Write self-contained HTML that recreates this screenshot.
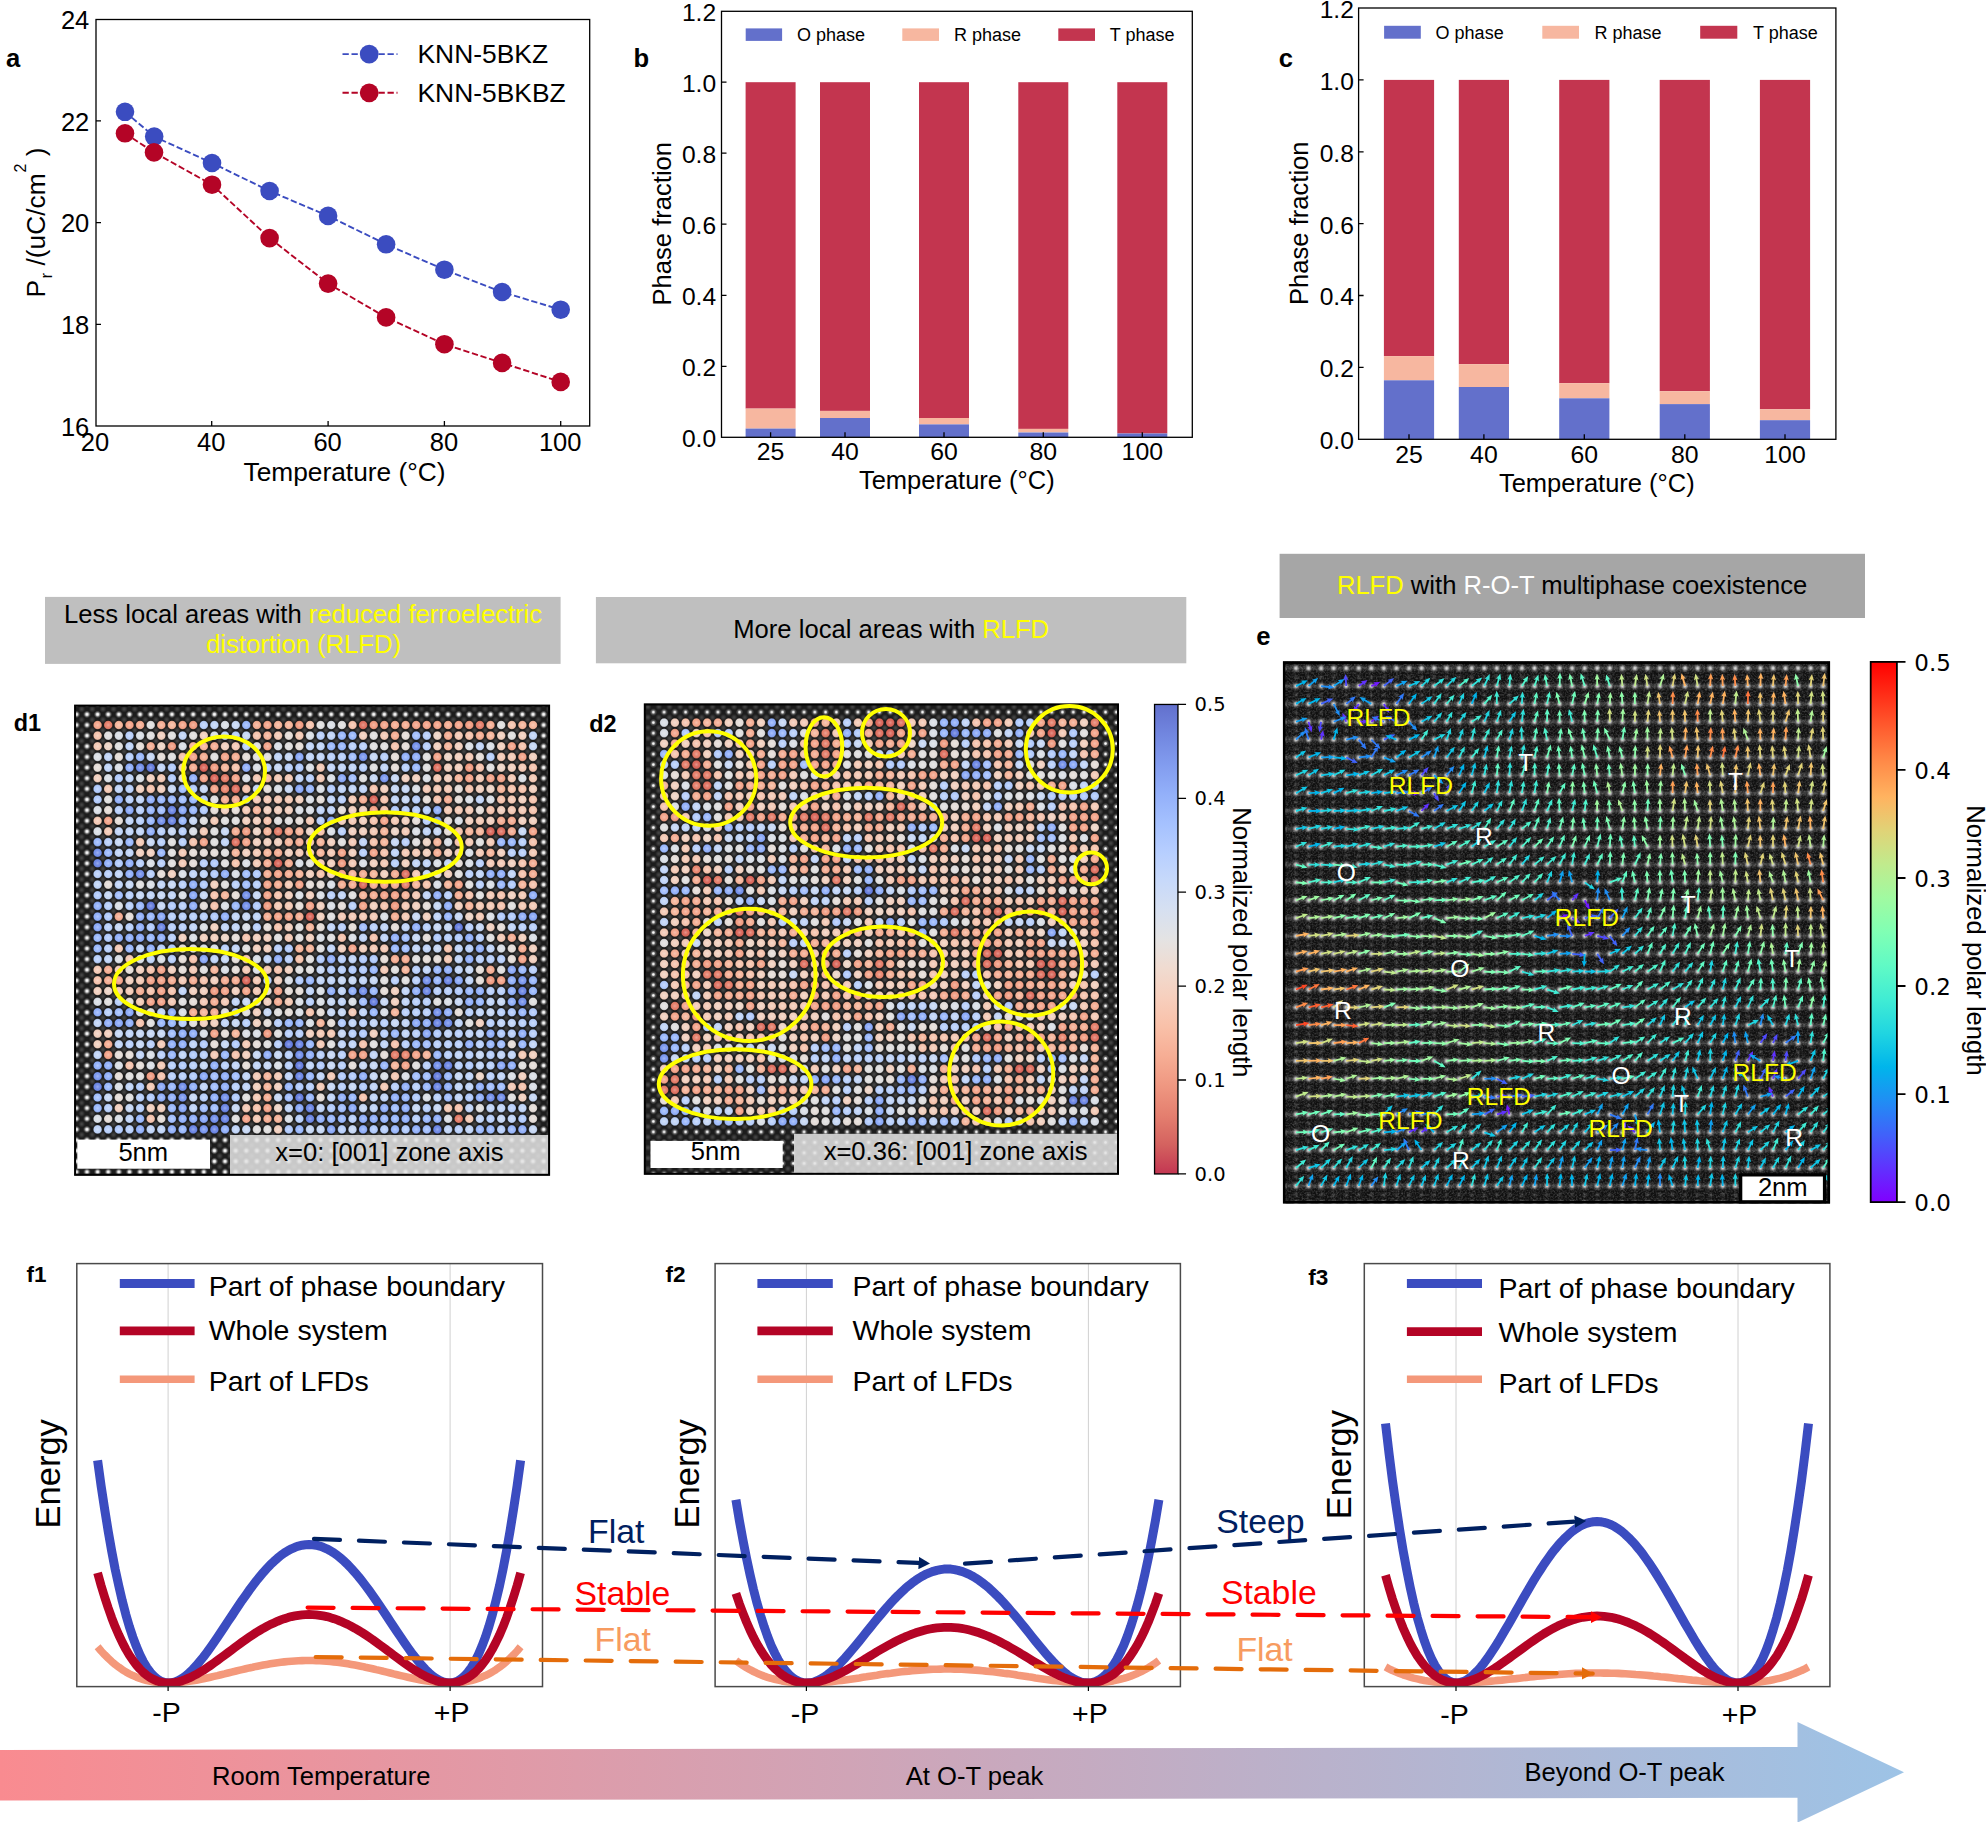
<!DOCTYPE html>
<html><head><meta charset="utf-8"><title>Figure</title>
<style>html,body{margin:0;padding:0;background:#fff}svg{display:block}text{font-family:"Liberation Sans", sans-serif;}</style></head>
<body><svg width="1986" height="1822" viewBox="0 0 1986 1822">
<rect width="1986" height="1822" fill="#fff"/>
<rect x="96.0" y="19.5" width="493.7" height="406.5" fill="none" stroke="#000" stroke-width="1.3"/>
<path d="M211.7 426.0v-5M328.1 426.0v-5M444.4 426.0v-5M560.7 426.0v-5M96.0 324.3h5M96.0 222.6h5M96.0 120.9h5" stroke="#000" stroke-width="1.3" fill="none"/>
<text x="94.9" y="450.5" font-size="25.5" text-anchor="middle">20</text>
<text x="211.2" y="450.5" font-size="25.5" text-anchor="middle">40</text>
<text x="327.6" y="450.5" font-size="25.5" text-anchor="middle">60</text>
<text x="443.9" y="450.5" font-size="25.5" text-anchor="middle">80</text>
<text x="560.2" y="450.5" font-size="25.5" text-anchor="middle">100</text>
<text x="89.3" y="435.7" font-size="25.5" text-anchor="end">16</text>
<text x="89.3" y="334.0" font-size="25.5" text-anchor="end">18</text>
<text x="89.3" y="232.3" font-size="25.5" text-anchor="end">20</text>
<text x="89.3" y="130.6" font-size="25.5" text-anchor="end">22</text>
<text x="89.3" y="28.9" font-size="25.5" text-anchor="end">24</text>
<path d="M125.0 111.8L154.2 136.6L212.0 163.0L269.6 191.0L328.1 215.9L386.1 244.3L444.4 269.7L502.1 292.0L560.7 309.7" stroke="#3b4cc0" stroke-width="1.9" stroke-dasharray="6.3 2.7" fill="none"/>
<circle cx="125.0" cy="111.8" r="9.3" fill="#3b4cc0"/>
<circle cx="154.2" cy="136.6" r="9.3" fill="#3b4cc0"/>
<circle cx="212.0" cy="163.0" r="9.3" fill="#3b4cc0"/>
<circle cx="269.6" cy="191.0" r="9.3" fill="#3b4cc0"/>
<circle cx="328.1" cy="215.9" r="9.3" fill="#3b4cc0"/>
<circle cx="386.1" cy="244.3" r="9.3" fill="#3b4cc0"/>
<circle cx="444.4" cy="269.7" r="9.3" fill="#3b4cc0"/>
<circle cx="502.1" cy="292.0" r="9.3" fill="#3b4cc0"/>
<circle cx="560.7" cy="309.7" r="9.3" fill="#3b4cc0"/>
<path d="M125.0 133.3L154.0 152.4L212.0 184.7L269.6 238.1L328.1 283.6L386.1 317.4L444.4 344.2L502.1 362.9L560.7 381.9" stroke="#b40426" stroke-width="1.9" stroke-dasharray="6.3 2.7" fill="none"/>
<circle cx="125.0" cy="133.3" r="9.3" fill="#b40426"/>
<circle cx="154.0" cy="152.4" r="9.3" fill="#b40426"/>
<circle cx="212.0" cy="184.7" r="9.3" fill="#b40426"/>
<circle cx="269.6" cy="238.1" r="9.3" fill="#b40426"/>
<circle cx="328.1" cy="283.6" r="9.3" fill="#b40426"/>
<circle cx="386.1" cy="317.4" r="9.3" fill="#b40426"/>
<circle cx="444.4" cy="344.2" r="9.3" fill="#b40426"/>
<circle cx="502.1" cy="362.9" r="9.3" fill="#b40426"/>
<circle cx="560.7" cy="381.9" r="9.3" fill="#b40426"/>
<path d="M342.5 54.1H397.5" stroke="#3b4cc0" stroke-width="1.9" stroke-dasharray="6.3 2.7"/>
<circle cx="369.2" cy="54.1" r="9.4" fill="#3b4cc0"/>
<text x="417.5" y="63.2" font-size="26.4">KNN-5BKZ</text>
<path d="M342.5 92.8H397.5" stroke="#b40426" stroke-width="1.9" stroke-dasharray="6.3 2.7"/>
<circle cx="369.2" cy="92.8" r="9.4" fill="#b40426"/>
<text x="417.5" y="101.9" font-size="26.4">KNN-5BKBZ</text>
<text x="344.5" y="480.8" font-size="26.3" text-anchor="middle">Temperature (°C)</text>
<text transform="translate(45.3 222.5) rotate(-90)" text-anchor="middle" font-size="26.3">P<tspan font-size="17" dy="7" dx="1.5">r</tspan><tspan dy="-7"> /(uC/cm</tspan><tspan font-size="16" dy="-19" dx="1">2</tspan><tspan dy="19"> )</tspan></text>
<text x="6.0" y="66.7" font-size="25.6" font-weight="bold">a</text>
<rect x="745.6" y="82.2" width="50" height="326.4" fill="#c3354f"/>
<rect x="745.6" y="408.6" width="50" height="20.0" fill="#f7b7a0"/>
<rect x="745.6" y="428.6" width="50" height="8.7" fill="#6370cb"/>
<rect x="820.0" y="82.2" width="50" height="328.7" fill="#c3354f"/>
<rect x="820.0" y="410.9" width="50" height="7.1" fill="#f7b7a0"/>
<rect x="820.0" y="418.0" width="50" height="19.3" fill="#6370cb"/>
<rect x="919.0" y="82.2" width="50" height="335.8" fill="#c3354f"/>
<rect x="919.0" y="418.0" width="50" height="6.4" fill="#f7b7a0"/>
<rect x="919.0" y="424.4" width="50" height="12.9" fill="#6370cb"/>
<rect x="1018.3" y="82.2" width="50" height="346.7" fill="#c3354f"/>
<rect x="1018.3" y="428.9" width="50" height="3.5" fill="#f7b7a0"/>
<rect x="1018.3" y="432.5" width="50" height="4.8" fill="#6370cb"/>
<rect x="1117.3" y="82.2" width="50" height="351.3" fill="#c3354f"/>
<rect x="1117.3" y="433.5" width="50" height="3.8" fill="#6370cb"/>
<rect x="721.5" y="11.3" width="470.8" height="426.0" fill="none" stroke="#000" stroke-width="1.3"/>
<path d="M770.6 437.3v-5M845.0 437.3v-5M944.0 437.3v-5M1043.3 437.3v-5M1142.3 437.3v-5M721.5 366.3h5M721.5 295.3h5M721.5 224.2h5M721.5 153.2h5M721.5 82.2h5" stroke="#000" stroke-width="1.3" fill="none"/>
<text x="770.6" y="460.2" font-size="24.8" text-anchor="middle">25</text>
<text x="845.0" y="460.2" font-size="24.8" text-anchor="middle">40</text>
<text x="944.0" y="460.2" font-size="24.8" text-anchor="middle">60</text>
<text x="1043.3" y="460.2" font-size="24.8" text-anchor="middle">80</text>
<text x="1142.3" y="460.2" font-size="24.8" text-anchor="middle">100</text>
<text x="716.1" y="447.1" font-size="24.6" text-anchor="end">0.0</text>
<text x="716.1" y="376.1" font-size="24.6" text-anchor="end">0.2</text>
<text x="716.1" y="305.1" font-size="24.6" text-anchor="end">0.4</text>
<text x="716.1" y="234.0" font-size="24.6" text-anchor="end">0.6</text>
<text x="716.1" y="163.0" font-size="24.6" text-anchor="end">0.8</text>
<text x="716.1" y="92.0" font-size="24.6" text-anchor="end">1.0</text>
<text x="716.1" y="21.0" font-size="24.6" text-anchor="end">1.2</text>
<rect x="745.7" y="28.4" width="36.4" height="12.5" fill="#6370cb"/>
<text x="796.9" y="41.2" font-size="18">O phase</text>
<rect x="902.3" y="28.4" width="36.7" height="12.5" fill="#f7b7a0"/>
<text x="953.9" y="41.2" font-size="18">R phase</text>
<rect x="1058.3" y="28.4" width="36.7" height="12.5" fill="#c3354f"/>
<text x="1109.8" y="41.2" font-size="18">T phase</text>
<text x="956.8" y="489.2" font-size="25.5" text-anchor="middle">Temperature (°C)</text>
<text x="671.2" y="223.7" font-size="25.6" text-anchor="middle" transform="rotate(-90 671.2 223.7)">Phase fraction</text>
<text x="633.5" y="66.7" font-size="25.6" font-weight="bold">b</text>
<rect x="1383.9" y="79.9" width="50.2" height="276.2" fill="#c3354f"/>
<rect x="1383.9" y="356.1" width="50.2" height="24.2" fill="#f7b7a0"/>
<rect x="1383.9" y="380.3" width="50.2" height="59.0" fill="#6370cb"/>
<rect x="1458.8" y="79.9" width="50.2" height="284.3" fill="#c3354f"/>
<rect x="1458.8" y="364.2" width="50.2" height="22.9" fill="#f7b7a0"/>
<rect x="1458.8" y="387.0" width="50.2" height="52.3" fill="#6370cb"/>
<rect x="1559.2" y="79.9" width="50.2" height="303.3" fill="#c3354f"/>
<rect x="1559.2" y="383.2" width="50.2" height="15.1" fill="#f7b7a0"/>
<rect x="1559.2" y="398.3" width="50.2" height="41.0" fill="#6370cb"/>
<rect x="1659.7" y="79.9" width="50.2" height="311.3" fill="#c3354f"/>
<rect x="1659.7" y="391.2" width="50.2" height="12.9" fill="#f7b7a0"/>
<rect x="1659.7" y="404.1" width="50.2" height="35.2" fill="#6370cb"/>
<rect x="1759.9" y="79.9" width="50.2" height="329.4" fill="#c3354f"/>
<rect x="1759.9" y="409.3" width="50.2" height="11.0" fill="#f7b7a0"/>
<rect x="1759.9" y="420.2" width="50.2" height="19.1" fill="#6370cb"/>
<rect x="1358.6" y="8.0" width="477.3" height="431.3" fill="none" stroke="#000" stroke-width="1.3"/>
<path d="M1409.0 439.3v-5M1483.9 439.3v-5M1584.3 439.3v-5M1684.8 439.3v-5M1785.0 439.3v-5M1358.6 367.4h5M1358.6 295.5h5M1358.6 223.7h5M1358.6 151.8h5M1358.6 79.9h5" stroke="#000" stroke-width="1.3" fill="none"/>
<text x="1409.0" y="462.5" font-size="24.8" text-anchor="middle">25</text>
<text x="1483.9" y="462.5" font-size="24.8" text-anchor="middle">40</text>
<text x="1584.3" y="462.5" font-size="24.8" text-anchor="middle">60</text>
<text x="1684.8" y="462.5" font-size="24.8" text-anchor="middle">80</text>
<text x="1785.0" y="462.5" font-size="24.8" text-anchor="middle">100</text>
<text x="1353.9" y="449.1" font-size="24.6" text-anchor="end">0.0</text>
<text x="1353.9" y="377.2" font-size="24.6" text-anchor="end">0.2</text>
<text x="1353.9" y="305.3" font-size="24.6" text-anchor="end">0.4</text>
<text x="1353.9" y="233.5" font-size="24.6" text-anchor="end">0.6</text>
<text x="1353.9" y="161.6" font-size="24.6" text-anchor="end">0.8</text>
<text x="1353.9" y="89.7" font-size="24.6" text-anchor="end">1.0</text>
<text x="1353.9" y="17.8" font-size="24.6" text-anchor="end">1.2</text>
<rect x="1384.1" y="25.8" width="36.7" height="12.9" fill="#6370cb"/>
<text x="1435.6" y="38.9" font-size="18">O phase</text>
<rect x="1542.3" y="25.8" width="36.7" height="12.9" fill="#f7b7a0"/>
<text x="1594.5" y="38.9" font-size="18">R phase</text>
<rect x="1700.2" y="25.8" width="37.1" height="12.9" fill="#c3354f"/>
<text x="1753.0" y="38.9" font-size="18">T phase</text>
<text x="1596.8" y="492.1" font-size="25.5" text-anchor="middle">Temperature (°C)</text>
<text x="1308.2" y="223.2" font-size="25.6" text-anchor="middle" transform="rotate(-90 1308.2 223.2)">Phase fraction</text>
<text x="1278.7" y="66.7" font-size="25.6" font-weight="bold">c</text>
<rect x="45" y="596.9" width="515.6" height="67" fill="#bfbfbf"/>
<text x="303.1" y="623.2" font-size="25.6" text-anchor="middle">Less local areas with <tspan fill="#ffff00">reduced ferroelectric</tspan></text>
<text x="303.5" y="652.6" font-size="25.6" text-anchor="middle" fill="#ffff00">distortion (RLFD)</text>
<rect x="595.9" y="597" width="590.4" height="66.3" fill="#bfbfbf"/>
<text x="891.2" y="638.3" font-size="25.6" text-anchor="middle">More local areas with <tspan fill="#ffff00">RLFD</tspan></text>
<rect x="1279.6" y="553.8" width="585.4" height="64.2" fill="#a6a6a6"/>
<text x="1572.1" y="593.8" font-size="25.6" text-anchor="middle"><tspan fill="#ffff00">RLFD</tspan> with <tspan fill="#fff">R-O-T</tspan> multiphase coexistence</text>
<text x="13.8" y="731.4" font-size="23.4" font-weight="bold">d1</text>
<text x="589.3" y="732.0" font-size="23.4" font-weight="bold">d2</text>
<text x="1256.2" y="645.0" font-size="25.6" font-weight="bold">e</text>
<path d="M168.1 1263.6V1686.6M450.1 1263.6V1686.6" stroke="#d0d0d0" stroke-width="1"/>
<clipPath id="clf1"><rect x="76.8" y="1263.6" width="465.7" height="423.0"/></clipPath>
<path d="M119.8 1283.4H194.6" stroke="#3b4cc0" stroke-width="9.0"/>
<text x="208.7" y="1295.7" font-size="28.5">Part of phase boundary</text>
<path d="M119.8 1330.9H194.6" stroke="#b40426" stroke-width="8.8"/>
<text x="208.7" y="1339.8" font-size="28.5">Whole system</text>
<path d="M119.8 1379.2H194.6" stroke="#f4987a" stroke-width="7.6"/>
<text x="208.7" y="1390.9" font-size="28.5">Part of LFDs</text>
<path d="M97.6 1646.8L101.1 1651.0L104.7 1654.8L108.2 1658.3L111.7 1661.6L115.2 1664.5L118.8 1667.2L122.3 1669.7L125.8 1671.9L129.3 1673.8L132.9 1675.6L136.4 1677.1L139.9 1678.4L143.4 1679.5L146.9 1680.5L150.5 1681.3L154.0 1681.9L157.5 1682.4L161.1 1682.7L164.6 1682.9L168.1 1683.0L171.6 1683.0L175.2 1682.8L178.7 1682.6L182.2 1682.2L185.7 1681.8L189.2 1681.3L192.8 1680.8L196.3 1680.2L199.8 1679.5L203.4 1678.8L206.9 1678.0L210.4 1677.2L213.9 1676.4L217.5 1675.6L221.0 1674.7L224.5 1673.9L228.0 1673.0L231.6 1672.1L235.1 1671.3L238.6 1670.4L242.1 1669.6L245.7 1668.7L249.2 1667.9L252.7 1667.2L256.2 1666.4L259.8 1665.7L263.3 1665.0L266.8 1664.4L270.3 1663.8L273.9 1663.2L277.4 1662.7L280.9 1662.3L284.4 1661.9L287.9 1661.5L291.5 1661.2L295.0 1661.0L298.5 1660.8L302.1 1660.6L305.6 1660.5L309.1 1660.5L312.6 1660.5L316.2 1660.6L319.7 1660.8L323.2 1661.0L326.7 1661.2L330.3 1661.5L333.8 1661.9L337.3 1662.3L340.8 1662.7L344.4 1663.2L347.9 1663.8L351.4 1664.4L354.9 1665.0L358.5 1665.7L362.0 1666.4L365.5 1667.2L369.0 1667.9L372.6 1668.7L376.1 1669.6L379.6 1670.4L383.1 1671.3L386.7 1672.1L390.2 1673.0L393.7 1673.9L397.2 1674.7L400.8 1675.6L404.3 1676.4L407.8 1677.2L411.3 1678.0L414.9 1678.8L418.4 1679.5L421.9 1680.2L425.4 1680.8L429.0 1681.3L432.5 1681.8L436.0 1682.2L439.5 1682.6L443.1 1682.8L446.6 1683.0L450.1 1683.0L453.6 1682.9L457.2 1682.7L460.7 1682.4L464.2 1681.9L467.7 1681.3L471.3 1680.5L474.8 1679.5L478.3 1678.4L481.8 1677.1L485.4 1675.6L488.9 1673.8L492.4 1671.9L495.9 1669.7L499.5 1667.2L503.0 1664.5L506.5 1661.6L510.0 1658.3L513.5 1654.8L517.1 1651.0L520.6 1646.8" stroke="#f4987a" stroke-width="7.6" fill="none" stroke-linejoin="round" clip-path="url(#clf1)"/>
<path d="M97.6 1460.3L101.1 1485.9L104.7 1509.5L108.2 1531.2L111.7 1551.1L115.2 1569.4L118.8 1585.9L122.3 1600.9L125.8 1614.4L129.3 1626.5L132.9 1637.2L136.4 1646.6L139.9 1654.8L143.4 1661.8L146.9 1667.6L150.5 1672.5L154.0 1676.3L157.5 1679.2L161.1 1681.3L164.6 1682.5L168.1 1683.0L171.6 1682.8L175.2 1681.9L178.7 1680.4L182.2 1678.3L185.7 1675.8L189.2 1672.8L192.8 1669.4L196.3 1665.6L199.8 1661.4L203.4 1657.0L206.9 1652.4L210.4 1647.5L213.9 1642.5L217.5 1637.3L221.0 1632.1L224.5 1626.8L228.0 1621.4L231.6 1616.1L235.1 1610.8L238.6 1605.5L242.1 1600.3L245.7 1595.3L249.2 1590.3L252.7 1585.6L256.2 1581.0L259.8 1576.6L263.3 1572.4L266.8 1568.5L270.3 1564.8L273.9 1561.4L277.4 1558.3L280.9 1555.4L284.4 1552.9L287.9 1550.7L291.5 1548.8L295.0 1547.3L298.5 1546.1L302.1 1545.2L305.6 1544.7L309.1 1544.5L312.6 1544.7L316.2 1545.2L319.7 1546.1L323.2 1547.3L326.7 1548.8L330.3 1550.7L333.8 1552.9L337.3 1555.4L340.8 1558.3L344.4 1561.4L347.9 1564.8L351.4 1568.5L354.9 1572.4L358.5 1576.6L362.0 1581.0L365.5 1585.6L369.0 1590.3L372.6 1595.3L376.1 1600.3L379.6 1605.5L383.1 1610.8L386.7 1616.1L390.2 1621.4L393.7 1626.8L397.2 1632.1L400.8 1637.3L404.3 1642.5L407.8 1647.5L411.3 1652.4L414.9 1657.0L418.4 1661.4L421.9 1665.6L425.4 1669.4L429.0 1672.8L432.5 1675.8L436.0 1678.3L439.5 1680.4L443.1 1681.9L446.6 1682.8L450.1 1683.0L453.6 1682.5L457.2 1681.3L460.7 1679.2L464.2 1676.3L467.7 1672.5L471.3 1667.6L474.8 1661.8L478.3 1654.8L481.8 1646.6L485.4 1637.2L488.9 1626.5L492.4 1614.4L495.9 1600.9L499.5 1585.9L503.0 1569.4L506.5 1551.1L510.0 1531.2L513.5 1509.5L517.1 1485.9L520.6 1460.3" stroke="#3b4cc0" stroke-width="9.0" fill="none" stroke-linejoin="round" clip-path="url(#clf1)"/>
<path d="M97.6 1572.9L101.1 1585.5L104.7 1597.2L108.2 1607.9L111.7 1617.8L115.2 1626.8L118.8 1635.0L122.3 1642.4L125.8 1649.1L129.3 1655.1L132.9 1660.4L136.4 1665.0L139.9 1669.0L143.4 1672.5L146.9 1675.4L150.5 1677.8L154.0 1679.7L157.5 1681.1L161.1 1682.2L164.6 1682.8L168.1 1683.0L171.6 1682.9L175.2 1682.4L178.7 1681.7L182.2 1680.7L185.7 1679.4L189.2 1677.9L192.8 1676.2L196.3 1674.4L199.8 1672.3L203.4 1670.2L206.9 1667.9L210.4 1665.5L213.9 1663.0L217.5 1660.4L221.0 1657.8L224.5 1655.2L228.0 1652.6L231.6 1649.9L235.1 1647.3L238.6 1644.7L242.1 1642.1L245.7 1639.6L249.2 1637.2L252.7 1634.8L256.2 1632.5L259.8 1630.4L263.3 1628.3L266.8 1626.4L270.3 1624.5L273.9 1622.9L277.4 1621.3L280.9 1619.9L284.4 1618.7L287.9 1617.6L291.5 1616.6L295.0 1615.9L298.5 1615.3L302.1 1614.8L305.6 1614.6L309.1 1614.5L312.6 1614.6L316.2 1614.8L319.7 1615.3L323.2 1615.9L326.7 1616.6L330.3 1617.6L333.8 1618.7L337.3 1619.9L340.8 1621.3L344.4 1622.9L347.9 1624.5L351.4 1626.4L354.9 1628.3L358.5 1630.4L362.0 1632.5L365.5 1634.8L369.0 1637.2L372.6 1639.6L376.1 1642.1L379.6 1644.7L383.1 1647.3L386.7 1649.9L390.2 1652.6L393.7 1655.2L397.2 1657.8L400.8 1660.4L404.3 1663.0L407.8 1665.5L411.3 1667.9L414.9 1670.2L418.4 1672.3L421.9 1674.4L425.4 1676.2L429.0 1677.9L432.5 1679.4L436.0 1680.7L439.5 1681.7L443.1 1682.4L446.6 1682.9L450.1 1683.0L453.6 1682.8L457.2 1682.2L460.7 1681.1L464.2 1679.7L467.7 1677.8L471.3 1675.4L474.8 1672.5L478.3 1669.0L481.8 1665.0L485.4 1660.4L488.9 1655.1L492.4 1649.1L495.9 1642.4L499.5 1635.0L503.0 1626.8L506.5 1617.8L510.0 1607.9L513.5 1597.2L517.1 1585.5L520.6 1572.9" stroke="#b40426" stroke-width="8.8" fill="none" stroke-linejoin="round" clip-path="url(#clf1)"/>
<rect x="76.8" y="1263.6" width="465.7" height="423.0" fill="none" stroke="#4a4a4a" stroke-width="1.5"/>
<path d="M168.1 1686.6v4.5M450.1 1686.6v4.5" stroke="#000" stroke-width="1.2"/>
<text x="166.6" y="1721.8" font-size="28.5" text-anchor="middle">-P</text>
<text x="451.6" y="1721.8" font-size="28.5" text-anchor="middle">+P</text>
<text x="59.9" y="1473.8" font-size="34.5" text-anchor="middle" transform="rotate(-90 59.9 1473.8)">Energy</text>
<text x="26.4" y="1282.3" font-size="22.5" font-weight="bold">f1</text>
<path d="M806.4 1263.6V1686.6M1088.4 1263.6V1686.6" stroke="#d0d0d0" stroke-width="1"/>
<clipPath id="clf2"><rect x="715.1" y="1263.6" width="465.3" height="423.0"/></clipPath>
<path d="M757.4 1283.4H832.8" stroke="#3b4cc0" stroke-width="9.0"/>
<text x="852.5" y="1295.7" font-size="28.5">Part of phase boundary</text>
<path d="M757.4 1330.9H832.8" stroke="#b40426" stroke-width="8.8"/>
<text x="852.5" y="1340.0" font-size="28.5">Whole system</text>
<path d="M757.4 1379.2H832.8" stroke="#f4987a" stroke-width="7.6"/>
<text x="852.5" y="1391.0" font-size="28.5">Part of LFDs</text>
<path d="M735.9 1660.5L739.4 1663.1L743.0 1665.5L746.5 1667.7L750.0 1669.7L753.5 1671.5L757.0 1673.2L760.6 1674.7L764.1 1676.1L767.6 1677.3L771.1 1678.4L774.7 1679.3L778.2 1680.1L781.7 1680.9L785.2 1681.4L788.8 1681.9L792.3 1682.3L795.8 1682.6L799.3 1682.8L802.9 1683.0L806.4 1683.0L809.9 1683.0L813.5 1682.9L817.0 1682.7L820.5 1682.5L824.0 1682.3L827.5 1682.0L831.1 1681.6L834.6 1681.2L838.1 1680.8L841.6 1680.4L845.2 1679.9L848.7 1679.4L852.2 1678.9L855.8 1678.4L859.3 1677.9L862.8 1677.3L866.3 1676.8L869.9 1676.2L873.4 1675.7L876.9 1675.2L880.4 1674.6L884.0 1674.1L887.5 1673.6L891.0 1673.2L894.5 1672.7L898.0 1672.2L901.6 1671.8L905.1 1671.4L908.6 1671.1L912.1 1670.7L915.7 1670.4L919.2 1670.1L922.7 1669.9L926.2 1669.6L929.8 1669.4L933.3 1669.3L936.8 1669.2L940.4 1669.1L943.9 1669.0L947.4 1669.0L950.9 1669.0L954.4 1669.1L958.0 1669.2L961.5 1669.3L965.0 1669.4L968.5 1669.6L972.1 1669.9L975.6 1670.1L979.1 1670.4L982.6 1670.7L986.2 1671.1L989.7 1671.4L993.2 1671.8L996.8 1672.2L1000.3 1672.7L1003.8 1673.2L1007.3 1673.6L1010.8 1674.1L1014.4 1674.6L1017.9 1675.2L1021.4 1675.7L1025.0 1676.2L1028.5 1676.8L1032.0 1677.3L1035.5 1677.9L1039.0 1678.4L1042.6 1678.9L1046.1 1679.4L1049.6 1679.9L1053.1 1680.4L1056.7 1680.8L1060.2 1681.2L1063.7 1681.6L1067.2 1682.0L1070.8 1682.3L1074.3 1682.5L1077.8 1682.7L1081.3 1682.9L1084.9 1683.0L1088.4 1683.0L1091.9 1683.0L1095.5 1682.8L1099.0 1682.6L1102.5 1682.3L1106.0 1681.9L1109.5 1681.4L1113.1 1680.9L1116.6 1680.1L1120.1 1679.3L1123.7 1678.4L1127.2 1677.3L1130.7 1676.1L1134.2 1674.7L1137.8 1673.2L1141.3 1671.5L1144.8 1669.7L1148.3 1667.7L1151.8 1665.5L1155.4 1663.1L1158.9 1660.5" stroke="#f4987a" stroke-width="7.6" fill="none" stroke-linejoin="round" clip-path="url(#clf2)"/>
<path d="M735.9 1499.7L739.4 1520.7L743.0 1540.2L746.5 1558.1L750.0 1574.5L753.5 1589.5L757.0 1603.1L760.6 1615.5L764.1 1626.6L767.6 1636.5L771.1 1645.3L774.7 1653.0L778.2 1659.8L781.7 1665.5L785.2 1670.4L788.8 1674.3L792.3 1677.5L795.8 1679.9L799.3 1681.6L802.9 1682.6L806.4 1683.0L809.9 1682.8L813.5 1682.1L817.0 1680.8L820.5 1679.2L824.0 1677.1L827.5 1674.6L831.1 1671.8L834.6 1668.6L838.1 1665.3L841.6 1661.6L845.2 1657.8L848.7 1653.8L852.2 1649.7L855.8 1645.4L859.3 1641.1L862.8 1636.7L866.3 1632.3L869.9 1627.9L873.4 1623.5L876.9 1619.2L880.4 1615.0L884.0 1610.8L887.5 1606.7L891.0 1602.8L894.5 1599.0L898.0 1595.4L901.6 1592.0L905.1 1588.7L908.6 1585.7L912.1 1582.9L915.7 1580.3L919.2 1578.0L922.7 1575.9L926.2 1574.1L929.8 1572.6L933.3 1571.3L936.8 1570.3L940.4 1569.6L943.9 1569.1L947.4 1569.0L950.9 1569.1L954.4 1569.6L958.0 1570.3L961.5 1571.3L965.0 1572.6L968.5 1574.1L972.1 1575.9L975.6 1578.0L979.1 1580.3L982.6 1582.9L986.2 1585.7L989.7 1588.7L993.2 1592.0L996.8 1595.4L1000.3 1599.0L1003.8 1602.8L1007.3 1606.7L1010.8 1610.8L1014.4 1615.0L1017.9 1619.2L1021.4 1623.5L1025.0 1627.9L1028.5 1632.3L1032.0 1636.7L1035.5 1641.1L1039.0 1645.4L1042.6 1649.7L1046.1 1653.8L1049.6 1657.8L1053.1 1661.6L1056.7 1665.3L1060.2 1668.6L1063.7 1671.8L1067.2 1674.6L1070.8 1677.1L1074.3 1679.2L1077.8 1680.8L1081.3 1682.1L1084.9 1682.8L1088.4 1683.0L1091.9 1682.6L1095.5 1681.6L1099.0 1679.9L1102.5 1677.5L1106.0 1674.3L1109.5 1670.4L1113.1 1665.5L1116.6 1659.8L1120.1 1653.0L1123.7 1645.3L1127.2 1636.5L1130.7 1626.6L1134.2 1615.5L1137.8 1603.1L1141.3 1589.5L1144.8 1574.5L1148.3 1558.1L1151.8 1540.2L1155.4 1520.7L1158.9 1499.7" stroke="#3b4cc0" stroke-width="9.0" fill="none" stroke-linejoin="round" clip-path="url(#clf2)"/>
<path d="M735.9 1593.4L739.4 1603.7L743.0 1613.2L746.5 1622.0L750.0 1630.0L753.5 1637.3L757.0 1644.0L760.6 1650.0L764.1 1655.4L767.6 1660.3L771.1 1664.6L774.7 1668.4L778.2 1671.6L781.7 1674.5L785.2 1676.8L788.8 1678.8L792.3 1680.3L795.8 1681.5L799.3 1682.3L802.9 1682.8L806.4 1683.0L809.9 1682.9L813.5 1682.5L817.0 1681.9L820.5 1681.1L824.0 1680.1L827.5 1678.9L831.1 1677.5L834.6 1676.0L838.1 1674.3L841.6 1672.6L845.2 1670.7L848.7 1668.7L852.2 1666.7L855.8 1664.6L859.3 1662.5L862.8 1660.4L866.3 1658.2L869.9 1656.1L873.4 1654.0L876.9 1651.8L880.4 1649.8L884.0 1647.7L887.5 1645.7L891.0 1643.8L894.5 1642.0L898.0 1640.2L901.6 1638.5L905.1 1636.9L908.6 1635.5L912.1 1634.1L915.7 1632.8L919.2 1631.7L922.7 1630.7L926.2 1629.8L929.8 1629.0L933.3 1628.4L936.8 1627.9L940.4 1627.6L943.9 1627.4L947.4 1627.3L950.9 1627.4L954.4 1627.6L958.0 1627.9L961.5 1628.4L965.0 1629.0L968.5 1629.8L972.1 1630.7L975.6 1631.7L979.1 1632.8L982.6 1634.1L986.2 1635.5L989.7 1636.9L993.2 1638.5L996.8 1640.2L1000.3 1642.0L1003.8 1643.8L1007.3 1645.7L1010.8 1647.7L1014.4 1649.8L1017.9 1651.8L1021.4 1654.0L1025.0 1656.1L1028.5 1658.2L1032.0 1660.4L1035.5 1662.5L1039.0 1664.6L1042.6 1666.7L1046.1 1668.7L1049.6 1670.7L1053.1 1672.6L1056.7 1674.3L1060.2 1676.0L1063.7 1677.5L1067.2 1678.9L1070.8 1680.1L1074.3 1681.1L1077.8 1681.9L1081.3 1682.5L1084.9 1682.9L1088.4 1683.0L1091.9 1682.8L1095.5 1682.3L1099.0 1681.5L1102.5 1680.3L1106.0 1678.8L1109.5 1676.8L1113.1 1674.5L1116.6 1671.6L1120.1 1668.4L1123.7 1664.6L1127.2 1660.3L1130.7 1655.4L1134.2 1650.0L1137.8 1644.0L1141.3 1637.3L1144.8 1630.0L1148.3 1622.0L1151.8 1613.2L1155.4 1603.7L1158.9 1593.4" stroke="#b40426" stroke-width="8.8" fill="none" stroke-linejoin="round" clip-path="url(#clf2)"/>
<rect x="715.1" y="1263.6" width="465.3" height="423.0" fill="none" stroke="#4a4a4a" stroke-width="1.5"/>
<path d="M806.4 1686.6v4.5M1088.4 1686.6v4.5" stroke="#000" stroke-width="1.2"/>
<text x="804.9" y="1722.5" font-size="28.5" text-anchor="middle">-P</text>
<text x="1089.9" y="1722.5" font-size="28.5" text-anchor="middle">+P</text>
<text x="698.9" y="1473.8" font-size="34.5" text-anchor="middle" transform="rotate(-90 698.9 1473.8)">Energy</text>
<text x="665.4" y="1282.3" font-size="22.5" font-weight="bold">f2</text>
<path d="M1456.0 1263.6V1686.6M1738.0 1263.6V1686.6" stroke="#d0d0d0" stroke-width="1"/>
<clipPath id="clf3"><rect x="1364.3" y="1263.6" width="465.6" height="423.0"/></clipPath>
<path d="M1406.9 1283.4H1482" stroke="#3b4cc0" stroke-width="9.0"/>
<text x="1498.5" y="1298.2" font-size="28.5">Part of phase boundary</text>
<path d="M1406.9 1331.6H1482" stroke="#b40426" stroke-width="8.8"/>
<text x="1498.5" y="1342.2" font-size="28.5">Whole system</text>
<path d="M1406.9 1379.2H1482" stroke="#f4987a" stroke-width="7.6"/>
<text x="1498.5" y="1393.3" font-size="28.5">Part of LFDs</text>
<path d="M1385.5 1666.9L1389.0 1668.8L1392.5 1670.5L1396.1 1672.0L1399.6 1673.5L1403.1 1674.8L1406.7 1676.0L1410.2 1677.1L1413.7 1678.1L1417.2 1678.9L1420.8 1679.7L1424.3 1680.4L1427.8 1681.0L1431.3 1681.5L1434.8 1681.9L1438.4 1682.2L1441.9 1682.5L1445.4 1682.7L1449.0 1682.9L1452.5 1683.0L1456.0 1683.0L1459.5 1683.0L1463.0 1682.9L1466.6 1682.8L1470.1 1682.7L1473.6 1682.5L1477.2 1682.3L1480.7 1682.0L1484.2 1681.7L1487.7 1681.4L1491.2 1681.1L1494.8 1680.8L1498.3 1680.4L1501.8 1680.1L1505.3 1679.7L1508.9 1679.3L1512.4 1678.9L1515.9 1678.6L1519.5 1678.2L1523.0 1677.8L1526.5 1677.4L1530.0 1677.0L1533.5 1676.7L1537.1 1676.3L1540.6 1676.0L1544.1 1675.6L1547.7 1675.3L1551.2 1675.0L1554.7 1674.7L1558.2 1674.5L1561.8 1674.2L1565.3 1674.0L1568.8 1673.8L1572.3 1673.6L1575.8 1673.4L1579.4 1673.3L1582.9 1673.2L1586.4 1673.1L1590.0 1673.1L1593.5 1673.0L1597.0 1673.0L1600.5 1673.0L1604.0 1673.1L1607.6 1673.1L1611.1 1673.2L1614.6 1673.3L1618.2 1673.4L1621.7 1673.6L1625.2 1673.8L1628.7 1674.0L1632.2 1674.2L1635.8 1674.5L1639.3 1674.7L1642.8 1675.0L1646.3 1675.3L1649.9 1675.6L1653.4 1676.0L1656.9 1676.3L1660.5 1676.7L1664.0 1677.0L1667.5 1677.4L1671.0 1677.8L1674.5 1678.2L1678.1 1678.6L1681.6 1678.9L1685.1 1679.3L1688.7 1679.7L1692.2 1680.1L1695.7 1680.4L1699.2 1680.8L1702.8 1681.1L1706.3 1681.4L1709.8 1681.7L1713.3 1682.0L1716.8 1682.3L1720.4 1682.5L1723.9 1682.7L1727.4 1682.8L1731.0 1682.9L1734.5 1683.0L1738.0 1683.0L1741.5 1683.0L1745.0 1682.9L1748.6 1682.7L1752.1 1682.5L1755.6 1682.2L1759.2 1681.9L1762.7 1681.5L1766.2 1681.0L1769.7 1680.4L1773.2 1679.7L1776.8 1678.9L1780.3 1678.1L1783.8 1677.1L1787.4 1676.0L1790.9 1674.8L1794.4 1673.5L1797.9 1672.0L1801.5 1670.5L1805.0 1668.8L1808.5 1666.9" stroke="#f4987a" stroke-width="7.6" fill="none" stroke-linejoin="round" clip-path="url(#clf3)"/>
<path d="M1385.5 1423.5L1389.0 1453.3L1392.5 1480.8L1396.1 1506.1L1399.6 1529.3L1403.1 1550.6L1406.7 1569.9L1410.2 1587.4L1413.7 1603.1L1417.2 1617.2L1420.8 1629.6L1424.3 1640.6L1427.8 1650.1L1431.3 1658.2L1434.8 1665.1L1438.4 1670.7L1441.9 1675.2L1445.4 1678.6L1449.0 1681.0L1452.5 1682.4L1456.0 1683.0L1459.5 1682.7L1463.0 1681.7L1466.6 1679.9L1470.1 1677.6L1473.6 1674.6L1477.2 1671.1L1480.7 1667.1L1484.2 1662.7L1487.7 1657.9L1491.2 1652.7L1494.8 1647.3L1498.3 1641.7L1501.8 1635.8L1505.3 1629.8L1508.9 1623.7L1512.4 1617.5L1515.9 1611.3L1519.5 1605.0L1523.0 1598.8L1526.5 1592.7L1530.0 1586.7L1533.5 1580.8L1537.1 1575.0L1540.6 1569.5L1544.1 1564.1L1547.7 1559.0L1551.2 1554.1L1554.7 1549.6L1558.2 1545.3L1561.8 1541.3L1565.3 1537.7L1568.8 1534.4L1572.3 1531.4L1575.8 1528.8L1579.4 1526.6L1582.9 1524.8L1586.4 1523.4L1590.0 1522.4L1593.5 1521.8L1597.0 1521.6L1600.5 1521.8L1604.0 1522.4L1607.6 1523.4L1611.1 1524.8L1614.6 1526.6L1618.2 1528.8L1621.7 1531.4L1625.2 1534.4L1628.7 1537.7L1632.2 1541.3L1635.8 1545.3L1639.3 1549.6L1642.8 1554.1L1646.3 1559.0L1649.9 1564.1L1653.4 1569.5L1656.9 1575.0L1660.5 1580.8L1664.0 1586.7L1667.5 1592.7L1671.0 1598.8L1674.5 1605.0L1678.1 1611.3L1681.6 1617.5L1685.1 1623.7L1688.7 1629.8L1692.2 1635.8L1695.7 1641.7L1699.2 1647.3L1702.8 1652.7L1706.3 1657.9L1709.8 1662.7L1713.3 1667.1L1716.8 1671.1L1720.4 1674.6L1723.9 1677.6L1727.4 1679.9L1731.0 1681.7L1734.5 1682.7L1738.0 1683.0L1741.5 1682.4L1745.0 1681.0L1748.6 1678.6L1752.1 1675.2L1755.6 1670.7L1759.2 1665.1L1762.7 1658.2L1766.2 1650.1L1769.7 1640.6L1773.2 1629.6L1776.8 1617.2L1780.3 1603.1L1783.8 1587.4L1787.4 1569.9L1790.9 1550.6L1794.4 1529.3L1797.9 1506.1L1801.5 1480.8L1805.0 1453.3L1808.5 1423.5" stroke="#3b4cc0" stroke-width="9.0" fill="none" stroke-linejoin="round" clip-path="url(#clf3)"/>
<path d="M1385.5 1575.3L1389.0 1587.6L1392.5 1599.1L1396.1 1609.6L1399.6 1619.2L1403.1 1628.0L1406.7 1636.0L1410.2 1643.3L1413.7 1649.8L1417.2 1655.7L1420.8 1660.8L1424.3 1665.4L1427.8 1669.3L1431.3 1672.7L1434.8 1675.6L1438.4 1677.9L1441.9 1679.8L1445.4 1681.2L1449.0 1682.2L1452.5 1682.8L1456.0 1683.0L1459.5 1682.9L1463.0 1682.5L1466.6 1681.7L1470.1 1680.7L1473.6 1679.5L1477.2 1678.1L1480.7 1676.4L1484.2 1674.6L1487.7 1672.6L1491.2 1670.4L1494.8 1668.2L1498.3 1665.8L1501.8 1663.4L1505.3 1660.9L1508.9 1658.4L1512.4 1655.8L1515.9 1653.2L1519.5 1650.6L1523.0 1648.1L1526.5 1645.5L1530.0 1643.0L1533.5 1640.6L1537.1 1638.2L1540.6 1635.9L1544.1 1633.6L1547.7 1631.5L1551.2 1629.5L1554.7 1627.6L1558.2 1625.8L1561.8 1624.2L1565.3 1622.7L1568.8 1621.3L1572.3 1620.1L1575.8 1619.0L1579.4 1618.1L1582.9 1617.3L1586.4 1616.8L1590.0 1616.3L1593.5 1616.1L1597.0 1616.0L1600.5 1616.1L1604.0 1616.3L1607.6 1616.8L1611.1 1617.3L1614.6 1618.1L1618.2 1619.0L1621.7 1620.1L1625.2 1621.3L1628.7 1622.7L1632.2 1624.2L1635.8 1625.8L1639.3 1627.6L1642.8 1629.5L1646.3 1631.5L1649.9 1633.6L1653.4 1635.9L1656.9 1638.2L1660.5 1640.6L1664.0 1643.0L1667.5 1645.5L1671.0 1648.1L1674.5 1650.6L1678.1 1653.2L1681.6 1655.8L1685.1 1658.4L1688.7 1660.9L1692.2 1663.4L1695.7 1665.8L1699.2 1668.2L1702.8 1670.4L1706.3 1672.6L1709.8 1674.6L1713.3 1676.4L1716.8 1678.1L1720.4 1679.5L1723.9 1680.7L1727.4 1681.7L1731.0 1682.5L1734.5 1682.9L1738.0 1683.0L1741.5 1682.8L1745.0 1682.2L1748.6 1681.2L1752.1 1679.8L1755.6 1677.9L1759.2 1675.6L1762.7 1672.7L1766.2 1669.3L1769.7 1665.4L1773.2 1660.8L1776.8 1655.7L1780.3 1649.8L1783.8 1643.3L1787.4 1636.0L1790.9 1628.0L1794.4 1619.2L1797.9 1609.6L1801.5 1599.1L1805.0 1587.6L1808.5 1575.3" stroke="#b40426" stroke-width="8.8" fill="none" stroke-linejoin="round" clip-path="url(#clf3)"/>
<rect x="1364.3" y="1263.6" width="465.6" height="423.0" fill="none" stroke="#4a4a4a" stroke-width="1.5"/>
<path d="M1456.0 1686.6v4.5M1738.0 1686.6v4.5" stroke="#000" stroke-width="1.2"/>
<text x="1454.5" y="1723.8" font-size="28.5" text-anchor="middle">-P</text>
<text x="1739.5" y="1723.8" font-size="28.5" text-anchor="middle">+P</text>
<text x="1350.9" y="1464.7" font-size="34.5" text-anchor="middle" transform="rotate(-90 1350.9 1464.7)">Energy</text>
<text x="1308.2" y="1285.0" font-size="22.5" font-weight="bold">f3</text>
<defs><marker id="mn" viewBox="0 0 10 10" refX="9.5" refY="5" markerWidth="11.5" markerHeight="12.4" markerUnits="userSpaceOnUse" preserveAspectRatio="none" orient="auto"><path d="M0 0L10 5L0 10z" fill="#002060"/></marker><marker id="mr" viewBox="0 0 10 10" refX="9.5" refY="5" markerWidth="11.5" markerHeight="12.4" markerUnits="userSpaceOnUse" preserveAspectRatio="none" orient="auto"><path d="M0 0L10 5L0 10z" fill="#ff0000"/></marker><marker id="mo" viewBox="0 0 10 10" refX="9.5" refY="5" markerWidth="11.5" markerHeight="12.4" markerUnits="userSpaceOnUse" preserveAspectRatio="none" orient="auto"><path d="M0 0L10 5L0 10z" fill="#e46c0a"/></marker></defs>
<path d="M314 1538.9L929.5 1563.4" stroke="#002060" stroke-dasharray="26 19" stroke-linecap="round" stroke-width="4.2" fill="none" marker-end="url(#mn)"/>
<path d="M965 1563.6L1585.6 1520.9" stroke="#002060" stroke-dasharray="26 19" stroke-linecap="round" stroke-width="4.2" fill="none" marker-end="url(#mn)"/>
<path d="M307.6 1607.6L1601.5 1617.2" stroke="#ff0000" stroke-dasharray="26 19" stroke-linecap="round" stroke-width="4.2" fill="none" marker-end="url(#mr)"/>
<path d="M315.7 1657L1592.7 1673.6" stroke="#e46c0a" stroke-dasharray="26 19" stroke-linecap="round" stroke-width="4.2" fill="none" marker-end="url(#mo)"/>
<text x="588.0" y="1543.0" font-size="33.8" fill="#002060">Flat</text>
<text x="574.5" y="1604.8" font-size="33.8" fill="#ff0000">Stable</text>
<text x="594.6" y="1650.6" font-size="33.8" fill="#f79b60">Flat</text>
<text x="1216.3" y="1533.3" font-size="33.8" fill="#002060">Steep</text>
<text x="1220.9" y="1603.8" font-size="33.8" fill="#ff0000">Stable</text>
<text x="1236.4" y="1661.2" font-size="33.8" fill="#f79b60">Flat</text>
<defs><linearGradient id="ga" x1="0" x2="1904" y1="0" y2="0" gradientUnits="userSpaceOnUse"><stop offset="0" stop-color="#f98b90"/><stop offset="1" stop-color="#9dc3e6"/></linearGradient></defs>
<path d="M0 1750L1797.5 1747V1722L1904 1772.3L1797.5 1822.6V1797.8L0 1800.6z" fill="url(#ga)"/>
<text x="321.3" y="1784.6" font-size="25.6" text-anchor="middle">Room Temperature</text>
<text x="974.5" y="1784.6" font-size="25.6" text-anchor="middle">At O-T peak</text>
<text x="1624.6" y="1781.0" font-size="25.6" text-anchor="middle">Beyond O-T peak</text>
<defs><radialGradient id="gad1"><stop offset="0" stop-color="#fff"/><stop offset="0.34" stop-color="#f4f4f4" stop-opacity="0.95"/><stop offset="0.7" stop-color="#ccc" stop-opacity="0.35"/><stop offset="1" stop-color="#fff" stop-opacity="0"/></radialGradient><radialGradient id="gbd1"><stop offset="0" stop-color="#fff" stop-opacity="0.22"/><stop offset="1" stop-color="#fff" stop-opacity="0"/></radialGradient><pattern id="ptd1" x="92.29" y="719.68" width="10.62" height="10.642" patternUnits="userSpaceOnUse"><circle cx="5.31" cy="5.32" r="3.6" fill="url(#gad1)"/><circle cx="0" cy="0" r="3.4" fill="url(#gbd1)"/><circle cx="10.62" cy="0" r="3.4" fill="url(#gbd1)"/><circle cx="0" cy="10.642" r="3.4" fill="url(#gbd1)"/><circle cx="10.62" cy="10.642" r="3.4" fill="url(#gbd1)"/></pattern></defs>
<rect x="74.5" y="705" width="475.2" height="470.4" fill="#1c1c1c"/>
<rect x="74.5" y="705" width="475.2" height="470.4" fill="url(#ptd1)"/>
<g stroke="#000" stroke-opacity="0.35" stroke-width="0.6">
<path d="M146.4 767.6a4.3 4.3 0 1 0 8.6 0a4.3 4.3 0 1 0-8.6 0M146.4 905.9a4.3 4.3 0 1 0 8.6 0a4.3 4.3 0 1 0-8.6 0M454.4 927.2a4.3 4.3 0 1 0 8.6 0a4.3 4.3 0 1 0-8.6 0M369.4 1001.7a4.3 4.3 0 1 0 8.6 0a4.3 4.3 0 1 0-8.6 0M284.5 1044.3a4.3 4.3 0 1 0 8.6 0a4.3 4.3 0 1 0-8.6 0M295.1 1065.5a4.3 4.3 0 1 0 8.6 0a4.3 4.3 0 1 0-8.6 0M433.1 1076.2a4.3 4.3 0 1 0 8.6 0a4.3 4.3 0 1 0-8.6 0M295.1 1097.5a4.3 4.3 0 1 0 8.6 0a4.3 4.3 0 1 0-8.6 0" fill="#677edd"/>
<path d="M167.6 810.1a4.3 4.3 0 1 0 8.6 0a4.3 4.3 0 1 0-8.6 0M167.6 820.8a4.3 4.3 0 1 0 8.6 0a4.3 4.3 0 1 0-8.6 0M93.3 863.3a4.3 4.3 0 1 0 8.6 0a4.3 4.3 0 1 0-8.6 0M157.0 927.2a4.3 4.3 0 1 0 8.6 0a4.3 4.3 0 1 0-8.6 0M443.8 980.4a4.3 4.3 0 1 0 8.6 0a4.3 4.3 0 1 0-8.6 0M422.5 991.0a4.3 4.3 0 1 0 8.6 0a4.3 4.3 0 1 0-8.6 0M518.1 991.0a4.3 4.3 0 1 0 8.6 0a4.3 4.3 0 1 0-8.6 0M433.1 1023.0a4.3 4.3 0 1 0 8.6 0a4.3 4.3 0 1 0-8.6 0M295.1 1044.3a4.3 4.3 0 1 0 8.6 0a4.3 4.3 0 1 0-8.6 0M443.8 1065.5a4.3 4.3 0 1 0 8.6 0a4.3 4.3 0 1 0-8.6 0M295.1 1076.2a4.3 4.3 0 1 0 8.6 0a4.3 4.3 0 1 0-8.6 0M93.3 1086.8a4.3 4.3 0 1 0 8.6 0a4.3 4.3 0 1 0-8.6 0M433.1 1086.8a4.3 4.3 0 1 0 8.6 0a4.3 4.3 0 1 0-8.6 0M220.7 1108.1a4.3 4.3 0 1 0 8.6 0a4.3 4.3 0 1 0-8.6 0M305.7 1108.1a4.3 4.3 0 1 0 8.6 0a4.3 4.3 0 1 0-8.6 0M220.7 1118.8a4.3 4.3 0 1 0 8.6 0a4.3 4.3 0 1 0-8.6 0M305.7 1118.8a4.3 4.3 0 1 0 8.6 0a4.3 4.3 0 1 0-8.6 0M188.9 1129.4a4.3 4.3 0 1 0 8.6 0a4.3 4.3 0 1 0-8.6 0M210.1 1129.4a4.3 4.3 0 1 0 8.6 0a4.3 4.3 0 1 0-8.6 0M433.1 1129.4a4.3 4.3 0 1 0 8.6 0a4.3 4.3 0 1 0-8.6 0" fill="#6d87e4"/>
<path d="M411.9 746.3a4.3 4.3 0 1 0 8.6 0a4.3 4.3 0 1 0-8.6 0M135.8 767.6a4.3 4.3 0 1 0 8.6 0a4.3 4.3 0 1 0-8.6 0M157.0 820.8a4.3 4.3 0 1 0 8.6 0a4.3 4.3 0 1 0-8.6 0M93.3 852.7a4.3 4.3 0 1 0 8.6 0a4.3 4.3 0 1 0-8.6 0M135.8 874.0a4.3 4.3 0 1 0 8.6 0a4.3 4.3 0 1 0-8.6 0M242.0 895.3a4.3 4.3 0 1 0 8.6 0a4.3 4.3 0 1 0-8.6 0M242.0 905.9a4.3 4.3 0 1 0 8.6 0a4.3 4.3 0 1 0-8.6 0M422.5 980.4a4.3 4.3 0 1 0 8.6 0a4.3 4.3 0 1 0-8.6 0M358.8 991.0a4.3 4.3 0 1 0 8.6 0a4.3 4.3 0 1 0-8.6 0M518.1 1001.7a4.3 4.3 0 1 0 8.6 0a4.3 4.3 0 1 0-8.6 0M433.1 1012.3a4.3 4.3 0 1 0 8.6 0a4.3 4.3 0 1 0-8.6 0M443.8 1023.0a4.3 4.3 0 1 0 8.6 0a4.3 4.3 0 1 0-8.6 0M295.1 1054.9a4.3 4.3 0 1 0 8.6 0a4.3 4.3 0 1 0-8.6 0M433.1 1065.5a4.3 4.3 0 1 0 8.6 0a4.3 4.3 0 1 0-8.6 0M178.3 1086.8a4.3 4.3 0 1 0 8.6 0a4.3 4.3 0 1 0-8.6 0M220.7 1097.5a4.3 4.3 0 1 0 8.6 0a4.3 4.3 0 1 0-8.6 0M486.2 1097.5a4.3 4.3 0 1 0 8.6 0a4.3 4.3 0 1 0-8.6 0M496.9 1097.5a4.3 4.3 0 1 0 8.6 0a4.3 4.3 0 1 0-8.6 0M210.1 1118.8a4.3 4.3 0 1 0 8.6 0a4.3 4.3 0 1 0-8.6 0" fill="#7591ea"/>
<path d="M358.8 756.9a4.3 4.3 0 1 0 8.6 0a4.3 4.3 0 1 0-8.6 0M380.0 778.2a4.3 4.3 0 1 0 8.6 0a4.3 4.3 0 1 0-8.6 0M518.1 980.4a4.3 4.3 0 1 0 8.6 0a4.3 4.3 0 1 0-8.6 0M93.3 1076.2a4.3 4.3 0 1 0 8.6 0a4.3 4.3 0 1 0-8.6 0M178.3 1097.5a4.3 4.3 0 1 0 8.6 0a4.3 4.3 0 1 0-8.6 0M199.5 1129.4a4.3 4.3 0 1 0 8.6 0a4.3 4.3 0 1 0-8.6 0" fill="#7c99ef"/>
<path d="M295.1 756.9a4.3 4.3 0 1 0 8.6 0a4.3 4.3 0 1 0-8.6 0M337.6 778.2a4.3 4.3 0 1 0 8.6 0a4.3 4.3 0 1 0-8.6 0M295.1 788.9a4.3 4.3 0 1 0 8.6 0a4.3 4.3 0 1 0-8.6 0M125.2 810.1a4.3 4.3 0 1 0 8.6 0a4.3 4.3 0 1 0-8.6 0M178.3 810.1a4.3 4.3 0 1 0 8.6 0a4.3 4.3 0 1 0-8.6 0M326.9 820.8a4.3 4.3 0 1 0 8.6 0a4.3 4.3 0 1 0-8.6 0M433.1 820.8a4.3 4.3 0 1 0 8.6 0a4.3 4.3 0 1 0-8.6 0M188.9 895.3a4.3 4.3 0 1 0 8.6 0a4.3 4.3 0 1 0-8.6 0M157.0 916.6a4.3 4.3 0 1 0 8.6 0a4.3 4.3 0 1 0-8.6 0M528.7 916.6a4.3 4.3 0 1 0 8.6 0a4.3 4.3 0 1 0-8.6 0M93.3 927.2a4.3 4.3 0 1 0 8.6 0a4.3 4.3 0 1 0-8.6 0M135.8 937.8a4.3 4.3 0 1 0 8.6 0a4.3 4.3 0 1 0-8.6 0M199.5 959.1a4.3 4.3 0 1 0 8.6 0a4.3 4.3 0 1 0-8.6 0M507.5 969.8a4.3 4.3 0 1 0 8.6 0a4.3 4.3 0 1 0-8.6 0M454.4 980.4a4.3 4.3 0 1 0 8.6 0a4.3 4.3 0 1 0-8.6 0M125.2 1012.3a4.3 4.3 0 1 0 8.6 0a4.3 4.3 0 1 0-8.6 0M114.5 1023.0a4.3 4.3 0 1 0 8.6 0a4.3 4.3 0 1 0-8.6 0M411.9 1023.0a4.3 4.3 0 1 0 8.6 0a4.3 4.3 0 1 0-8.6 0M422.5 1033.6a4.3 4.3 0 1 0 8.6 0a4.3 4.3 0 1 0-8.6 0M496.9 1065.5a4.3 4.3 0 1 0 8.6 0a4.3 4.3 0 1 0-8.6 0M199.5 1076.2a4.3 4.3 0 1 0 8.6 0a4.3 4.3 0 1 0-8.6 0M157.0 1086.8a4.3 4.3 0 1 0 8.6 0a4.3 4.3 0 1 0-8.6 0M178.3 1108.1a4.3 4.3 0 1 0 8.6 0a4.3 4.3 0 1 0-8.6 0M295.1 1108.1a4.3 4.3 0 1 0 8.6 0a4.3 4.3 0 1 0-8.6 0M348.2 1108.1a4.3 4.3 0 1 0 8.6 0a4.3 4.3 0 1 0-8.6 0M199.5 1118.8a4.3 4.3 0 1 0 8.6 0a4.3 4.3 0 1 0-8.6 0M326.9 1129.4a4.3 4.3 0 1 0 8.6 0a4.3 4.3 0 1 0-8.6 0" fill="#8ba9f7"/>
<path d="M401.3 756.9a4.3 4.3 0 1 0 8.6 0a4.3 4.3 0 1 0-8.6 0M411.9 756.9a4.3 4.3 0 1 0 8.6 0a4.3 4.3 0 1 0-8.6 0M125.2 767.6a4.3 4.3 0 1 0 8.6 0a4.3 4.3 0 1 0-8.6 0M242.0 767.6a4.3 4.3 0 1 0 8.6 0a4.3 4.3 0 1 0-8.6 0M188.9 778.2a4.3 4.3 0 1 0 8.6 0a4.3 4.3 0 1 0-8.6 0M114.5 799.5a4.3 4.3 0 1 0 8.6 0a4.3 4.3 0 1 0-8.6 0M146.4 799.5a4.3 4.3 0 1 0 8.6 0a4.3 4.3 0 1 0-8.6 0M433.1 810.1a4.3 4.3 0 1 0 8.6 0a4.3 4.3 0 1 0-8.6 0M146.4 831.4a4.3 4.3 0 1 0 8.6 0a4.3 4.3 0 1 0-8.6 0M103.9 863.3a4.3 4.3 0 1 0 8.6 0a4.3 4.3 0 1 0-8.6 0M125.2 863.3a4.3 4.3 0 1 0 8.6 0a4.3 4.3 0 1 0-8.6 0M125.2 874.0a4.3 4.3 0 1 0 8.6 0a4.3 4.3 0 1 0-8.6 0M220.7 874.0a4.3 4.3 0 1 0 8.6 0a4.3 4.3 0 1 0-8.6 0M486.2 874.0a4.3 4.3 0 1 0 8.6 0a4.3 4.3 0 1 0-8.6 0M496.9 874.0a4.3 4.3 0 1 0 8.6 0a4.3 4.3 0 1 0-8.6 0M188.9 884.6a4.3 4.3 0 1 0 8.6 0a4.3 4.3 0 1 0-8.6 0M433.1 895.3a4.3 4.3 0 1 0 8.6 0a4.3 4.3 0 1 0-8.6 0M528.7 895.3a4.3 4.3 0 1 0 8.6 0a4.3 4.3 0 1 0-8.6 0M93.3 905.9a4.3 4.3 0 1 0 8.6 0a4.3 4.3 0 1 0-8.6 0M188.9 905.9a4.3 4.3 0 1 0 8.6 0a4.3 4.3 0 1 0-8.6 0M443.8 905.9a4.3 4.3 0 1 0 8.6 0a4.3 4.3 0 1 0-8.6 0M93.3 916.6a4.3 4.3 0 1 0 8.6 0a4.3 4.3 0 1 0-8.6 0M135.8 916.6a4.3 4.3 0 1 0 8.6 0a4.3 4.3 0 1 0-8.6 0M220.7 916.6a4.3 4.3 0 1 0 8.6 0a4.3 4.3 0 1 0-8.6 0M518.1 916.6a4.3 4.3 0 1 0 8.6 0a4.3 4.3 0 1 0-8.6 0M135.8 927.2a4.3 4.3 0 1 0 8.6 0a4.3 4.3 0 1 0-8.6 0M411.9 927.2a4.3 4.3 0 1 0 8.6 0a4.3 4.3 0 1 0-8.6 0M114.5 937.8a4.3 4.3 0 1 0 8.6 0a4.3 4.3 0 1 0-8.6 0M125.2 937.8a4.3 4.3 0 1 0 8.6 0a4.3 4.3 0 1 0-8.6 0M157.0 937.8a4.3 4.3 0 1 0 8.6 0a4.3 4.3 0 1 0-8.6 0M390.7 937.8a4.3 4.3 0 1 0 8.6 0a4.3 4.3 0 1 0-8.6 0M465.0 937.8a4.3 4.3 0 1 0 8.6 0a4.3 4.3 0 1 0-8.6 0M146.4 948.5a4.3 4.3 0 1 0 8.6 0a4.3 4.3 0 1 0-8.6 0M475.6 948.5a4.3 4.3 0 1 0 8.6 0a4.3 4.3 0 1 0-8.6 0M273.8 959.1a4.3 4.3 0 1 0 8.6 0a4.3 4.3 0 1 0-8.6 0M326.9 959.1a4.3 4.3 0 1 0 8.6 0a4.3 4.3 0 1 0-8.6 0M465.0 959.1a4.3 4.3 0 1 0 8.6 0a4.3 4.3 0 1 0-8.6 0M443.8 969.8a4.3 4.3 0 1 0 8.6 0a4.3 4.3 0 1 0-8.6 0M507.5 980.4a4.3 4.3 0 1 0 8.6 0a4.3 4.3 0 1 0-8.6 0M326.9 991.0a4.3 4.3 0 1 0 8.6 0a4.3 4.3 0 1 0-8.6 0M348.2 991.0a4.3 4.3 0 1 0 8.6 0a4.3 4.3 0 1 0-8.6 0M411.9 991.0a4.3 4.3 0 1 0 8.6 0a4.3 4.3 0 1 0-8.6 0M475.6 991.0a4.3 4.3 0 1 0 8.6 0a4.3 4.3 0 1 0-8.6 0M507.5 991.0a4.3 4.3 0 1 0 8.6 0a4.3 4.3 0 1 0-8.6 0M465.0 1001.7a4.3 4.3 0 1 0 8.6 0a4.3 4.3 0 1 0-8.6 0M507.5 1001.7a4.3 4.3 0 1 0 8.6 0a4.3 4.3 0 1 0-8.6 0M93.3 1012.3a4.3 4.3 0 1 0 8.6 0a4.3 4.3 0 1 0-8.6 0M167.6 1012.3a4.3 4.3 0 1 0 8.6 0a4.3 4.3 0 1 0-8.6 0M443.8 1012.3a4.3 4.3 0 1 0 8.6 0a4.3 4.3 0 1 0-8.6 0M103.9 1023.0a4.3 4.3 0 1 0 8.6 0a4.3 4.3 0 1 0-8.6 0M125.2 1023.0a4.3 4.3 0 1 0 8.6 0a4.3 4.3 0 1 0-8.6 0M422.5 1023.0a4.3 4.3 0 1 0 8.6 0a4.3 4.3 0 1 0-8.6 0M178.3 1033.6a4.3 4.3 0 1 0 8.6 0a4.3 4.3 0 1 0-8.6 0M188.9 1033.6a4.3 4.3 0 1 0 8.6 0a4.3 4.3 0 1 0-8.6 0M486.2 1033.6a4.3 4.3 0 1 0 8.6 0a4.3 4.3 0 1 0-8.6 0M518.1 1033.6a4.3 4.3 0 1 0 8.6 0a4.3 4.3 0 1 0-8.6 0M167.6 1044.3a4.3 4.3 0 1 0 8.6 0a4.3 4.3 0 1 0-8.6 0M178.3 1044.3a4.3 4.3 0 1 0 8.6 0a4.3 4.3 0 1 0-8.6 0M465.0 1044.3a4.3 4.3 0 1 0 8.6 0a4.3 4.3 0 1 0-8.6 0M263.2 1054.9a4.3 4.3 0 1 0 8.6 0a4.3 4.3 0 1 0-8.6 0M305.7 1054.9a4.3 4.3 0 1 0 8.6 0a4.3 4.3 0 1 0-8.6 0M93.3 1065.5a4.3 4.3 0 1 0 8.6 0a4.3 4.3 0 1 0-8.6 0M103.9 1065.5a4.3 4.3 0 1 0 8.6 0a4.3 4.3 0 1 0-8.6 0M210.1 1065.5a4.3 4.3 0 1 0 8.6 0a4.3 4.3 0 1 0-8.6 0M507.5 1065.5a4.3 4.3 0 1 0 8.6 0a4.3 4.3 0 1 0-8.6 0M103.9 1076.2a4.3 4.3 0 1 0 8.6 0a4.3 4.3 0 1 0-8.6 0M220.7 1076.2a4.3 4.3 0 1 0 8.6 0a4.3 4.3 0 1 0-8.6 0M358.8 1076.2a4.3 4.3 0 1 0 8.6 0a4.3 4.3 0 1 0-8.6 0M188.9 1086.8a4.3 4.3 0 1 0 8.6 0a4.3 4.3 0 1 0-8.6 0M220.7 1086.8a4.3 4.3 0 1 0 8.6 0a4.3 4.3 0 1 0-8.6 0M401.3 1086.8a4.3 4.3 0 1 0 8.6 0a4.3 4.3 0 1 0-8.6 0M443.8 1086.8a4.3 4.3 0 1 0 8.6 0a4.3 4.3 0 1 0-8.6 0M475.6 1086.8a4.3 4.3 0 1 0 8.6 0a4.3 4.3 0 1 0-8.6 0M157.0 1097.5a4.3 4.3 0 1 0 8.6 0a4.3 4.3 0 1 0-8.6 0M167.6 1097.5a4.3 4.3 0 1 0 8.6 0a4.3 4.3 0 1 0-8.6 0M210.1 1097.5a4.3 4.3 0 1 0 8.6 0a4.3 4.3 0 1 0-8.6 0M337.6 1097.5a4.3 4.3 0 1 0 8.6 0a4.3 4.3 0 1 0-8.6 0M390.7 1097.5a4.3 4.3 0 1 0 8.6 0a4.3 4.3 0 1 0-8.6 0M475.6 1097.5a4.3 4.3 0 1 0 8.6 0a4.3 4.3 0 1 0-8.6 0M380.0 1108.1a4.3 4.3 0 1 0 8.6 0a4.3 4.3 0 1 0-8.6 0M401.3 1108.1a4.3 4.3 0 1 0 8.6 0a4.3 4.3 0 1 0-8.6 0M178.3 1118.8a4.3 4.3 0 1 0 8.6 0a4.3 4.3 0 1 0-8.6 0M188.9 1118.8a4.3 4.3 0 1 0 8.6 0a4.3 4.3 0 1 0-8.6 0M316.3 1118.8a4.3 4.3 0 1 0 8.6 0a4.3 4.3 0 1 0-8.6 0M358.8 1118.8a4.3 4.3 0 1 0 8.6 0a4.3 4.3 0 1 0-8.6 0M369.4 1118.8a4.3 4.3 0 1 0 8.6 0a4.3 4.3 0 1 0-8.6 0M401.3 1118.8a4.3 4.3 0 1 0 8.6 0a4.3 4.3 0 1 0-8.6 0M433.1 1118.8a4.3 4.3 0 1 0 8.6 0a4.3 4.3 0 1 0-8.6 0M135.8 1129.4a4.3 4.3 0 1 0 8.6 0a4.3 4.3 0 1 0-8.6 0M167.6 1129.4a4.3 4.3 0 1 0 8.6 0a4.3 4.3 0 1 0-8.6 0M220.7 1129.4a4.3 4.3 0 1 0 8.6 0a4.3 4.3 0 1 0-8.6 0M358.8 1129.4a4.3 4.3 0 1 0 8.6 0a4.3 4.3 0 1 0-8.6 0M411.9 1129.4a4.3 4.3 0 1 0 8.6 0a4.3 4.3 0 1 0-8.6 0M518.1 1129.4a4.3 4.3 0 1 0 8.6 0a4.3 4.3 0 1 0-8.6 0" fill="#92b0f9"/>
<path d="M242.0 725.0a4.3 4.3 0 1 0 8.6 0a4.3 4.3 0 1 0-8.6 0M337.6 735.6a4.3 4.3 0 1 0 8.6 0a4.3 4.3 0 1 0-8.6 0M348.2 735.6a4.3 4.3 0 1 0 8.6 0a4.3 4.3 0 1 0-8.6 0M326.9 746.3a4.3 4.3 0 1 0 8.6 0a4.3 4.3 0 1 0-8.6 0M337.6 746.3a4.3 4.3 0 1 0 8.6 0a4.3 4.3 0 1 0-8.6 0M135.8 756.9a4.3 4.3 0 1 0 8.6 0a4.3 4.3 0 1 0-8.6 0M411.9 767.6a4.3 4.3 0 1 0 8.6 0a4.3 4.3 0 1 0-8.6 0M305.7 788.9a4.3 4.3 0 1 0 8.6 0a4.3 4.3 0 1 0-8.6 0M157.0 799.5a4.3 4.3 0 1 0 8.6 0a4.3 4.3 0 1 0-8.6 0M167.6 799.5a4.3 4.3 0 1 0 8.6 0a4.3 4.3 0 1 0-8.6 0M188.9 799.5a4.3 4.3 0 1 0 8.6 0a4.3 4.3 0 1 0-8.6 0M146.4 810.1a4.3 4.3 0 1 0 8.6 0a4.3 4.3 0 1 0-8.6 0M188.9 810.1a4.3 4.3 0 1 0 8.6 0a4.3 4.3 0 1 0-8.6 0M146.4 820.8a4.3 4.3 0 1 0 8.6 0a4.3 4.3 0 1 0-8.6 0M178.3 820.8a4.3 4.3 0 1 0 8.6 0a4.3 4.3 0 1 0-8.6 0M93.3 842.1a4.3 4.3 0 1 0 8.6 0a4.3 4.3 0 1 0-8.6 0M125.2 842.1a4.3 4.3 0 1 0 8.6 0a4.3 4.3 0 1 0-8.6 0M496.9 842.1a4.3 4.3 0 1 0 8.6 0a4.3 4.3 0 1 0-8.6 0M507.5 842.1a4.3 4.3 0 1 0 8.6 0a4.3 4.3 0 1 0-8.6 0M103.9 852.7a4.3 4.3 0 1 0 8.6 0a4.3 4.3 0 1 0-8.6 0M157.0 852.7a4.3 4.3 0 1 0 8.6 0a4.3 4.3 0 1 0-8.6 0M496.9 884.6a4.3 4.3 0 1 0 8.6 0a4.3 4.3 0 1 0-8.6 0M135.8 905.9a4.3 4.3 0 1 0 8.6 0a4.3 4.3 0 1 0-8.6 0M231.4 905.9a4.3 4.3 0 1 0 8.6 0a4.3 4.3 0 1 0-8.6 0M146.4 916.6a4.3 4.3 0 1 0 8.6 0a4.3 4.3 0 1 0-8.6 0M443.8 916.6a4.3 4.3 0 1 0 8.6 0a4.3 4.3 0 1 0-8.6 0M93.3 937.8a4.3 4.3 0 1 0 8.6 0a4.3 4.3 0 1 0-8.6 0M146.4 937.8a4.3 4.3 0 1 0 8.6 0a4.3 4.3 0 1 0-8.6 0M93.3 948.5a4.3 4.3 0 1 0 8.6 0a4.3 4.3 0 1 0-8.6 0M125.2 948.5a4.3 4.3 0 1 0 8.6 0a4.3 4.3 0 1 0-8.6 0M390.7 948.5a4.3 4.3 0 1 0 8.6 0a4.3 4.3 0 1 0-8.6 0M369.4 969.8a4.3 4.3 0 1 0 8.6 0a4.3 4.3 0 1 0-8.6 0M433.1 969.8a4.3 4.3 0 1 0 8.6 0a4.3 4.3 0 1 0-8.6 0M518.1 969.8a4.3 4.3 0 1 0 8.6 0a4.3 4.3 0 1 0-8.6 0M305.7 980.4a4.3 4.3 0 1 0 8.6 0a4.3 4.3 0 1 0-8.6 0M433.1 980.4a4.3 4.3 0 1 0 8.6 0a4.3 4.3 0 1 0-8.6 0M528.7 980.4a4.3 4.3 0 1 0 8.6 0a4.3 4.3 0 1 0-8.6 0M369.4 991.0a4.3 4.3 0 1 0 8.6 0a4.3 4.3 0 1 0-8.6 0M465.0 991.0a4.3 4.3 0 1 0 8.6 0a4.3 4.3 0 1 0-8.6 0M528.7 991.0a4.3 4.3 0 1 0 8.6 0a4.3 4.3 0 1 0-8.6 0M475.6 1001.7a4.3 4.3 0 1 0 8.6 0a4.3 4.3 0 1 0-8.6 0M369.4 1012.3a4.3 4.3 0 1 0 8.6 0a4.3 4.3 0 1 0-8.6 0M518.1 1012.3a4.3 4.3 0 1 0 8.6 0a4.3 4.3 0 1 0-8.6 0M157.0 1023.0a4.3 4.3 0 1 0 8.6 0a4.3 4.3 0 1 0-8.6 0M167.6 1023.0a4.3 4.3 0 1 0 8.6 0a4.3 4.3 0 1 0-8.6 0M284.5 1023.0a4.3 4.3 0 1 0 8.6 0a4.3 4.3 0 1 0-8.6 0M295.1 1023.0a4.3 4.3 0 1 0 8.6 0a4.3 4.3 0 1 0-8.6 0M390.7 1033.6a4.3 4.3 0 1 0 8.6 0a4.3 4.3 0 1 0-8.6 0M305.7 1044.3a4.3 4.3 0 1 0 8.6 0a4.3 4.3 0 1 0-8.6 0M411.9 1044.3a4.3 4.3 0 1 0 8.6 0a4.3 4.3 0 1 0-8.6 0M486.2 1044.3a4.3 4.3 0 1 0 8.6 0a4.3 4.3 0 1 0-8.6 0M518.1 1044.3a4.3 4.3 0 1 0 8.6 0a4.3 4.3 0 1 0-8.6 0M167.6 1054.9a4.3 4.3 0 1 0 8.6 0a4.3 4.3 0 1 0-8.6 0M220.7 1054.9a4.3 4.3 0 1 0 8.6 0a4.3 4.3 0 1 0-8.6 0M433.1 1054.9a4.3 4.3 0 1 0 8.6 0a4.3 4.3 0 1 0-8.6 0M380.0 1065.5a4.3 4.3 0 1 0 8.6 0a4.3 4.3 0 1 0-8.6 0M305.7 1076.2a4.3 4.3 0 1 0 8.6 0a4.3 4.3 0 1 0-8.6 0M443.8 1076.2a4.3 4.3 0 1 0 8.6 0a4.3 4.3 0 1 0-8.6 0M103.9 1086.8a4.3 4.3 0 1 0 8.6 0a4.3 4.3 0 1 0-8.6 0M167.6 1086.8a4.3 4.3 0 1 0 8.6 0a4.3 4.3 0 1 0-8.6 0M284.5 1086.8a4.3 4.3 0 1 0 8.6 0a4.3 4.3 0 1 0-8.6 0M422.5 1086.8a4.3 4.3 0 1 0 8.6 0a4.3 4.3 0 1 0-8.6 0M305.7 1097.5a4.3 4.3 0 1 0 8.6 0a4.3 4.3 0 1 0-8.6 0M348.2 1097.5a4.3 4.3 0 1 0 8.6 0a4.3 4.3 0 1 0-8.6 0M401.3 1097.5a4.3 4.3 0 1 0 8.6 0a4.3 4.3 0 1 0-8.6 0M93.3 1108.1a4.3 4.3 0 1 0 8.6 0a4.3 4.3 0 1 0-8.6 0M167.6 1108.1a4.3 4.3 0 1 0 8.6 0a4.3 4.3 0 1 0-8.6 0M135.8 1118.8a4.3 4.3 0 1 0 8.6 0a4.3 4.3 0 1 0-8.6 0M326.9 1118.8a4.3 4.3 0 1 0 8.6 0a4.3 4.3 0 1 0-8.6 0M337.6 1118.8a4.3 4.3 0 1 0 8.6 0a4.3 4.3 0 1 0-8.6 0M380.0 1118.8a4.3 4.3 0 1 0 8.6 0a4.3 4.3 0 1 0-8.6 0M390.7 1118.8a4.3 4.3 0 1 0 8.6 0a4.3 4.3 0 1 0-8.6 0M422.5 1118.8a4.3 4.3 0 1 0 8.6 0a4.3 4.3 0 1 0-8.6 0M178.3 1129.4a4.3 4.3 0 1 0 8.6 0a4.3 4.3 0 1 0-8.6 0M295.1 1129.4a4.3 4.3 0 1 0 8.6 0a4.3 4.3 0 1 0-8.6 0M390.7 1129.4a4.3 4.3 0 1 0 8.6 0a4.3 4.3 0 1 0-8.6 0M475.6 1129.4a4.3 4.3 0 1 0 8.6 0a4.3 4.3 0 1 0-8.6 0M486.2 1129.4a4.3 4.3 0 1 0 8.6 0a4.3 4.3 0 1 0-8.6 0M507.5 1129.4a4.3 4.3 0 1 0 8.6 0a4.3 4.3 0 1 0-8.6 0" fill="#9ab8fb"/>
<path d="M411.9 735.6a4.3 4.3 0 1 0 8.6 0a4.3 4.3 0 1 0-8.6 0M348.2 756.9a4.3 4.3 0 1 0 8.6 0a4.3 4.3 0 1 0-8.6 0M348.2 778.2a4.3 4.3 0 1 0 8.6 0a4.3 4.3 0 1 0-8.6 0M178.3 788.9a4.3 4.3 0 1 0 8.6 0a4.3 4.3 0 1 0-8.6 0M178.3 799.5a4.3 4.3 0 1 0 8.6 0a4.3 4.3 0 1 0-8.6 0M157.0 810.1a4.3 4.3 0 1 0 8.6 0a4.3 4.3 0 1 0-8.6 0M242.0 874.0a4.3 4.3 0 1 0 8.6 0a4.3 4.3 0 1 0-8.6 0M242.0 884.6a4.3 4.3 0 1 0 8.6 0a4.3 4.3 0 1 0-8.6 0M114.5 895.3a4.3 4.3 0 1 0 8.6 0a4.3 4.3 0 1 0-8.6 0M358.8 927.2a4.3 4.3 0 1 0 8.6 0a4.3 4.3 0 1 0-8.6 0M401.3 937.8a4.3 4.3 0 1 0 8.6 0a4.3 4.3 0 1 0-8.6 0M401.3 948.5a4.3 4.3 0 1 0 8.6 0a4.3 4.3 0 1 0-8.6 0M358.8 1001.7a4.3 4.3 0 1 0 8.6 0a4.3 4.3 0 1 0-8.6 0M114.5 1012.3a4.3 4.3 0 1 0 8.6 0a4.3 4.3 0 1 0-8.6 0M167.6 1033.6a4.3 4.3 0 1 0 8.6 0a4.3 4.3 0 1 0-8.6 0M422.5 1044.3a4.3 4.3 0 1 0 8.6 0a4.3 4.3 0 1 0-8.6 0M496.9 1044.3a4.3 4.3 0 1 0 8.6 0a4.3 4.3 0 1 0-8.6 0M210.1 1076.2a4.3 4.3 0 1 0 8.6 0a4.3 4.3 0 1 0-8.6 0M231.4 1076.2a4.3 4.3 0 1 0 8.6 0a4.3 4.3 0 1 0-8.6 0M411.9 1076.2a4.3 4.3 0 1 0 8.6 0a4.3 4.3 0 1 0-8.6 0M422.5 1076.2a4.3 4.3 0 1 0 8.6 0a4.3 4.3 0 1 0-8.6 0M210.1 1086.8a4.3 4.3 0 1 0 8.6 0a4.3 4.3 0 1 0-8.6 0M486.2 1086.8a4.3 4.3 0 1 0 8.6 0a4.3 4.3 0 1 0-8.6 0M496.9 1086.8a4.3 4.3 0 1 0 8.6 0a4.3 4.3 0 1 0-8.6 0M93.3 1097.5a4.3 4.3 0 1 0 8.6 0a4.3 4.3 0 1 0-8.6 0M284.5 1097.5a4.3 4.3 0 1 0 8.6 0a4.3 4.3 0 1 0-8.6 0M443.8 1097.5a4.3 4.3 0 1 0 8.6 0a4.3 4.3 0 1 0-8.6 0M199.5 1108.1a4.3 4.3 0 1 0 8.6 0a4.3 4.3 0 1 0-8.6 0M210.1 1108.1a4.3 4.3 0 1 0 8.6 0a4.3 4.3 0 1 0-8.6 0M337.6 1108.1a4.3 4.3 0 1 0 8.6 0a4.3 4.3 0 1 0-8.6 0M390.7 1108.1a4.3 4.3 0 1 0 8.6 0a4.3 4.3 0 1 0-8.6 0M167.6 1118.8a4.3 4.3 0 1 0 8.6 0a4.3 4.3 0 1 0-8.6 0M422.5 1129.4a4.3 4.3 0 1 0 8.6 0a4.3 4.3 0 1 0-8.6 0" fill="#a2befc"/>
<path d="M167.6 767.6a4.3 4.3 0 1 0 8.6 0a4.3 4.3 0 1 0-8.6 0M295.1 767.6a4.3 4.3 0 1 0 8.6 0a4.3 4.3 0 1 0-8.6 0M114.5 778.2a4.3 4.3 0 1 0 8.6 0a4.3 4.3 0 1 0-8.6 0M167.6 778.2a4.3 4.3 0 1 0 8.6 0a4.3 4.3 0 1 0-8.6 0M93.3 788.9a4.3 4.3 0 1 0 8.6 0a4.3 4.3 0 1 0-8.6 0M188.9 788.9a4.3 4.3 0 1 0 8.6 0a4.3 4.3 0 1 0-8.6 0M326.9 788.9a4.3 4.3 0 1 0 8.6 0a4.3 4.3 0 1 0-8.6 0M93.3 799.5a4.3 4.3 0 1 0 8.6 0a4.3 4.3 0 1 0-8.6 0M199.5 799.5a4.3 4.3 0 1 0 8.6 0a4.3 4.3 0 1 0-8.6 0M242.0 799.5a4.3 4.3 0 1 0 8.6 0a4.3 4.3 0 1 0-8.6 0M199.5 810.1a4.3 4.3 0 1 0 8.6 0a4.3 4.3 0 1 0-8.6 0M390.7 810.1a4.3 4.3 0 1 0 8.6 0a4.3 4.3 0 1 0-8.6 0M114.5 863.3a4.3 4.3 0 1 0 8.6 0a4.3 4.3 0 1 0-8.6 0M210.1 863.3a4.3 4.3 0 1 0 8.6 0a4.3 4.3 0 1 0-8.6 0M210.1 874.0a4.3 4.3 0 1 0 8.6 0a4.3 4.3 0 1 0-8.6 0M252.6 874.0a4.3 4.3 0 1 0 8.6 0a4.3 4.3 0 1 0-8.6 0M199.5 884.6a4.3 4.3 0 1 0 8.6 0a4.3 4.3 0 1 0-8.6 0M507.5 884.6a4.3 4.3 0 1 0 8.6 0a4.3 4.3 0 1 0-8.6 0M93.3 895.3a4.3 4.3 0 1 0 8.6 0a4.3 4.3 0 1 0-8.6 0M167.6 905.9a4.3 4.3 0 1 0 8.6 0a4.3 4.3 0 1 0-8.6 0M252.6 905.9a4.3 4.3 0 1 0 8.6 0a4.3 4.3 0 1 0-8.6 0M103.9 916.6a4.3 4.3 0 1 0 8.6 0a4.3 4.3 0 1 0-8.6 0M210.1 916.6a4.3 4.3 0 1 0 8.6 0a4.3 4.3 0 1 0-8.6 0M496.9 916.6a4.3 4.3 0 1 0 8.6 0a4.3 4.3 0 1 0-8.6 0M507.5 916.6a4.3 4.3 0 1 0 8.6 0a4.3 4.3 0 1 0-8.6 0M146.4 927.2a4.3 4.3 0 1 0 8.6 0a4.3 4.3 0 1 0-8.6 0M103.9 937.8a4.3 4.3 0 1 0 8.6 0a4.3 4.3 0 1 0-8.6 0M433.1 937.8a4.3 4.3 0 1 0 8.6 0a4.3 4.3 0 1 0-8.6 0M454.4 937.8a4.3 4.3 0 1 0 8.6 0a4.3 4.3 0 1 0-8.6 0M167.6 948.5a4.3 4.3 0 1 0 8.6 0a4.3 4.3 0 1 0-8.6 0M284.5 948.5a4.3 4.3 0 1 0 8.6 0a4.3 4.3 0 1 0-8.6 0M316.3 959.1a4.3 4.3 0 1 0 8.6 0a4.3 4.3 0 1 0-8.6 0M358.8 959.1a4.3 4.3 0 1 0 8.6 0a4.3 4.3 0 1 0-8.6 0M369.4 959.1a4.3 4.3 0 1 0 8.6 0a4.3 4.3 0 1 0-8.6 0M326.9 969.8a4.3 4.3 0 1 0 8.6 0a4.3 4.3 0 1 0-8.6 0M348.2 969.8a4.3 4.3 0 1 0 8.6 0a4.3 4.3 0 1 0-8.6 0M358.8 969.8a4.3 4.3 0 1 0 8.6 0a4.3 4.3 0 1 0-8.6 0M295.1 980.4a4.3 4.3 0 1 0 8.6 0a4.3 4.3 0 1 0-8.6 0M454.4 991.0a4.3 4.3 0 1 0 8.6 0a4.3 4.3 0 1 0-8.6 0M231.4 1012.3a4.3 4.3 0 1 0 8.6 0a4.3 4.3 0 1 0-8.6 0M507.5 1012.3a4.3 4.3 0 1 0 8.6 0a4.3 4.3 0 1 0-8.6 0M528.7 1012.3a4.3 4.3 0 1 0 8.6 0a4.3 4.3 0 1 0-8.6 0M337.6 1023.0a4.3 4.3 0 1 0 8.6 0a4.3 4.3 0 1 0-8.6 0M358.8 1033.6a4.3 4.3 0 1 0 8.6 0a4.3 4.3 0 1 0-8.6 0M433.1 1033.6a4.3 4.3 0 1 0 8.6 0a4.3 4.3 0 1 0-8.6 0M496.9 1033.6a4.3 4.3 0 1 0 8.6 0a4.3 4.3 0 1 0-8.6 0M199.5 1044.3a4.3 4.3 0 1 0 8.6 0a4.3 4.3 0 1 0-8.6 0M231.4 1044.3a4.3 4.3 0 1 0 8.6 0a4.3 4.3 0 1 0-8.6 0M188.9 1054.9a4.3 4.3 0 1 0 8.6 0a4.3 4.3 0 1 0-8.6 0M178.3 1065.5a4.3 4.3 0 1 0 8.6 0a4.3 4.3 0 1 0-8.6 0M316.3 1065.5a4.3 4.3 0 1 0 8.6 0a4.3 4.3 0 1 0-8.6 0M465.0 1065.5a4.3 4.3 0 1 0 8.6 0a4.3 4.3 0 1 0-8.6 0M188.9 1076.2a4.3 4.3 0 1 0 8.6 0a4.3 4.3 0 1 0-8.6 0M337.6 1076.2a4.3 4.3 0 1 0 8.6 0a4.3 4.3 0 1 0-8.6 0M348.2 1076.2a4.3 4.3 0 1 0 8.6 0a4.3 4.3 0 1 0-8.6 0M135.8 1086.8a4.3 4.3 0 1 0 8.6 0a4.3 4.3 0 1 0-8.6 0M295.1 1086.8a4.3 4.3 0 1 0 8.6 0a4.3 4.3 0 1 0-8.6 0M358.8 1086.8a4.3 4.3 0 1 0 8.6 0a4.3 4.3 0 1 0-8.6 0M146.4 1097.5a4.3 4.3 0 1 0 8.6 0a4.3 4.3 0 1 0-8.6 0M231.4 1097.5a4.3 4.3 0 1 0 8.6 0a4.3 4.3 0 1 0-8.6 0M411.9 1097.5a4.3 4.3 0 1 0 8.6 0a4.3 4.3 0 1 0-8.6 0M465.0 1097.5a4.3 4.3 0 1 0 8.6 0a4.3 4.3 0 1 0-8.6 0M326.9 1108.1a4.3 4.3 0 1 0 8.6 0a4.3 4.3 0 1 0-8.6 0M518.1 1118.8a4.3 4.3 0 1 0 8.6 0a4.3 4.3 0 1 0-8.6 0M114.5 1129.4a4.3 4.3 0 1 0 8.6 0a4.3 4.3 0 1 0-8.6 0M284.5 1129.4a4.3 4.3 0 1 0 8.6 0a4.3 4.3 0 1 0-8.6 0M369.4 1129.4a4.3 4.3 0 1 0 8.6 0a4.3 4.3 0 1 0-8.6 0M401.3 1129.4a4.3 4.3 0 1 0 8.6 0a4.3 4.3 0 1 0-8.6 0" fill="#b1cafb"/>
<path d="M199.5 725.0a4.3 4.3 0 1 0 8.6 0a4.3 4.3 0 1 0-8.6 0M125.2 735.6a4.3 4.3 0 1 0 8.6 0a4.3 4.3 0 1 0-8.6 0M231.4 735.6a4.3 4.3 0 1 0 8.6 0a4.3 4.3 0 1 0-8.6 0M316.3 735.6a4.3 4.3 0 1 0 8.6 0a4.3 4.3 0 1 0-8.6 0M422.5 735.6a4.3 4.3 0 1 0 8.6 0a4.3 4.3 0 1 0-8.6 0M242.0 746.3a4.3 4.3 0 1 0 8.6 0a4.3 4.3 0 1 0-8.6 0M348.2 746.3a4.3 4.3 0 1 0 8.6 0a4.3 4.3 0 1 0-8.6 0M358.8 746.3a4.3 4.3 0 1 0 8.6 0a4.3 4.3 0 1 0-8.6 0M422.5 746.3a4.3 4.3 0 1 0 8.6 0a4.3 4.3 0 1 0-8.6 0M125.2 756.9a4.3 4.3 0 1 0 8.6 0a4.3 4.3 0 1 0-8.6 0M326.9 756.9a4.3 4.3 0 1 0 8.6 0a4.3 4.3 0 1 0-8.6 0M337.6 756.9a4.3 4.3 0 1 0 8.6 0a4.3 4.3 0 1 0-8.6 0M380.0 756.9a4.3 4.3 0 1 0 8.6 0a4.3 4.3 0 1 0-8.6 0M486.2 756.9a4.3 4.3 0 1 0 8.6 0a4.3 4.3 0 1 0-8.6 0M263.2 767.6a4.3 4.3 0 1 0 8.6 0a4.3 4.3 0 1 0-8.6 0M284.5 767.6a4.3 4.3 0 1 0 8.6 0a4.3 4.3 0 1 0-8.6 0M358.8 767.6a4.3 4.3 0 1 0 8.6 0a4.3 4.3 0 1 0-8.6 0M401.3 767.6a4.3 4.3 0 1 0 8.6 0a4.3 4.3 0 1 0-8.6 0M305.7 778.2a4.3 4.3 0 1 0 8.6 0a4.3 4.3 0 1 0-8.6 0M125.2 788.9a4.3 4.3 0 1 0 8.6 0a4.3 4.3 0 1 0-8.6 0M125.2 799.5a4.3 4.3 0 1 0 8.6 0a4.3 4.3 0 1 0-8.6 0M337.6 799.5a4.3 4.3 0 1 0 8.6 0a4.3 4.3 0 1 0-8.6 0M411.9 799.5a4.3 4.3 0 1 0 8.6 0a4.3 4.3 0 1 0-8.6 0M114.5 810.1a4.3 4.3 0 1 0 8.6 0a4.3 4.3 0 1 0-8.6 0M135.8 810.1a4.3 4.3 0 1 0 8.6 0a4.3 4.3 0 1 0-8.6 0M401.3 810.1a4.3 4.3 0 1 0 8.6 0a4.3 4.3 0 1 0-8.6 0M411.9 810.1a4.3 4.3 0 1 0 8.6 0a4.3 4.3 0 1 0-8.6 0M422.5 810.1a4.3 4.3 0 1 0 8.6 0a4.3 4.3 0 1 0-8.6 0M135.8 820.8a4.3 4.3 0 1 0 8.6 0a4.3 4.3 0 1 0-8.6 0M316.3 820.8a4.3 4.3 0 1 0 8.6 0a4.3 4.3 0 1 0-8.6 0M422.5 820.8a4.3 4.3 0 1 0 8.6 0a4.3 4.3 0 1 0-8.6 0M157.0 831.4a4.3 4.3 0 1 0 8.6 0a4.3 4.3 0 1 0-8.6 0M178.3 831.4a4.3 4.3 0 1 0 8.6 0a4.3 4.3 0 1 0-8.6 0M337.6 831.4a4.3 4.3 0 1 0 8.6 0a4.3 4.3 0 1 0-8.6 0M103.9 842.1a4.3 4.3 0 1 0 8.6 0a4.3 4.3 0 1 0-8.6 0M157.0 842.1a4.3 4.3 0 1 0 8.6 0a4.3 4.3 0 1 0-8.6 0M178.3 842.1a4.3 4.3 0 1 0 8.6 0a4.3 4.3 0 1 0-8.6 0M401.3 842.1a4.3 4.3 0 1 0 8.6 0a4.3 4.3 0 1 0-8.6 0M518.1 842.1a4.3 4.3 0 1 0 8.6 0a4.3 4.3 0 1 0-8.6 0M358.8 852.7a4.3 4.3 0 1 0 8.6 0a4.3 4.3 0 1 0-8.6 0M507.5 852.7a4.3 4.3 0 1 0 8.6 0a4.3 4.3 0 1 0-8.6 0M518.1 852.7a4.3 4.3 0 1 0 8.6 0a4.3 4.3 0 1 0-8.6 0M135.8 863.3a4.3 4.3 0 1 0 8.6 0a4.3 4.3 0 1 0-8.6 0M157.0 863.3a4.3 4.3 0 1 0 8.6 0a4.3 4.3 0 1 0-8.6 0M199.5 863.3a4.3 4.3 0 1 0 8.6 0a4.3 4.3 0 1 0-8.6 0M390.7 863.3a4.3 4.3 0 1 0 8.6 0a4.3 4.3 0 1 0-8.6 0M475.6 863.3a4.3 4.3 0 1 0 8.6 0a4.3 4.3 0 1 0-8.6 0M93.3 874.0a4.3 4.3 0 1 0 8.6 0a4.3 4.3 0 1 0-8.6 0M103.9 874.0a4.3 4.3 0 1 0 8.6 0a4.3 4.3 0 1 0-8.6 0M146.4 874.0a4.3 4.3 0 1 0 8.6 0a4.3 4.3 0 1 0-8.6 0M465.0 874.0a4.3 4.3 0 1 0 8.6 0a4.3 4.3 0 1 0-8.6 0M178.3 884.6a4.3 4.3 0 1 0 8.6 0a4.3 4.3 0 1 0-8.6 0M231.4 884.6a4.3 4.3 0 1 0 8.6 0a4.3 4.3 0 1 0-8.6 0M252.6 884.6a4.3 4.3 0 1 0 8.6 0a4.3 4.3 0 1 0-8.6 0M475.6 884.6a4.3 4.3 0 1 0 8.6 0a4.3 4.3 0 1 0-8.6 0M125.2 895.3a4.3 4.3 0 1 0 8.6 0a4.3 4.3 0 1 0-8.6 0M326.9 895.3a4.3 4.3 0 1 0 8.6 0a4.3 4.3 0 1 0-8.6 0M443.8 895.3a4.3 4.3 0 1 0 8.6 0a4.3 4.3 0 1 0-8.6 0M103.9 905.9a4.3 4.3 0 1 0 8.6 0a4.3 4.3 0 1 0-8.6 0M125.2 905.9a4.3 4.3 0 1 0 8.6 0a4.3 4.3 0 1 0-8.6 0M178.3 905.9a4.3 4.3 0 1 0 8.6 0a4.3 4.3 0 1 0-8.6 0M348.2 905.9a4.3 4.3 0 1 0 8.6 0a4.3 4.3 0 1 0-8.6 0M167.6 916.6a4.3 4.3 0 1 0 8.6 0a4.3 4.3 0 1 0-8.6 0M178.3 916.6a4.3 4.3 0 1 0 8.6 0a4.3 4.3 0 1 0-8.6 0M188.9 916.6a4.3 4.3 0 1 0 8.6 0a4.3 4.3 0 1 0-8.6 0M199.5 916.6a4.3 4.3 0 1 0 8.6 0a4.3 4.3 0 1 0-8.6 0M103.9 927.2a4.3 4.3 0 1 0 8.6 0a4.3 4.3 0 1 0-8.6 0M125.2 927.2a4.3 4.3 0 1 0 8.6 0a4.3 4.3 0 1 0-8.6 0M167.6 927.2a4.3 4.3 0 1 0 8.6 0a4.3 4.3 0 1 0-8.6 0M178.3 927.2a4.3 4.3 0 1 0 8.6 0a4.3 4.3 0 1 0-8.6 0M252.6 927.2a4.3 4.3 0 1 0 8.6 0a4.3 4.3 0 1 0-8.6 0M337.6 927.2a4.3 4.3 0 1 0 8.6 0a4.3 4.3 0 1 0-8.6 0M369.4 927.2a4.3 4.3 0 1 0 8.6 0a4.3 4.3 0 1 0-8.6 0M422.5 927.2a4.3 4.3 0 1 0 8.6 0a4.3 4.3 0 1 0-8.6 0M465.0 927.2a4.3 4.3 0 1 0 8.6 0a4.3 4.3 0 1 0-8.6 0M518.1 927.2a4.3 4.3 0 1 0 8.6 0a4.3 4.3 0 1 0-8.6 0M528.7 927.2a4.3 4.3 0 1 0 8.6 0a4.3 4.3 0 1 0-8.6 0M167.6 937.8a4.3 4.3 0 1 0 8.6 0a4.3 4.3 0 1 0-8.6 0M443.8 937.8a4.3 4.3 0 1 0 8.6 0a4.3 4.3 0 1 0-8.6 0M475.6 937.8a4.3 4.3 0 1 0 8.6 0a4.3 4.3 0 1 0-8.6 0M103.9 948.5a4.3 4.3 0 1 0 8.6 0a4.3 4.3 0 1 0-8.6 0M157.0 948.5a4.3 4.3 0 1 0 8.6 0a4.3 4.3 0 1 0-8.6 0M220.7 948.5a4.3 4.3 0 1 0 8.6 0a4.3 4.3 0 1 0-8.6 0M273.8 948.5a4.3 4.3 0 1 0 8.6 0a4.3 4.3 0 1 0-8.6 0M465.0 948.5a4.3 4.3 0 1 0 8.6 0a4.3 4.3 0 1 0-8.6 0M93.3 959.1a4.3 4.3 0 1 0 8.6 0a4.3 4.3 0 1 0-8.6 0M167.6 959.1a4.3 4.3 0 1 0 8.6 0a4.3 4.3 0 1 0-8.6 0M284.5 959.1a4.3 4.3 0 1 0 8.6 0a4.3 4.3 0 1 0-8.6 0M337.6 959.1a4.3 4.3 0 1 0 8.6 0a4.3 4.3 0 1 0-8.6 0M475.6 959.1a4.3 4.3 0 1 0 8.6 0a4.3 4.3 0 1 0-8.6 0M486.2 959.1a4.3 4.3 0 1 0 8.6 0a4.3 4.3 0 1 0-8.6 0M496.9 959.1a4.3 4.3 0 1 0 8.6 0a4.3 4.3 0 1 0-8.6 0M337.6 969.8a4.3 4.3 0 1 0 8.6 0a4.3 4.3 0 1 0-8.6 0M411.9 969.8a4.3 4.3 0 1 0 8.6 0a4.3 4.3 0 1 0-8.6 0M528.7 969.8a4.3 4.3 0 1 0 8.6 0a4.3 4.3 0 1 0-8.6 0M263.2 980.4a4.3 4.3 0 1 0 8.6 0a4.3 4.3 0 1 0-8.6 0M390.7 980.4a4.3 4.3 0 1 0 8.6 0a4.3 4.3 0 1 0-8.6 0M411.9 980.4a4.3 4.3 0 1 0 8.6 0a4.3 4.3 0 1 0-8.6 0M433.1 991.0a4.3 4.3 0 1 0 8.6 0a4.3 4.3 0 1 0-8.6 0M443.8 991.0a4.3 4.3 0 1 0 8.6 0a4.3 4.3 0 1 0-8.6 0M486.2 991.0a4.3 4.3 0 1 0 8.6 0a4.3 4.3 0 1 0-8.6 0M496.9 991.0a4.3 4.3 0 1 0 8.6 0a4.3 4.3 0 1 0-8.6 0M114.5 1001.7a4.3 4.3 0 1 0 8.6 0a4.3 4.3 0 1 0-8.6 0M305.7 1001.7a4.3 4.3 0 1 0 8.6 0a4.3 4.3 0 1 0-8.6 0M411.9 1001.7a4.3 4.3 0 1 0 8.6 0a4.3 4.3 0 1 0-8.6 0M422.5 1001.7a4.3 4.3 0 1 0 8.6 0a4.3 4.3 0 1 0-8.6 0M103.9 1012.3a4.3 4.3 0 1 0 8.6 0a4.3 4.3 0 1 0-8.6 0M401.3 1012.3a4.3 4.3 0 1 0 8.6 0a4.3 4.3 0 1 0-8.6 0M411.9 1012.3a4.3 4.3 0 1 0 8.6 0a4.3 4.3 0 1 0-8.6 0M422.5 1012.3a4.3 4.3 0 1 0 8.6 0a4.3 4.3 0 1 0-8.6 0M465.0 1012.3a4.3 4.3 0 1 0 8.6 0a4.3 4.3 0 1 0-8.6 0M496.9 1012.3a4.3 4.3 0 1 0 8.6 0a4.3 4.3 0 1 0-8.6 0M178.3 1023.0a4.3 4.3 0 1 0 8.6 0a4.3 4.3 0 1 0-8.6 0M242.0 1023.0a4.3 4.3 0 1 0 8.6 0a4.3 4.3 0 1 0-8.6 0M273.8 1023.0a4.3 4.3 0 1 0 8.6 0a4.3 4.3 0 1 0-8.6 0M358.8 1023.0a4.3 4.3 0 1 0 8.6 0a4.3 4.3 0 1 0-8.6 0M380.0 1023.0a4.3 4.3 0 1 0 8.6 0a4.3 4.3 0 1 0-8.6 0M486.2 1023.0a4.3 4.3 0 1 0 8.6 0a4.3 4.3 0 1 0-8.6 0M518.1 1023.0a4.3 4.3 0 1 0 8.6 0a4.3 4.3 0 1 0-8.6 0M528.7 1023.0a4.3 4.3 0 1 0 8.6 0a4.3 4.3 0 1 0-8.6 0M284.5 1033.6a4.3 4.3 0 1 0 8.6 0a4.3 4.3 0 1 0-8.6 0M295.1 1033.6a4.3 4.3 0 1 0 8.6 0a4.3 4.3 0 1 0-8.6 0M348.2 1033.6a4.3 4.3 0 1 0 8.6 0a4.3 4.3 0 1 0-8.6 0M380.0 1033.6a4.3 4.3 0 1 0 8.6 0a4.3 4.3 0 1 0-8.6 0M411.9 1033.6a4.3 4.3 0 1 0 8.6 0a4.3 4.3 0 1 0-8.6 0M454.4 1033.6a4.3 4.3 0 1 0 8.6 0a4.3 4.3 0 1 0-8.6 0M507.5 1033.6a4.3 4.3 0 1 0 8.6 0a4.3 4.3 0 1 0-8.6 0M528.7 1033.6a4.3 4.3 0 1 0 8.6 0a4.3 4.3 0 1 0-8.6 0M125.2 1044.3a4.3 4.3 0 1 0 8.6 0a4.3 4.3 0 1 0-8.6 0M146.4 1044.3a4.3 4.3 0 1 0 8.6 0a4.3 4.3 0 1 0-8.6 0M273.8 1044.3a4.3 4.3 0 1 0 8.6 0a4.3 4.3 0 1 0-8.6 0M401.3 1044.3a4.3 4.3 0 1 0 8.6 0a4.3 4.3 0 1 0-8.6 0M433.1 1044.3a4.3 4.3 0 1 0 8.6 0a4.3 4.3 0 1 0-8.6 0M443.8 1044.3a4.3 4.3 0 1 0 8.6 0a4.3 4.3 0 1 0-8.6 0M454.4 1044.3a4.3 4.3 0 1 0 8.6 0a4.3 4.3 0 1 0-8.6 0M475.6 1044.3a4.3 4.3 0 1 0 8.6 0a4.3 4.3 0 1 0-8.6 0M157.0 1054.9a4.3 4.3 0 1 0 8.6 0a4.3 4.3 0 1 0-8.6 0M199.5 1054.9a4.3 4.3 0 1 0 8.6 0a4.3 4.3 0 1 0-8.6 0M284.5 1054.9a4.3 4.3 0 1 0 8.6 0a4.3 4.3 0 1 0-8.6 0M316.3 1054.9a4.3 4.3 0 1 0 8.6 0a4.3 4.3 0 1 0-8.6 0M337.6 1054.9a4.3 4.3 0 1 0 8.6 0a4.3 4.3 0 1 0-8.6 0M443.8 1054.9a4.3 4.3 0 1 0 8.6 0a4.3 4.3 0 1 0-8.6 0M465.0 1054.9a4.3 4.3 0 1 0 8.6 0a4.3 4.3 0 1 0-8.6 0M486.2 1054.9a4.3 4.3 0 1 0 8.6 0a4.3 4.3 0 1 0-8.6 0M167.6 1065.5a4.3 4.3 0 1 0 8.6 0a4.3 4.3 0 1 0-8.6 0M188.9 1065.5a4.3 4.3 0 1 0 8.6 0a4.3 4.3 0 1 0-8.6 0M220.7 1065.5a4.3 4.3 0 1 0 8.6 0a4.3 4.3 0 1 0-8.6 0M284.5 1065.5a4.3 4.3 0 1 0 8.6 0a4.3 4.3 0 1 0-8.6 0M337.6 1065.5a4.3 4.3 0 1 0 8.6 0a4.3 4.3 0 1 0-8.6 0M422.5 1065.5a4.3 4.3 0 1 0 8.6 0a4.3 4.3 0 1 0-8.6 0M454.4 1065.5a4.3 4.3 0 1 0 8.6 0a4.3 4.3 0 1 0-8.6 0M486.2 1065.5a4.3 4.3 0 1 0 8.6 0a4.3 4.3 0 1 0-8.6 0M167.6 1076.2a4.3 4.3 0 1 0 8.6 0a4.3 4.3 0 1 0-8.6 0M178.3 1076.2a4.3 4.3 0 1 0 8.6 0a4.3 4.3 0 1 0-8.6 0M486.2 1076.2a4.3 4.3 0 1 0 8.6 0a4.3 4.3 0 1 0-8.6 0M231.4 1086.8a4.3 4.3 0 1 0 8.6 0a4.3 4.3 0 1 0-8.6 0M305.7 1086.8a4.3 4.3 0 1 0 8.6 0a4.3 4.3 0 1 0-8.6 0M337.6 1086.8a4.3 4.3 0 1 0 8.6 0a4.3 4.3 0 1 0-8.6 0M390.7 1086.8a4.3 4.3 0 1 0 8.6 0a4.3 4.3 0 1 0-8.6 0M411.9 1086.8a4.3 4.3 0 1 0 8.6 0a4.3 4.3 0 1 0-8.6 0M135.8 1097.5a4.3 4.3 0 1 0 8.6 0a4.3 4.3 0 1 0-8.6 0M199.5 1097.5a4.3 4.3 0 1 0 8.6 0a4.3 4.3 0 1 0-8.6 0M433.1 1097.5a4.3 4.3 0 1 0 8.6 0a4.3 4.3 0 1 0-8.6 0M103.9 1108.1a4.3 4.3 0 1 0 8.6 0a4.3 4.3 0 1 0-8.6 0M135.8 1108.1a4.3 4.3 0 1 0 8.6 0a4.3 4.3 0 1 0-8.6 0M422.5 1108.1a4.3 4.3 0 1 0 8.6 0a4.3 4.3 0 1 0-8.6 0M507.5 1108.1a4.3 4.3 0 1 0 8.6 0a4.3 4.3 0 1 0-8.6 0M295.1 1118.8a4.3 4.3 0 1 0 8.6 0a4.3 4.3 0 1 0-8.6 0M348.2 1118.8a4.3 4.3 0 1 0 8.6 0a4.3 4.3 0 1 0-8.6 0M411.9 1118.8a4.3 4.3 0 1 0 8.6 0a4.3 4.3 0 1 0-8.6 0M486.2 1118.8a4.3 4.3 0 1 0 8.6 0a4.3 4.3 0 1 0-8.6 0M103.9 1129.4a4.3 4.3 0 1 0 8.6 0a4.3 4.3 0 1 0-8.6 0M125.2 1129.4a4.3 4.3 0 1 0 8.6 0a4.3 4.3 0 1 0-8.6 0M337.6 1129.4a4.3 4.3 0 1 0 8.6 0a4.3 4.3 0 1 0-8.6 0M380.0 1129.4a4.3 4.3 0 1 0 8.6 0a4.3 4.3 0 1 0-8.6 0M454.4 1129.4a4.3 4.3 0 1 0 8.6 0a4.3 4.3 0 1 0-8.6 0M496.9 1129.4a4.3 4.3 0 1 0 8.6 0a4.3 4.3 0 1 0-8.6 0" fill="#b8cffa"/>
<path d="M210.1 725.0a4.3 4.3 0 1 0 8.6 0a4.3 4.3 0 1 0-8.6 0M178.3 735.6a4.3 4.3 0 1 0 8.6 0a4.3 4.3 0 1 0-8.6 0M220.7 735.6a4.3 4.3 0 1 0 8.6 0a4.3 4.3 0 1 0-8.6 0M326.9 735.6a4.3 4.3 0 1 0 8.6 0a4.3 4.3 0 1 0-8.6 0M528.7 735.6a4.3 4.3 0 1 0 8.6 0a4.3 4.3 0 1 0-8.6 0M125.2 746.3a4.3 4.3 0 1 0 8.6 0a4.3 4.3 0 1 0-8.6 0M305.7 746.3a4.3 4.3 0 1 0 8.6 0a4.3 4.3 0 1 0-8.6 0M316.3 746.3a4.3 4.3 0 1 0 8.6 0a4.3 4.3 0 1 0-8.6 0M475.6 746.3a4.3 4.3 0 1 0 8.6 0a4.3 4.3 0 1 0-8.6 0M103.9 756.9a4.3 4.3 0 1 0 8.6 0a4.3 4.3 0 1 0-8.6 0M273.8 756.9a4.3 4.3 0 1 0 8.6 0a4.3 4.3 0 1 0-8.6 0M305.7 756.9a4.3 4.3 0 1 0 8.6 0a4.3 4.3 0 1 0-8.6 0M316.3 756.9a4.3 4.3 0 1 0 8.6 0a4.3 4.3 0 1 0-8.6 0M103.9 767.6a4.3 4.3 0 1 0 8.6 0a4.3 4.3 0 1 0-8.6 0M157.0 767.6a4.3 4.3 0 1 0 8.6 0a4.3 4.3 0 1 0-8.6 0M326.9 767.6a4.3 4.3 0 1 0 8.6 0a4.3 4.3 0 1 0-8.6 0M337.6 767.6a4.3 4.3 0 1 0 8.6 0a4.3 4.3 0 1 0-8.6 0M348.2 767.6a4.3 4.3 0 1 0 8.6 0a4.3 4.3 0 1 0-8.6 0M380.0 767.6a4.3 4.3 0 1 0 8.6 0a4.3 4.3 0 1 0-8.6 0M125.2 778.2a4.3 4.3 0 1 0 8.6 0a4.3 4.3 0 1 0-8.6 0M295.1 778.2a4.3 4.3 0 1 0 8.6 0a4.3 4.3 0 1 0-8.6 0M114.5 788.9a4.3 4.3 0 1 0 8.6 0a4.3 4.3 0 1 0-8.6 0M337.6 788.9a4.3 4.3 0 1 0 8.6 0a4.3 4.3 0 1 0-8.6 0M348.2 788.9a4.3 4.3 0 1 0 8.6 0a4.3 4.3 0 1 0-8.6 0M358.8 788.9a4.3 4.3 0 1 0 8.6 0a4.3 4.3 0 1 0-8.6 0M135.8 799.5a4.3 4.3 0 1 0 8.6 0a4.3 4.3 0 1 0-8.6 0M326.9 799.5a4.3 4.3 0 1 0 8.6 0a4.3 4.3 0 1 0-8.6 0M390.7 799.5a4.3 4.3 0 1 0 8.6 0a4.3 4.3 0 1 0-8.6 0M475.6 799.5a4.3 4.3 0 1 0 8.6 0a4.3 4.3 0 1 0-8.6 0M316.3 810.1a4.3 4.3 0 1 0 8.6 0a4.3 4.3 0 1 0-8.6 0M326.9 810.1a4.3 4.3 0 1 0 8.6 0a4.3 4.3 0 1 0-8.6 0M125.2 820.8a4.3 4.3 0 1 0 8.6 0a4.3 4.3 0 1 0-8.6 0M114.5 831.4a4.3 4.3 0 1 0 8.6 0a4.3 4.3 0 1 0-8.6 0M125.2 831.4a4.3 4.3 0 1 0 8.6 0a4.3 4.3 0 1 0-8.6 0M135.8 831.4a4.3 4.3 0 1 0 8.6 0a4.3 4.3 0 1 0-8.6 0M422.5 831.4a4.3 4.3 0 1 0 8.6 0a4.3 4.3 0 1 0-8.6 0M220.7 842.1a4.3 4.3 0 1 0 8.6 0a4.3 4.3 0 1 0-8.6 0M358.8 842.1a4.3 4.3 0 1 0 8.6 0a4.3 4.3 0 1 0-8.6 0M114.5 852.7a4.3 4.3 0 1 0 8.6 0a4.3 4.3 0 1 0-8.6 0M125.2 852.7a4.3 4.3 0 1 0 8.6 0a4.3 4.3 0 1 0-8.6 0M390.7 852.7a4.3 4.3 0 1 0 8.6 0a4.3 4.3 0 1 0-8.6 0M411.9 863.3a4.3 4.3 0 1 0 8.6 0a4.3 4.3 0 1 0-8.6 0M422.5 863.3a4.3 4.3 0 1 0 8.6 0a4.3 4.3 0 1 0-8.6 0M443.8 863.3a4.3 4.3 0 1 0 8.6 0a4.3 4.3 0 1 0-8.6 0M114.5 874.0a4.3 4.3 0 1 0 8.6 0a4.3 4.3 0 1 0-8.6 0M188.9 874.0a4.3 4.3 0 1 0 8.6 0a4.3 4.3 0 1 0-8.6 0M199.5 874.0a4.3 4.3 0 1 0 8.6 0a4.3 4.3 0 1 0-8.6 0M475.6 874.0a4.3 4.3 0 1 0 8.6 0a4.3 4.3 0 1 0-8.6 0M507.5 874.0a4.3 4.3 0 1 0 8.6 0a4.3 4.3 0 1 0-8.6 0M93.3 884.6a4.3 4.3 0 1 0 8.6 0a4.3 4.3 0 1 0-8.6 0M114.5 884.6a4.3 4.3 0 1 0 8.6 0a4.3 4.3 0 1 0-8.6 0M157.0 884.6a4.3 4.3 0 1 0 8.6 0a4.3 4.3 0 1 0-8.6 0M146.4 895.3a4.3 4.3 0 1 0 8.6 0a4.3 4.3 0 1 0-8.6 0M167.6 895.3a4.3 4.3 0 1 0 8.6 0a4.3 4.3 0 1 0-8.6 0M337.6 895.3a4.3 4.3 0 1 0 8.6 0a4.3 4.3 0 1 0-8.6 0M422.5 895.3a4.3 4.3 0 1 0 8.6 0a4.3 4.3 0 1 0-8.6 0M231.4 916.6a4.3 4.3 0 1 0 8.6 0a4.3 4.3 0 1 0-8.6 0M252.6 916.6a4.3 4.3 0 1 0 8.6 0a4.3 4.3 0 1 0-8.6 0M433.1 916.6a4.3 4.3 0 1 0 8.6 0a4.3 4.3 0 1 0-8.6 0M188.9 927.2a4.3 4.3 0 1 0 8.6 0a4.3 4.3 0 1 0-8.6 0M220.7 927.2a4.3 4.3 0 1 0 8.6 0a4.3 4.3 0 1 0-8.6 0M231.4 927.2a4.3 4.3 0 1 0 8.6 0a4.3 4.3 0 1 0-8.6 0M326.9 927.2a4.3 4.3 0 1 0 8.6 0a4.3 4.3 0 1 0-8.6 0M380.0 927.2a4.3 4.3 0 1 0 8.6 0a4.3 4.3 0 1 0-8.6 0M401.3 927.2a4.3 4.3 0 1 0 8.6 0a4.3 4.3 0 1 0-8.6 0M507.5 927.2a4.3 4.3 0 1 0 8.6 0a4.3 4.3 0 1 0-8.6 0M358.8 937.8a4.3 4.3 0 1 0 8.6 0a4.3 4.3 0 1 0-8.6 0M380.0 937.8a4.3 4.3 0 1 0 8.6 0a4.3 4.3 0 1 0-8.6 0M135.8 948.5a4.3 4.3 0 1 0 8.6 0a4.3 4.3 0 1 0-8.6 0M231.4 948.5a4.3 4.3 0 1 0 8.6 0a4.3 4.3 0 1 0-8.6 0M326.9 948.5a4.3 4.3 0 1 0 8.6 0a4.3 4.3 0 1 0-8.6 0M411.9 948.5a4.3 4.3 0 1 0 8.6 0a4.3 4.3 0 1 0-8.6 0M422.5 948.5a4.3 4.3 0 1 0 8.6 0a4.3 4.3 0 1 0-8.6 0M454.4 948.5a4.3 4.3 0 1 0 8.6 0a4.3 4.3 0 1 0-8.6 0M486.2 948.5a4.3 4.3 0 1 0 8.6 0a4.3 4.3 0 1 0-8.6 0M103.9 959.1a4.3 4.3 0 1 0 8.6 0a4.3 4.3 0 1 0-8.6 0M146.4 959.1a4.3 4.3 0 1 0 8.6 0a4.3 4.3 0 1 0-8.6 0M210.1 959.1a4.3 4.3 0 1 0 8.6 0a4.3 4.3 0 1 0-8.6 0M263.2 959.1a4.3 4.3 0 1 0 8.6 0a4.3 4.3 0 1 0-8.6 0M348.2 959.1a4.3 4.3 0 1 0 8.6 0a4.3 4.3 0 1 0-8.6 0M454.4 959.1a4.3 4.3 0 1 0 8.6 0a4.3 4.3 0 1 0-8.6 0M422.5 969.8a4.3 4.3 0 1 0 8.6 0a4.3 4.3 0 1 0-8.6 0M454.4 969.8a4.3 4.3 0 1 0 8.6 0a4.3 4.3 0 1 0-8.6 0M316.3 980.4a4.3 4.3 0 1 0 8.6 0a4.3 4.3 0 1 0-8.6 0M326.9 980.4a4.3 4.3 0 1 0 8.6 0a4.3 4.3 0 1 0-8.6 0M358.8 980.4a4.3 4.3 0 1 0 8.6 0a4.3 4.3 0 1 0-8.6 0M465.0 980.4a4.3 4.3 0 1 0 8.6 0a4.3 4.3 0 1 0-8.6 0M178.3 991.0a4.3 4.3 0 1 0 8.6 0a4.3 4.3 0 1 0-8.6 0M305.7 991.0a4.3 4.3 0 1 0 8.6 0a4.3 4.3 0 1 0-8.6 0M337.6 991.0a4.3 4.3 0 1 0 8.6 0a4.3 4.3 0 1 0-8.6 0M401.3 991.0a4.3 4.3 0 1 0 8.6 0a4.3 4.3 0 1 0-8.6 0M231.4 1001.7a4.3 4.3 0 1 0 8.6 0a4.3 4.3 0 1 0-8.6 0M337.6 1001.7a4.3 4.3 0 1 0 8.6 0a4.3 4.3 0 1 0-8.6 0M401.3 1001.7a4.3 4.3 0 1 0 8.6 0a4.3 4.3 0 1 0-8.6 0M486.2 1001.7a4.3 4.3 0 1 0 8.6 0a4.3 4.3 0 1 0-8.6 0M157.0 1012.3a4.3 4.3 0 1 0 8.6 0a4.3 4.3 0 1 0-8.6 0M358.8 1012.3a4.3 4.3 0 1 0 8.6 0a4.3 4.3 0 1 0-8.6 0M475.6 1012.3a4.3 4.3 0 1 0 8.6 0a4.3 4.3 0 1 0-8.6 0M93.3 1023.0a4.3 4.3 0 1 0 8.6 0a4.3 4.3 0 1 0-8.6 0M220.7 1023.0a4.3 4.3 0 1 0 8.6 0a4.3 4.3 0 1 0-8.6 0M348.2 1023.0a4.3 4.3 0 1 0 8.6 0a4.3 4.3 0 1 0-8.6 0M369.4 1023.0a4.3 4.3 0 1 0 8.6 0a4.3 4.3 0 1 0-8.6 0M401.3 1023.0a4.3 4.3 0 1 0 8.6 0a4.3 4.3 0 1 0-8.6 0M454.4 1023.0a4.3 4.3 0 1 0 8.6 0a4.3 4.3 0 1 0-8.6 0M496.9 1023.0a4.3 4.3 0 1 0 8.6 0a4.3 4.3 0 1 0-8.6 0M507.5 1023.0a4.3 4.3 0 1 0 8.6 0a4.3 4.3 0 1 0-8.6 0M125.2 1033.6a4.3 4.3 0 1 0 8.6 0a4.3 4.3 0 1 0-8.6 0M401.3 1033.6a4.3 4.3 0 1 0 8.6 0a4.3 4.3 0 1 0-8.6 0M443.8 1033.6a4.3 4.3 0 1 0 8.6 0a4.3 4.3 0 1 0-8.6 0M465.0 1033.6a4.3 4.3 0 1 0 8.6 0a4.3 4.3 0 1 0-8.6 0M475.6 1033.6a4.3 4.3 0 1 0 8.6 0a4.3 4.3 0 1 0-8.6 0M114.5 1044.3a4.3 4.3 0 1 0 8.6 0a4.3 4.3 0 1 0-8.6 0M188.9 1044.3a4.3 4.3 0 1 0 8.6 0a4.3 4.3 0 1 0-8.6 0M337.6 1044.3a4.3 4.3 0 1 0 8.6 0a4.3 4.3 0 1 0-8.6 0M348.2 1044.3a4.3 4.3 0 1 0 8.6 0a4.3 4.3 0 1 0-8.6 0M380.0 1044.3a4.3 4.3 0 1 0 8.6 0a4.3 4.3 0 1 0-8.6 0M528.7 1044.3a4.3 4.3 0 1 0 8.6 0a4.3 4.3 0 1 0-8.6 0M93.3 1054.9a4.3 4.3 0 1 0 8.6 0a4.3 4.3 0 1 0-8.6 0M135.8 1054.9a4.3 4.3 0 1 0 8.6 0a4.3 4.3 0 1 0-8.6 0M178.3 1054.9a4.3 4.3 0 1 0 8.6 0a4.3 4.3 0 1 0-8.6 0M369.4 1054.9a4.3 4.3 0 1 0 8.6 0a4.3 4.3 0 1 0-8.6 0M454.4 1054.9a4.3 4.3 0 1 0 8.6 0a4.3 4.3 0 1 0-8.6 0M496.9 1054.9a4.3 4.3 0 1 0 8.6 0a4.3 4.3 0 1 0-8.6 0M507.5 1054.9a4.3 4.3 0 1 0 8.6 0a4.3 4.3 0 1 0-8.6 0M231.4 1065.5a4.3 4.3 0 1 0 8.6 0a4.3 4.3 0 1 0-8.6 0M252.6 1065.5a4.3 4.3 0 1 0 8.6 0a4.3 4.3 0 1 0-8.6 0M305.7 1065.5a4.3 4.3 0 1 0 8.6 0a4.3 4.3 0 1 0-8.6 0M475.6 1065.5a4.3 4.3 0 1 0 8.6 0a4.3 4.3 0 1 0-8.6 0M242.0 1076.2a4.3 4.3 0 1 0 8.6 0a4.3 4.3 0 1 0-8.6 0M284.5 1076.2a4.3 4.3 0 1 0 8.6 0a4.3 4.3 0 1 0-8.6 0M316.3 1076.2a4.3 4.3 0 1 0 8.6 0a4.3 4.3 0 1 0-8.6 0M465.0 1076.2a4.3 4.3 0 1 0 8.6 0a4.3 4.3 0 1 0-8.6 0M496.9 1076.2a4.3 4.3 0 1 0 8.6 0a4.3 4.3 0 1 0-8.6 0M125.2 1086.8a4.3 4.3 0 1 0 8.6 0a4.3 4.3 0 1 0-8.6 0M199.5 1086.8a4.3 4.3 0 1 0 8.6 0a4.3 4.3 0 1 0-8.6 0M242.0 1086.8a4.3 4.3 0 1 0 8.6 0a4.3 4.3 0 1 0-8.6 0M369.4 1086.8a4.3 4.3 0 1 0 8.6 0a4.3 4.3 0 1 0-8.6 0M454.4 1086.8a4.3 4.3 0 1 0 8.6 0a4.3 4.3 0 1 0-8.6 0M465.0 1086.8a4.3 4.3 0 1 0 8.6 0a4.3 4.3 0 1 0-8.6 0M326.9 1097.5a4.3 4.3 0 1 0 8.6 0a4.3 4.3 0 1 0-8.6 0M369.4 1097.5a4.3 4.3 0 1 0 8.6 0a4.3 4.3 0 1 0-8.6 0M380.0 1097.5a4.3 4.3 0 1 0 8.6 0a4.3 4.3 0 1 0-8.6 0M454.4 1097.5a4.3 4.3 0 1 0 8.6 0a4.3 4.3 0 1 0-8.6 0M188.9 1108.1a4.3 4.3 0 1 0 8.6 0a4.3 4.3 0 1 0-8.6 0M284.5 1108.1a4.3 4.3 0 1 0 8.6 0a4.3 4.3 0 1 0-8.6 0M316.3 1108.1a4.3 4.3 0 1 0 8.6 0a4.3 4.3 0 1 0-8.6 0M369.4 1108.1a4.3 4.3 0 1 0 8.6 0a4.3 4.3 0 1 0-8.6 0M465.0 1108.1a4.3 4.3 0 1 0 8.6 0a4.3 4.3 0 1 0-8.6 0M486.2 1108.1a4.3 4.3 0 1 0 8.6 0a4.3 4.3 0 1 0-8.6 0M496.9 1108.1a4.3 4.3 0 1 0 8.6 0a4.3 4.3 0 1 0-8.6 0M518.1 1108.1a4.3 4.3 0 1 0 8.6 0a4.3 4.3 0 1 0-8.6 0M125.2 1118.8a4.3 4.3 0 1 0 8.6 0a4.3 4.3 0 1 0-8.6 0M475.6 1118.8a4.3 4.3 0 1 0 8.6 0a4.3 4.3 0 1 0-8.6 0M507.5 1118.8a4.3 4.3 0 1 0 8.6 0a4.3 4.3 0 1 0-8.6 0M93.3 1129.4a4.3 4.3 0 1 0 8.6 0a4.3 4.3 0 1 0-8.6 0M146.4 1129.4a4.3 4.3 0 1 0 8.6 0a4.3 4.3 0 1 0-8.6 0M157.0 1129.4a4.3 4.3 0 1 0 8.6 0a4.3 4.3 0 1 0-8.6 0M231.4 1129.4a4.3 4.3 0 1 0 8.6 0a4.3 4.3 0 1 0-8.6 0M443.8 1129.4a4.3 4.3 0 1 0 8.6 0a4.3 4.3 0 1 0-8.6 0M465.0 1129.4a4.3 4.3 0 1 0 8.6 0a4.3 4.3 0 1 0-8.6 0" fill="#c0d4f7"/>
<path d="M231.4 725.0a4.3 4.3 0 1 0 8.6 0a4.3 4.3 0 1 0-8.6 0M242.0 735.6a4.3 4.3 0 1 0 8.6 0a4.3 4.3 0 1 0-8.6 0M528.7 746.3a4.3 4.3 0 1 0 8.6 0a4.3 4.3 0 1 0-8.6 0M146.4 756.9a4.3 4.3 0 1 0 8.6 0a4.3 4.3 0 1 0-8.6 0M284.5 756.9a4.3 4.3 0 1 0 8.6 0a4.3 4.3 0 1 0-8.6 0M369.4 756.9a4.3 4.3 0 1 0 8.6 0a4.3 4.3 0 1 0-8.6 0M273.8 767.6a4.3 4.3 0 1 0 8.6 0a4.3 4.3 0 1 0-8.6 0M369.4 778.2a4.3 4.3 0 1 0 8.6 0a4.3 4.3 0 1 0-8.6 0M390.7 778.2a4.3 4.3 0 1 0 8.6 0a4.3 4.3 0 1 0-8.6 0M167.6 788.9a4.3 4.3 0 1 0 8.6 0a4.3 4.3 0 1 0-8.6 0M199.5 788.9a4.3 4.3 0 1 0 8.6 0a4.3 4.3 0 1 0-8.6 0M252.6 788.9a4.3 4.3 0 1 0 8.6 0a4.3 4.3 0 1 0-8.6 0M284.5 788.9a4.3 4.3 0 1 0 8.6 0a4.3 4.3 0 1 0-8.6 0M390.7 788.9a4.3 4.3 0 1 0 8.6 0a4.3 4.3 0 1 0-8.6 0M401.3 788.9a4.3 4.3 0 1 0 8.6 0a4.3 4.3 0 1 0-8.6 0M401.3 799.5a4.3 4.3 0 1 0 8.6 0a4.3 4.3 0 1 0-8.6 0M188.9 820.8a4.3 4.3 0 1 0 8.6 0a4.3 4.3 0 1 0-8.6 0M167.6 831.4a4.3 4.3 0 1 0 8.6 0a4.3 4.3 0 1 0-8.6 0M220.7 831.4a4.3 4.3 0 1 0 8.6 0a4.3 4.3 0 1 0-8.6 0M433.1 831.4a4.3 4.3 0 1 0 8.6 0a4.3 4.3 0 1 0-8.6 0M518.1 831.4a4.3 4.3 0 1 0 8.6 0a4.3 4.3 0 1 0-8.6 0M114.5 842.1a4.3 4.3 0 1 0 8.6 0a4.3 4.3 0 1 0-8.6 0M146.4 842.1a4.3 4.3 0 1 0 8.6 0a4.3 4.3 0 1 0-8.6 0M390.7 842.1a4.3 4.3 0 1 0 8.6 0a4.3 4.3 0 1 0-8.6 0M422.5 874.0a4.3 4.3 0 1 0 8.6 0a4.3 4.3 0 1 0-8.6 0M125.2 884.6a4.3 4.3 0 1 0 8.6 0a4.3 4.3 0 1 0-8.6 0M167.6 884.6a4.3 4.3 0 1 0 8.6 0a4.3 4.3 0 1 0-8.6 0M103.9 895.3a4.3 4.3 0 1 0 8.6 0a4.3 4.3 0 1 0-8.6 0M135.8 895.3a4.3 4.3 0 1 0 8.6 0a4.3 4.3 0 1 0-8.6 0M157.0 895.3a4.3 4.3 0 1 0 8.6 0a4.3 4.3 0 1 0-8.6 0M199.5 895.3a4.3 4.3 0 1 0 8.6 0a4.3 4.3 0 1 0-8.6 0M252.6 895.3a4.3 4.3 0 1 0 8.6 0a4.3 4.3 0 1 0-8.6 0M157.0 905.9a4.3 4.3 0 1 0 8.6 0a4.3 4.3 0 1 0-8.6 0M433.1 905.9a4.3 4.3 0 1 0 8.6 0a4.3 4.3 0 1 0-8.6 0M242.0 916.6a4.3 4.3 0 1 0 8.6 0a4.3 4.3 0 1 0-8.6 0M411.9 916.6a4.3 4.3 0 1 0 8.6 0a4.3 4.3 0 1 0-8.6 0M454.4 916.6a4.3 4.3 0 1 0 8.6 0a4.3 4.3 0 1 0-8.6 0M114.5 927.2a4.3 4.3 0 1 0 8.6 0a4.3 4.3 0 1 0-8.6 0M433.1 927.2a4.3 4.3 0 1 0 8.6 0a4.3 4.3 0 1 0-8.6 0M443.8 927.2a4.3 4.3 0 1 0 8.6 0a4.3 4.3 0 1 0-8.6 0M475.6 927.2a4.3 4.3 0 1 0 8.6 0a4.3 4.3 0 1 0-8.6 0M411.9 937.8a4.3 4.3 0 1 0 8.6 0a4.3 4.3 0 1 0-8.6 0M433.1 948.5a4.3 4.3 0 1 0 8.6 0a4.3 4.3 0 1 0-8.6 0M220.7 959.1a4.3 4.3 0 1 0 8.6 0a4.3 4.3 0 1 0-8.6 0M316.3 969.8a4.3 4.3 0 1 0 8.6 0a4.3 4.3 0 1 0-8.6 0M465.0 969.8a4.3 4.3 0 1 0 8.6 0a4.3 4.3 0 1 0-8.6 0M337.6 980.4a4.3 4.3 0 1 0 8.6 0a4.3 4.3 0 1 0-8.6 0M348.2 980.4a4.3 4.3 0 1 0 8.6 0a4.3 4.3 0 1 0-8.6 0M369.4 980.4a4.3 4.3 0 1 0 8.6 0a4.3 4.3 0 1 0-8.6 0M242.0 1001.7a4.3 4.3 0 1 0 8.6 0a4.3 4.3 0 1 0-8.6 0M326.9 1001.7a4.3 4.3 0 1 0 8.6 0a4.3 4.3 0 1 0-8.6 0M380.0 1001.7a4.3 4.3 0 1 0 8.6 0a4.3 4.3 0 1 0-8.6 0M454.4 1001.7a4.3 4.3 0 1 0 8.6 0a4.3 4.3 0 1 0-8.6 0M496.9 1001.7a4.3 4.3 0 1 0 8.6 0a4.3 4.3 0 1 0-8.6 0M263.2 1012.3a4.3 4.3 0 1 0 8.6 0a4.3 4.3 0 1 0-8.6 0M326.9 1012.3a4.3 4.3 0 1 0 8.6 0a4.3 4.3 0 1 0-8.6 0M337.6 1012.3a4.3 4.3 0 1 0 8.6 0a4.3 4.3 0 1 0-8.6 0M486.2 1012.3a4.3 4.3 0 1 0 8.6 0a4.3 4.3 0 1 0-8.6 0M231.4 1023.0a4.3 4.3 0 1 0 8.6 0a4.3 4.3 0 1 0-8.6 0M390.7 1023.0a4.3 4.3 0 1 0 8.6 0a4.3 4.3 0 1 0-8.6 0M114.5 1033.6a4.3 4.3 0 1 0 8.6 0a4.3 4.3 0 1 0-8.6 0M135.8 1033.6a4.3 4.3 0 1 0 8.6 0a4.3 4.3 0 1 0-8.6 0M146.4 1033.6a4.3 4.3 0 1 0 8.6 0a4.3 4.3 0 1 0-8.6 0M157.0 1033.6a4.3 4.3 0 1 0 8.6 0a4.3 4.3 0 1 0-8.6 0M337.6 1033.6a4.3 4.3 0 1 0 8.6 0a4.3 4.3 0 1 0-8.6 0M135.8 1044.3a4.3 4.3 0 1 0 8.6 0a4.3 4.3 0 1 0-8.6 0M220.7 1044.3a4.3 4.3 0 1 0 8.6 0a4.3 4.3 0 1 0-8.6 0M252.6 1054.9a4.3 4.3 0 1 0 8.6 0a4.3 4.3 0 1 0-8.6 0M273.8 1054.9a4.3 4.3 0 1 0 8.6 0a4.3 4.3 0 1 0-8.6 0M326.9 1054.9a4.3 4.3 0 1 0 8.6 0a4.3 4.3 0 1 0-8.6 0M475.6 1054.9a4.3 4.3 0 1 0 8.6 0a4.3 4.3 0 1 0-8.6 0M199.5 1065.5a4.3 4.3 0 1 0 8.6 0a4.3 4.3 0 1 0-8.6 0M263.2 1065.5a4.3 4.3 0 1 0 8.6 0a4.3 4.3 0 1 0-8.6 0M326.9 1065.5a4.3 4.3 0 1 0 8.6 0a4.3 4.3 0 1 0-8.6 0M358.8 1065.5a4.3 4.3 0 1 0 8.6 0a4.3 4.3 0 1 0-8.6 0M369.4 1065.5a4.3 4.3 0 1 0 8.6 0a4.3 4.3 0 1 0-8.6 0M369.4 1076.2a4.3 4.3 0 1 0 8.6 0a4.3 4.3 0 1 0-8.6 0M454.4 1076.2a4.3 4.3 0 1 0 8.6 0a4.3 4.3 0 1 0-8.6 0M326.9 1086.8a4.3 4.3 0 1 0 8.6 0a4.3 4.3 0 1 0-8.6 0M348.2 1086.8a4.3 4.3 0 1 0 8.6 0a4.3 4.3 0 1 0-8.6 0M103.9 1097.5a4.3 4.3 0 1 0 8.6 0a4.3 4.3 0 1 0-8.6 0M188.9 1097.5a4.3 4.3 0 1 0 8.6 0a4.3 4.3 0 1 0-8.6 0M273.8 1097.5a4.3 4.3 0 1 0 8.6 0a4.3 4.3 0 1 0-8.6 0M528.7 1097.5a4.3 4.3 0 1 0 8.6 0a4.3 4.3 0 1 0-8.6 0M125.2 1108.1a4.3 4.3 0 1 0 8.6 0a4.3 4.3 0 1 0-8.6 0M231.4 1108.1a4.3 4.3 0 1 0 8.6 0a4.3 4.3 0 1 0-8.6 0M358.8 1108.1a4.3 4.3 0 1 0 8.6 0a4.3 4.3 0 1 0-8.6 0M411.9 1108.1a4.3 4.3 0 1 0 8.6 0a4.3 4.3 0 1 0-8.6 0M433.1 1108.1a4.3 4.3 0 1 0 8.6 0a4.3 4.3 0 1 0-8.6 0M496.9 1118.8a4.3 4.3 0 1 0 8.6 0a4.3 4.3 0 1 0-8.6 0M242.0 1129.4a4.3 4.3 0 1 0 8.6 0a4.3 4.3 0 1 0-8.6 0M305.7 1129.4a4.3 4.3 0 1 0 8.6 0a4.3 4.3 0 1 0-8.6 0M316.3 1129.4a4.3 4.3 0 1 0 8.6 0a4.3 4.3 0 1 0-8.6 0M348.2 1129.4a4.3 4.3 0 1 0 8.6 0a4.3 4.3 0 1 0-8.6 0M528.7 1129.4a4.3 4.3 0 1 0 8.6 0a4.3 4.3 0 1 0-8.6 0" fill="#c6d7f4"/>
<path d="M220.7 725.0a4.3 4.3 0 1 0 8.6 0a4.3 4.3 0 1 0-8.6 0M326.9 725.0a4.3 4.3 0 1 0 8.6 0a4.3 4.3 0 1 0-8.6 0M114.5 735.6a4.3 4.3 0 1 0 8.6 0a4.3 4.3 0 1 0-8.6 0M135.8 735.6a4.3 4.3 0 1 0 8.6 0a4.3 4.3 0 1 0-8.6 0M210.1 735.6a4.3 4.3 0 1 0 8.6 0a4.3 4.3 0 1 0-8.6 0M305.7 735.6a4.3 4.3 0 1 0 8.6 0a4.3 4.3 0 1 0-8.6 0M178.3 746.3a4.3 4.3 0 1 0 8.6 0a4.3 4.3 0 1 0-8.6 0M273.8 746.3a4.3 4.3 0 1 0 8.6 0a4.3 4.3 0 1 0-8.6 0M465.0 746.3a4.3 4.3 0 1 0 8.6 0a4.3 4.3 0 1 0-8.6 0M486.2 746.3a4.3 4.3 0 1 0 8.6 0a4.3 4.3 0 1 0-8.6 0M93.3 756.9a4.3 4.3 0 1 0 8.6 0a4.3 4.3 0 1 0-8.6 0M114.5 767.6a4.3 4.3 0 1 0 8.6 0a4.3 4.3 0 1 0-8.6 0M252.6 767.6a4.3 4.3 0 1 0 8.6 0a4.3 4.3 0 1 0-8.6 0M305.7 767.6a4.3 4.3 0 1 0 8.6 0a4.3 4.3 0 1 0-8.6 0M103.9 778.2a4.3 4.3 0 1 0 8.6 0a4.3 4.3 0 1 0-8.6 0M135.8 778.2a4.3 4.3 0 1 0 8.6 0a4.3 4.3 0 1 0-8.6 0M242.0 778.2a4.3 4.3 0 1 0 8.6 0a4.3 4.3 0 1 0-8.6 0M326.9 778.2a4.3 4.3 0 1 0 8.6 0a4.3 4.3 0 1 0-8.6 0M422.5 778.2a4.3 4.3 0 1 0 8.6 0a4.3 4.3 0 1 0-8.6 0M518.1 778.2a4.3 4.3 0 1 0 8.6 0a4.3 4.3 0 1 0-8.6 0M273.8 788.9a4.3 4.3 0 1 0 8.6 0a4.3 4.3 0 1 0-8.6 0M316.3 788.9a4.3 4.3 0 1 0 8.6 0a4.3 4.3 0 1 0-8.6 0M411.9 788.9a4.3 4.3 0 1 0 8.6 0a4.3 4.3 0 1 0-8.6 0M305.7 799.5a4.3 4.3 0 1 0 8.6 0a4.3 4.3 0 1 0-8.6 0M465.0 799.5a4.3 4.3 0 1 0 8.6 0a4.3 4.3 0 1 0-8.6 0M486.2 799.5a4.3 4.3 0 1 0 8.6 0a4.3 4.3 0 1 0-8.6 0M93.3 810.1a4.3 4.3 0 1 0 8.6 0a4.3 4.3 0 1 0-8.6 0M295.1 810.1a4.3 4.3 0 1 0 8.6 0a4.3 4.3 0 1 0-8.6 0M305.7 810.1a4.3 4.3 0 1 0 8.6 0a4.3 4.3 0 1 0-8.6 0M454.4 820.8a4.3 4.3 0 1 0 8.6 0a4.3 4.3 0 1 0-8.6 0M93.3 831.4a4.3 4.3 0 1 0 8.6 0a4.3 4.3 0 1 0-8.6 0M188.9 831.4a4.3 4.3 0 1 0 8.6 0a4.3 4.3 0 1 0-8.6 0M326.9 831.4a4.3 4.3 0 1 0 8.6 0a4.3 4.3 0 1 0-8.6 0M411.9 831.4a4.3 4.3 0 1 0 8.6 0a4.3 4.3 0 1 0-8.6 0M443.8 842.1a4.3 4.3 0 1 0 8.6 0a4.3 4.3 0 1 0-8.6 0M465.0 852.7a4.3 4.3 0 1 0 8.6 0a4.3 4.3 0 1 0-8.6 0M146.4 863.3a4.3 4.3 0 1 0 8.6 0a4.3 4.3 0 1 0-8.6 0M242.0 863.3a4.3 4.3 0 1 0 8.6 0a4.3 4.3 0 1 0-8.6 0M295.1 863.3a4.3 4.3 0 1 0 8.6 0a4.3 4.3 0 1 0-8.6 0M358.8 863.3a4.3 4.3 0 1 0 8.6 0a4.3 4.3 0 1 0-8.6 0M433.1 863.3a4.3 4.3 0 1 0 8.6 0a4.3 4.3 0 1 0-8.6 0M465.0 863.3a4.3 4.3 0 1 0 8.6 0a4.3 4.3 0 1 0-8.6 0M178.3 874.0a4.3 4.3 0 1 0 8.6 0a4.3 4.3 0 1 0-8.6 0M231.4 874.0a4.3 4.3 0 1 0 8.6 0a4.3 4.3 0 1 0-8.6 0M146.4 884.6a4.3 4.3 0 1 0 8.6 0a4.3 4.3 0 1 0-8.6 0M326.9 884.6a4.3 4.3 0 1 0 8.6 0a4.3 4.3 0 1 0-8.6 0M433.1 884.6a4.3 4.3 0 1 0 8.6 0a4.3 4.3 0 1 0-8.6 0M486.2 884.6a4.3 4.3 0 1 0 8.6 0a4.3 4.3 0 1 0-8.6 0M178.3 895.3a4.3 4.3 0 1 0 8.6 0a4.3 4.3 0 1 0-8.6 0M295.1 895.3a4.3 4.3 0 1 0 8.6 0a4.3 4.3 0 1 0-8.6 0M316.3 895.3a4.3 4.3 0 1 0 8.6 0a4.3 4.3 0 1 0-8.6 0M114.5 905.9a4.3 4.3 0 1 0 8.6 0a4.3 4.3 0 1 0-8.6 0M220.7 905.9a4.3 4.3 0 1 0 8.6 0a4.3 4.3 0 1 0-8.6 0M326.9 905.9a4.3 4.3 0 1 0 8.6 0a4.3 4.3 0 1 0-8.6 0M380.0 916.6a4.3 4.3 0 1 0 8.6 0a4.3 4.3 0 1 0-8.6 0M486.2 916.6a4.3 4.3 0 1 0 8.6 0a4.3 4.3 0 1 0-8.6 0M199.5 927.2a4.3 4.3 0 1 0 8.6 0a4.3 4.3 0 1 0-8.6 0M242.0 927.2a4.3 4.3 0 1 0 8.6 0a4.3 4.3 0 1 0-8.6 0M188.9 937.8a4.3 4.3 0 1 0 8.6 0a4.3 4.3 0 1 0-8.6 0M316.3 937.8a4.3 4.3 0 1 0 8.6 0a4.3 4.3 0 1 0-8.6 0M348.2 937.8a4.3 4.3 0 1 0 8.6 0a4.3 4.3 0 1 0-8.6 0M528.7 937.8a4.3 4.3 0 1 0 8.6 0a4.3 4.3 0 1 0-8.6 0M199.5 948.5a4.3 4.3 0 1 0 8.6 0a4.3 4.3 0 1 0-8.6 0M210.1 948.5a4.3 4.3 0 1 0 8.6 0a4.3 4.3 0 1 0-8.6 0M496.9 948.5a4.3 4.3 0 1 0 8.6 0a4.3 4.3 0 1 0-8.6 0M114.5 959.1a4.3 4.3 0 1 0 8.6 0a4.3 4.3 0 1 0-8.6 0M135.8 959.1a4.3 4.3 0 1 0 8.6 0a4.3 4.3 0 1 0-8.6 0M157.0 959.1a4.3 4.3 0 1 0 8.6 0a4.3 4.3 0 1 0-8.6 0M252.6 959.1a4.3 4.3 0 1 0 8.6 0a4.3 4.3 0 1 0-8.6 0M220.7 969.8a4.3 4.3 0 1 0 8.6 0a4.3 4.3 0 1 0-8.6 0M252.6 969.8a4.3 4.3 0 1 0 8.6 0a4.3 4.3 0 1 0-8.6 0M284.5 980.4a4.3 4.3 0 1 0 8.6 0a4.3 4.3 0 1 0-8.6 0M316.3 991.0a4.3 4.3 0 1 0 8.6 0a4.3 4.3 0 1 0-8.6 0M93.3 1001.7a4.3 4.3 0 1 0 8.6 0a4.3 4.3 0 1 0-8.6 0M295.1 1001.7a4.3 4.3 0 1 0 8.6 0a4.3 4.3 0 1 0-8.6 0M316.3 1001.7a4.3 4.3 0 1 0 8.6 0a4.3 4.3 0 1 0-8.6 0M348.2 1001.7a4.3 4.3 0 1 0 8.6 0a4.3 4.3 0 1 0-8.6 0M443.8 1001.7a4.3 4.3 0 1 0 8.6 0a4.3 4.3 0 1 0-8.6 0M135.8 1012.3a4.3 4.3 0 1 0 8.6 0a4.3 4.3 0 1 0-8.6 0M178.3 1012.3a4.3 4.3 0 1 0 8.6 0a4.3 4.3 0 1 0-8.6 0M295.1 1012.3a4.3 4.3 0 1 0 8.6 0a4.3 4.3 0 1 0-8.6 0M380.0 1012.3a4.3 4.3 0 1 0 8.6 0a4.3 4.3 0 1 0-8.6 0M305.7 1023.0a4.3 4.3 0 1 0 8.6 0a4.3 4.3 0 1 0-8.6 0M199.5 1033.6a4.3 4.3 0 1 0 8.6 0a4.3 4.3 0 1 0-8.6 0M242.0 1033.6a4.3 4.3 0 1 0 8.6 0a4.3 4.3 0 1 0-8.6 0M252.6 1033.6a4.3 4.3 0 1 0 8.6 0a4.3 4.3 0 1 0-8.6 0M146.4 1054.9a4.3 4.3 0 1 0 8.6 0a4.3 4.3 0 1 0-8.6 0M114.5 1065.5a4.3 4.3 0 1 0 8.6 0a4.3 4.3 0 1 0-8.6 0M146.4 1065.5a4.3 4.3 0 1 0 8.6 0a4.3 4.3 0 1 0-8.6 0M273.8 1065.5a4.3 4.3 0 1 0 8.6 0a4.3 4.3 0 1 0-8.6 0M380.0 1076.2a4.3 4.3 0 1 0 8.6 0a4.3 4.3 0 1 0-8.6 0M401.3 1076.2a4.3 4.3 0 1 0 8.6 0a4.3 4.3 0 1 0-8.6 0M507.5 1076.2a4.3 4.3 0 1 0 8.6 0a4.3 4.3 0 1 0-8.6 0M528.7 1076.2a4.3 4.3 0 1 0 8.6 0a4.3 4.3 0 1 0-8.6 0M114.5 1086.8a4.3 4.3 0 1 0 8.6 0a4.3 4.3 0 1 0-8.6 0M528.7 1086.8a4.3 4.3 0 1 0 8.6 0a4.3 4.3 0 1 0-8.6 0M422.5 1097.5a4.3 4.3 0 1 0 8.6 0a4.3 4.3 0 1 0-8.6 0M93.3 1118.8a4.3 4.3 0 1 0 8.6 0a4.3 4.3 0 1 0-8.6 0M114.5 1118.8a4.3 4.3 0 1 0 8.6 0a4.3 4.3 0 1 0-8.6 0M284.5 1118.8a4.3 4.3 0 1 0 8.6 0a4.3 4.3 0 1 0-8.6 0M443.8 1118.8a4.3 4.3 0 1 0 8.6 0a4.3 4.3 0 1 0-8.6 0" fill="#d9dee5"/>
<path d="M146.4 725.0a4.3 4.3 0 1 0 8.6 0a4.3 4.3 0 1 0-8.6 0M316.3 725.0a4.3 4.3 0 1 0 8.6 0a4.3 4.3 0 1 0-8.6 0M337.6 725.0a4.3 4.3 0 1 0 8.6 0a4.3 4.3 0 1 0-8.6 0M496.9 725.0a4.3 4.3 0 1 0 8.6 0a4.3 4.3 0 1 0-8.6 0M103.9 735.6a4.3 4.3 0 1 0 8.6 0a4.3 4.3 0 1 0-8.6 0M146.4 735.6a4.3 4.3 0 1 0 8.6 0a4.3 4.3 0 1 0-8.6 0M167.6 735.6a4.3 4.3 0 1 0 8.6 0a4.3 4.3 0 1 0-8.6 0M188.9 735.6a4.3 4.3 0 1 0 8.6 0a4.3 4.3 0 1 0-8.6 0M369.4 735.6a4.3 4.3 0 1 0 8.6 0a4.3 4.3 0 1 0-8.6 0M507.5 735.6a4.3 4.3 0 1 0 8.6 0a4.3 4.3 0 1 0-8.6 0M114.5 746.3a4.3 4.3 0 1 0 8.6 0a4.3 4.3 0 1 0-8.6 0M252.6 746.3a4.3 4.3 0 1 0 8.6 0a4.3 4.3 0 1 0-8.6 0M284.5 746.3a4.3 4.3 0 1 0 8.6 0a4.3 4.3 0 1 0-8.6 0M369.4 746.3a4.3 4.3 0 1 0 8.6 0a4.3 4.3 0 1 0-8.6 0M380.0 746.3a4.3 4.3 0 1 0 8.6 0a4.3 4.3 0 1 0-8.6 0M167.6 756.9a4.3 4.3 0 1 0 8.6 0a4.3 4.3 0 1 0-8.6 0M210.1 756.9a4.3 4.3 0 1 0 8.6 0a4.3 4.3 0 1 0-8.6 0M252.6 756.9a4.3 4.3 0 1 0 8.6 0a4.3 4.3 0 1 0-8.6 0M263.2 756.9a4.3 4.3 0 1 0 8.6 0a4.3 4.3 0 1 0-8.6 0M422.5 756.9a4.3 4.3 0 1 0 8.6 0a4.3 4.3 0 1 0-8.6 0M369.4 767.6a4.3 4.3 0 1 0 8.6 0a4.3 4.3 0 1 0-8.6 0M422.5 767.6a4.3 4.3 0 1 0 8.6 0a4.3 4.3 0 1 0-8.6 0M486.2 767.6a4.3 4.3 0 1 0 8.6 0a4.3 4.3 0 1 0-8.6 0M358.8 778.2a4.3 4.3 0 1 0 8.6 0a4.3 4.3 0 1 0-8.6 0M103.9 799.5a4.3 4.3 0 1 0 8.6 0a4.3 4.3 0 1 0-8.6 0M210.1 799.5a4.3 4.3 0 1 0 8.6 0a4.3 4.3 0 1 0-8.6 0M199.5 820.8a4.3 4.3 0 1 0 8.6 0a4.3 4.3 0 1 0-8.6 0M220.7 820.8a4.3 4.3 0 1 0 8.6 0a4.3 4.3 0 1 0-8.6 0M231.4 820.8a4.3 4.3 0 1 0 8.6 0a4.3 4.3 0 1 0-8.6 0M273.8 820.8a4.3 4.3 0 1 0 8.6 0a4.3 4.3 0 1 0-8.6 0M284.5 820.8a4.3 4.3 0 1 0 8.6 0a4.3 4.3 0 1 0-8.6 0M210.1 831.4a4.3 4.3 0 1 0 8.6 0a4.3 4.3 0 1 0-8.6 0M167.6 842.1a4.3 4.3 0 1 0 8.6 0a4.3 4.3 0 1 0-8.6 0M210.1 842.1a4.3 4.3 0 1 0 8.6 0a4.3 4.3 0 1 0-8.6 0M337.6 842.1a4.3 4.3 0 1 0 8.6 0a4.3 4.3 0 1 0-8.6 0M411.9 842.1a4.3 4.3 0 1 0 8.6 0a4.3 4.3 0 1 0-8.6 0M475.6 842.1a4.3 4.3 0 1 0 8.6 0a4.3 4.3 0 1 0-8.6 0M167.6 852.7a4.3 4.3 0 1 0 8.6 0a4.3 4.3 0 1 0-8.6 0M220.7 852.7a4.3 4.3 0 1 0 8.6 0a4.3 4.3 0 1 0-8.6 0M167.6 863.3a4.3 4.3 0 1 0 8.6 0a4.3 4.3 0 1 0-8.6 0M220.7 863.3a4.3 4.3 0 1 0 8.6 0a4.3 4.3 0 1 0-8.6 0M305.7 863.3a4.3 4.3 0 1 0 8.6 0a4.3 4.3 0 1 0-8.6 0M454.4 874.0a4.3 4.3 0 1 0 8.6 0a4.3 4.3 0 1 0-8.6 0M135.8 884.6a4.3 4.3 0 1 0 8.6 0a4.3 4.3 0 1 0-8.6 0M220.7 884.6a4.3 4.3 0 1 0 8.6 0a4.3 4.3 0 1 0-8.6 0M465.0 884.6a4.3 4.3 0 1 0 8.6 0a4.3 4.3 0 1 0-8.6 0M348.2 895.3a4.3 4.3 0 1 0 8.6 0a4.3 4.3 0 1 0-8.6 0M475.6 895.3a4.3 4.3 0 1 0 8.6 0a4.3 4.3 0 1 0-8.6 0M507.5 905.9a4.3 4.3 0 1 0 8.6 0a4.3 4.3 0 1 0-8.6 0M326.9 916.6a4.3 4.3 0 1 0 8.6 0a4.3 4.3 0 1 0-8.6 0M295.1 927.2a4.3 4.3 0 1 0 8.6 0a4.3 4.3 0 1 0-8.6 0M273.8 937.8a4.3 4.3 0 1 0 8.6 0a4.3 4.3 0 1 0-8.6 0M295.1 937.8a4.3 4.3 0 1 0 8.6 0a4.3 4.3 0 1 0-8.6 0M326.9 937.8a4.3 4.3 0 1 0 8.6 0a4.3 4.3 0 1 0-8.6 0M486.2 937.8a4.3 4.3 0 1 0 8.6 0a4.3 4.3 0 1 0-8.6 0M188.9 948.5a4.3 4.3 0 1 0 8.6 0a4.3 4.3 0 1 0-8.6 0M242.0 948.5a4.3 4.3 0 1 0 8.6 0a4.3 4.3 0 1 0-8.6 0M316.3 948.5a4.3 4.3 0 1 0 8.6 0a4.3 4.3 0 1 0-8.6 0M305.7 959.1a4.3 4.3 0 1 0 8.6 0a4.3 4.3 0 1 0-8.6 0M411.9 959.1a4.3 4.3 0 1 0 8.6 0a4.3 4.3 0 1 0-8.6 0M199.5 969.8a4.3 4.3 0 1 0 8.6 0a4.3 4.3 0 1 0-8.6 0M295.1 969.8a4.3 4.3 0 1 0 8.6 0a4.3 4.3 0 1 0-8.6 0M305.7 969.8a4.3 4.3 0 1 0 8.6 0a4.3 4.3 0 1 0-8.6 0M390.7 969.8a4.3 4.3 0 1 0 8.6 0a4.3 4.3 0 1 0-8.6 0M496.9 969.8a4.3 4.3 0 1 0 8.6 0a4.3 4.3 0 1 0-8.6 0M380.0 980.4a4.3 4.3 0 1 0 8.6 0a4.3 4.3 0 1 0-8.6 0M401.3 980.4a4.3 4.3 0 1 0 8.6 0a4.3 4.3 0 1 0-8.6 0M103.9 1001.7a4.3 4.3 0 1 0 8.6 0a4.3 4.3 0 1 0-8.6 0M178.3 1001.7a4.3 4.3 0 1 0 8.6 0a4.3 4.3 0 1 0-8.6 0M252.6 1001.7a4.3 4.3 0 1 0 8.6 0a4.3 4.3 0 1 0-8.6 0M433.1 1001.7a4.3 4.3 0 1 0 8.6 0a4.3 4.3 0 1 0-8.6 0M528.7 1001.7a4.3 4.3 0 1 0 8.6 0a4.3 4.3 0 1 0-8.6 0M146.4 1012.3a4.3 4.3 0 1 0 8.6 0a4.3 4.3 0 1 0-8.6 0M220.7 1012.3a4.3 4.3 0 1 0 8.6 0a4.3 4.3 0 1 0-8.6 0M242.0 1012.3a4.3 4.3 0 1 0 8.6 0a4.3 4.3 0 1 0-8.6 0M273.8 1012.3a4.3 4.3 0 1 0 8.6 0a4.3 4.3 0 1 0-8.6 0M146.4 1023.0a4.3 4.3 0 1 0 8.6 0a4.3 4.3 0 1 0-8.6 0M188.9 1023.0a4.3 4.3 0 1 0 8.6 0a4.3 4.3 0 1 0-8.6 0M465.0 1023.0a4.3 4.3 0 1 0 8.6 0a4.3 4.3 0 1 0-8.6 0M273.8 1033.6a4.3 4.3 0 1 0 8.6 0a4.3 4.3 0 1 0-8.6 0M263.2 1044.3a4.3 4.3 0 1 0 8.6 0a4.3 4.3 0 1 0-8.6 0M326.9 1044.3a4.3 4.3 0 1 0 8.6 0a4.3 4.3 0 1 0-8.6 0M369.4 1044.3a4.3 4.3 0 1 0 8.6 0a4.3 4.3 0 1 0-8.6 0M411.9 1065.5a4.3 4.3 0 1 0 8.6 0a4.3 4.3 0 1 0-8.6 0M518.1 1065.5a4.3 4.3 0 1 0 8.6 0a4.3 4.3 0 1 0-8.6 0M125.2 1076.2a4.3 4.3 0 1 0 8.6 0a4.3 4.3 0 1 0-8.6 0M135.8 1076.2a4.3 4.3 0 1 0 8.6 0a4.3 4.3 0 1 0-8.6 0M125.2 1097.5a4.3 4.3 0 1 0 8.6 0a4.3 4.3 0 1 0-8.6 0M242.0 1097.5a4.3 4.3 0 1 0 8.6 0a4.3 4.3 0 1 0-8.6 0M507.5 1097.5a4.3 4.3 0 1 0 8.6 0a4.3 4.3 0 1 0-8.6 0M475.6 1108.1a4.3 4.3 0 1 0 8.6 0a4.3 4.3 0 1 0-8.6 0M231.4 1118.8a4.3 4.3 0 1 0 8.6 0a4.3 4.3 0 1 0-8.6 0M252.6 1129.4a4.3 4.3 0 1 0 8.6 0a4.3 4.3 0 1 0-8.6 0M263.2 1129.4a4.3 4.3 0 1 0 8.6 0a4.3 4.3 0 1 0-8.6 0" fill="#dfdede"/>
<path d="M284.5 735.6a4.3 4.3 0 1 0 8.6 0a4.3 4.3 0 1 0-8.6 0M401.3 735.6a4.3 4.3 0 1 0 8.6 0a4.3 4.3 0 1 0-8.6 0M135.8 746.3a4.3 4.3 0 1 0 8.6 0a4.3 4.3 0 1 0-8.6 0M295.1 746.3a4.3 4.3 0 1 0 8.6 0a4.3 4.3 0 1 0-8.6 0M401.3 746.3a4.3 4.3 0 1 0 8.6 0a4.3 4.3 0 1 0-8.6 0M114.5 756.9a4.3 4.3 0 1 0 8.6 0a4.3 4.3 0 1 0-8.6 0M157.0 756.9a4.3 4.3 0 1 0 8.6 0a4.3 4.3 0 1 0-8.6 0M242.0 756.9a4.3 4.3 0 1 0 8.6 0a4.3 4.3 0 1 0-8.6 0M390.7 756.9a4.3 4.3 0 1 0 8.6 0a4.3 4.3 0 1 0-8.6 0M475.6 756.9a4.3 4.3 0 1 0 8.6 0a4.3 4.3 0 1 0-8.6 0M93.3 767.6a4.3 4.3 0 1 0 8.6 0a4.3 4.3 0 1 0-8.6 0M390.7 767.6a4.3 4.3 0 1 0 8.6 0a4.3 4.3 0 1 0-8.6 0M178.3 778.2a4.3 4.3 0 1 0 8.6 0a4.3 4.3 0 1 0-8.6 0M263.2 788.9a4.3 4.3 0 1 0 8.6 0a4.3 4.3 0 1 0-8.6 0M454.4 788.9a4.3 4.3 0 1 0 8.6 0a4.3 4.3 0 1 0-8.6 0M316.3 799.5a4.3 4.3 0 1 0 8.6 0a4.3 4.3 0 1 0-8.6 0M422.5 799.5a4.3 4.3 0 1 0 8.6 0a4.3 4.3 0 1 0-8.6 0M454.4 799.5a4.3 4.3 0 1 0 8.6 0a4.3 4.3 0 1 0-8.6 0M103.9 810.1a4.3 4.3 0 1 0 8.6 0a4.3 4.3 0 1 0-8.6 0M210.1 810.1a4.3 4.3 0 1 0 8.6 0a4.3 4.3 0 1 0-8.6 0M231.4 810.1a4.3 4.3 0 1 0 8.6 0a4.3 4.3 0 1 0-8.6 0M337.6 810.1a4.3 4.3 0 1 0 8.6 0a4.3 4.3 0 1 0-8.6 0M475.6 810.1a4.3 4.3 0 1 0 8.6 0a4.3 4.3 0 1 0-8.6 0M114.5 820.8a4.3 4.3 0 1 0 8.6 0a4.3 4.3 0 1 0-8.6 0M295.1 820.8a4.3 4.3 0 1 0 8.6 0a4.3 4.3 0 1 0-8.6 0M411.9 820.8a4.3 4.3 0 1 0 8.6 0a4.3 4.3 0 1 0-8.6 0M443.8 820.8a4.3 4.3 0 1 0 8.6 0a4.3 4.3 0 1 0-8.6 0M443.8 831.4a4.3 4.3 0 1 0 8.6 0a4.3 4.3 0 1 0-8.6 0M188.9 852.7a4.3 4.3 0 1 0 8.6 0a4.3 4.3 0 1 0-8.6 0M199.5 852.7a4.3 4.3 0 1 0 8.6 0a4.3 4.3 0 1 0-8.6 0M210.1 852.7a4.3 4.3 0 1 0 8.6 0a4.3 4.3 0 1 0-8.6 0M188.9 863.3a4.3 4.3 0 1 0 8.6 0a4.3 4.3 0 1 0-8.6 0M454.4 863.3a4.3 4.3 0 1 0 8.6 0a4.3 4.3 0 1 0-8.6 0M157.0 874.0a4.3 4.3 0 1 0 8.6 0a4.3 4.3 0 1 0-8.6 0M433.1 874.0a4.3 4.3 0 1 0 8.6 0a4.3 4.3 0 1 0-8.6 0M103.9 884.6a4.3 4.3 0 1 0 8.6 0a4.3 4.3 0 1 0-8.6 0M305.7 884.6a4.3 4.3 0 1 0 8.6 0a4.3 4.3 0 1 0-8.6 0M316.3 884.6a4.3 4.3 0 1 0 8.6 0a4.3 4.3 0 1 0-8.6 0M231.4 895.3a4.3 4.3 0 1 0 8.6 0a4.3 4.3 0 1 0-8.6 0M199.5 905.9a4.3 4.3 0 1 0 8.6 0a4.3 4.3 0 1 0-8.6 0M295.1 905.9a4.3 4.3 0 1 0 8.6 0a4.3 4.3 0 1 0-8.6 0M337.6 905.9a4.3 4.3 0 1 0 8.6 0a4.3 4.3 0 1 0-8.6 0M422.5 905.9a4.3 4.3 0 1 0 8.6 0a4.3 4.3 0 1 0-8.6 0M125.2 916.6a4.3 4.3 0 1 0 8.6 0a4.3 4.3 0 1 0-8.6 0M263.2 927.2a4.3 4.3 0 1 0 8.6 0a4.3 4.3 0 1 0-8.6 0M316.3 927.2a4.3 4.3 0 1 0 8.6 0a4.3 4.3 0 1 0-8.6 0M348.2 927.2a4.3 4.3 0 1 0 8.6 0a4.3 4.3 0 1 0-8.6 0M390.7 927.2a4.3 4.3 0 1 0 8.6 0a4.3 4.3 0 1 0-8.6 0M496.9 927.2a4.3 4.3 0 1 0 8.6 0a4.3 4.3 0 1 0-8.6 0M231.4 937.8a4.3 4.3 0 1 0 8.6 0a4.3 4.3 0 1 0-8.6 0M422.5 937.8a4.3 4.3 0 1 0 8.6 0a4.3 4.3 0 1 0-8.6 0M178.3 948.5a4.3 4.3 0 1 0 8.6 0a4.3 4.3 0 1 0-8.6 0M507.5 948.5a4.3 4.3 0 1 0 8.6 0a4.3 4.3 0 1 0-8.6 0M178.3 959.1a4.3 4.3 0 1 0 8.6 0a4.3 4.3 0 1 0-8.6 0M231.4 959.1a4.3 4.3 0 1 0 8.6 0a4.3 4.3 0 1 0-8.6 0M380.0 959.1a4.3 4.3 0 1 0 8.6 0a4.3 4.3 0 1 0-8.6 0M422.5 959.1a4.3 4.3 0 1 0 8.6 0a4.3 4.3 0 1 0-8.6 0M433.1 959.1a4.3 4.3 0 1 0 8.6 0a4.3 4.3 0 1 0-8.6 0M507.5 959.1a4.3 4.3 0 1 0 8.6 0a4.3 4.3 0 1 0-8.6 0M125.2 969.8a4.3 4.3 0 1 0 8.6 0a4.3 4.3 0 1 0-8.6 0M178.3 969.8a4.3 4.3 0 1 0 8.6 0a4.3 4.3 0 1 0-8.6 0M231.4 969.8a4.3 4.3 0 1 0 8.6 0a4.3 4.3 0 1 0-8.6 0M475.6 969.8a4.3 4.3 0 1 0 8.6 0a4.3 4.3 0 1 0-8.6 0M475.6 980.4a4.3 4.3 0 1 0 8.6 0a4.3 4.3 0 1 0-8.6 0M263.2 991.0a4.3 4.3 0 1 0 8.6 0a4.3 4.3 0 1 0-8.6 0M284.5 991.0a4.3 4.3 0 1 0 8.6 0a4.3 4.3 0 1 0-8.6 0M295.1 991.0a4.3 4.3 0 1 0 8.6 0a4.3 4.3 0 1 0-8.6 0M380.0 991.0a4.3 4.3 0 1 0 8.6 0a4.3 4.3 0 1 0-8.6 0M125.2 1001.7a4.3 4.3 0 1 0 8.6 0a4.3 4.3 0 1 0-8.6 0M188.9 1001.7a4.3 4.3 0 1 0 8.6 0a4.3 4.3 0 1 0-8.6 0M284.5 1012.3a4.3 4.3 0 1 0 8.6 0a4.3 4.3 0 1 0-8.6 0M316.3 1012.3a4.3 4.3 0 1 0 8.6 0a4.3 4.3 0 1 0-8.6 0M454.4 1012.3a4.3 4.3 0 1 0 8.6 0a4.3 4.3 0 1 0-8.6 0M263.2 1023.0a4.3 4.3 0 1 0 8.6 0a4.3 4.3 0 1 0-8.6 0M326.9 1023.0a4.3 4.3 0 1 0 8.6 0a4.3 4.3 0 1 0-8.6 0M220.7 1033.6a4.3 4.3 0 1 0 8.6 0a4.3 4.3 0 1 0-8.6 0M210.1 1044.3a4.3 4.3 0 1 0 8.6 0a4.3 4.3 0 1 0-8.6 0M252.6 1044.3a4.3 4.3 0 1 0 8.6 0a4.3 4.3 0 1 0-8.6 0M507.5 1044.3a4.3 4.3 0 1 0 8.6 0a4.3 4.3 0 1 0-8.6 0M114.5 1054.9a4.3 4.3 0 1 0 8.6 0a4.3 4.3 0 1 0-8.6 0M125.2 1054.9a4.3 4.3 0 1 0 8.6 0a4.3 4.3 0 1 0-8.6 0M380.0 1054.9a4.3 4.3 0 1 0 8.6 0a4.3 4.3 0 1 0-8.6 0M135.8 1065.5a4.3 4.3 0 1 0 8.6 0a4.3 4.3 0 1 0-8.6 0M242.0 1065.5a4.3 4.3 0 1 0 8.6 0a4.3 4.3 0 1 0-8.6 0M348.2 1065.5a4.3 4.3 0 1 0 8.6 0a4.3 4.3 0 1 0-8.6 0M528.7 1065.5a4.3 4.3 0 1 0 8.6 0a4.3 4.3 0 1 0-8.6 0M114.5 1076.2a4.3 4.3 0 1 0 8.6 0a4.3 4.3 0 1 0-8.6 0M114.5 1097.5a4.3 4.3 0 1 0 8.6 0a4.3 4.3 0 1 0-8.6 0M316.3 1097.5a4.3 4.3 0 1 0 8.6 0a4.3 4.3 0 1 0-8.6 0M528.7 1108.1a4.3 4.3 0 1 0 8.6 0a4.3 4.3 0 1 0-8.6 0M103.9 1118.8a4.3 4.3 0 1 0 8.6 0a4.3 4.3 0 1 0-8.6 0M157.0 1118.8a4.3 4.3 0 1 0 8.6 0a4.3 4.3 0 1 0-8.6 0M528.7 1118.8a4.3 4.3 0 1 0 8.6 0a4.3 4.3 0 1 0-8.6 0" fill="#e4dcd7"/>
<path d="M433.1 735.6a4.3 4.3 0 1 0 8.6 0a4.3 4.3 0 1 0-8.6 0M103.9 746.3a4.3 4.3 0 1 0 8.6 0a4.3 4.3 0 1 0-8.6 0M157.0 746.3a4.3 4.3 0 1 0 8.6 0a4.3 4.3 0 1 0-8.6 0M443.8 756.9a4.3 4.3 0 1 0 8.6 0a4.3 4.3 0 1 0-8.6 0M496.9 767.6a4.3 4.3 0 1 0 8.6 0a4.3 4.3 0 1 0-8.6 0M486.2 788.9a4.3 4.3 0 1 0 8.6 0a4.3 4.3 0 1 0-8.6 0M252.6 831.4a4.3 4.3 0 1 0 8.6 0a4.3 4.3 0 1 0-8.6 0M305.7 831.4a4.3 4.3 0 1 0 8.6 0a4.3 4.3 0 1 0-8.6 0M390.7 831.4a4.3 4.3 0 1 0 8.6 0a4.3 4.3 0 1 0-8.6 0M422.5 842.1a4.3 4.3 0 1 0 8.6 0a4.3 4.3 0 1 0-8.6 0M465.0 916.6a4.3 4.3 0 1 0 8.6 0a4.3 4.3 0 1 0-8.6 0M220.7 937.8a4.3 4.3 0 1 0 8.6 0a4.3 4.3 0 1 0-8.6 0M103.9 991.0a4.3 4.3 0 1 0 8.6 0a4.3 4.3 0 1 0-8.6 0M475.6 1076.2a4.3 4.3 0 1 0 8.6 0a4.3 4.3 0 1 0-8.6 0M273.8 1108.1a4.3 4.3 0 1 0 8.6 0a4.3 4.3 0 1 0-8.6 0" fill="#edd4c6"/>
<path d="M157.0 735.6a4.3 4.3 0 1 0 8.6 0a4.3 4.3 0 1 0-8.6 0M199.5 735.6a4.3 4.3 0 1 0 8.6 0a4.3 4.3 0 1 0-8.6 0M358.8 735.6a4.3 4.3 0 1 0 8.6 0a4.3 4.3 0 1 0-8.6 0M496.9 735.6a4.3 4.3 0 1 0 8.6 0a4.3 4.3 0 1 0-8.6 0M518.1 735.6a4.3 4.3 0 1 0 8.6 0a4.3 4.3 0 1 0-8.6 0M220.7 746.3a4.3 4.3 0 1 0 8.6 0a4.3 4.3 0 1 0-8.6 0M433.1 746.3a4.3 4.3 0 1 0 8.6 0a4.3 4.3 0 1 0-8.6 0M454.4 746.3a4.3 4.3 0 1 0 8.6 0a4.3 4.3 0 1 0-8.6 0M496.9 746.3a4.3 4.3 0 1 0 8.6 0a4.3 4.3 0 1 0-8.6 0M454.4 756.9a4.3 4.3 0 1 0 8.6 0a4.3 4.3 0 1 0-8.6 0M528.7 756.9a4.3 4.3 0 1 0 8.6 0a4.3 4.3 0 1 0-8.6 0M178.3 767.6a4.3 4.3 0 1 0 8.6 0a4.3 4.3 0 1 0-8.6 0M443.8 767.6a4.3 4.3 0 1 0 8.6 0a4.3 4.3 0 1 0-8.6 0M454.4 767.6a4.3 4.3 0 1 0 8.6 0a4.3 4.3 0 1 0-8.6 0M507.5 767.6a4.3 4.3 0 1 0 8.6 0a4.3 4.3 0 1 0-8.6 0M93.3 778.2a4.3 4.3 0 1 0 8.6 0a4.3 4.3 0 1 0-8.6 0M146.4 778.2a4.3 4.3 0 1 0 8.6 0a4.3 4.3 0 1 0-8.6 0M401.3 778.2a4.3 4.3 0 1 0 8.6 0a4.3 4.3 0 1 0-8.6 0M411.9 778.2a4.3 4.3 0 1 0 8.6 0a4.3 4.3 0 1 0-8.6 0M443.8 778.2a4.3 4.3 0 1 0 8.6 0a4.3 4.3 0 1 0-8.6 0M135.8 788.9a4.3 4.3 0 1 0 8.6 0a4.3 4.3 0 1 0-8.6 0M157.0 788.9a4.3 4.3 0 1 0 8.6 0a4.3 4.3 0 1 0-8.6 0M380.0 788.9a4.3 4.3 0 1 0 8.6 0a4.3 4.3 0 1 0-8.6 0M475.6 788.9a4.3 4.3 0 1 0 8.6 0a4.3 4.3 0 1 0-8.6 0M528.7 788.9a4.3 4.3 0 1 0 8.6 0a4.3 4.3 0 1 0-8.6 0M295.1 799.5a4.3 4.3 0 1 0 8.6 0a4.3 4.3 0 1 0-8.6 0M518.1 799.5a4.3 4.3 0 1 0 8.6 0a4.3 4.3 0 1 0-8.6 0M220.7 810.1a4.3 4.3 0 1 0 8.6 0a4.3 4.3 0 1 0-8.6 0M263.2 810.1a4.3 4.3 0 1 0 8.6 0a4.3 4.3 0 1 0-8.6 0M273.8 810.1a4.3 4.3 0 1 0 8.6 0a4.3 4.3 0 1 0-8.6 0M284.5 810.1a4.3 4.3 0 1 0 8.6 0a4.3 4.3 0 1 0-8.6 0M348.2 810.1a4.3 4.3 0 1 0 8.6 0a4.3 4.3 0 1 0-8.6 0M358.8 810.1a4.3 4.3 0 1 0 8.6 0a4.3 4.3 0 1 0-8.6 0M496.9 810.1a4.3 4.3 0 1 0 8.6 0a4.3 4.3 0 1 0-8.6 0M242.0 820.8a4.3 4.3 0 1 0 8.6 0a4.3 4.3 0 1 0-8.6 0M252.6 820.8a4.3 4.3 0 1 0 8.6 0a4.3 4.3 0 1 0-8.6 0M337.6 820.8a4.3 4.3 0 1 0 8.6 0a4.3 4.3 0 1 0-8.6 0M358.8 820.8a4.3 4.3 0 1 0 8.6 0a4.3 4.3 0 1 0-8.6 0M401.3 820.8a4.3 4.3 0 1 0 8.6 0a4.3 4.3 0 1 0-8.6 0M465.0 820.8a4.3 4.3 0 1 0 8.6 0a4.3 4.3 0 1 0-8.6 0M486.2 820.8a4.3 4.3 0 1 0 8.6 0a4.3 4.3 0 1 0-8.6 0M518.1 820.8a4.3 4.3 0 1 0 8.6 0a4.3 4.3 0 1 0-8.6 0M528.7 820.8a4.3 4.3 0 1 0 8.6 0a4.3 4.3 0 1 0-8.6 0M348.2 831.4a4.3 4.3 0 1 0 8.6 0a4.3 4.3 0 1 0-8.6 0M358.8 831.4a4.3 4.3 0 1 0 8.6 0a4.3 4.3 0 1 0-8.6 0M252.6 842.1a4.3 4.3 0 1 0 8.6 0a4.3 4.3 0 1 0-8.6 0M263.2 842.1a4.3 4.3 0 1 0 8.6 0a4.3 4.3 0 1 0-8.6 0M273.8 842.1a4.3 4.3 0 1 0 8.6 0a4.3 4.3 0 1 0-8.6 0M326.9 842.1a4.3 4.3 0 1 0 8.6 0a4.3 4.3 0 1 0-8.6 0M135.8 852.7a4.3 4.3 0 1 0 8.6 0a4.3 4.3 0 1 0-8.6 0M146.4 852.7a4.3 4.3 0 1 0 8.6 0a4.3 4.3 0 1 0-8.6 0M242.0 852.7a4.3 4.3 0 1 0 8.6 0a4.3 4.3 0 1 0-8.6 0M284.5 852.7a4.3 4.3 0 1 0 8.6 0a4.3 4.3 0 1 0-8.6 0M305.7 852.7a4.3 4.3 0 1 0 8.6 0a4.3 4.3 0 1 0-8.6 0M348.2 852.7a4.3 4.3 0 1 0 8.6 0a4.3 4.3 0 1 0-8.6 0M422.5 852.7a4.3 4.3 0 1 0 8.6 0a4.3 4.3 0 1 0-8.6 0M443.8 852.7a4.3 4.3 0 1 0 8.6 0a4.3 4.3 0 1 0-8.6 0M454.4 852.7a4.3 4.3 0 1 0 8.6 0a4.3 4.3 0 1 0-8.6 0M496.9 852.7a4.3 4.3 0 1 0 8.6 0a4.3 4.3 0 1 0-8.6 0M326.9 863.3a4.3 4.3 0 1 0 8.6 0a4.3 4.3 0 1 0-8.6 0M369.4 863.3a4.3 4.3 0 1 0 8.6 0a4.3 4.3 0 1 0-8.6 0M401.3 863.3a4.3 4.3 0 1 0 8.6 0a4.3 4.3 0 1 0-8.6 0M507.5 863.3a4.3 4.3 0 1 0 8.6 0a4.3 4.3 0 1 0-8.6 0M167.6 874.0a4.3 4.3 0 1 0 8.6 0a4.3 4.3 0 1 0-8.6 0M305.7 874.0a4.3 4.3 0 1 0 8.6 0a4.3 4.3 0 1 0-8.6 0M326.9 874.0a4.3 4.3 0 1 0 8.6 0a4.3 4.3 0 1 0-8.6 0M380.0 874.0a4.3 4.3 0 1 0 8.6 0a4.3 4.3 0 1 0-8.6 0M443.8 874.0a4.3 4.3 0 1 0 8.6 0a4.3 4.3 0 1 0-8.6 0M210.1 884.6a4.3 4.3 0 1 0 8.6 0a4.3 4.3 0 1 0-8.6 0M284.5 895.3a4.3 4.3 0 1 0 8.6 0a4.3 4.3 0 1 0-8.6 0M305.7 895.3a4.3 4.3 0 1 0 8.6 0a4.3 4.3 0 1 0-8.6 0M507.5 895.3a4.3 4.3 0 1 0 8.6 0a4.3 4.3 0 1 0-8.6 0M316.3 905.9a4.3 4.3 0 1 0 8.6 0a4.3 4.3 0 1 0-8.6 0M369.4 905.9a4.3 4.3 0 1 0 8.6 0a4.3 4.3 0 1 0-8.6 0M411.9 905.9a4.3 4.3 0 1 0 8.6 0a4.3 4.3 0 1 0-8.6 0M454.4 905.9a4.3 4.3 0 1 0 8.6 0a4.3 4.3 0 1 0-8.6 0M316.3 916.6a4.3 4.3 0 1 0 8.6 0a4.3 4.3 0 1 0-8.6 0M422.5 916.6a4.3 4.3 0 1 0 8.6 0a4.3 4.3 0 1 0-8.6 0M210.1 927.2a4.3 4.3 0 1 0 8.6 0a4.3 4.3 0 1 0-8.6 0M284.5 927.2a4.3 4.3 0 1 0 8.6 0a4.3 4.3 0 1 0-8.6 0M486.2 927.2a4.3 4.3 0 1 0 8.6 0a4.3 4.3 0 1 0-8.6 0M178.3 937.8a4.3 4.3 0 1 0 8.6 0a4.3 4.3 0 1 0-8.6 0M199.5 937.8a4.3 4.3 0 1 0 8.6 0a4.3 4.3 0 1 0-8.6 0M210.1 937.8a4.3 4.3 0 1 0 8.6 0a4.3 4.3 0 1 0-8.6 0M252.6 937.8a4.3 4.3 0 1 0 8.6 0a4.3 4.3 0 1 0-8.6 0M263.2 937.8a4.3 4.3 0 1 0 8.6 0a4.3 4.3 0 1 0-8.6 0M305.7 937.8a4.3 4.3 0 1 0 8.6 0a4.3 4.3 0 1 0-8.6 0M518.1 937.8a4.3 4.3 0 1 0 8.6 0a4.3 4.3 0 1 0-8.6 0M252.6 948.5a4.3 4.3 0 1 0 8.6 0a4.3 4.3 0 1 0-8.6 0M263.2 948.5a4.3 4.3 0 1 0 8.6 0a4.3 4.3 0 1 0-8.6 0M337.6 948.5a4.3 4.3 0 1 0 8.6 0a4.3 4.3 0 1 0-8.6 0M358.8 948.5a4.3 4.3 0 1 0 8.6 0a4.3 4.3 0 1 0-8.6 0M528.7 948.5a4.3 4.3 0 1 0 8.6 0a4.3 4.3 0 1 0-8.6 0M528.7 959.1a4.3 4.3 0 1 0 8.6 0a4.3 4.3 0 1 0-8.6 0M114.5 969.8a4.3 4.3 0 1 0 8.6 0a4.3 4.3 0 1 0-8.6 0M135.8 969.8a4.3 4.3 0 1 0 8.6 0a4.3 4.3 0 1 0-8.6 0M167.6 969.8a4.3 4.3 0 1 0 8.6 0a4.3 4.3 0 1 0-8.6 0M284.5 969.8a4.3 4.3 0 1 0 8.6 0a4.3 4.3 0 1 0-8.6 0M125.2 980.4a4.3 4.3 0 1 0 8.6 0a4.3 4.3 0 1 0-8.6 0M210.1 980.4a4.3 4.3 0 1 0 8.6 0a4.3 4.3 0 1 0-8.6 0M273.8 980.4a4.3 4.3 0 1 0 8.6 0a4.3 4.3 0 1 0-8.6 0M93.3 991.0a4.3 4.3 0 1 0 8.6 0a4.3 4.3 0 1 0-8.6 0M188.9 991.0a4.3 4.3 0 1 0 8.6 0a4.3 4.3 0 1 0-8.6 0M199.5 991.0a4.3 4.3 0 1 0 8.6 0a4.3 4.3 0 1 0-8.6 0M231.4 991.0a4.3 4.3 0 1 0 8.6 0a4.3 4.3 0 1 0-8.6 0M390.7 991.0a4.3 4.3 0 1 0 8.6 0a4.3 4.3 0 1 0-8.6 0M263.2 1001.7a4.3 4.3 0 1 0 8.6 0a4.3 4.3 0 1 0-8.6 0M390.7 1001.7a4.3 4.3 0 1 0 8.6 0a4.3 4.3 0 1 0-8.6 0M252.6 1012.3a4.3 4.3 0 1 0 8.6 0a4.3 4.3 0 1 0-8.6 0M199.5 1023.0a4.3 4.3 0 1 0 8.6 0a4.3 4.3 0 1 0-8.6 0M210.1 1023.0a4.3 4.3 0 1 0 8.6 0a4.3 4.3 0 1 0-8.6 0M252.6 1023.0a4.3 4.3 0 1 0 8.6 0a4.3 4.3 0 1 0-8.6 0M475.6 1023.0a4.3 4.3 0 1 0 8.6 0a4.3 4.3 0 1 0-8.6 0M93.3 1033.6a4.3 4.3 0 1 0 8.6 0a4.3 4.3 0 1 0-8.6 0M103.9 1033.6a4.3 4.3 0 1 0 8.6 0a4.3 4.3 0 1 0-8.6 0M305.7 1033.6a4.3 4.3 0 1 0 8.6 0a4.3 4.3 0 1 0-8.6 0M369.4 1033.6a4.3 4.3 0 1 0 8.6 0a4.3 4.3 0 1 0-8.6 0M93.3 1044.3a4.3 4.3 0 1 0 8.6 0a4.3 4.3 0 1 0-8.6 0M242.0 1054.9a4.3 4.3 0 1 0 8.6 0a4.3 4.3 0 1 0-8.6 0M528.7 1054.9a4.3 4.3 0 1 0 8.6 0a4.3 4.3 0 1 0-8.6 0M518.1 1076.2a4.3 4.3 0 1 0 8.6 0a4.3 4.3 0 1 0-8.6 0M252.6 1086.8a4.3 4.3 0 1 0 8.6 0a4.3 4.3 0 1 0-8.6 0M273.8 1086.8a4.3 4.3 0 1 0 8.6 0a4.3 4.3 0 1 0-8.6 0M518.1 1097.5a4.3 4.3 0 1 0 8.6 0a4.3 4.3 0 1 0-8.6 0M114.5 1108.1a4.3 4.3 0 1 0 8.6 0a4.3 4.3 0 1 0-8.6 0M146.4 1108.1a4.3 4.3 0 1 0 8.6 0a4.3 4.3 0 1 0-8.6 0M157.0 1108.1a4.3 4.3 0 1 0 8.6 0a4.3 4.3 0 1 0-8.6 0M273.8 1129.4a4.3 4.3 0 1 0 8.6 0a4.3 4.3 0 1 0-8.6 0" fill="#f1cfbe"/>
<path d="M273.8 735.6a4.3 4.3 0 1 0 8.6 0a4.3 4.3 0 1 0-8.6 0M295.1 735.6a4.3 4.3 0 1 0 8.6 0a4.3 4.3 0 1 0-8.6 0M380.0 735.6a4.3 4.3 0 1 0 8.6 0a4.3 4.3 0 1 0-8.6 0M454.4 735.6a4.3 4.3 0 1 0 8.6 0a4.3 4.3 0 1 0-8.6 0M93.3 746.3a4.3 4.3 0 1 0 8.6 0a4.3 4.3 0 1 0-8.6 0M231.4 746.3a4.3 4.3 0 1 0 8.6 0a4.3 4.3 0 1 0-8.6 0M465.0 756.9a4.3 4.3 0 1 0 8.6 0a4.3 4.3 0 1 0-8.6 0M496.9 756.9a4.3 4.3 0 1 0 8.6 0a4.3 4.3 0 1 0-8.6 0M507.5 756.9a4.3 4.3 0 1 0 8.6 0a4.3 4.3 0 1 0-8.6 0M316.3 767.6a4.3 4.3 0 1 0 8.6 0a4.3 4.3 0 1 0-8.6 0M518.1 767.6a4.3 4.3 0 1 0 8.6 0a4.3 4.3 0 1 0-8.6 0M157.0 778.2a4.3 4.3 0 1 0 8.6 0a4.3 4.3 0 1 0-8.6 0M252.6 778.2a4.3 4.3 0 1 0 8.6 0a4.3 4.3 0 1 0-8.6 0M273.8 778.2a4.3 4.3 0 1 0 8.6 0a4.3 4.3 0 1 0-8.6 0M284.5 778.2a4.3 4.3 0 1 0 8.6 0a4.3 4.3 0 1 0-8.6 0M316.3 778.2a4.3 4.3 0 1 0 8.6 0a4.3 4.3 0 1 0-8.6 0M433.1 778.2a4.3 4.3 0 1 0 8.6 0a4.3 4.3 0 1 0-8.6 0M475.6 778.2a4.3 4.3 0 1 0 8.6 0a4.3 4.3 0 1 0-8.6 0M507.5 778.2a4.3 4.3 0 1 0 8.6 0a4.3 4.3 0 1 0-8.6 0M528.7 778.2a4.3 4.3 0 1 0 8.6 0a4.3 4.3 0 1 0-8.6 0M103.9 788.9a4.3 4.3 0 1 0 8.6 0a4.3 4.3 0 1 0-8.6 0M422.5 788.9a4.3 4.3 0 1 0 8.6 0a4.3 4.3 0 1 0-8.6 0M433.1 788.9a4.3 4.3 0 1 0 8.6 0a4.3 4.3 0 1 0-8.6 0M443.8 788.9a4.3 4.3 0 1 0 8.6 0a4.3 4.3 0 1 0-8.6 0M252.6 799.5a4.3 4.3 0 1 0 8.6 0a4.3 4.3 0 1 0-8.6 0M263.2 799.5a4.3 4.3 0 1 0 8.6 0a4.3 4.3 0 1 0-8.6 0M273.8 799.5a4.3 4.3 0 1 0 8.6 0a4.3 4.3 0 1 0-8.6 0M284.5 799.5a4.3 4.3 0 1 0 8.6 0a4.3 4.3 0 1 0-8.6 0M348.2 799.5a4.3 4.3 0 1 0 8.6 0a4.3 4.3 0 1 0-8.6 0M507.5 799.5a4.3 4.3 0 1 0 8.6 0a4.3 4.3 0 1 0-8.6 0M242.0 810.1a4.3 4.3 0 1 0 8.6 0a4.3 4.3 0 1 0-8.6 0M443.8 810.1a4.3 4.3 0 1 0 8.6 0a4.3 4.3 0 1 0-8.6 0M454.4 810.1a4.3 4.3 0 1 0 8.6 0a4.3 4.3 0 1 0-8.6 0M465.0 810.1a4.3 4.3 0 1 0 8.6 0a4.3 4.3 0 1 0-8.6 0M507.5 810.1a4.3 4.3 0 1 0 8.6 0a4.3 4.3 0 1 0-8.6 0M518.1 810.1a4.3 4.3 0 1 0 8.6 0a4.3 4.3 0 1 0-8.6 0M93.3 820.8a4.3 4.3 0 1 0 8.6 0a4.3 4.3 0 1 0-8.6 0M210.1 820.8a4.3 4.3 0 1 0 8.6 0a4.3 4.3 0 1 0-8.6 0M305.7 820.8a4.3 4.3 0 1 0 8.6 0a4.3 4.3 0 1 0-8.6 0M348.2 820.8a4.3 4.3 0 1 0 8.6 0a4.3 4.3 0 1 0-8.6 0M390.7 820.8a4.3 4.3 0 1 0 8.6 0a4.3 4.3 0 1 0-8.6 0M475.6 820.8a4.3 4.3 0 1 0 8.6 0a4.3 4.3 0 1 0-8.6 0M103.9 831.4a4.3 4.3 0 1 0 8.6 0a4.3 4.3 0 1 0-8.6 0M199.5 831.4a4.3 4.3 0 1 0 8.6 0a4.3 4.3 0 1 0-8.6 0M369.4 831.4a4.3 4.3 0 1 0 8.6 0a4.3 4.3 0 1 0-8.6 0M401.3 831.4a4.3 4.3 0 1 0 8.6 0a4.3 4.3 0 1 0-8.6 0M135.8 842.1a4.3 4.3 0 1 0 8.6 0a4.3 4.3 0 1 0-8.6 0M305.7 842.1a4.3 4.3 0 1 0 8.6 0a4.3 4.3 0 1 0-8.6 0M348.2 842.1a4.3 4.3 0 1 0 8.6 0a4.3 4.3 0 1 0-8.6 0M465.0 842.1a4.3 4.3 0 1 0 8.6 0a4.3 4.3 0 1 0-8.6 0M486.2 842.1a4.3 4.3 0 1 0 8.6 0a4.3 4.3 0 1 0-8.6 0M178.3 852.7a4.3 4.3 0 1 0 8.6 0a4.3 4.3 0 1 0-8.6 0M252.6 852.7a4.3 4.3 0 1 0 8.6 0a4.3 4.3 0 1 0-8.6 0M295.1 852.7a4.3 4.3 0 1 0 8.6 0a4.3 4.3 0 1 0-8.6 0M326.9 852.7a4.3 4.3 0 1 0 8.6 0a4.3 4.3 0 1 0-8.6 0M401.3 852.7a4.3 4.3 0 1 0 8.6 0a4.3 4.3 0 1 0-8.6 0M411.9 852.7a4.3 4.3 0 1 0 8.6 0a4.3 4.3 0 1 0-8.6 0M475.6 852.7a4.3 4.3 0 1 0 8.6 0a4.3 4.3 0 1 0-8.6 0M528.7 852.7a4.3 4.3 0 1 0 8.6 0a4.3 4.3 0 1 0-8.6 0M178.3 863.3a4.3 4.3 0 1 0 8.6 0a4.3 4.3 0 1 0-8.6 0M252.6 863.3a4.3 4.3 0 1 0 8.6 0a4.3 4.3 0 1 0-8.6 0M316.3 863.3a4.3 4.3 0 1 0 8.6 0a4.3 4.3 0 1 0-8.6 0M348.2 863.3a4.3 4.3 0 1 0 8.6 0a4.3 4.3 0 1 0-8.6 0M380.0 863.3a4.3 4.3 0 1 0 8.6 0a4.3 4.3 0 1 0-8.6 0M486.2 863.3a4.3 4.3 0 1 0 8.6 0a4.3 4.3 0 1 0-8.6 0M496.9 863.3a4.3 4.3 0 1 0 8.6 0a4.3 4.3 0 1 0-8.6 0M411.9 874.0a4.3 4.3 0 1 0 8.6 0a4.3 4.3 0 1 0-8.6 0M284.5 884.6a4.3 4.3 0 1 0 8.6 0a4.3 4.3 0 1 0-8.6 0M411.9 895.3a4.3 4.3 0 1 0 8.6 0a4.3 4.3 0 1 0-8.6 0M486.2 895.3a4.3 4.3 0 1 0 8.6 0a4.3 4.3 0 1 0-8.6 0M518.1 895.3a4.3 4.3 0 1 0 8.6 0a4.3 4.3 0 1 0-8.6 0M273.8 905.9a4.3 4.3 0 1 0 8.6 0a4.3 4.3 0 1 0-8.6 0M284.5 905.9a4.3 4.3 0 1 0 8.6 0a4.3 4.3 0 1 0-8.6 0M401.3 905.9a4.3 4.3 0 1 0 8.6 0a4.3 4.3 0 1 0-8.6 0M475.6 905.9a4.3 4.3 0 1 0 8.6 0a4.3 4.3 0 1 0-8.6 0M486.2 905.9a4.3 4.3 0 1 0 8.6 0a4.3 4.3 0 1 0-8.6 0M518.1 905.9a4.3 4.3 0 1 0 8.6 0a4.3 4.3 0 1 0-8.6 0M528.7 905.9a4.3 4.3 0 1 0 8.6 0a4.3 4.3 0 1 0-8.6 0M337.6 916.6a4.3 4.3 0 1 0 8.6 0a4.3 4.3 0 1 0-8.6 0M348.2 916.6a4.3 4.3 0 1 0 8.6 0a4.3 4.3 0 1 0-8.6 0M358.8 916.6a4.3 4.3 0 1 0 8.6 0a4.3 4.3 0 1 0-8.6 0M369.4 916.6a4.3 4.3 0 1 0 8.6 0a4.3 4.3 0 1 0-8.6 0M401.3 916.6a4.3 4.3 0 1 0 8.6 0a4.3 4.3 0 1 0-8.6 0M475.6 916.6a4.3 4.3 0 1 0 8.6 0a4.3 4.3 0 1 0-8.6 0M284.5 937.8a4.3 4.3 0 1 0 8.6 0a4.3 4.3 0 1 0-8.6 0M496.9 937.8a4.3 4.3 0 1 0 8.6 0a4.3 4.3 0 1 0-8.6 0M114.5 948.5a4.3 4.3 0 1 0 8.6 0a4.3 4.3 0 1 0-8.6 0M369.4 948.5a4.3 4.3 0 1 0 8.6 0a4.3 4.3 0 1 0-8.6 0M380.0 948.5a4.3 4.3 0 1 0 8.6 0a4.3 4.3 0 1 0-8.6 0M125.2 959.1a4.3 4.3 0 1 0 8.6 0a4.3 4.3 0 1 0-8.6 0M242.0 959.1a4.3 4.3 0 1 0 8.6 0a4.3 4.3 0 1 0-8.6 0M443.8 959.1a4.3 4.3 0 1 0 8.6 0a4.3 4.3 0 1 0-8.6 0M93.3 969.8a4.3 4.3 0 1 0 8.6 0a4.3 4.3 0 1 0-8.6 0M188.9 969.8a4.3 4.3 0 1 0 8.6 0a4.3 4.3 0 1 0-8.6 0M242.0 969.8a4.3 4.3 0 1 0 8.6 0a4.3 4.3 0 1 0-8.6 0M263.2 969.8a4.3 4.3 0 1 0 8.6 0a4.3 4.3 0 1 0-8.6 0M380.0 969.8a4.3 4.3 0 1 0 8.6 0a4.3 4.3 0 1 0-8.6 0M135.8 980.4a4.3 4.3 0 1 0 8.6 0a4.3 4.3 0 1 0-8.6 0M178.3 980.4a4.3 4.3 0 1 0 8.6 0a4.3 4.3 0 1 0-8.6 0M252.6 980.4a4.3 4.3 0 1 0 8.6 0a4.3 4.3 0 1 0-8.6 0M114.5 991.0a4.3 4.3 0 1 0 8.6 0a4.3 4.3 0 1 0-8.6 0M125.2 991.0a4.3 4.3 0 1 0 8.6 0a4.3 4.3 0 1 0-8.6 0M252.6 991.0a4.3 4.3 0 1 0 8.6 0a4.3 4.3 0 1 0-8.6 0M135.8 1001.7a4.3 4.3 0 1 0 8.6 0a4.3 4.3 0 1 0-8.6 0M167.6 1001.7a4.3 4.3 0 1 0 8.6 0a4.3 4.3 0 1 0-8.6 0M199.5 1001.7a4.3 4.3 0 1 0 8.6 0a4.3 4.3 0 1 0-8.6 0M220.7 1001.7a4.3 4.3 0 1 0 8.6 0a4.3 4.3 0 1 0-8.6 0M284.5 1001.7a4.3 4.3 0 1 0 8.6 0a4.3 4.3 0 1 0-8.6 0M348.2 1012.3a4.3 4.3 0 1 0 8.6 0a4.3 4.3 0 1 0-8.6 0M316.3 1033.6a4.3 4.3 0 1 0 8.6 0a4.3 4.3 0 1 0-8.6 0M326.9 1033.6a4.3 4.3 0 1 0 8.6 0a4.3 4.3 0 1 0-8.6 0M157.0 1044.3a4.3 4.3 0 1 0 8.6 0a4.3 4.3 0 1 0-8.6 0M242.0 1044.3a4.3 4.3 0 1 0 8.6 0a4.3 4.3 0 1 0-8.6 0M316.3 1044.3a4.3 4.3 0 1 0 8.6 0a4.3 4.3 0 1 0-8.6 0M210.1 1054.9a4.3 4.3 0 1 0 8.6 0a4.3 4.3 0 1 0-8.6 0M518.1 1054.9a4.3 4.3 0 1 0 8.6 0a4.3 4.3 0 1 0-8.6 0M157.0 1065.5a4.3 4.3 0 1 0 8.6 0a4.3 4.3 0 1 0-8.6 0M252.6 1076.2a4.3 4.3 0 1 0 8.6 0a4.3 4.3 0 1 0-8.6 0M273.8 1076.2a4.3 4.3 0 1 0 8.6 0a4.3 4.3 0 1 0-8.6 0M326.9 1076.2a4.3 4.3 0 1 0 8.6 0a4.3 4.3 0 1 0-8.6 0M390.7 1076.2a4.3 4.3 0 1 0 8.6 0a4.3 4.3 0 1 0-8.6 0M146.4 1086.8a4.3 4.3 0 1 0 8.6 0a4.3 4.3 0 1 0-8.6 0M316.3 1086.8a4.3 4.3 0 1 0 8.6 0a4.3 4.3 0 1 0-8.6 0M380.0 1086.8a4.3 4.3 0 1 0 8.6 0a4.3 4.3 0 1 0-8.6 0M507.5 1086.8a4.3 4.3 0 1 0 8.6 0a4.3 4.3 0 1 0-8.6 0M252.6 1097.5a4.3 4.3 0 1 0 8.6 0a4.3 4.3 0 1 0-8.6 0M242.0 1108.1a4.3 4.3 0 1 0 8.6 0a4.3 4.3 0 1 0-8.6 0M443.8 1108.1a4.3 4.3 0 1 0 8.6 0a4.3 4.3 0 1 0-8.6 0M252.6 1118.8a4.3 4.3 0 1 0 8.6 0a4.3 4.3 0 1 0-8.6 0M465.0 1118.8a4.3 4.3 0 1 0 8.6 0a4.3 4.3 0 1 0-8.6 0" fill="#f3c9b5"/>
<path d="M305.7 725.0a4.3 4.3 0 1 0 8.6 0a4.3 4.3 0 1 0-8.6 0M348.2 725.0a4.3 4.3 0 1 0 8.6 0a4.3 4.3 0 1 0-8.6 0M507.5 725.0a4.3 4.3 0 1 0 8.6 0a4.3 4.3 0 1 0-8.6 0M93.3 735.6a4.3 4.3 0 1 0 8.6 0a4.3 4.3 0 1 0-8.6 0M252.6 735.6a4.3 4.3 0 1 0 8.6 0a4.3 4.3 0 1 0-8.6 0M465.0 735.6a4.3 4.3 0 1 0 8.6 0a4.3 4.3 0 1 0-8.6 0M390.7 746.3a4.3 4.3 0 1 0 8.6 0a4.3 4.3 0 1 0-8.6 0M518.1 746.3a4.3 4.3 0 1 0 8.6 0a4.3 4.3 0 1 0-8.6 0M178.3 756.9a4.3 4.3 0 1 0 8.6 0a4.3 4.3 0 1 0-8.6 0M231.4 767.6a4.3 4.3 0 1 0 8.6 0a4.3 4.3 0 1 0-8.6 0M475.6 767.6a4.3 4.3 0 1 0 8.6 0a4.3 4.3 0 1 0-8.6 0M528.7 767.6a4.3 4.3 0 1 0 8.6 0a4.3 4.3 0 1 0-8.6 0M146.4 788.9a4.3 4.3 0 1 0 8.6 0a4.3 4.3 0 1 0-8.6 0M242.0 788.9a4.3 4.3 0 1 0 8.6 0a4.3 4.3 0 1 0-8.6 0M369.4 788.9a4.3 4.3 0 1 0 8.6 0a4.3 4.3 0 1 0-8.6 0M465.0 788.9a4.3 4.3 0 1 0 8.6 0a4.3 4.3 0 1 0-8.6 0M507.5 788.9a4.3 4.3 0 1 0 8.6 0a4.3 4.3 0 1 0-8.6 0M518.1 788.9a4.3 4.3 0 1 0 8.6 0a4.3 4.3 0 1 0-8.6 0M380.0 799.5a4.3 4.3 0 1 0 8.6 0a4.3 4.3 0 1 0-8.6 0M433.1 799.5a4.3 4.3 0 1 0 8.6 0a4.3 4.3 0 1 0-8.6 0M496.9 799.5a4.3 4.3 0 1 0 8.6 0a4.3 4.3 0 1 0-8.6 0M528.7 799.5a4.3 4.3 0 1 0 8.6 0a4.3 4.3 0 1 0-8.6 0M380.0 810.1a4.3 4.3 0 1 0 8.6 0a4.3 4.3 0 1 0-8.6 0M486.2 810.1a4.3 4.3 0 1 0 8.6 0a4.3 4.3 0 1 0-8.6 0M528.7 810.1a4.3 4.3 0 1 0 8.6 0a4.3 4.3 0 1 0-8.6 0M263.2 820.8a4.3 4.3 0 1 0 8.6 0a4.3 4.3 0 1 0-8.6 0M369.4 820.8a4.3 4.3 0 1 0 8.6 0a4.3 4.3 0 1 0-8.6 0M316.3 831.4a4.3 4.3 0 1 0 8.6 0a4.3 4.3 0 1 0-8.6 0M454.4 831.4a4.3 4.3 0 1 0 8.6 0a4.3 4.3 0 1 0-8.6 0M188.9 842.1a4.3 4.3 0 1 0 8.6 0a4.3 4.3 0 1 0-8.6 0M369.4 842.1a4.3 4.3 0 1 0 8.6 0a4.3 4.3 0 1 0-8.6 0M454.4 842.1a4.3 4.3 0 1 0 8.6 0a4.3 4.3 0 1 0-8.6 0M528.7 842.1a4.3 4.3 0 1 0 8.6 0a4.3 4.3 0 1 0-8.6 0M380.0 852.7a4.3 4.3 0 1 0 8.6 0a4.3 4.3 0 1 0-8.6 0M231.4 863.3a4.3 4.3 0 1 0 8.6 0a4.3 4.3 0 1 0-8.6 0M518.1 863.3a4.3 4.3 0 1 0 8.6 0a4.3 4.3 0 1 0-8.6 0M316.3 874.0a4.3 4.3 0 1 0 8.6 0a4.3 4.3 0 1 0-8.6 0M518.1 874.0a4.3 4.3 0 1 0 8.6 0a4.3 4.3 0 1 0-8.6 0M422.5 884.6a4.3 4.3 0 1 0 8.6 0a4.3 4.3 0 1 0-8.6 0M528.7 884.6a4.3 4.3 0 1 0 8.6 0a4.3 4.3 0 1 0-8.6 0M210.1 895.3a4.3 4.3 0 1 0 8.6 0a4.3 4.3 0 1 0-8.6 0M273.8 895.3a4.3 4.3 0 1 0 8.6 0a4.3 4.3 0 1 0-8.6 0M465.0 895.3a4.3 4.3 0 1 0 8.6 0a4.3 4.3 0 1 0-8.6 0M496.9 895.3a4.3 4.3 0 1 0 8.6 0a4.3 4.3 0 1 0-8.6 0M210.1 905.9a4.3 4.3 0 1 0 8.6 0a4.3 4.3 0 1 0-8.6 0M380.0 905.9a4.3 4.3 0 1 0 8.6 0a4.3 4.3 0 1 0-8.6 0M496.9 905.9a4.3 4.3 0 1 0 8.6 0a4.3 4.3 0 1 0-8.6 0M273.8 927.2a4.3 4.3 0 1 0 8.6 0a4.3 4.3 0 1 0-8.6 0M242.0 937.8a4.3 4.3 0 1 0 8.6 0a4.3 4.3 0 1 0-8.6 0M337.6 937.8a4.3 4.3 0 1 0 8.6 0a4.3 4.3 0 1 0-8.6 0M369.4 937.8a4.3 4.3 0 1 0 8.6 0a4.3 4.3 0 1 0-8.6 0M443.8 948.5a4.3 4.3 0 1 0 8.6 0a4.3 4.3 0 1 0-8.6 0M188.9 959.1a4.3 4.3 0 1 0 8.6 0a4.3 4.3 0 1 0-8.6 0M295.1 959.1a4.3 4.3 0 1 0 8.6 0a4.3 4.3 0 1 0-8.6 0M146.4 969.8a4.3 4.3 0 1 0 8.6 0a4.3 4.3 0 1 0-8.6 0M273.8 969.8a4.3 4.3 0 1 0 8.6 0a4.3 4.3 0 1 0-8.6 0M93.3 980.4a4.3 4.3 0 1 0 8.6 0a4.3 4.3 0 1 0-8.6 0M199.5 980.4a4.3 4.3 0 1 0 8.6 0a4.3 4.3 0 1 0-8.6 0M146.4 991.0a4.3 4.3 0 1 0 8.6 0a4.3 4.3 0 1 0-8.6 0M167.6 991.0a4.3 4.3 0 1 0 8.6 0a4.3 4.3 0 1 0-8.6 0M305.7 1012.3a4.3 4.3 0 1 0 8.6 0a4.3 4.3 0 1 0-8.6 0M135.8 1023.0a4.3 4.3 0 1 0 8.6 0a4.3 4.3 0 1 0-8.6 0M358.8 1044.3a4.3 4.3 0 1 0 8.6 0a4.3 4.3 0 1 0-8.6 0M390.7 1044.3a4.3 4.3 0 1 0 8.6 0a4.3 4.3 0 1 0-8.6 0M231.4 1054.9a4.3 4.3 0 1 0 8.6 0a4.3 4.3 0 1 0-8.6 0M125.2 1065.5a4.3 4.3 0 1 0 8.6 0a4.3 4.3 0 1 0-8.6 0M157.0 1076.2a4.3 4.3 0 1 0 8.6 0a4.3 4.3 0 1 0-8.6 0M518.1 1086.8a4.3 4.3 0 1 0 8.6 0a4.3 4.3 0 1 0-8.6 0M358.8 1097.5a4.3 4.3 0 1 0 8.6 0a4.3 4.3 0 1 0-8.6 0M252.6 1108.1a4.3 4.3 0 1 0 8.6 0a4.3 4.3 0 1 0-8.6 0M454.4 1108.1a4.3 4.3 0 1 0 8.6 0a4.3 4.3 0 1 0-8.6 0M146.4 1118.8a4.3 4.3 0 1 0 8.6 0a4.3 4.3 0 1 0-8.6 0" fill="#f5c3ad"/>
<path d="M114.5 725.0a4.3 4.3 0 1 0 8.6 0a4.3 4.3 0 1 0-8.6 0M167.6 725.0a4.3 4.3 0 1 0 8.6 0a4.3 4.3 0 1 0-8.6 0M273.8 725.0a4.3 4.3 0 1 0 8.6 0a4.3 4.3 0 1 0-8.6 0M284.5 725.0a4.3 4.3 0 1 0 8.6 0a4.3 4.3 0 1 0-8.6 0M518.1 725.0a4.3 4.3 0 1 0 8.6 0a4.3 4.3 0 1 0-8.6 0M528.7 725.0a4.3 4.3 0 1 0 8.6 0a4.3 4.3 0 1 0-8.6 0M263.2 735.6a4.3 4.3 0 1 0 8.6 0a4.3 4.3 0 1 0-8.6 0M486.2 735.6a4.3 4.3 0 1 0 8.6 0a4.3 4.3 0 1 0-8.6 0M188.9 746.3a4.3 4.3 0 1 0 8.6 0a4.3 4.3 0 1 0-8.6 0M199.5 746.3a4.3 4.3 0 1 0 8.6 0a4.3 4.3 0 1 0-8.6 0M443.8 746.3a4.3 4.3 0 1 0 8.6 0a4.3 4.3 0 1 0-8.6 0M220.7 767.6a4.3 4.3 0 1 0 8.6 0a4.3 4.3 0 1 0-8.6 0M263.2 778.2a4.3 4.3 0 1 0 8.6 0a4.3 4.3 0 1 0-8.6 0M454.4 778.2a4.3 4.3 0 1 0 8.6 0a4.3 4.3 0 1 0-8.6 0M496.9 788.9a4.3 4.3 0 1 0 8.6 0a4.3 4.3 0 1 0-8.6 0M252.6 810.1a4.3 4.3 0 1 0 8.6 0a4.3 4.3 0 1 0-8.6 0M263.2 831.4a4.3 4.3 0 1 0 8.6 0a4.3 4.3 0 1 0-8.6 0M295.1 831.4a4.3 4.3 0 1 0 8.6 0a4.3 4.3 0 1 0-8.6 0M380.0 831.4a4.3 4.3 0 1 0 8.6 0a4.3 4.3 0 1 0-8.6 0M465.0 831.4a4.3 4.3 0 1 0 8.6 0a4.3 4.3 0 1 0-8.6 0M475.6 831.4a4.3 4.3 0 1 0 8.6 0a4.3 4.3 0 1 0-8.6 0M284.5 842.1a4.3 4.3 0 1 0 8.6 0a4.3 4.3 0 1 0-8.6 0M316.3 842.1a4.3 4.3 0 1 0 8.6 0a4.3 4.3 0 1 0-8.6 0M380.0 842.1a4.3 4.3 0 1 0 8.6 0a4.3 4.3 0 1 0-8.6 0M433.1 842.1a4.3 4.3 0 1 0 8.6 0a4.3 4.3 0 1 0-8.6 0M231.4 852.7a4.3 4.3 0 1 0 8.6 0a4.3 4.3 0 1 0-8.6 0M263.2 852.7a4.3 4.3 0 1 0 8.6 0a4.3 4.3 0 1 0-8.6 0M316.3 852.7a4.3 4.3 0 1 0 8.6 0a4.3 4.3 0 1 0-8.6 0M486.2 852.7a4.3 4.3 0 1 0 8.6 0a4.3 4.3 0 1 0-8.6 0M295.1 874.0a4.3 4.3 0 1 0 8.6 0a4.3 4.3 0 1 0-8.6 0M348.2 874.0a4.3 4.3 0 1 0 8.6 0a4.3 4.3 0 1 0-8.6 0M369.4 874.0a4.3 4.3 0 1 0 8.6 0a4.3 4.3 0 1 0-8.6 0M411.9 884.6a4.3 4.3 0 1 0 8.6 0a4.3 4.3 0 1 0-8.6 0M443.8 884.6a4.3 4.3 0 1 0 8.6 0a4.3 4.3 0 1 0-8.6 0M518.1 884.6a4.3 4.3 0 1 0 8.6 0a4.3 4.3 0 1 0-8.6 0M220.7 895.3a4.3 4.3 0 1 0 8.6 0a4.3 4.3 0 1 0-8.6 0M358.8 895.3a4.3 4.3 0 1 0 8.6 0a4.3 4.3 0 1 0-8.6 0M401.3 895.3a4.3 4.3 0 1 0 8.6 0a4.3 4.3 0 1 0-8.6 0M465.0 905.9a4.3 4.3 0 1 0 8.6 0a4.3 4.3 0 1 0-8.6 0M305.7 927.2a4.3 4.3 0 1 0 8.6 0a4.3 4.3 0 1 0-8.6 0M295.1 948.5a4.3 4.3 0 1 0 8.6 0a4.3 4.3 0 1 0-8.6 0M305.7 948.5a4.3 4.3 0 1 0 8.6 0a4.3 4.3 0 1 0-8.6 0M210.1 969.8a4.3 4.3 0 1 0 8.6 0a4.3 4.3 0 1 0-8.6 0M401.3 969.8a4.3 4.3 0 1 0 8.6 0a4.3 4.3 0 1 0-8.6 0M199.5 1012.3a4.3 4.3 0 1 0 8.6 0a4.3 4.3 0 1 0-8.6 0M390.7 1012.3a4.3 4.3 0 1 0 8.6 0a4.3 4.3 0 1 0-8.6 0M316.3 1023.0a4.3 4.3 0 1 0 8.6 0a4.3 4.3 0 1 0-8.6 0M231.4 1033.6a4.3 4.3 0 1 0 8.6 0a4.3 4.3 0 1 0-8.6 0M422.5 1054.9a4.3 4.3 0 1 0 8.6 0a4.3 4.3 0 1 0-8.6 0M390.7 1065.5a4.3 4.3 0 1 0 8.6 0a4.3 4.3 0 1 0-8.6 0M263.2 1076.2a4.3 4.3 0 1 0 8.6 0a4.3 4.3 0 1 0-8.6 0M263.2 1086.8a4.3 4.3 0 1 0 8.6 0a4.3 4.3 0 1 0-8.6 0M273.8 1118.8a4.3 4.3 0 1 0 8.6 0a4.3 4.3 0 1 0-8.6 0" fill="#f5b59b"/>
<path d="M135.8 725.0a4.3 4.3 0 1 0 8.6 0a4.3 4.3 0 1 0-8.6 0M157.0 725.0a4.3 4.3 0 1 0 8.6 0a4.3 4.3 0 1 0-8.6 0M252.6 725.0a4.3 4.3 0 1 0 8.6 0a4.3 4.3 0 1 0-8.6 0M390.7 725.0a4.3 4.3 0 1 0 8.6 0a4.3 4.3 0 1 0-8.6 0M401.3 725.0a4.3 4.3 0 1 0 8.6 0a4.3 4.3 0 1 0-8.6 0M443.8 725.0a4.3 4.3 0 1 0 8.6 0a4.3 4.3 0 1 0-8.6 0M486.2 725.0a4.3 4.3 0 1 0 8.6 0a4.3 4.3 0 1 0-8.6 0M390.7 735.6a4.3 4.3 0 1 0 8.6 0a4.3 4.3 0 1 0-8.6 0M443.8 735.6a4.3 4.3 0 1 0 8.6 0a4.3 4.3 0 1 0-8.6 0M475.6 735.6a4.3 4.3 0 1 0 8.6 0a4.3 4.3 0 1 0-8.6 0M146.4 746.3a4.3 4.3 0 1 0 8.6 0a4.3 4.3 0 1 0-8.6 0M210.1 746.3a4.3 4.3 0 1 0 8.6 0a4.3 4.3 0 1 0-8.6 0M199.5 756.9a4.3 4.3 0 1 0 8.6 0a4.3 4.3 0 1 0-8.6 0M231.4 756.9a4.3 4.3 0 1 0 8.6 0a4.3 4.3 0 1 0-8.6 0M188.9 767.6a4.3 4.3 0 1 0 8.6 0a4.3 4.3 0 1 0-8.6 0M220.7 799.5a4.3 4.3 0 1 0 8.6 0a4.3 4.3 0 1 0-8.6 0M231.4 799.5a4.3 4.3 0 1 0 8.6 0a4.3 4.3 0 1 0-8.6 0M358.8 799.5a4.3 4.3 0 1 0 8.6 0a4.3 4.3 0 1 0-8.6 0M443.8 799.5a4.3 4.3 0 1 0 8.6 0a4.3 4.3 0 1 0-8.6 0M496.9 820.8a4.3 4.3 0 1 0 8.6 0a4.3 4.3 0 1 0-8.6 0M507.5 820.8a4.3 4.3 0 1 0 8.6 0a4.3 4.3 0 1 0-8.6 0M231.4 831.4a4.3 4.3 0 1 0 8.6 0a4.3 4.3 0 1 0-8.6 0M507.5 831.4a4.3 4.3 0 1 0 8.6 0a4.3 4.3 0 1 0-8.6 0M295.1 842.1a4.3 4.3 0 1 0 8.6 0a4.3 4.3 0 1 0-8.6 0M273.8 852.7a4.3 4.3 0 1 0 8.6 0a4.3 4.3 0 1 0-8.6 0M433.1 852.7a4.3 4.3 0 1 0 8.6 0a4.3 4.3 0 1 0-8.6 0M263.2 863.3a4.3 4.3 0 1 0 8.6 0a4.3 4.3 0 1 0-8.6 0M284.5 863.3a4.3 4.3 0 1 0 8.6 0a4.3 4.3 0 1 0-8.6 0M528.7 863.3a4.3 4.3 0 1 0 8.6 0a4.3 4.3 0 1 0-8.6 0M263.2 874.0a4.3 4.3 0 1 0 8.6 0a4.3 4.3 0 1 0-8.6 0M284.5 874.0a4.3 4.3 0 1 0 8.6 0a4.3 4.3 0 1 0-8.6 0M358.8 874.0a4.3 4.3 0 1 0 8.6 0a4.3 4.3 0 1 0-8.6 0M390.7 874.0a4.3 4.3 0 1 0 8.6 0a4.3 4.3 0 1 0-8.6 0M528.7 874.0a4.3 4.3 0 1 0 8.6 0a4.3 4.3 0 1 0-8.6 0M273.8 884.6a4.3 4.3 0 1 0 8.6 0a4.3 4.3 0 1 0-8.6 0M337.6 884.6a4.3 4.3 0 1 0 8.6 0a4.3 4.3 0 1 0-8.6 0M348.2 884.6a4.3 4.3 0 1 0 8.6 0a4.3 4.3 0 1 0-8.6 0M369.4 884.6a4.3 4.3 0 1 0 8.6 0a4.3 4.3 0 1 0-8.6 0M390.7 884.6a4.3 4.3 0 1 0 8.6 0a4.3 4.3 0 1 0-8.6 0M369.4 895.3a4.3 4.3 0 1 0 8.6 0a4.3 4.3 0 1 0-8.6 0M454.4 895.3a4.3 4.3 0 1 0 8.6 0a4.3 4.3 0 1 0-8.6 0M114.5 916.6a4.3 4.3 0 1 0 8.6 0a4.3 4.3 0 1 0-8.6 0M263.2 916.6a4.3 4.3 0 1 0 8.6 0a4.3 4.3 0 1 0-8.6 0M295.1 916.6a4.3 4.3 0 1 0 8.6 0a4.3 4.3 0 1 0-8.6 0M390.7 916.6a4.3 4.3 0 1 0 8.6 0a4.3 4.3 0 1 0-8.6 0M507.5 937.8a4.3 4.3 0 1 0 8.6 0a4.3 4.3 0 1 0-8.6 0M518.1 948.5a4.3 4.3 0 1 0 8.6 0a4.3 4.3 0 1 0-8.6 0M390.7 959.1a4.3 4.3 0 1 0 8.6 0a4.3 4.3 0 1 0-8.6 0M401.3 959.1a4.3 4.3 0 1 0 8.6 0a4.3 4.3 0 1 0-8.6 0M103.9 969.8a4.3 4.3 0 1 0 8.6 0a4.3 4.3 0 1 0-8.6 0M486.2 969.8a4.3 4.3 0 1 0 8.6 0a4.3 4.3 0 1 0-8.6 0M103.9 980.4a4.3 4.3 0 1 0 8.6 0a4.3 4.3 0 1 0-8.6 0M167.6 980.4a4.3 4.3 0 1 0 8.6 0a4.3 4.3 0 1 0-8.6 0M188.9 980.4a4.3 4.3 0 1 0 8.6 0a4.3 4.3 0 1 0-8.6 0M220.7 980.4a4.3 4.3 0 1 0 8.6 0a4.3 4.3 0 1 0-8.6 0M231.4 980.4a4.3 4.3 0 1 0 8.6 0a4.3 4.3 0 1 0-8.6 0M135.8 991.0a4.3 4.3 0 1 0 8.6 0a4.3 4.3 0 1 0-8.6 0M210.1 1001.7a4.3 4.3 0 1 0 8.6 0a4.3 4.3 0 1 0-8.6 0M273.8 1001.7a4.3 4.3 0 1 0 8.6 0a4.3 4.3 0 1 0-8.6 0M188.9 1012.3a4.3 4.3 0 1 0 8.6 0a4.3 4.3 0 1 0-8.6 0M210.1 1012.3a4.3 4.3 0 1 0 8.6 0a4.3 4.3 0 1 0-8.6 0M103.9 1044.3a4.3 4.3 0 1 0 8.6 0a4.3 4.3 0 1 0-8.6 0M263.2 1097.5a4.3 4.3 0 1 0 8.6 0a4.3 4.3 0 1 0-8.6 0M263.2 1118.8a4.3 4.3 0 1 0 8.6 0a4.3 4.3 0 1 0-8.6 0" fill="#f4ad93"/>
<path d="M93.3 725.0a4.3 4.3 0 1 0 8.6 0a4.3 4.3 0 1 0-8.6 0M125.2 725.0a4.3 4.3 0 1 0 8.6 0a4.3 4.3 0 1 0-8.6 0M178.3 725.0a4.3 4.3 0 1 0 8.6 0a4.3 4.3 0 1 0-8.6 0M263.2 725.0a4.3 4.3 0 1 0 8.6 0a4.3 4.3 0 1 0-8.6 0M380.0 725.0a4.3 4.3 0 1 0 8.6 0a4.3 4.3 0 1 0-8.6 0M411.9 725.0a4.3 4.3 0 1 0 8.6 0a4.3 4.3 0 1 0-8.6 0M422.5 725.0a4.3 4.3 0 1 0 8.6 0a4.3 4.3 0 1 0-8.6 0M433.1 725.0a4.3 4.3 0 1 0 8.6 0a4.3 4.3 0 1 0-8.6 0M454.4 725.0a4.3 4.3 0 1 0 8.6 0a4.3 4.3 0 1 0-8.6 0M263.2 746.3a4.3 4.3 0 1 0 8.6 0a4.3 4.3 0 1 0-8.6 0M507.5 746.3a4.3 4.3 0 1 0 8.6 0a4.3 4.3 0 1 0-8.6 0M188.9 756.9a4.3 4.3 0 1 0 8.6 0a4.3 4.3 0 1 0-8.6 0M220.7 756.9a4.3 4.3 0 1 0 8.6 0a4.3 4.3 0 1 0-8.6 0M433.1 756.9a4.3 4.3 0 1 0 8.6 0a4.3 4.3 0 1 0-8.6 0M518.1 756.9a4.3 4.3 0 1 0 8.6 0a4.3 4.3 0 1 0-8.6 0M199.5 778.2a4.3 4.3 0 1 0 8.6 0a4.3 4.3 0 1 0-8.6 0M231.4 778.2a4.3 4.3 0 1 0 8.6 0a4.3 4.3 0 1 0-8.6 0M465.0 778.2a4.3 4.3 0 1 0 8.6 0a4.3 4.3 0 1 0-8.6 0M486.2 778.2a4.3 4.3 0 1 0 8.6 0a4.3 4.3 0 1 0-8.6 0M496.9 778.2a4.3 4.3 0 1 0 8.6 0a4.3 4.3 0 1 0-8.6 0M210.1 788.9a4.3 4.3 0 1 0 8.6 0a4.3 4.3 0 1 0-8.6 0M369.4 810.1a4.3 4.3 0 1 0 8.6 0a4.3 4.3 0 1 0-8.6 0M103.9 820.8a4.3 4.3 0 1 0 8.6 0a4.3 4.3 0 1 0-8.6 0M380.0 820.8a4.3 4.3 0 1 0 8.6 0a4.3 4.3 0 1 0-8.6 0M284.5 831.4a4.3 4.3 0 1 0 8.6 0a4.3 4.3 0 1 0-8.6 0M528.7 831.4a4.3 4.3 0 1 0 8.6 0a4.3 4.3 0 1 0-8.6 0M199.5 842.1a4.3 4.3 0 1 0 8.6 0a4.3 4.3 0 1 0-8.6 0M242.0 842.1a4.3 4.3 0 1 0 8.6 0a4.3 4.3 0 1 0-8.6 0M337.6 852.7a4.3 4.3 0 1 0 8.6 0a4.3 4.3 0 1 0-8.6 0M369.4 852.7a4.3 4.3 0 1 0 8.6 0a4.3 4.3 0 1 0-8.6 0M273.8 874.0a4.3 4.3 0 1 0 8.6 0a4.3 4.3 0 1 0-8.6 0M337.6 874.0a4.3 4.3 0 1 0 8.6 0a4.3 4.3 0 1 0-8.6 0M263.2 884.6a4.3 4.3 0 1 0 8.6 0a4.3 4.3 0 1 0-8.6 0M295.1 884.6a4.3 4.3 0 1 0 8.6 0a4.3 4.3 0 1 0-8.6 0M380.0 884.6a4.3 4.3 0 1 0 8.6 0a4.3 4.3 0 1 0-8.6 0M454.4 884.6a4.3 4.3 0 1 0 8.6 0a4.3 4.3 0 1 0-8.6 0M263.2 895.3a4.3 4.3 0 1 0 8.6 0a4.3 4.3 0 1 0-8.6 0M380.0 895.3a4.3 4.3 0 1 0 8.6 0a4.3 4.3 0 1 0-8.6 0M390.7 895.3a4.3 4.3 0 1 0 8.6 0a4.3 4.3 0 1 0-8.6 0M305.7 905.9a4.3 4.3 0 1 0 8.6 0a4.3 4.3 0 1 0-8.6 0M358.8 905.9a4.3 4.3 0 1 0 8.6 0a4.3 4.3 0 1 0-8.6 0M273.8 916.6a4.3 4.3 0 1 0 8.6 0a4.3 4.3 0 1 0-8.6 0M284.5 916.6a4.3 4.3 0 1 0 8.6 0a4.3 4.3 0 1 0-8.6 0M348.2 948.5a4.3 4.3 0 1 0 8.6 0a4.3 4.3 0 1 0-8.6 0M518.1 959.1a4.3 4.3 0 1 0 8.6 0a4.3 4.3 0 1 0-8.6 0M157.0 969.8a4.3 4.3 0 1 0 8.6 0a4.3 4.3 0 1 0-8.6 0M114.5 980.4a4.3 4.3 0 1 0 8.6 0a4.3 4.3 0 1 0-8.6 0M146.4 980.4a4.3 4.3 0 1 0 8.6 0a4.3 4.3 0 1 0-8.6 0M157.0 980.4a4.3 4.3 0 1 0 8.6 0a4.3 4.3 0 1 0-8.6 0M496.9 980.4a4.3 4.3 0 1 0 8.6 0a4.3 4.3 0 1 0-8.6 0M157.0 991.0a4.3 4.3 0 1 0 8.6 0a4.3 4.3 0 1 0-8.6 0M220.7 991.0a4.3 4.3 0 1 0 8.6 0a4.3 4.3 0 1 0-8.6 0M242.0 991.0a4.3 4.3 0 1 0 8.6 0a4.3 4.3 0 1 0-8.6 0M273.8 991.0a4.3 4.3 0 1 0 8.6 0a4.3 4.3 0 1 0-8.6 0M146.4 1001.7a4.3 4.3 0 1 0 8.6 0a4.3 4.3 0 1 0-8.6 0M157.0 1001.7a4.3 4.3 0 1 0 8.6 0a4.3 4.3 0 1 0-8.6 0M210.1 1033.6a4.3 4.3 0 1 0 8.6 0a4.3 4.3 0 1 0-8.6 0M103.9 1054.9a4.3 4.3 0 1 0 8.6 0a4.3 4.3 0 1 0-8.6 0M348.2 1054.9a4.3 4.3 0 1 0 8.6 0a4.3 4.3 0 1 0-8.6 0M358.8 1054.9a4.3 4.3 0 1 0 8.6 0a4.3 4.3 0 1 0-8.6 0M411.9 1054.9a4.3 4.3 0 1 0 8.6 0a4.3 4.3 0 1 0-8.6 0M401.3 1065.5a4.3 4.3 0 1 0 8.6 0a4.3 4.3 0 1 0-8.6 0M263.2 1108.1a4.3 4.3 0 1 0 8.6 0a4.3 4.3 0 1 0-8.6 0M242.0 1118.8a4.3 4.3 0 1 0 8.6 0a4.3 4.3 0 1 0-8.6 0" fill="#f3a48a"/>
<path d="M188.9 725.0a4.3 4.3 0 1 0 8.6 0a4.3 4.3 0 1 0-8.6 0M295.1 725.0a4.3 4.3 0 1 0 8.6 0a4.3 4.3 0 1 0-8.6 0M369.4 725.0a4.3 4.3 0 1 0 8.6 0a4.3 4.3 0 1 0-8.6 0M465.0 725.0a4.3 4.3 0 1 0 8.6 0a4.3 4.3 0 1 0-8.6 0M167.6 746.3a4.3 4.3 0 1 0 8.6 0a4.3 4.3 0 1 0-8.6 0M210.1 767.6a4.3 4.3 0 1 0 8.6 0a4.3 4.3 0 1 0-8.6 0M465.0 767.6a4.3 4.3 0 1 0 8.6 0a4.3 4.3 0 1 0-8.6 0M242.0 831.4a4.3 4.3 0 1 0 8.6 0a4.3 4.3 0 1 0-8.6 0M337.6 863.3a4.3 4.3 0 1 0 8.6 0a4.3 4.3 0 1 0-8.6 0M263.2 905.9a4.3 4.3 0 1 0 8.6 0a4.3 4.3 0 1 0-8.6 0M390.7 905.9a4.3 4.3 0 1 0 8.6 0a4.3 4.3 0 1 0-8.6 0M486.2 980.4a4.3 4.3 0 1 0 8.6 0a4.3 4.3 0 1 0-8.6 0M210.1 991.0a4.3 4.3 0 1 0 8.6 0a4.3 4.3 0 1 0-8.6 0M263.2 1033.6a4.3 4.3 0 1 0 8.6 0a4.3 4.3 0 1 0-8.6 0M146.4 1076.2a4.3 4.3 0 1 0 8.6 0a4.3 4.3 0 1 0-8.6 0" fill="#f09c82"/>
<path d="M220.7 788.9a4.3 4.3 0 1 0 8.6 0a4.3 4.3 0 1 0-8.6 0M401.3 1054.9a4.3 4.3 0 1 0 8.6 0a4.3 4.3 0 1 0-8.6 0" fill="#e98871"/>
<path d="M103.9 725.0a4.3 4.3 0 1 0 8.6 0a4.3 4.3 0 1 0-8.6 0M475.6 725.0a4.3 4.3 0 1 0 8.6 0a4.3 4.3 0 1 0-8.6 0M220.7 778.2a4.3 4.3 0 1 0 8.6 0a4.3 4.3 0 1 0-8.6 0M273.8 831.4a4.3 4.3 0 1 0 8.6 0a4.3 4.3 0 1 0-8.6 0M401.3 884.6a4.3 4.3 0 1 0 8.6 0a4.3 4.3 0 1 0-8.6 0M390.7 1054.9a4.3 4.3 0 1 0 8.6 0a4.3 4.3 0 1 0-8.6 0M454.4 1118.8a4.3 4.3 0 1 0 8.6 0a4.3 4.3 0 1 0-8.6 0" fill="#e47e6a"/>
<path d="M358.8 725.0a4.3 4.3 0 1 0 8.6 0a4.3 4.3 0 1 0-8.6 0M433.1 767.6a4.3 4.3 0 1 0 8.6 0a4.3 4.3 0 1 0-8.6 0M231.4 788.9a4.3 4.3 0 1 0 8.6 0a4.3 4.3 0 1 0-8.6 0M496.9 831.4a4.3 4.3 0 1 0 8.6 0a4.3 4.3 0 1 0-8.6 0M231.4 842.1a4.3 4.3 0 1 0 8.6 0a4.3 4.3 0 1 0-8.6 0M401.3 874.0a4.3 4.3 0 1 0 8.6 0a4.3 4.3 0 1 0-8.6 0" fill="#df7262"/>
<path d="M199.5 767.6a4.3 4.3 0 1 0 8.6 0a4.3 4.3 0 1 0-8.6 0M210.1 778.2a4.3 4.3 0 1 0 8.6 0a4.3 4.3 0 1 0-8.6 0M369.4 799.5a4.3 4.3 0 1 0 8.6 0a4.3 4.3 0 1 0-8.6 0M486.2 831.4a4.3 4.3 0 1 0 8.6 0a4.3 4.3 0 1 0-8.6 0M273.8 863.3a4.3 4.3 0 1 0 8.6 0a4.3 4.3 0 1 0-8.6 0M358.8 884.6a4.3 4.3 0 1 0 8.6 0a4.3 4.3 0 1 0-8.6 0M305.7 916.6a4.3 4.3 0 1 0 8.6 0a4.3 4.3 0 1 0-8.6 0M242.0 980.4a4.3 4.3 0 1 0 8.6 0a4.3 4.3 0 1 0-8.6 0" fill="#d9675b"/>
</g>
<defs><radialGradient id="ghd1"><stop offset="0" stop-color="#fff" stop-opacity="0.3"/><stop offset="1" stop-color="#fff" stop-opacity="0"/></radialGradient><pattern id="phd1" x="92.29" y="719.68" width="10.62" height="10.642" patternUnits="userSpaceOnUse"><circle cx="5.31" cy="5.32" r="2.6" fill="url(#ghd1)"/></pattern></defs>
<rect x="92.3" y="719.7" width="446.0" height="415.0" fill="url(#phd1)"/>
<rect x="230" y="1135" width="318.6" height="39.4" fill="#e2e2e2" fill-opacity="0.87"/>
<rect x="77.3" y="1139.6" width="132.7" height="29.1" fill="#fff"/>
<text x="143.3" y="1161.3" font-size="25.6" text-anchor="middle">5nm</text>
<text x="389.4" y="1161.3" font-size="25.6" text-anchor="middle">x=0: [001] zone axis</text>
<rect x="75.1" y="705.6" width="474.0" height="469.2" fill="none" stroke="#000" stroke-width="2"/>
<ellipse cx="224.1" cy="771.4" rx="40.9" ry="35" fill="none" stroke="#ffff00" stroke-width="4"/>
<ellipse cx="385.3" cy="847" rx="76.4" ry="34.8" fill="none" stroke="#ffff00" stroke-width="4"/>
<ellipse cx="190.7" cy="984" rx="76.7" ry="35" fill="none" stroke="#ffff00" stroke-width="4"/>
<defs><radialGradient id="gad2"><stop offset="0" stop-color="#fff"/><stop offset="0.26" stop-color="#f4f4f4" stop-opacity="0.95"/><stop offset="0.55" stop-color="#ccc" stop-opacity="0.35"/><stop offset="1" stop-color="#fff" stop-opacity="0"/></radialGradient><radialGradient id="gbd2"><stop offset="0" stop-color="#fff" stop-opacity="0.22"/><stop offset="1" stop-color="#fff" stop-opacity="0"/></radialGradient><pattern id="ptd2" x="658.72" y="717.35" width="10.767" height="10.495" patternUnits="userSpaceOnUse"><circle cx="5.38" cy="5.25" r="3.6" fill="url(#gad2)"/><circle cx="0" cy="0" r="3.4" fill="url(#gbd2)"/><circle cx="10.767" cy="0" r="3.4" fill="url(#gbd2)"/><circle cx="0" cy="10.495" r="3.4" fill="url(#gbd2)"/><circle cx="10.767" cy="10.495" r="3.4" fill="url(#gbd2)"/></pattern></defs>
<rect x="644.2" y="703.8" width="474.4" height="470.6" fill="#1c1c1c"/>
<rect x="644.2" y="703.8" width="474.4" height="470.6" fill="url(#ptd2)"/>
<g stroke="#000" stroke-opacity="0.35" stroke-width="0.6">
<path d="M950.5 733.1a4.3 4.3 0 1 0 8.6 0a4.3 4.3 0 1 0-8.6 0M864.4 890.5a4.3 4.3 0 1 0 8.6 0a4.3 4.3 0 1 0-8.6 0" fill="#677edd"/>
<path d="M972.0 764.6a4.3 4.3 0 1 0 8.6 0a4.3 4.3 0 1 0-8.6 0M907.4 1079.4a4.3 4.3 0 1 0 8.6 0a4.3 4.3 0 1 0-8.6 0M1068.9 1100.4a4.3 4.3 0 1 0 8.6 0a4.3 4.3 0 1 0-8.6 0M1079.7 1100.4a4.3 4.3 0 1 0 8.6 0a4.3 4.3 0 1 0-8.6 0" fill="#6d87e4"/>
<path d="M1058.2 764.6a4.3 4.3 0 1 0 8.6 0a4.3 4.3 0 1 0-8.6 0M735.2 890.5a4.3 4.3 0 1 0 8.6 0a4.3 4.3 0 1 0-8.6 0" fill="#7591ea"/>
<path d="M659.8 1047.9a4.3 4.3 0 1 0 8.6 0a4.3 4.3 0 1 0-8.6 0M659.8 1058.4a4.3 4.3 0 1 0 8.6 0a4.3 4.3 0 1 0-8.6 0" fill="#7c99ef"/>
<path d="M767.5 733.1a4.3 4.3 0 1 0 8.6 0a4.3 4.3 0 1 0-8.6 0M972.0 733.1a4.3 4.3 0 1 0 8.6 0a4.3 4.3 0 1 0-8.6 0M1068.9 764.6a4.3 4.3 0 1 0 8.6 0a4.3 4.3 0 1 0-8.6 0M961.3 775.1a4.3 4.3 0 1 0 8.6 0a4.3 4.3 0 1 0-8.6 0M756.7 838.0a4.3 4.3 0 1 0 8.6 0a4.3 4.3 0 1 0-8.6 0M885.9 922.0a4.3 4.3 0 1 0 8.6 0a4.3 4.3 0 1 0-8.6 0M1047.4 932.5a4.3 4.3 0 1 0 8.6 0a4.3 4.3 0 1 0-8.6 0M896.7 1016.5a4.3 4.3 0 1 0 8.6 0a4.3 4.3 0 1 0-8.6 0M961.3 1016.5a4.3 4.3 0 1 0 8.6 0a4.3 4.3 0 1 0-8.6 0M864.4 1027.0a4.3 4.3 0 1 0 8.6 0a4.3 4.3 0 1 0-8.6 0M821.3 1079.4a4.3 4.3 0 1 0 8.6 0a4.3 4.3 0 1 0-8.6 0M875.1 1100.4a4.3 4.3 0 1 0 8.6 0a4.3 4.3 0 1 0-8.6 0M778.2 1121.4a4.3 4.3 0 1 0 8.6 0a4.3 4.3 0 1 0-8.6 0M875.1 1121.4a4.3 4.3 0 1 0 8.6 0a4.3 4.3 0 1 0-8.6 0" fill="#8ba9f7"/>
<path d="M767.5 722.6a4.3 4.3 0 1 0 8.6 0a4.3 4.3 0 1 0-8.6 0M950.5 722.6a4.3 4.3 0 1 0 8.6 0a4.3 4.3 0 1 0-8.6 0M842.8 733.1a4.3 4.3 0 1 0 8.6 0a4.3 4.3 0 1 0-8.6 0M982.8 733.1a4.3 4.3 0 1 0 8.6 0a4.3 4.3 0 1 0-8.6 0M1015.1 733.1a4.3 4.3 0 1 0 8.6 0a4.3 4.3 0 1 0-8.6 0M724.4 754.1a4.3 4.3 0 1 0 8.6 0a4.3 4.3 0 1 0-8.6 0M972.0 775.1a4.3 4.3 0 1 0 8.6 0a4.3 4.3 0 1 0-8.6 0M875.1 796.1a4.3 4.3 0 1 0 8.6 0a4.3 4.3 0 1 0-8.6 0M681.3 806.6a4.3 4.3 0 1 0 8.6 0a4.3 4.3 0 1 0-8.6 0M993.6 806.6a4.3 4.3 0 1 0 8.6 0a4.3 4.3 0 1 0-8.6 0M907.4 827.5a4.3 4.3 0 1 0 8.6 0a4.3 4.3 0 1 0-8.6 0M1047.4 827.5a4.3 4.3 0 1 0 8.6 0a4.3 4.3 0 1 0-8.6 0M702.9 848.5a4.3 4.3 0 1 0 8.6 0a4.3 4.3 0 1 0-8.6 0M756.7 848.5a4.3 4.3 0 1 0 8.6 0a4.3 4.3 0 1 0-8.6 0M842.8 848.5a4.3 4.3 0 1 0 8.6 0a4.3 4.3 0 1 0-8.6 0M864.4 869.5a4.3 4.3 0 1 0 8.6 0a4.3 4.3 0 1 0-8.6 0M670.6 890.5a4.3 4.3 0 1 0 8.6 0a4.3 4.3 0 1 0-8.6 0M724.4 890.5a4.3 4.3 0 1 0 8.6 0a4.3 4.3 0 1 0-8.6 0M821.3 890.5a4.3 4.3 0 1 0 8.6 0a4.3 4.3 0 1 0-8.6 0M875.1 890.5a4.3 4.3 0 1 0 8.6 0a4.3 4.3 0 1 0-8.6 0M745.9 901.0a4.3 4.3 0 1 0 8.6 0a4.3 4.3 0 1 0-8.6 0M918.2 932.5a4.3 4.3 0 1 0 8.6 0a4.3 4.3 0 1 0-8.6 0M918.2 1016.5a4.3 4.3 0 1 0 8.6 0a4.3 4.3 0 1 0-8.6 0M832.1 1058.4a4.3 4.3 0 1 0 8.6 0a4.3 4.3 0 1 0-8.6 0M993.6 1058.4a4.3 4.3 0 1 0 8.6 0a4.3 4.3 0 1 0-8.6 0M810.5 1079.4a4.3 4.3 0 1 0 8.6 0a4.3 4.3 0 1 0-8.6 0M918.2 1079.4a4.3 4.3 0 1 0 8.6 0a4.3 4.3 0 1 0-8.6 0M982.8 1079.4a4.3 4.3 0 1 0 8.6 0a4.3 4.3 0 1 0-8.6 0M670.6 1110.9a4.3 4.3 0 1 0 8.6 0a4.3 4.3 0 1 0-8.6 0M875.1 1110.9a4.3 4.3 0 1 0 8.6 0a4.3 4.3 0 1 0-8.6 0M789.0 1121.4a4.3 4.3 0 1 0 8.6 0a4.3 4.3 0 1 0-8.6 0M1068.9 1121.4a4.3 4.3 0 1 0 8.6 0a4.3 4.3 0 1 0-8.6 0" fill="#92b0f9"/>
<path d="M939.7 722.6a4.3 4.3 0 1 0 8.6 0a4.3 4.3 0 1 0-8.6 0M778.2 733.1a4.3 4.3 0 1 0 8.6 0a4.3 4.3 0 1 0-8.6 0M939.7 733.1a4.3 4.3 0 1 0 8.6 0a4.3 4.3 0 1 0-8.6 0M961.3 733.1a4.3 4.3 0 1 0 8.6 0a4.3 4.3 0 1 0-8.6 0M659.8 754.1a4.3 4.3 0 1 0 8.6 0a4.3 4.3 0 1 0-8.6 0M1015.1 754.1a4.3 4.3 0 1 0 8.6 0a4.3 4.3 0 1 0-8.6 0M1058.2 754.1a4.3 4.3 0 1 0 8.6 0a4.3 4.3 0 1 0-8.6 0M702.9 817.1a4.3 4.3 0 1 0 8.6 0a4.3 4.3 0 1 0-8.6 0M724.4 827.5a4.3 4.3 0 1 0 8.6 0a4.3 4.3 0 1 0-8.6 0M929.0 827.5a4.3 4.3 0 1 0 8.6 0a4.3 4.3 0 1 0-8.6 0M659.8 848.5a4.3 4.3 0 1 0 8.6 0a4.3 4.3 0 1 0-8.6 0M745.9 848.5a4.3 4.3 0 1 0 8.6 0a4.3 4.3 0 1 0-8.6 0M853.6 848.5a4.3 4.3 0 1 0 8.6 0a4.3 4.3 0 1 0-8.6 0M1025.9 859.0a4.3 4.3 0 1 0 8.6 0a4.3 4.3 0 1 0-8.6 0M767.5 869.5a4.3 4.3 0 1 0 8.6 0a4.3 4.3 0 1 0-8.6 0M778.2 869.5a4.3 4.3 0 1 0 8.6 0a4.3 4.3 0 1 0-8.6 0M1025.9 869.5a4.3 4.3 0 1 0 8.6 0a4.3 4.3 0 1 0-8.6 0M864.4 880.0a4.3 4.3 0 1 0 8.6 0a4.3 4.3 0 1 0-8.6 0M681.3 890.5a4.3 4.3 0 1 0 8.6 0a4.3 4.3 0 1 0-8.6 0M713.6 890.5a4.3 4.3 0 1 0 8.6 0a4.3 4.3 0 1 0-8.6 0M929.0 890.5a4.3 4.3 0 1 0 8.6 0a4.3 4.3 0 1 0-8.6 0M907.4 901.0a4.3 4.3 0 1 0 8.6 0a4.3 4.3 0 1 0-8.6 0M918.2 922.0a4.3 4.3 0 1 0 8.6 0a4.3 4.3 0 1 0-8.6 0M929.0 922.0a4.3 4.3 0 1 0 8.6 0a4.3 4.3 0 1 0-8.6 0M939.7 1016.5a4.3 4.3 0 1 0 8.6 0a4.3 4.3 0 1 0-8.6 0M659.8 1037.5a4.3 4.3 0 1 0 8.6 0a4.3 4.3 0 1 0-8.6 0M670.6 1037.5a4.3 4.3 0 1 0 8.6 0a4.3 4.3 0 1 0-8.6 0M864.4 1037.5a4.3 4.3 0 1 0 8.6 0a4.3 4.3 0 1 0-8.6 0M670.6 1047.9a4.3 4.3 0 1 0 8.6 0a4.3 4.3 0 1 0-8.6 0M832.1 1047.9a4.3 4.3 0 1 0 8.6 0a4.3 4.3 0 1 0-8.6 0M982.8 1058.4a4.3 4.3 0 1 0 8.6 0a4.3 4.3 0 1 0-8.6 0M1047.4 1058.4a4.3 4.3 0 1 0 8.6 0a4.3 4.3 0 1 0-8.6 0M735.2 1068.9a4.3 4.3 0 1 0 8.6 0a4.3 4.3 0 1 0-8.6 0M832.1 1079.4a4.3 4.3 0 1 0 8.6 0a4.3 4.3 0 1 0-8.6 0M896.7 1079.4a4.3 4.3 0 1 0 8.6 0a4.3 4.3 0 1 0-8.6 0M972.0 1079.4a4.3 4.3 0 1 0 8.6 0a4.3 4.3 0 1 0-8.6 0M907.4 1089.9a4.3 4.3 0 1 0 8.6 0a4.3 4.3 0 1 0-8.6 0M659.8 1110.9a4.3 4.3 0 1 0 8.6 0a4.3 4.3 0 1 0-8.6 0M681.3 1110.9a4.3 4.3 0 1 0 8.6 0a4.3 4.3 0 1 0-8.6 0M832.1 1110.9a4.3 4.3 0 1 0 8.6 0a4.3 4.3 0 1 0-8.6 0M681.3 1121.4a4.3 4.3 0 1 0 8.6 0a4.3 4.3 0 1 0-8.6 0M907.4 1121.4a4.3 4.3 0 1 0 8.6 0a4.3 4.3 0 1 0-8.6 0" fill="#9ab8fb"/>
<path d="M799.8 764.6a4.3 4.3 0 1 0 8.6 0a4.3 4.3 0 1 0-8.6 0M982.8 764.6a4.3 4.3 0 1 0 8.6 0a4.3 4.3 0 1 0-8.6 0M982.8 775.1a4.3 4.3 0 1 0 8.6 0a4.3 4.3 0 1 0-8.6 0M1036.6 838.0a4.3 4.3 0 1 0 8.6 0a4.3 4.3 0 1 0-8.6 0M1047.4 838.0a4.3 4.3 0 1 0 8.6 0a4.3 4.3 0 1 0-8.6 0M853.6 869.5a4.3 4.3 0 1 0 8.6 0a4.3 4.3 0 1 0-8.6 0M659.8 890.5a4.3 4.3 0 1 0 8.6 0a4.3 4.3 0 1 0-8.6 0M799.8 890.5a4.3 4.3 0 1 0 8.6 0a4.3 4.3 0 1 0-8.6 0M918.2 890.5a4.3 4.3 0 1 0 8.6 0a4.3 4.3 0 1 0-8.6 0M918.2 901.0a4.3 4.3 0 1 0 8.6 0a4.3 4.3 0 1 0-8.6 0M907.4 1016.5a4.3 4.3 0 1 0 8.6 0a4.3 4.3 0 1 0-8.6 0M821.3 1047.9a4.3 4.3 0 1 0 8.6 0a4.3 4.3 0 1 0-8.6 0M864.4 1047.9a4.3 4.3 0 1 0 8.6 0a4.3 4.3 0 1 0-8.6 0M939.7 1058.4a4.3 4.3 0 1 0 8.6 0a4.3 4.3 0 1 0-8.6 0M1058.2 1058.4a4.3 4.3 0 1 0 8.6 0a4.3 4.3 0 1 0-8.6 0M756.7 1089.9a4.3 4.3 0 1 0 8.6 0a4.3 4.3 0 1 0-8.6 0M896.7 1089.9a4.3 4.3 0 1 0 8.6 0a4.3 4.3 0 1 0-8.6 0M713.6 1121.4a4.3 4.3 0 1 0 8.6 0a4.3 4.3 0 1 0-8.6 0M724.4 1121.4a4.3 4.3 0 1 0 8.6 0a4.3 4.3 0 1 0-8.6 0M918.2 1121.4a4.3 4.3 0 1 0 8.6 0a4.3 4.3 0 1 0-8.6 0M939.7 1121.4a4.3 4.3 0 1 0 8.6 0a4.3 4.3 0 1 0-8.6 0" fill="#a2befc"/>
<path d="M1015.1 722.6a4.3 4.3 0 1 0 8.6 0a4.3 4.3 0 1 0-8.6 0M681.3 733.1a4.3 4.3 0 1 0 8.6 0a4.3 4.3 0 1 0-8.6 0M853.6 733.1a4.3 4.3 0 1 0 8.6 0a4.3 4.3 0 1 0-8.6 0M1068.9 733.1a4.3 4.3 0 1 0 8.6 0a4.3 4.3 0 1 0-8.6 0M1025.9 743.6a4.3 4.3 0 1 0 8.6 0a4.3 4.3 0 1 0-8.6 0M713.6 754.1a4.3 4.3 0 1 0 8.6 0a4.3 4.3 0 1 0-8.6 0M885.9 754.1a4.3 4.3 0 1 0 8.6 0a4.3 4.3 0 1 0-8.6 0M1025.9 754.1a4.3 4.3 0 1 0 8.6 0a4.3 4.3 0 1 0-8.6 0M1047.4 754.1a4.3 4.3 0 1 0 8.6 0a4.3 4.3 0 1 0-8.6 0M885.9 764.6a4.3 4.3 0 1 0 8.6 0a4.3 4.3 0 1 0-8.6 0M896.7 764.6a4.3 4.3 0 1 0 8.6 0a4.3 4.3 0 1 0-8.6 0M1004.3 785.6a4.3 4.3 0 1 0 8.6 0a4.3 4.3 0 1 0-8.6 0M950.5 796.1a4.3 4.3 0 1 0 8.6 0a4.3 4.3 0 1 0-8.6 0M1047.4 796.1a4.3 4.3 0 1 0 8.6 0a4.3 4.3 0 1 0-8.6 0M1079.7 796.1a4.3 4.3 0 1 0 8.6 0a4.3 4.3 0 1 0-8.6 0M1090.5 796.1a4.3 4.3 0 1 0 8.6 0a4.3 4.3 0 1 0-8.6 0M692.1 817.1a4.3 4.3 0 1 0 8.6 0a4.3 4.3 0 1 0-8.6 0M745.9 827.5a4.3 4.3 0 1 0 8.6 0a4.3 4.3 0 1 0-8.6 0M918.2 827.5a4.3 4.3 0 1 0 8.6 0a4.3 4.3 0 1 0-8.6 0M907.4 890.5a4.3 4.3 0 1 0 8.6 0a4.3 4.3 0 1 0-8.6 0M832.1 922.0a4.3 4.3 0 1 0 8.6 0a4.3 4.3 0 1 0-8.6 0M939.7 922.0a4.3 4.3 0 1 0 8.6 0a4.3 4.3 0 1 0-8.6 0M842.8 974.5a4.3 4.3 0 1 0 8.6 0a4.3 4.3 0 1 0-8.6 0M659.8 985.0a4.3 4.3 0 1 0 8.6 0a4.3 4.3 0 1 0-8.6 0M1004.3 1006.0a4.3 4.3 0 1 0 8.6 0a4.3 4.3 0 1 0-8.6 0M745.9 1016.5a4.3 4.3 0 1 0 8.6 0a4.3 4.3 0 1 0-8.6 0M972.0 1027.0a4.3 4.3 0 1 0 8.6 0a4.3 4.3 0 1 0-8.6 0M972.0 1058.4a4.3 4.3 0 1 0 8.6 0a4.3 4.3 0 1 0-8.6 0M1047.4 1068.9a4.3 4.3 0 1 0 8.6 0a4.3 4.3 0 1 0-8.6 0M864.4 1121.4a4.3 4.3 0 1 0 8.6 0a4.3 4.3 0 1 0-8.6 0M1004.3 1121.4a4.3 4.3 0 1 0 8.6 0a4.3 4.3 0 1 0-8.6 0" fill="#b1cafb"/>
<path d="M842.8 722.6a4.3 4.3 0 1 0 8.6 0a4.3 4.3 0 1 0-8.6 0M1025.9 722.6a4.3 4.3 0 1 0 8.6 0a4.3 4.3 0 1 0-8.6 0M713.6 733.1a4.3 4.3 0 1 0 8.6 0a4.3 4.3 0 1 0-8.6 0M724.4 733.1a4.3 4.3 0 1 0 8.6 0a4.3 4.3 0 1 0-8.6 0M789.0 733.1a4.3 4.3 0 1 0 8.6 0a4.3 4.3 0 1 0-8.6 0M778.2 743.6a4.3 4.3 0 1 0 8.6 0a4.3 4.3 0 1 0-8.6 0M842.8 743.6a4.3 4.3 0 1 0 8.6 0a4.3 4.3 0 1 0-8.6 0M961.3 743.6a4.3 4.3 0 1 0 8.6 0a4.3 4.3 0 1 0-8.6 0M1068.9 743.6a4.3 4.3 0 1 0 8.6 0a4.3 4.3 0 1 0-8.6 0M659.8 764.6a4.3 4.3 0 1 0 8.6 0a4.3 4.3 0 1 0-8.6 0M670.6 764.6a4.3 4.3 0 1 0 8.6 0a4.3 4.3 0 1 0-8.6 0M767.5 764.6a4.3 4.3 0 1 0 8.6 0a4.3 4.3 0 1 0-8.6 0M1047.4 764.6a4.3 4.3 0 1 0 8.6 0a4.3 4.3 0 1 0-8.6 0M939.7 785.6a4.3 4.3 0 1 0 8.6 0a4.3 4.3 0 1 0-8.6 0M993.6 785.6a4.3 4.3 0 1 0 8.6 0a4.3 4.3 0 1 0-8.6 0M1090.5 785.6a4.3 4.3 0 1 0 8.6 0a4.3 4.3 0 1 0-8.6 0M681.3 796.1a4.3 4.3 0 1 0 8.6 0a4.3 4.3 0 1 0-8.6 0M864.4 796.1a4.3 4.3 0 1 0 8.6 0a4.3 4.3 0 1 0-8.6 0M939.7 796.1a4.3 4.3 0 1 0 8.6 0a4.3 4.3 0 1 0-8.6 0M993.6 796.1a4.3 4.3 0 1 0 8.6 0a4.3 4.3 0 1 0-8.6 0M1058.2 796.1a4.3 4.3 0 1 0 8.6 0a4.3 4.3 0 1 0-8.6 0M1068.9 796.1a4.3 4.3 0 1 0 8.6 0a4.3 4.3 0 1 0-8.6 0M1047.4 806.6a4.3 4.3 0 1 0 8.6 0a4.3 4.3 0 1 0-8.6 0M735.2 827.5a4.3 4.3 0 1 0 8.6 0a4.3 4.3 0 1 0-8.6 0M1036.6 827.5a4.3 4.3 0 1 0 8.6 0a4.3 4.3 0 1 0-8.6 0M853.6 838.0a4.3 4.3 0 1 0 8.6 0a4.3 4.3 0 1 0-8.6 0M692.1 848.5a4.3 4.3 0 1 0 8.6 0a4.3 4.3 0 1 0-8.6 0M789.0 848.5a4.3 4.3 0 1 0 8.6 0a4.3 4.3 0 1 0-8.6 0M907.4 859.0a4.3 4.3 0 1 0 8.6 0a4.3 4.3 0 1 0-8.6 0M724.4 869.5a4.3 4.3 0 1 0 8.6 0a4.3 4.3 0 1 0-8.6 0M1036.6 869.5a4.3 4.3 0 1 0 8.6 0a4.3 4.3 0 1 0-8.6 0M789.0 890.5a4.3 4.3 0 1 0 8.6 0a4.3 4.3 0 1 0-8.6 0M853.6 890.5a4.3 4.3 0 1 0 8.6 0a4.3 4.3 0 1 0-8.6 0M1015.1 890.5a4.3 4.3 0 1 0 8.6 0a4.3 4.3 0 1 0-8.6 0M735.2 901.0a4.3 4.3 0 1 0 8.6 0a4.3 4.3 0 1 0-8.6 0M864.4 901.0a4.3 4.3 0 1 0 8.6 0a4.3 4.3 0 1 0-8.6 0M778.2 922.0a4.3 4.3 0 1 0 8.6 0a4.3 4.3 0 1 0-8.6 0M896.7 922.0a4.3 4.3 0 1 0 8.6 0a4.3 4.3 0 1 0-8.6 0M1025.9 922.0a4.3 4.3 0 1 0 8.6 0a4.3 4.3 0 1 0-8.6 0M789.0 943.0a4.3 4.3 0 1 0 8.6 0a4.3 4.3 0 1 0-8.6 0M842.8 953.5a4.3 4.3 0 1 0 8.6 0a4.3 4.3 0 1 0-8.6 0M961.3 974.5a4.3 4.3 0 1 0 8.6 0a4.3 4.3 0 1 0-8.6 0M972.0 974.5a4.3 4.3 0 1 0 8.6 0a4.3 4.3 0 1 0-8.6 0M1090.5 974.5a4.3 4.3 0 1 0 8.6 0a4.3 4.3 0 1 0-8.6 0M853.6 985.0a4.3 4.3 0 1 0 8.6 0a4.3 4.3 0 1 0-8.6 0M972.0 995.5a4.3 4.3 0 1 0 8.6 0a4.3 4.3 0 1 0-8.6 0M918.2 1006.0a4.3 4.3 0 1 0 8.6 0a4.3 4.3 0 1 0-8.6 0M961.3 1006.0a4.3 4.3 0 1 0 8.6 0a4.3 4.3 0 1 0-8.6 0M972.0 1016.5a4.3 4.3 0 1 0 8.6 0a4.3 4.3 0 1 0-8.6 0M702.9 1027.0a4.3 4.3 0 1 0 8.6 0a4.3 4.3 0 1 0-8.6 0M842.8 1027.0a4.3 4.3 0 1 0 8.6 0a4.3 4.3 0 1 0-8.6 0M939.7 1027.0a4.3 4.3 0 1 0 8.6 0a4.3 4.3 0 1 0-8.6 0M950.5 1027.0a4.3 4.3 0 1 0 8.6 0a4.3 4.3 0 1 0-8.6 0M961.3 1027.0a4.3 4.3 0 1 0 8.6 0a4.3 4.3 0 1 0-8.6 0M681.3 1047.9a4.3 4.3 0 1 0 8.6 0a4.3 4.3 0 1 0-8.6 0M810.5 1047.9a4.3 4.3 0 1 0 8.6 0a4.3 4.3 0 1 0-8.6 0M692.1 1058.4a4.3 4.3 0 1 0 8.6 0a4.3 4.3 0 1 0-8.6 0M702.9 1058.4a4.3 4.3 0 1 0 8.6 0a4.3 4.3 0 1 0-8.6 0M810.5 1058.4a4.3 4.3 0 1 0 8.6 0a4.3 4.3 0 1 0-8.6 0M853.6 1058.4a4.3 4.3 0 1 0 8.6 0a4.3 4.3 0 1 0-8.6 0M864.4 1058.4a4.3 4.3 0 1 0 8.6 0a4.3 4.3 0 1 0-8.6 0M875.1 1058.4a4.3 4.3 0 1 0 8.6 0a4.3 4.3 0 1 0-8.6 0M896.7 1058.4a4.3 4.3 0 1 0 8.6 0a4.3 4.3 0 1 0-8.6 0M918.2 1058.4a4.3 4.3 0 1 0 8.6 0a4.3 4.3 0 1 0-8.6 0M1036.6 1058.4a4.3 4.3 0 1 0 8.6 0a4.3 4.3 0 1 0-8.6 0M982.8 1068.9a4.3 4.3 0 1 0 8.6 0a4.3 4.3 0 1 0-8.6 0M713.6 1079.4a4.3 4.3 0 1 0 8.6 0a4.3 4.3 0 1 0-8.6 0M745.9 1079.4a4.3 4.3 0 1 0 8.6 0a4.3 4.3 0 1 0-8.6 0M756.7 1079.4a4.3 4.3 0 1 0 8.6 0a4.3 4.3 0 1 0-8.6 0M842.8 1079.4a4.3 4.3 0 1 0 8.6 0a4.3 4.3 0 1 0-8.6 0M842.8 1089.9a4.3 4.3 0 1 0 8.6 0a4.3 4.3 0 1 0-8.6 0M875.1 1089.9a4.3 4.3 0 1 0 8.6 0a4.3 4.3 0 1 0-8.6 0M885.9 1089.9a4.3 4.3 0 1 0 8.6 0a4.3 4.3 0 1 0-8.6 0M918.2 1089.9a4.3 4.3 0 1 0 8.6 0a4.3 4.3 0 1 0-8.6 0M681.3 1100.4a4.3 4.3 0 1 0 8.6 0a4.3 4.3 0 1 0-8.6 0M832.1 1100.4a4.3 4.3 0 1 0 8.6 0a4.3 4.3 0 1 0-8.6 0M864.4 1100.4a4.3 4.3 0 1 0 8.6 0a4.3 4.3 0 1 0-8.6 0M692.1 1110.9a4.3 4.3 0 1 0 8.6 0a4.3 4.3 0 1 0-8.6 0M789.0 1110.9a4.3 4.3 0 1 0 8.6 0a4.3 4.3 0 1 0-8.6 0M842.8 1110.9a4.3 4.3 0 1 0 8.6 0a4.3 4.3 0 1 0-8.6 0M692.1 1121.4a4.3 4.3 0 1 0 8.6 0a4.3 4.3 0 1 0-8.6 0M735.2 1121.4a4.3 4.3 0 1 0 8.6 0a4.3 4.3 0 1 0-8.6 0M745.9 1121.4a4.3 4.3 0 1 0 8.6 0a4.3 4.3 0 1 0-8.6 0M767.5 1121.4a4.3 4.3 0 1 0 8.6 0a4.3 4.3 0 1 0-8.6 0M885.9 1121.4a4.3 4.3 0 1 0 8.6 0a4.3 4.3 0 1 0-8.6 0M950.5 1121.4a4.3 4.3 0 1 0 8.6 0a4.3 4.3 0 1 0-8.6 0M1079.7 1121.4a4.3 4.3 0 1 0 8.6 0a4.3 4.3 0 1 0-8.6 0" fill="#b8cffa"/>
<path d="M961.3 722.6a4.3 4.3 0 1 0 8.6 0a4.3 4.3 0 1 0-8.6 0M1004.3 733.1a4.3 4.3 0 1 0 8.6 0a4.3 4.3 0 1 0-8.6 0M1068.9 754.1a4.3 4.3 0 1 0 8.6 0a4.3 4.3 0 1 0-8.6 0M961.3 764.6a4.3 4.3 0 1 0 8.6 0a4.3 4.3 0 1 0-8.6 0M1015.1 764.6a4.3 4.3 0 1 0 8.6 0a4.3 4.3 0 1 0-8.6 0M1079.7 764.6a4.3 4.3 0 1 0 8.6 0a4.3 4.3 0 1 0-8.6 0M713.6 785.6a4.3 4.3 0 1 0 8.6 0a4.3 4.3 0 1 0-8.6 0M1079.7 785.6a4.3 4.3 0 1 0 8.6 0a4.3 4.3 0 1 0-8.6 0M713.6 796.1a4.3 4.3 0 1 0 8.6 0a4.3 4.3 0 1 0-8.6 0M789.0 796.1a4.3 4.3 0 1 0 8.6 0a4.3 4.3 0 1 0-8.6 0M853.6 796.1a4.3 4.3 0 1 0 8.6 0a4.3 4.3 0 1 0-8.6 0M692.1 806.6a4.3 4.3 0 1 0 8.6 0a4.3 4.3 0 1 0-8.6 0M929.0 806.6a4.3 4.3 0 1 0 8.6 0a4.3 4.3 0 1 0-8.6 0M982.8 806.6a4.3 4.3 0 1 0 8.6 0a4.3 4.3 0 1 0-8.6 0M681.3 827.5a4.3 4.3 0 1 0 8.6 0a4.3 4.3 0 1 0-8.6 0M692.1 827.5a4.3 4.3 0 1 0 8.6 0a4.3 4.3 0 1 0-8.6 0M756.7 827.5a4.3 4.3 0 1 0 8.6 0a4.3 4.3 0 1 0-8.6 0M735.2 838.0a4.3 4.3 0 1 0 8.6 0a4.3 4.3 0 1 0-8.6 0M745.9 838.0a4.3 4.3 0 1 0 8.6 0a4.3 4.3 0 1 0-8.6 0M842.8 838.0a4.3 4.3 0 1 0 8.6 0a4.3 4.3 0 1 0-8.6 0M918.2 838.0a4.3 4.3 0 1 0 8.6 0a4.3 4.3 0 1 0-8.6 0M713.6 848.5a4.3 4.3 0 1 0 8.6 0a4.3 4.3 0 1 0-8.6 0M735.2 859.0a4.3 4.3 0 1 0 8.6 0a4.3 4.3 0 1 0-8.6 0M810.5 859.0a4.3 4.3 0 1 0 8.6 0a4.3 4.3 0 1 0-8.6 0M1004.3 859.0a4.3 4.3 0 1 0 8.6 0a4.3 4.3 0 1 0-8.6 0M659.8 869.5a4.3 4.3 0 1 0 8.6 0a4.3 4.3 0 1 0-8.6 0M918.2 869.5a4.3 4.3 0 1 0 8.6 0a4.3 4.3 0 1 0-8.6 0M659.8 880.0a4.3 4.3 0 1 0 8.6 0a4.3 4.3 0 1 0-8.6 0M778.2 880.0a4.3 4.3 0 1 0 8.6 0a4.3 4.3 0 1 0-8.6 0M832.1 890.5a4.3 4.3 0 1 0 8.6 0a4.3 4.3 0 1 0-8.6 0M885.9 890.5a4.3 4.3 0 1 0 8.6 0a4.3 4.3 0 1 0-8.6 0M1025.9 890.5a4.3 4.3 0 1 0 8.6 0a4.3 4.3 0 1 0-8.6 0M659.8 901.0a4.3 4.3 0 1 0 8.6 0a4.3 4.3 0 1 0-8.6 0M810.5 901.0a4.3 4.3 0 1 0 8.6 0a4.3 4.3 0 1 0-8.6 0M821.3 901.0a4.3 4.3 0 1 0 8.6 0a4.3 4.3 0 1 0-8.6 0M659.8 922.0a4.3 4.3 0 1 0 8.6 0a4.3 4.3 0 1 0-8.6 0M713.6 922.0a4.3 4.3 0 1 0 8.6 0a4.3 4.3 0 1 0-8.6 0M799.8 922.0a4.3 4.3 0 1 0 8.6 0a4.3 4.3 0 1 0-8.6 0M875.1 922.0a4.3 4.3 0 1 0 8.6 0a4.3 4.3 0 1 0-8.6 0M1004.3 922.0a4.3 4.3 0 1 0 8.6 0a4.3 4.3 0 1 0-8.6 0M1058.2 932.5a4.3 4.3 0 1 0 8.6 0a4.3 4.3 0 1 0-8.6 0M799.8 943.0a4.3 4.3 0 1 0 8.6 0a4.3 4.3 0 1 0-8.6 0M972.0 985.0a4.3 4.3 0 1 0 8.6 0a4.3 4.3 0 1 0-8.6 0M692.1 995.5a4.3 4.3 0 1 0 8.6 0a4.3 4.3 0 1 0-8.6 0M896.7 1006.0a4.3 4.3 0 1 0 8.6 0a4.3 4.3 0 1 0-8.6 0M907.4 1006.0a4.3 4.3 0 1 0 8.6 0a4.3 4.3 0 1 0-8.6 0M735.2 1016.5a4.3 4.3 0 1 0 8.6 0a4.3 4.3 0 1 0-8.6 0M929.0 1016.5a4.3 4.3 0 1 0 8.6 0a4.3 4.3 0 1 0-8.6 0M950.5 1016.5a4.3 4.3 0 1 0 8.6 0a4.3 4.3 0 1 0-8.6 0M993.6 1016.5a4.3 4.3 0 1 0 8.6 0a4.3 4.3 0 1 0-8.6 0M659.8 1027.0a4.3 4.3 0 1 0 8.6 0a4.3 4.3 0 1 0-8.6 0M713.6 1027.0a4.3 4.3 0 1 0 8.6 0a4.3 4.3 0 1 0-8.6 0M745.9 1047.9a4.3 4.3 0 1 0 8.6 0a4.3 4.3 0 1 0-8.6 0M853.6 1047.9a4.3 4.3 0 1 0 8.6 0a4.3 4.3 0 1 0-8.6 0M821.3 1058.4a4.3 4.3 0 1 0 8.6 0a4.3 4.3 0 1 0-8.6 0M842.8 1058.4a4.3 4.3 0 1 0 8.6 0a4.3 4.3 0 1 0-8.6 0M885.9 1058.4a4.3 4.3 0 1 0 8.6 0a4.3 4.3 0 1 0-8.6 0M1079.7 1058.4a4.3 4.3 0 1 0 8.6 0a4.3 4.3 0 1 0-8.6 0M799.8 1079.4a4.3 4.3 0 1 0 8.6 0a4.3 4.3 0 1 0-8.6 0M853.6 1079.4a4.3 4.3 0 1 0 8.6 0a4.3 4.3 0 1 0-8.6 0M961.3 1079.4a4.3 4.3 0 1 0 8.6 0a4.3 4.3 0 1 0-8.6 0M1036.6 1079.4a4.3 4.3 0 1 0 8.6 0a4.3 4.3 0 1 0-8.6 0M1079.7 1079.4a4.3 4.3 0 1 0 8.6 0a4.3 4.3 0 1 0-8.6 0M1068.9 1089.9a4.3 4.3 0 1 0 8.6 0a4.3 4.3 0 1 0-8.6 0M1079.7 1089.9a4.3 4.3 0 1 0 8.6 0a4.3 4.3 0 1 0-8.6 0M821.3 1100.4a4.3 4.3 0 1 0 8.6 0a4.3 4.3 0 1 0-8.6 0M885.9 1100.4a4.3 4.3 0 1 0 8.6 0a4.3 4.3 0 1 0-8.6 0M713.6 1110.9a4.3 4.3 0 1 0 8.6 0a4.3 4.3 0 1 0-8.6 0M724.4 1110.9a4.3 4.3 0 1 0 8.6 0a4.3 4.3 0 1 0-8.6 0M778.2 1110.9a4.3 4.3 0 1 0 8.6 0a4.3 4.3 0 1 0-8.6 0M853.6 1110.9a4.3 4.3 0 1 0 8.6 0a4.3 4.3 0 1 0-8.6 0M659.8 1121.4a4.3 4.3 0 1 0 8.6 0a4.3 4.3 0 1 0-8.6 0M670.6 1121.4a4.3 4.3 0 1 0 8.6 0a4.3 4.3 0 1 0-8.6 0M896.7 1121.4a4.3 4.3 0 1 0 8.6 0a4.3 4.3 0 1 0-8.6 0M929.0 1121.4a4.3 4.3 0 1 0 8.6 0a4.3 4.3 0 1 0-8.6 0M1058.2 1121.4a4.3 4.3 0 1 0 8.6 0a4.3 4.3 0 1 0-8.6 0" fill="#c0d4f7"/>
<path d="M778.2 722.6a4.3 4.3 0 1 0 8.6 0a4.3 4.3 0 1 0-8.6 0M853.6 743.6a4.3 4.3 0 1 0 8.6 0a4.3 4.3 0 1 0-8.6 0M918.2 743.6a4.3 4.3 0 1 0 8.6 0a4.3 4.3 0 1 0-8.6 0M1015.1 743.6a4.3 4.3 0 1 0 8.6 0a4.3 4.3 0 1 0-8.6 0M1036.6 743.6a4.3 4.3 0 1 0 8.6 0a4.3 4.3 0 1 0-8.6 0M875.1 754.1a4.3 4.3 0 1 0 8.6 0a4.3 4.3 0 1 0-8.6 0M724.4 764.6a4.3 4.3 0 1 0 8.6 0a4.3 4.3 0 1 0-8.6 0M1036.6 796.1a4.3 4.3 0 1 0 8.6 0a4.3 4.3 0 1 0-8.6 0M670.6 827.5a4.3 4.3 0 1 0 8.6 0a4.3 4.3 0 1 0-8.6 0M767.5 827.5a4.3 4.3 0 1 0 8.6 0a4.3 4.3 0 1 0-8.6 0M724.4 838.0a4.3 4.3 0 1 0 8.6 0a4.3 4.3 0 1 0-8.6 0M907.4 838.0a4.3 4.3 0 1 0 8.6 0a4.3 4.3 0 1 0-8.6 0M961.3 848.5a4.3 4.3 0 1 0 8.6 0a4.3 4.3 0 1 0-8.6 0M1025.9 848.5a4.3 4.3 0 1 0 8.6 0a4.3 4.3 0 1 0-8.6 0M1036.6 848.5a4.3 4.3 0 1 0 8.6 0a4.3 4.3 0 1 0-8.6 0M842.8 859.0a4.3 4.3 0 1 0 8.6 0a4.3 4.3 0 1 0-8.6 0M778.2 890.5a4.3 4.3 0 1 0 8.6 0a4.3 4.3 0 1 0-8.6 0M810.5 890.5a4.3 4.3 0 1 0 8.6 0a4.3 4.3 0 1 0-8.6 0M842.8 890.5a4.3 4.3 0 1 0 8.6 0a4.3 4.3 0 1 0-8.6 0M756.7 901.0a4.3 4.3 0 1 0 8.6 0a4.3 4.3 0 1 0-8.6 0M789.0 922.0a4.3 4.3 0 1 0 8.6 0a4.3 4.3 0 1 0-8.6 0M842.8 922.0a4.3 4.3 0 1 0 8.6 0a4.3 4.3 0 1 0-8.6 0M1015.1 922.0a4.3 4.3 0 1 0 8.6 0a4.3 4.3 0 1 0-8.6 0M692.1 943.0a4.3 4.3 0 1 0 8.6 0a4.3 4.3 0 1 0-8.6 0M1047.4 943.0a4.3 4.3 0 1 0 8.6 0a4.3 4.3 0 1 0-8.6 0M1058.2 943.0a4.3 4.3 0 1 0 8.6 0a4.3 4.3 0 1 0-8.6 0M789.0 974.5a4.3 4.3 0 1 0 8.6 0a4.3 4.3 0 1 0-8.6 0M929.0 1006.0a4.3 4.3 0 1 0 8.6 0a4.3 4.3 0 1 0-8.6 0M1068.9 1006.0a4.3 4.3 0 1 0 8.6 0a4.3 4.3 0 1 0-8.6 0M907.4 1027.0a4.3 4.3 0 1 0 8.6 0a4.3 4.3 0 1 0-8.6 0M767.5 1047.9a4.3 4.3 0 1 0 8.6 0a4.3 4.3 0 1 0-8.6 0M670.6 1058.4a4.3 4.3 0 1 0 8.6 0a4.3 4.3 0 1 0-8.6 0M681.3 1058.4a4.3 4.3 0 1 0 8.6 0a4.3 4.3 0 1 0-8.6 0M907.4 1058.4a4.3 4.3 0 1 0 8.6 0a4.3 4.3 0 1 0-8.6 0M929.0 1058.4a4.3 4.3 0 1 0 8.6 0a4.3 4.3 0 1 0-8.6 0M789.0 1079.4a4.3 4.3 0 1 0 8.6 0a4.3 4.3 0 1 0-8.6 0M896.7 1100.4a4.3 4.3 0 1 0 8.6 0a4.3 4.3 0 1 0-8.6 0M907.4 1100.4a4.3 4.3 0 1 0 8.6 0a4.3 4.3 0 1 0-8.6 0M885.9 1110.9a4.3 4.3 0 1 0 8.6 0a4.3 4.3 0 1 0-8.6 0M702.9 1121.4a4.3 4.3 0 1 0 8.6 0a4.3 4.3 0 1 0-8.6 0M799.8 1121.4a4.3 4.3 0 1 0 8.6 0a4.3 4.3 0 1 0-8.6 0M832.1 1121.4a4.3 4.3 0 1 0 8.6 0a4.3 4.3 0 1 0-8.6 0" fill="#c6d7f4"/>
<path d="M659.8 722.6a4.3 4.3 0 1 0 8.6 0a4.3 4.3 0 1 0-8.6 0M929.0 722.6a4.3 4.3 0 1 0 8.6 0a4.3 4.3 0 1 0-8.6 0M659.8 733.1a4.3 4.3 0 1 0 8.6 0a4.3 4.3 0 1 0-8.6 0M929.0 733.1a4.3 4.3 0 1 0 8.6 0a4.3 4.3 0 1 0-8.6 0M789.0 743.6a4.3 4.3 0 1 0 8.6 0a4.3 4.3 0 1 0-8.6 0M929.0 743.6a4.3 4.3 0 1 0 8.6 0a4.3 4.3 0 1 0-8.6 0M1036.6 754.1a4.3 4.3 0 1 0 8.6 0a4.3 4.3 0 1 0-8.6 0M907.4 764.6a4.3 4.3 0 1 0 8.6 0a4.3 4.3 0 1 0-8.6 0M659.8 775.1a4.3 4.3 0 1 0 8.6 0a4.3 4.3 0 1 0-8.6 0M810.5 775.1a4.3 4.3 0 1 0 8.6 0a4.3 4.3 0 1 0-8.6 0M1058.2 775.1a4.3 4.3 0 1 0 8.6 0a4.3 4.3 0 1 0-8.6 0M681.3 785.6a4.3 4.3 0 1 0 8.6 0a4.3 4.3 0 1 0-8.6 0M1068.9 785.6a4.3 4.3 0 1 0 8.6 0a4.3 4.3 0 1 0-8.6 0M799.8 796.1a4.3 4.3 0 1 0 8.6 0a4.3 4.3 0 1 0-8.6 0M842.8 796.1a4.3 4.3 0 1 0 8.6 0a4.3 4.3 0 1 0-8.6 0M1004.3 796.1a4.3 4.3 0 1 0 8.6 0a4.3 4.3 0 1 0-8.6 0M1025.9 796.1a4.3 4.3 0 1 0 8.6 0a4.3 4.3 0 1 0-8.6 0M670.6 806.6a4.3 4.3 0 1 0 8.6 0a4.3 4.3 0 1 0-8.6 0M702.9 806.6a4.3 4.3 0 1 0 8.6 0a4.3 4.3 0 1 0-8.6 0M1036.6 806.6a4.3 4.3 0 1 0 8.6 0a4.3 4.3 0 1 0-8.6 0M702.9 827.5a4.3 4.3 0 1 0 8.6 0a4.3 4.3 0 1 0-8.6 0M993.6 827.5a4.3 4.3 0 1 0 8.6 0a4.3 4.3 0 1 0-8.6 0M767.5 838.0a4.3 4.3 0 1 0 8.6 0a4.3 4.3 0 1 0-8.6 0M778.2 838.0a4.3 4.3 0 1 0 8.6 0a4.3 4.3 0 1 0-8.6 0M1058.2 838.0a4.3 4.3 0 1 0 8.6 0a4.3 4.3 0 1 0-8.6 0M1079.7 838.0a4.3 4.3 0 1 0 8.6 0a4.3 4.3 0 1 0-8.6 0M670.6 848.5a4.3 4.3 0 1 0 8.6 0a4.3 4.3 0 1 0-8.6 0M724.4 848.5a4.3 4.3 0 1 0 8.6 0a4.3 4.3 0 1 0-8.6 0M778.2 848.5a4.3 4.3 0 1 0 8.6 0a4.3 4.3 0 1 0-8.6 0M832.1 848.5a4.3 4.3 0 1 0 8.6 0a4.3 4.3 0 1 0-8.6 0M907.4 848.5a4.3 4.3 0 1 0 8.6 0a4.3 4.3 0 1 0-8.6 0M950.5 848.5a4.3 4.3 0 1 0 8.6 0a4.3 4.3 0 1 0-8.6 0M659.8 859.0a4.3 4.3 0 1 0 8.6 0a4.3 4.3 0 1 0-8.6 0M745.9 859.0a4.3 4.3 0 1 0 8.6 0a4.3 4.3 0 1 0-8.6 0M756.7 859.0a4.3 4.3 0 1 0 8.6 0a4.3 4.3 0 1 0-8.6 0M778.2 859.0a4.3 4.3 0 1 0 8.6 0a4.3 4.3 0 1 0-8.6 0M918.2 859.0a4.3 4.3 0 1 0 8.6 0a4.3 4.3 0 1 0-8.6 0M1068.9 859.0a4.3 4.3 0 1 0 8.6 0a4.3 4.3 0 1 0-8.6 0M1068.9 869.5a4.3 4.3 0 1 0 8.6 0a4.3 4.3 0 1 0-8.6 0M799.8 880.0a4.3 4.3 0 1 0 8.6 0a4.3 4.3 0 1 0-8.6 0M767.5 890.5a4.3 4.3 0 1 0 8.6 0a4.3 4.3 0 1 0-8.6 0M896.7 890.5a4.3 4.3 0 1 0 8.6 0a4.3 4.3 0 1 0-8.6 0M1004.3 890.5a4.3 4.3 0 1 0 8.6 0a4.3 4.3 0 1 0-8.6 0M767.5 901.0a4.3 4.3 0 1 0 8.6 0a4.3 4.3 0 1 0-8.6 0M950.5 922.0a4.3 4.3 0 1 0 8.6 0a4.3 4.3 0 1 0-8.6 0M1036.6 922.0a4.3 4.3 0 1 0 8.6 0a4.3 4.3 0 1 0-8.6 0M864.4 985.0a4.3 4.3 0 1 0 8.6 0a4.3 4.3 0 1 0-8.6 0M885.9 1006.0a4.3 4.3 0 1 0 8.6 0a4.3 4.3 0 1 0-8.6 0M950.5 1006.0a4.3 4.3 0 1 0 8.6 0a4.3 4.3 0 1 0-8.6 0M972.0 1006.0a4.3 4.3 0 1 0 8.6 0a4.3 4.3 0 1 0-8.6 0M993.6 1006.0a4.3 4.3 0 1 0 8.6 0a4.3 4.3 0 1 0-8.6 0M1058.2 1006.0a4.3 4.3 0 1 0 8.6 0a4.3 4.3 0 1 0-8.6 0M1025.9 1016.5a4.3 4.3 0 1 0 8.6 0a4.3 4.3 0 1 0-8.6 0M1047.4 1027.0a4.3 4.3 0 1 0 8.6 0a4.3 4.3 0 1 0-8.6 0M713.6 1047.9a4.3 4.3 0 1 0 8.6 0a4.3 4.3 0 1 0-8.6 0M735.2 1047.9a4.3 4.3 0 1 0 8.6 0a4.3 4.3 0 1 0-8.6 0M767.5 1058.4a4.3 4.3 0 1 0 8.6 0a4.3 4.3 0 1 0-8.6 0M778.2 1058.4a4.3 4.3 0 1 0 8.6 0a4.3 4.3 0 1 0-8.6 0M789.0 1058.4a4.3 4.3 0 1 0 8.6 0a4.3 4.3 0 1 0-8.6 0M1068.9 1058.4a4.3 4.3 0 1 0 8.6 0a4.3 4.3 0 1 0-8.6 0M799.8 1068.9a4.3 4.3 0 1 0 8.6 0a4.3 4.3 0 1 0-8.6 0M918.2 1068.9a4.3 4.3 0 1 0 8.6 0a4.3 4.3 0 1 0-8.6 0M929.0 1068.9a4.3 4.3 0 1 0 8.6 0a4.3 4.3 0 1 0-8.6 0M1058.2 1068.9a4.3 4.3 0 1 0 8.6 0a4.3 4.3 0 1 0-8.6 0M993.6 1079.4a4.3 4.3 0 1 0 8.6 0a4.3 4.3 0 1 0-8.6 0M1047.4 1079.4a4.3 4.3 0 1 0 8.6 0a4.3 4.3 0 1 0-8.6 0M799.8 1100.4a4.3 4.3 0 1 0 8.6 0a4.3 4.3 0 1 0-8.6 0M1015.1 1100.4a4.3 4.3 0 1 0 8.6 0a4.3 4.3 0 1 0-8.6 0M1036.6 1100.4a4.3 4.3 0 1 0 8.6 0a4.3 4.3 0 1 0-8.6 0M1090.5 1100.4a4.3 4.3 0 1 0 8.6 0a4.3 4.3 0 1 0-8.6 0M799.8 1110.9a4.3 4.3 0 1 0 8.6 0a4.3 4.3 0 1 0-8.6 0M864.4 1110.9a4.3 4.3 0 1 0 8.6 0a4.3 4.3 0 1 0-8.6 0M1079.7 1110.9a4.3 4.3 0 1 0 8.6 0a4.3 4.3 0 1 0-8.6 0M756.7 1121.4a4.3 4.3 0 1 0 8.6 0a4.3 4.3 0 1 0-8.6 0M993.6 1121.4a4.3 4.3 0 1 0 8.6 0a4.3 4.3 0 1 0-8.6 0M1090.5 1121.4a4.3 4.3 0 1 0 8.6 0a4.3 4.3 0 1 0-8.6 0" fill="#d9dee5"/>
<path d="M735.2 733.1a4.3 4.3 0 1 0 8.6 0a4.3 4.3 0 1 0-8.6 0M756.7 733.1a4.3 4.3 0 1 0 8.6 0a4.3 4.3 0 1 0-8.6 0M799.8 733.1a4.3 4.3 0 1 0 8.6 0a4.3 4.3 0 1 0-8.6 0M993.6 733.1a4.3 4.3 0 1 0 8.6 0a4.3 4.3 0 1 0-8.6 0M1079.7 733.1a4.3 4.3 0 1 0 8.6 0a4.3 4.3 0 1 0-8.6 0M1058.2 743.6a4.3 4.3 0 1 0 8.6 0a4.3 4.3 0 1 0-8.6 0M842.8 754.1a4.3 4.3 0 1 0 8.6 0a4.3 4.3 0 1 0-8.6 0M853.6 754.1a4.3 4.3 0 1 0 8.6 0a4.3 4.3 0 1 0-8.6 0M864.4 754.1a4.3 4.3 0 1 0 8.6 0a4.3 4.3 0 1 0-8.6 0M918.2 754.1a4.3 4.3 0 1 0 8.6 0a4.3 4.3 0 1 0-8.6 0M713.6 764.6a4.3 4.3 0 1 0 8.6 0a4.3 4.3 0 1 0-8.6 0M842.8 764.6a4.3 4.3 0 1 0 8.6 0a4.3 4.3 0 1 0-8.6 0M918.2 764.6a4.3 4.3 0 1 0 8.6 0a4.3 4.3 0 1 0-8.6 0M929.0 764.6a4.3 4.3 0 1 0 8.6 0a4.3 4.3 0 1 0-8.6 0M1025.9 764.6a4.3 4.3 0 1 0 8.6 0a4.3 4.3 0 1 0-8.6 0M724.4 775.1a4.3 4.3 0 1 0 8.6 0a4.3 4.3 0 1 0-8.6 0M799.8 775.1a4.3 4.3 0 1 0 8.6 0a4.3 4.3 0 1 0-8.6 0M1025.9 775.1a4.3 4.3 0 1 0 8.6 0a4.3 4.3 0 1 0-8.6 0M1036.6 775.1a4.3 4.3 0 1 0 8.6 0a4.3 4.3 0 1 0-8.6 0M1047.4 775.1a4.3 4.3 0 1 0 8.6 0a4.3 4.3 0 1 0-8.6 0M1079.7 775.1a4.3 4.3 0 1 0 8.6 0a4.3 4.3 0 1 0-8.6 0M724.4 785.6a4.3 4.3 0 1 0 8.6 0a4.3 4.3 0 1 0-8.6 0M778.2 785.6a4.3 4.3 0 1 0 8.6 0a4.3 4.3 0 1 0-8.6 0M929.0 796.1a4.3 4.3 0 1 0 8.6 0a4.3 4.3 0 1 0-8.6 0M982.8 796.1a4.3 4.3 0 1 0 8.6 0a4.3 4.3 0 1 0-8.6 0M1015.1 796.1a4.3 4.3 0 1 0 8.6 0a4.3 4.3 0 1 0-8.6 0M713.6 806.6a4.3 4.3 0 1 0 8.6 0a4.3 4.3 0 1 0-8.6 0M939.7 806.6a4.3 4.3 0 1 0 8.6 0a4.3 4.3 0 1 0-8.6 0M713.6 817.1a4.3 4.3 0 1 0 8.6 0a4.3 4.3 0 1 0-8.6 0M659.8 827.5a4.3 4.3 0 1 0 8.6 0a4.3 4.3 0 1 0-8.6 0M1058.2 827.5a4.3 4.3 0 1 0 8.6 0a4.3 4.3 0 1 0-8.6 0M735.2 848.5a4.3 4.3 0 1 0 8.6 0a4.3 4.3 0 1 0-8.6 0M799.8 848.5a4.3 4.3 0 1 0 8.6 0a4.3 4.3 0 1 0-8.6 0M864.4 848.5a4.3 4.3 0 1 0 8.6 0a4.3 4.3 0 1 0-8.6 0M1015.1 848.5a4.3 4.3 0 1 0 8.6 0a4.3 4.3 0 1 0-8.6 0M1047.4 848.5a4.3 4.3 0 1 0 8.6 0a4.3 4.3 0 1 0-8.6 0M713.6 859.0a4.3 4.3 0 1 0 8.6 0a4.3 4.3 0 1 0-8.6 0M1036.6 859.0a4.3 4.3 0 1 0 8.6 0a4.3 4.3 0 1 0-8.6 0M1058.2 859.0a4.3 4.3 0 1 0 8.6 0a4.3 4.3 0 1 0-8.6 0M756.7 869.5a4.3 4.3 0 1 0 8.6 0a4.3 4.3 0 1 0-8.6 0M810.5 869.5a4.3 4.3 0 1 0 8.6 0a4.3 4.3 0 1 0-8.6 0M950.5 869.5a4.3 4.3 0 1 0 8.6 0a4.3 4.3 0 1 0-8.6 0M1004.3 869.5a4.3 4.3 0 1 0 8.6 0a4.3 4.3 0 1 0-8.6 0M681.3 880.0a4.3 4.3 0 1 0 8.6 0a4.3 4.3 0 1 0-8.6 0M789.0 880.0a4.3 4.3 0 1 0 8.6 0a4.3 4.3 0 1 0-8.6 0M853.6 880.0a4.3 4.3 0 1 0 8.6 0a4.3 4.3 0 1 0-8.6 0M875.1 880.0a4.3 4.3 0 1 0 8.6 0a4.3 4.3 0 1 0-8.6 0M1025.9 880.0a4.3 4.3 0 1 0 8.6 0a4.3 4.3 0 1 0-8.6 0M745.9 890.5a4.3 4.3 0 1 0 8.6 0a4.3 4.3 0 1 0-8.6 0M1058.2 890.5a4.3 4.3 0 1 0 8.6 0a4.3 4.3 0 1 0-8.6 0M875.1 901.0a4.3 4.3 0 1 0 8.6 0a4.3 4.3 0 1 0-8.6 0M929.0 901.0a4.3 4.3 0 1 0 8.6 0a4.3 4.3 0 1 0-8.6 0M918.2 911.5a4.3 4.3 0 1 0 8.6 0a4.3 4.3 0 1 0-8.6 0M929.0 911.5a4.3 4.3 0 1 0 8.6 0a4.3 4.3 0 1 0-8.6 0M756.7 922.0a4.3 4.3 0 1 0 8.6 0a4.3 4.3 0 1 0-8.6 0M810.5 922.0a4.3 4.3 0 1 0 8.6 0a4.3 4.3 0 1 0-8.6 0M853.6 922.0a4.3 4.3 0 1 0 8.6 0a4.3 4.3 0 1 0-8.6 0M907.4 922.0a4.3 4.3 0 1 0 8.6 0a4.3 4.3 0 1 0-8.6 0M961.3 922.0a4.3 4.3 0 1 0 8.6 0a4.3 4.3 0 1 0-8.6 0M929.0 932.5a4.3 4.3 0 1 0 8.6 0a4.3 4.3 0 1 0-8.6 0M1068.9 932.5a4.3 4.3 0 1 0 8.6 0a4.3 4.3 0 1 0-8.6 0M659.8 943.0a4.3 4.3 0 1 0 8.6 0a4.3 4.3 0 1 0-8.6 0M864.4 943.0a4.3 4.3 0 1 0 8.6 0a4.3 4.3 0 1 0-8.6 0M918.2 943.0a4.3 4.3 0 1 0 8.6 0a4.3 4.3 0 1 0-8.6 0M1068.9 943.0a4.3 4.3 0 1 0 8.6 0a4.3 4.3 0 1 0-8.6 0M982.8 985.0a4.3 4.3 0 1 0 8.6 0a4.3 4.3 0 1 0-8.6 0M659.8 1006.0a4.3 4.3 0 1 0 8.6 0a4.3 4.3 0 1 0-8.6 0M821.3 1016.5a4.3 4.3 0 1 0 8.6 0a4.3 4.3 0 1 0-8.6 0M885.9 1016.5a4.3 4.3 0 1 0 8.6 0a4.3 4.3 0 1 0-8.6 0M1015.1 1016.5a4.3 4.3 0 1 0 8.6 0a4.3 4.3 0 1 0-8.6 0M670.6 1027.0a4.3 4.3 0 1 0 8.6 0a4.3 4.3 0 1 0-8.6 0M853.6 1027.0a4.3 4.3 0 1 0 8.6 0a4.3 4.3 0 1 0-8.6 0M896.7 1027.0a4.3 4.3 0 1 0 8.6 0a4.3 4.3 0 1 0-8.6 0M778.2 1037.5a4.3 4.3 0 1 0 8.6 0a4.3 4.3 0 1 0-8.6 0M842.8 1037.5a4.3 4.3 0 1 0 8.6 0a4.3 4.3 0 1 0-8.6 0M853.6 1037.5a4.3 4.3 0 1 0 8.6 0a4.3 4.3 0 1 0-8.6 0M724.4 1047.9a4.3 4.3 0 1 0 8.6 0a4.3 4.3 0 1 0-8.6 0M756.7 1047.9a4.3 4.3 0 1 0 8.6 0a4.3 4.3 0 1 0-8.6 0M778.2 1047.9a4.3 4.3 0 1 0 8.6 0a4.3 4.3 0 1 0-8.6 0M842.8 1047.9a4.3 4.3 0 1 0 8.6 0a4.3 4.3 0 1 0-8.6 0M885.9 1047.9a4.3 4.3 0 1 0 8.6 0a4.3 4.3 0 1 0-8.6 0M896.7 1047.9a4.3 4.3 0 1 0 8.6 0a4.3 4.3 0 1 0-8.6 0M907.4 1047.9a4.3 4.3 0 1 0 8.6 0a4.3 4.3 0 1 0-8.6 0M961.3 1047.9a4.3 4.3 0 1 0 8.6 0a4.3 4.3 0 1 0-8.6 0M961.3 1058.4a4.3 4.3 0 1 0 8.6 0a4.3 4.3 0 1 0-8.6 0M1004.3 1058.4a4.3 4.3 0 1 0 8.6 0a4.3 4.3 0 1 0-8.6 0M745.9 1068.9a4.3 4.3 0 1 0 8.6 0a4.3 4.3 0 1 0-8.6 0M821.3 1068.9a4.3 4.3 0 1 0 8.6 0a4.3 4.3 0 1 0-8.6 0M864.4 1068.9a4.3 4.3 0 1 0 8.6 0a4.3 4.3 0 1 0-8.6 0M875.1 1068.9a4.3 4.3 0 1 0 8.6 0a4.3 4.3 0 1 0-8.6 0M896.7 1068.9a4.3 4.3 0 1 0 8.6 0a4.3 4.3 0 1 0-8.6 0M735.2 1079.4a4.3 4.3 0 1 0 8.6 0a4.3 4.3 0 1 0-8.6 0M778.2 1079.4a4.3 4.3 0 1 0 8.6 0a4.3 4.3 0 1 0-8.6 0M864.4 1079.4a4.3 4.3 0 1 0 8.6 0a4.3 4.3 0 1 0-8.6 0M875.1 1079.4a4.3 4.3 0 1 0 8.6 0a4.3 4.3 0 1 0-8.6 0M832.1 1089.9a4.3 4.3 0 1 0 8.6 0a4.3 4.3 0 1 0-8.6 0M853.6 1089.9a4.3 4.3 0 1 0 8.6 0a4.3 4.3 0 1 0-8.6 0M1058.2 1089.9a4.3 4.3 0 1 0 8.6 0a4.3 4.3 0 1 0-8.6 0M692.1 1100.4a4.3 4.3 0 1 0 8.6 0a4.3 4.3 0 1 0-8.6 0M810.5 1100.4a4.3 4.3 0 1 0 8.6 0a4.3 4.3 0 1 0-8.6 0M918.2 1100.4a4.3 4.3 0 1 0 8.6 0a4.3 4.3 0 1 0-8.6 0M702.9 1110.9a4.3 4.3 0 1 0 8.6 0a4.3 4.3 0 1 0-8.6 0M821.3 1110.9a4.3 4.3 0 1 0 8.6 0a4.3 4.3 0 1 0-8.6 0M896.7 1110.9a4.3 4.3 0 1 0 8.6 0a4.3 4.3 0 1 0-8.6 0M907.4 1110.9a4.3 4.3 0 1 0 8.6 0a4.3 4.3 0 1 0-8.6 0M1068.9 1110.9a4.3 4.3 0 1 0 8.6 0a4.3 4.3 0 1 0-8.6 0M821.3 1121.4a4.3 4.3 0 1 0 8.6 0a4.3 4.3 0 1 0-8.6 0M1015.1 1121.4a4.3 4.3 0 1 0 8.6 0a4.3 4.3 0 1 0-8.6 0M1047.4 1121.4a4.3 4.3 0 1 0 8.6 0a4.3 4.3 0 1 0-8.6 0" fill="#dfdede"/>
<path d="M735.2 722.6a4.3 4.3 0 1 0 8.6 0a4.3 4.3 0 1 0-8.6 0M713.6 743.6a4.3 4.3 0 1 0 8.6 0a4.3 4.3 0 1 0-8.6 0M767.5 743.6a4.3 4.3 0 1 0 8.6 0a4.3 4.3 0 1 0-8.6 0M950.5 743.6a4.3 4.3 0 1 0 8.6 0a4.3 4.3 0 1 0-8.6 0M767.5 754.1a4.3 4.3 0 1 0 8.6 0a4.3 4.3 0 1 0-8.6 0M929.0 754.1a4.3 4.3 0 1 0 8.6 0a4.3 4.3 0 1 0-8.6 0M950.5 754.1a4.3 4.3 0 1 0 8.6 0a4.3 4.3 0 1 0-8.6 0M961.3 754.1a4.3 4.3 0 1 0 8.6 0a4.3 4.3 0 1 0-8.6 0M735.2 764.6a4.3 4.3 0 1 0 8.6 0a4.3 4.3 0 1 0-8.6 0M1090.5 764.6a4.3 4.3 0 1 0 8.6 0a4.3 4.3 0 1 0-8.6 0M670.6 775.1a4.3 4.3 0 1 0 8.6 0a4.3 4.3 0 1 0-8.6 0M1068.9 775.1a4.3 4.3 0 1 0 8.6 0a4.3 4.3 0 1 0-8.6 0M929.0 785.6a4.3 4.3 0 1 0 8.6 0a4.3 4.3 0 1 0-8.6 0M778.2 806.6a4.3 4.3 0 1 0 8.6 0a4.3 4.3 0 1 0-8.6 0M842.8 806.6a4.3 4.3 0 1 0 8.6 0a4.3 4.3 0 1 0-8.6 0M950.5 806.6a4.3 4.3 0 1 0 8.6 0a4.3 4.3 0 1 0-8.6 0M961.3 806.6a4.3 4.3 0 1 0 8.6 0a4.3 4.3 0 1 0-8.6 0M778.2 827.5a4.3 4.3 0 1 0 8.6 0a4.3 4.3 0 1 0-8.6 0M896.7 838.0a4.3 4.3 0 1 0 8.6 0a4.3 4.3 0 1 0-8.6 0M929.0 838.0a4.3 4.3 0 1 0 8.6 0a4.3 4.3 0 1 0-8.6 0M767.5 848.5a4.3 4.3 0 1 0 8.6 0a4.3 4.3 0 1 0-8.6 0M1004.3 848.5a4.3 4.3 0 1 0 8.6 0a4.3 4.3 0 1 0-8.6 0M1058.2 848.5a4.3 4.3 0 1 0 8.6 0a4.3 4.3 0 1 0-8.6 0M670.6 859.0a4.3 4.3 0 1 0 8.6 0a4.3 4.3 0 1 0-8.6 0M702.9 859.0a4.3 4.3 0 1 0 8.6 0a4.3 4.3 0 1 0-8.6 0M724.4 859.0a4.3 4.3 0 1 0 8.6 0a4.3 4.3 0 1 0-8.6 0M961.3 859.0a4.3 4.3 0 1 0 8.6 0a4.3 4.3 0 1 0-8.6 0M745.9 869.5a4.3 4.3 0 1 0 8.6 0a4.3 4.3 0 1 0-8.6 0M907.4 869.5a4.3 4.3 0 1 0 8.6 0a4.3 4.3 0 1 0-8.6 0M961.3 869.5a4.3 4.3 0 1 0 8.6 0a4.3 4.3 0 1 0-8.6 0M724.4 880.0a4.3 4.3 0 1 0 8.6 0a4.3 4.3 0 1 0-8.6 0M810.5 880.0a4.3 4.3 0 1 0 8.6 0a4.3 4.3 0 1 0-8.6 0M972.0 880.0a4.3 4.3 0 1 0 8.6 0a4.3 4.3 0 1 0-8.6 0M692.1 890.5a4.3 4.3 0 1 0 8.6 0a4.3 4.3 0 1 0-8.6 0M1036.6 890.5a4.3 4.3 0 1 0 8.6 0a4.3 4.3 0 1 0-8.6 0M1068.9 890.5a4.3 4.3 0 1 0 8.6 0a4.3 4.3 0 1 0-8.6 0M724.4 901.0a4.3 4.3 0 1 0 8.6 0a4.3 4.3 0 1 0-8.6 0M832.1 901.0a4.3 4.3 0 1 0 8.6 0a4.3 4.3 0 1 0-8.6 0M939.7 901.0a4.3 4.3 0 1 0 8.6 0a4.3 4.3 0 1 0-8.6 0M702.9 922.0a4.3 4.3 0 1 0 8.6 0a4.3 4.3 0 1 0-8.6 0M724.4 922.0a4.3 4.3 0 1 0 8.6 0a4.3 4.3 0 1 0-8.6 0M767.5 953.5a4.3 4.3 0 1 0 8.6 0a4.3 4.3 0 1 0-8.6 0M853.6 953.5a4.3 4.3 0 1 0 8.6 0a4.3 4.3 0 1 0-8.6 0M778.2 964.0a4.3 4.3 0 1 0 8.6 0a4.3 4.3 0 1 0-8.6 0M907.4 964.0a4.3 4.3 0 1 0 8.6 0a4.3 4.3 0 1 0-8.6 0M918.2 964.0a4.3 4.3 0 1 0 8.6 0a4.3 4.3 0 1 0-8.6 0M767.5 974.5a4.3 4.3 0 1 0 8.6 0a4.3 4.3 0 1 0-8.6 0M778.2 974.5a4.3 4.3 0 1 0 8.6 0a4.3 4.3 0 1 0-8.6 0M918.2 974.5a4.3 4.3 0 1 0 8.6 0a4.3 4.3 0 1 0-8.6 0M1079.7 974.5a4.3 4.3 0 1 0 8.6 0a4.3 4.3 0 1 0-8.6 0M939.7 1006.0a4.3 4.3 0 1 0 8.6 0a4.3 4.3 0 1 0-8.6 0M1004.3 1016.5a4.3 4.3 0 1 0 8.6 0a4.3 4.3 0 1 0-8.6 0M918.2 1027.0a4.3 4.3 0 1 0 8.6 0a4.3 4.3 0 1 0-8.6 0M929.0 1027.0a4.3 4.3 0 1 0 8.6 0a4.3 4.3 0 1 0-8.6 0M982.8 1027.0a4.3 4.3 0 1 0 8.6 0a4.3 4.3 0 1 0-8.6 0M896.7 1037.5a4.3 4.3 0 1 0 8.6 0a4.3 4.3 0 1 0-8.6 0M875.1 1047.9a4.3 4.3 0 1 0 8.6 0a4.3 4.3 0 1 0-8.6 0M939.7 1047.9a4.3 4.3 0 1 0 8.6 0a4.3 4.3 0 1 0-8.6 0M1079.7 1047.9a4.3 4.3 0 1 0 8.6 0a4.3 4.3 0 1 0-8.6 0M799.8 1058.4a4.3 4.3 0 1 0 8.6 0a4.3 4.3 0 1 0-8.6 0M950.5 1058.4a4.3 4.3 0 1 0 8.6 0a4.3 4.3 0 1 0-8.6 0M767.5 1079.4a4.3 4.3 0 1 0 8.6 0a4.3 4.3 0 1 0-8.6 0M885.9 1079.4a4.3 4.3 0 1 0 8.6 0a4.3 4.3 0 1 0-8.6 0M929.0 1079.4a4.3 4.3 0 1 0 8.6 0a4.3 4.3 0 1 0-8.6 0M659.8 1100.4a4.3 4.3 0 1 0 8.6 0a4.3 4.3 0 1 0-8.6 0M756.7 1100.4a4.3 4.3 0 1 0 8.6 0a4.3 4.3 0 1 0-8.6 0M853.6 1100.4a4.3 4.3 0 1 0 8.6 0a4.3 4.3 0 1 0-8.6 0M1025.9 1100.4a4.3 4.3 0 1 0 8.6 0a4.3 4.3 0 1 0-8.6 0M1058.2 1100.4a4.3 4.3 0 1 0 8.6 0a4.3 4.3 0 1 0-8.6 0M810.5 1110.9a4.3 4.3 0 1 0 8.6 0a4.3 4.3 0 1 0-8.6 0M1058.2 1110.9a4.3 4.3 0 1 0 8.6 0a4.3 4.3 0 1 0-8.6 0M810.5 1121.4a4.3 4.3 0 1 0 8.6 0a4.3 4.3 0 1 0-8.6 0M842.8 1121.4a4.3 4.3 0 1 0 8.6 0a4.3 4.3 0 1 0-8.6 0M853.6 1121.4a4.3 4.3 0 1 0 8.6 0a4.3 4.3 0 1 0-8.6 0" fill="#e4dcd7"/>
<path d="M692.1 733.1a4.3 4.3 0 1 0 8.6 0a4.3 4.3 0 1 0-8.6 0M907.4 743.6a4.3 4.3 0 1 0 8.6 0a4.3 4.3 0 1 0-8.6 0M670.6 796.1a4.3 4.3 0 1 0 8.6 0a4.3 4.3 0 1 0-8.6 0M821.3 806.6a4.3 4.3 0 1 0 8.6 0a4.3 4.3 0 1 0-8.6 0M1015.1 827.5a4.3 4.3 0 1 0 8.6 0a4.3 4.3 0 1 0-8.6 0M1090.5 827.5a4.3 4.3 0 1 0 8.6 0a4.3 4.3 0 1 0-8.6 0M702.9 838.0a4.3 4.3 0 1 0 8.6 0a4.3 4.3 0 1 0-8.6 0M972.0 869.5a4.3 4.3 0 1 0 8.6 0a4.3 4.3 0 1 0-8.6 0M982.8 869.5a4.3 4.3 0 1 0 8.6 0a4.3 4.3 0 1 0-8.6 0M939.7 890.5a4.3 4.3 0 1 0 8.6 0a4.3 4.3 0 1 0-8.6 0M875.1 911.5a4.3 4.3 0 1 0 8.6 0a4.3 4.3 0 1 0-8.6 0M702.9 932.5a4.3 4.3 0 1 0 8.6 0a4.3 4.3 0 1 0-8.6 0M1036.6 932.5a4.3 4.3 0 1 0 8.6 0a4.3 4.3 0 1 0-8.6 0M745.9 943.0a4.3 4.3 0 1 0 8.6 0a4.3 4.3 0 1 0-8.6 0M842.8 964.0a4.3 4.3 0 1 0 8.6 0a4.3 4.3 0 1 0-8.6 0M896.7 964.0a4.3 4.3 0 1 0 8.6 0a4.3 4.3 0 1 0-8.6 0M832.1 974.5a4.3 4.3 0 1 0 8.6 0a4.3 4.3 0 1 0-8.6 0M1068.9 974.5a4.3 4.3 0 1 0 8.6 0a4.3 4.3 0 1 0-8.6 0M929.0 985.0a4.3 4.3 0 1 0 8.6 0a4.3 4.3 0 1 0-8.6 0M864.4 995.5a4.3 4.3 0 1 0 8.6 0a4.3 4.3 0 1 0-8.6 0M735.2 1006.0a4.3 4.3 0 1 0 8.6 0a4.3 4.3 0 1 0-8.6 0M778.2 1027.0a4.3 4.3 0 1 0 8.6 0a4.3 4.3 0 1 0-8.6 0M832.1 1037.5a4.3 4.3 0 1 0 8.6 0a4.3 4.3 0 1 0-8.6 0M1025.9 1058.4a4.3 4.3 0 1 0 8.6 0a4.3 4.3 0 1 0-8.6 0M864.4 1089.9a4.3 4.3 0 1 0 8.6 0a4.3 4.3 0 1 0-8.6 0M929.0 1089.9a4.3 4.3 0 1 0 8.6 0a4.3 4.3 0 1 0-8.6 0M745.9 1110.9a4.3 4.3 0 1 0 8.6 0a4.3 4.3 0 1 0-8.6 0" fill="#edd4c6"/>
<path d="M670.6 722.6a4.3 4.3 0 1 0 8.6 0a4.3 4.3 0 1 0-8.6 0M724.4 722.6a4.3 4.3 0 1 0 8.6 0a4.3 4.3 0 1 0-8.6 0M756.7 722.6a4.3 4.3 0 1 0 8.6 0a4.3 4.3 0 1 0-8.6 0M832.1 722.6a4.3 4.3 0 1 0 8.6 0a4.3 4.3 0 1 0-8.6 0M1079.7 722.6a4.3 4.3 0 1 0 8.6 0a4.3 4.3 0 1 0-8.6 0M907.4 733.1a4.3 4.3 0 1 0 8.6 0a4.3 4.3 0 1 0-8.6 0M659.8 743.6a4.3 4.3 0 1 0 8.6 0a4.3 4.3 0 1 0-8.6 0M681.3 743.6a4.3 4.3 0 1 0 8.6 0a4.3 4.3 0 1 0-8.6 0M702.9 743.6a4.3 4.3 0 1 0 8.6 0a4.3 4.3 0 1 0-8.6 0M724.4 743.6a4.3 4.3 0 1 0 8.6 0a4.3 4.3 0 1 0-8.6 0M756.7 743.6a4.3 4.3 0 1 0 8.6 0a4.3 4.3 0 1 0-8.6 0M1079.7 743.6a4.3 4.3 0 1 0 8.6 0a4.3 4.3 0 1 0-8.6 0M702.9 754.1a4.3 4.3 0 1 0 8.6 0a4.3 4.3 0 1 0-8.6 0M735.2 754.1a4.3 4.3 0 1 0 8.6 0a4.3 4.3 0 1 0-8.6 0M745.9 754.1a4.3 4.3 0 1 0 8.6 0a4.3 4.3 0 1 0-8.6 0M864.4 764.6a4.3 4.3 0 1 0 8.6 0a4.3 4.3 0 1 0-8.6 0M1036.6 764.6a4.3 4.3 0 1 0 8.6 0a4.3 4.3 0 1 0-8.6 0M832.1 775.1a4.3 4.3 0 1 0 8.6 0a4.3 4.3 0 1 0-8.6 0M939.7 775.1a4.3 4.3 0 1 0 8.6 0a4.3 4.3 0 1 0-8.6 0M950.5 775.1a4.3 4.3 0 1 0 8.6 0a4.3 4.3 0 1 0-8.6 0M993.6 775.1a4.3 4.3 0 1 0 8.6 0a4.3 4.3 0 1 0-8.6 0M1015.1 775.1a4.3 4.3 0 1 0 8.6 0a4.3 4.3 0 1 0-8.6 0M670.6 785.6a4.3 4.3 0 1 0 8.6 0a4.3 4.3 0 1 0-8.6 0M789.0 785.6a4.3 4.3 0 1 0 8.6 0a4.3 4.3 0 1 0-8.6 0M896.7 785.6a4.3 4.3 0 1 0 8.6 0a4.3 4.3 0 1 0-8.6 0M950.5 785.6a4.3 4.3 0 1 0 8.6 0a4.3 4.3 0 1 0-8.6 0M1015.1 785.6a4.3 4.3 0 1 0 8.6 0a4.3 4.3 0 1 0-8.6 0M745.9 796.1a4.3 4.3 0 1 0 8.6 0a4.3 4.3 0 1 0-8.6 0M810.5 796.1a4.3 4.3 0 1 0 8.6 0a4.3 4.3 0 1 0-8.6 0M821.3 796.1a4.3 4.3 0 1 0 8.6 0a4.3 4.3 0 1 0-8.6 0M896.7 796.1a4.3 4.3 0 1 0 8.6 0a4.3 4.3 0 1 0-8.6 0M918.2 796.1a4.3 4.3 0 1 0 8.6 0a4.3 4.3 0 1 0-8.6 0M961.3 796.1a4.3 4.3 0 1 0 8.6 0a4.3 4.3 0 1 0-8.6 0M735.2 806.6a4.3 4.3 0 1 0 8.6 0a4.3 4.3 0 1 0-8.6 0M756.7 806.6a4.3 4.3 0 1 0 8.6 0a4.3 4.3 0 1 0-8.6 0M864.4 806.6a4.3 4.3 0 1 0 8.6 0a4.3 4.3 0 1 0-8.6 0M875.1 806.6a4.3 4.3 0 1 0 8.6 0a4.3 4.3 0 1 0-8.6 0M972.0 806.6a4.3 4.3 0 1 0 8.6 0a4.3 4.3 0 1 0-8.6 0M1004.3 806.6a4.3 4.3 0 1 0 8.6 0a4.3 4.3 0 1 0-8.6 0M950.5 817.1a4.3 4.3 0 1 0 8.6 0a4.3 4.3 0 1 0-8.6 0M1047.4 817.1a4.3 4.3 0 1 0 8.6 0a4.3 4.3 0 1 0-8.6 0M713.6 827.5a4.3 4.3 0 1 0 8.6 0a4.3 4.3 0 1 0-8.6 0M853.6 827.5a4.3 4.3 0 1 0 8.6 0a4.3 4.3 0 1 0-8.6 0M885.9 827.5a4.3 4.3 0 1 0 8.6 0a4.3 4.3 0 1 0-8.6 0M939.7 827.5a4.3 4.3 0 1 0 8.6 0a4.3 4.3 0 1 0-8.6 0M950.5 827.5a4.3 4.3 0 1 0 8.6 0a4.3 4.3 0 1 0-8.6 0M982.8 827.5a4.3 4.3 0 1 0 8.6 0a4.3 4.3 0 1 0-8.6 0M1004.3 827.5a4.3 4.3 0 1 0 8.6 0a4.3 4.3 0 1 0-8.6 0M681.3 838.0a4.3 4.3 0 1 0 8.6 0a4.3 4.3 0 1 0-8.6 0M885.9 838.0a4.3 4.3 0 1 0 8.6 0a4.3 4.3 0 1 0-8.6 0M993.6 838.0a4.3 4.3 0 1 0 8.6 0a4.3 4.3 0 1 0-8.6 0M1025.9 838.0a4.3 4.3 0 1 0 8.6 0a4.3 4.3 0 1 0-8.6 0M982.8 848.5a4.3 4.3 0 1 0 8.6 0a4.3 4.3 0 1 0-8.6 0M1079.7 848.5a4.3 4.3 0 1 0 8.6 0a4.3 4.3 0 1 0-8.6 0M896.7 859.0a4.3 4.3 0 1 0 8.6 0a4.3 4.3 0 1 0-8.6 0M929.0 859.0a4.3 4.3 0 1 0 8.6 0a4.3 4.3 0 1 0-8.6 0M950.5 859.0a4.3 4.3 0 1 0 8.6 0a4.3 4.3 0 1 0-8.6 0M982.8 859.0a4.3 4.3 0 1 0 8.6 0a4.3 4.3 0 1 0-8.6 0M993.6 859.0a4.3 4.3 0 1 0 8.6 0a4.3 4.3 0 1 0-8.6 0M1079.7 859.0a4.3 4.3 0 1 0 8.6 0a4.3 4.3 0 1 0-8.6 0M681.3 869.5a4.3 4.3 0 1 0 8.6 0a4.3 4.3 0 1 0-8.6 0M713.6 869.5a4.3 4.3 0 1 0 8.6 0a4.3 4.3 0 1 0-8.6 0M735.2 869.5a4.3 4.3 0 1 0 8.6 0a4.3 4.3 0 1 0-8.6 0M875.1 869.5a4.3 4.3 0 1 0 8.6 0a4.3 4.3 0 1 0-8.6 0M885.9 869.5a4.3 4.3 0 1 0 8.6 0a4.3 4.3 0 1 0-8.6 0M939.7 869.5a4.3 4.3 0 1 0 8.6 0a4.3 4.3 0 1 0-8.6 0M993.6 869.5a4.3 4.3 0 1 0 8.6 0a4.3 4.3 0 1 0-8.6 0M670.6 880.0a4.3 4.3 0 1 0 8.6 0a4.3 4.3 0 1 0-8.6 0M821.3 880.0a4.3 4.3 0 1 0 8.6 0a4.3 4.3 0 1 0-8.6 0M842.8 880.0a4.3 4.3 0 1 0 8.6 0a4.3 4.3 0 1 0-8.6 0M982.8 880.0a4.3 4.3 0 1 0 8.6 0a4.3 4.3 0 1 0-8.6 0M993.6 880.0a4.3 4.3 0 1 0 8.6 0a4.3 4.3 0 1 0-8.6 0M1015.1 880.0a4.3 4.3 0 1 0 8.6 0a4.3 4.3 0 1 0-8.6 0M1036.6 880.0a4.3 4.3 0 1 0 8.6 0a4.3 4.3 0 1 0-8.6 0M1047.4 880.0a4.3 4.3 0 1 0 8.6 0a4.3 4.3 0 1 0-8.6 0M950.5 890.5a4.3 4.3 0 1 0 8.6 0a4.3 4.3 0 1 0-8.6 0M982.8 890.5a4.3 4.3 0 1 0 8.6 0a4.3 4.3 0 1 0-8.6 0M1079.7 890.5a4.3 4.3 0 1 0 8.6 0a4.3 4.3 0 1 0-8.6 0M799.8 901.0a4.3 4.3 0 1 0 8.6 0a4.3 4.3 0 1 0-8.6 0M885.9 901.0a4.3 4.3 0 1 0 8.6 0a4.3 4.3 0 1 0-8.6 0M896.7 901.0a4.3 4.3 0 1 0 8.6 0a4.3 4.3 0 1 0-8.6 0M1004.3 901.0a4.3 4.3 0 1 0 8.6 0a4.3 4.3 0 1 0-8.6 0M767.5 911.5a4.3 4.3 0 1 0 8.6 0a4.3 4.3 0 1 0-8.6 0M789.0 911.5a4.3 4.3 0 1 0 8.6 0a4.3 4.3 0 1 0-8.6 0M864.4 911.5a4.3 4.3 0 1 0 8.6 0a4.3 4.3 0 1 0-8.6 0M885.9 911.5a4.3 4.3 0 1 0 8.6 0a4.3 4.3 0 1 0-8.6 0M896.7 911.5a4.3 4.3 0 1 0 8.6 0a4.3 4.3 0 1 0-8.6 0M670.6 922.0a4.3 4.3 0 1 0 8.6 0a4.3 4.3 0 1 0-8.6 0M1047.4 922.0a4.3 4.3 0 1 0 8.6 0a4.3 4.3 0 1 0-8.6 0M799.8 932.5a4.3 4.3 0 1 0 8.6 0a4.3 4.3 0 1 0-8.6 0M821.3 932.5a4.3 4.3 0 1 0 8.6 0a4.3 4.3 0 1 0-8.6 0M864.4 932.5a4.3 4.3 0 1 0 8.6 0a4.3 4.3 0 1 0-8.6 0M1079.7 932.5a4.3 4.3 0 1 0 8.6 0a4.3 4.3 0 1 0-8.6 0M670.6 943.0a4.3 4.3 0 1 0 8.6 0a4.3 4.3 0 1 0-8.6 0M702.9 943.0a4.3 4.3 0 1 0 8.6 0a4.3 4.3 0 1 0-8.6 0M713.6 943.0a4.3 4.3 0 1 0 8.6 0a4.3 4.3 0 1 0-8.6 0M756.7 943.0a4.3 4.3 0 1 0 8.6 0a4.3 4.3 0 1 0-8.6 0M832.1 943.0a4.3 4.3 0 1 0 8.6 0a4.3 4.3 0 1 0-8.6 0M842.8 943.0a4.3 4.3 0 1 0 8.6 0a4.3 4.3 0 1 0-8.6 0M853.6 943.0a4.3 4.3 0 1 0 8.6 0a4.3 4.3 0 1 0-8.6 0M929.0 943.0a4.3 4.3 0 1 0 8.6 0a4.3 4.3 0 1 0-8.6 0M939.7 943.0a4.3 4.3 0 1 0 8.6 0a4.3 4.3 0 1 0-8.6 0M961.3 943.0a4.3 4.3 0 1 0 8.6 0a4.3 4.3 0 1 0-8.6 0M1015.1 943.0a4.3 4.3 0 1 0 8.6 0a4.3 4.3 0 1 0-8.6 0M1079.7 943.0a4.3 4.3 0 1 0 8.6 0a4.3 4.3 0 1 0-8.6 0M681.3 953.5a4.3 4.3 0 1 0 8.6 0a4.3 4.3 0 1 0-8.6 0M702.9 953.5a4.3 4.3 0 1 0 8.6 0a4.3 4.3 0 1 0-8.6 0M713.6 953.5a4.3 4.3 0 1 0 8.6 0a4.3 4.3 0 1 0-8.6 0M745.9 953.5a4.3 4.3 0 1 0 8.6 0a4.3 4.3 0 1 0-8.6 0M778.2 953.5a4.3 4.3 0 1 0 8.6 0a4.3 4.3 0 1 0-8.6 0M864.4 953.5a4.3 4.3 0 1 0 8.6 0a4.3 4.3 0 1 0-8.6 0M961.3 953.5a4.3 4.3 0 1 0 8.6 0a4.3 4.3 0 1 0-8.6 0M1079.7 953.5a4.3 4.3 0 1 0 8.6 0a4.3 4.3 0 1 0-8.6 0M659.8 964.0a4.3 4.3 0 1 0 8.6 0a4.3 4.3 0 1 0-8.6 0M767.5 964.0a4.3 4.3 0 1 0 8.6 0a4.3 4.3 0 1 0-8.6 0M789.0 964.0a4.3 4.3 0 1 0 8.6 0a4.3 4.3 0 1 0-8.6 0M950.5 964.0a4.3 4.3 0 1 0 8.6 0a4.3 4.3 0 1 0-8.6 0M659.8 974.5a4.3 4.3 0 1 0 8.6 0a4.3 4.3 0 1 0-8.6 0M692.1 974.5a4.3 4.3 0 1 0 8.6 0a4.3 4.3 0 1 0-8.6 0M756.7 974.5a4.3 4.3 0 1 0 8.6 0a4.3 4.3 0 1 0-8.6 0M799.8 974.5a4.3 4.3 0 1 0 8.6 0a4.3 4.3 0 1 0-8.6 0M853.6 974.5a4.3 4.3 0 1 0 8.6 0a4.3 4.3 0 1 0-8.6 0M939.7 974.5a4.3 4.3 0 1 0 8.6 0a4.3 4.3 0 1 0-8.6 0M950.5 974.5a4.3 4.3 0 1 0 8.6 0a4.3 4.3 0 1 0-8.6 0M756.7 985.0a4.3 4.3 0 1 0 8.6 0a4.3 4.3 0 1 0-8.6 0M778.2 985.0a4.3 4.3 0 1 0 8.6 0a4.3 4.3 0 1 0-8.6 0M885.9 985.0a4.3 4.3 0 1 0 8.6 0a4.3 4.3 0 1 0-8.6 0M896.7 985.0a4.3 4.3 0 1 0 8.6 0a4.3 4.3 0 1 0-8.6 0M939.7 985.0a4.3 4.3 0 1 0 8.6 0a4.3 4.3 0 1 0-8.6 0M961.3 985.0a4.3 4.3 0 1 0 8.6 0a4.3 4.3 0 1 0-8.6 0M993.6 985.0a4.3 4.3 0 1 0 8.6 0a4.3 4.3 0 1 0-8.6 0M1068.9 985.0a4.3 4.3 0 1 0 8.6 0a4.3 4.3 0 1 0-8.6 0M1090.5 985.0a4.3 4.3 0 1 0 8.6 0a4.3 4.3 0 1 0-8.6 0M659.8 995.5a4.3 4.3 0 1 0 8.6 0a4.3 4.3 0 1 0-8.6 0M670.6 995.5a4.3 4.3 0 1 0 8.6 0a4.3 4.3 0 1 0-8.6 0M799.8 995.5a4.3 4.3 0 1 0 8.6 0a4.3 4.3 0 1 0-8.6 0M875.1 995.5a4.3 4.3 0 1 0 8.6 0a4.3 4.3 0 1 0-8.6 0M885.9 995.5a4.3 4.3 0 1 0 8.6 0a4.3 4.3 0 1 0-8.6 0M982.8 995.5a4.3 4.3 0 1 0 8.6 0a4.3 4.3 0 1 0-8.6 0M713.6 1006.0a4.3 4.3 0 1 0 8.6 0a4.3 4.3 0 1 0-8.6 0M724.4 1006.0a4.3 4.3 0 1 0 8.6 0a4.3 4.3 0 1 0-8.6 0M756.7 1006.0a4.3 4.3 0 1 0 8.6 0a4.3 4.3 0 1 0-8.6 0M659.8 1016.5a4.3 4.3 0 1 0 8.6 0a4.3 4.3 0 1 0-8.6 0M713.6 1016.5a4.3 4.3 0 1 0 8.6 0a4.3 4.3 0 1 0-8.6 0M756.7 1016.5a4.3 4.3 0 1 0 8.6 0a4.3 4.3 0 1 0-8.6 0M767.5 1016.5a4.3 4.3 0 1 0 8.6 0a4.3 4.3 0 1 0-8.6 0M778.2 1016.5a4.3 4.3 0 1 0 8.6 0a4.3 4.3 0 1 0-8.6 0M789.0 1016.5a4.3 4.3 0 1 0 8.6 0a4.3 4.3 0 1 0-8.6 0M810.5 1016.5a4.3 4.3 0 1 0 8.6 0a4.3 4.3 0 1 0-8.6 0M875.1 1016.5a4.3 4.3 0 1 0 8.6 0a4.3 4.3 0 1 0-8.6 0M1047.4 1016.5a4.3 4.3 0 1 0 8.6 0a4.3 4.3 0 1 0-8.6 0M1058.2 1016.5a4.3 4.3 0 1 0 8.6 0a4.3 4.3 0 1 0-8.6 0M681.3 1027.0a4.3 4.3 0 1 0 8.6 0a4.3 4.3 0 1 0-8.6 0M724.4 1027.0a4.3 4.3 0 1 0 8.6 0a4.3 4.3 0 1 0-8.6 0M745.9 1027.0a4.3 4.3 0 1 0 8.6 0a4.3 4.3 0 1 0-8.6 0M832.1 1027.0a4.3 4.3 0 1 0 8.6 0a4.3 4.3 0 1 0-8.6 0M875.1 1027.0a4.3 4.3 0 1 0 8.6 0a4.3 4.3 0 1 0-8.6 0M1036.6 1027.0a4.3 4.3 0 1 0 8.6 0a4.3 4.3 0 1 0-8.6 0M681.3 1037.5a4.3 4.3 0 1 0 8.6 0a4.3 4.3 0 1 0-8.6 0M702.9 1037.5a4.3 4.3 0 1 0 8.6 0a4.3 4.3 0 1 0-8.6 0M789.0 1037.5a4.3 4.3 0 1 0 8.6 0a4.3 4.3 0 1 0-8.6 0M810.5 1037.5a4.3 4.3 0 1 0 8.6 0a4.3 4.3 0 1 0-8.6 0M875.1 1037.5a4.3 4.3 0 1 0 8.6 0a4.3 4.3 0 1 0-8.6 0M885.9 1037.5a4.3 4.3 0 1 0 8.6 0a4.3 4.3 0 1 0-8.6 0M1004.3 1037.5a4.3 4.3 0 1 0 8.6 0a4.3 4.3 0 1 0-8.6 0M692.1 1047.9a4.3 4.3 0 1 0 8.6 0a4.3 4.3 0 1 0-8.6 0M789.0 1047.9a4.3 4.3 0 1 0 8.6 0a4.3 4.3 0 1 0-8.6 0M713.6 1058.4a4.3 4.3 0 1 0 8.6 0a4.3 4.3 0 1 0-8.6 0M724.4 1058.4a4.3 4.3 0 1 0 8.6 0a4.3 4.3 0 1 0-8.6 0M735.2 1058.4a4.3 4.3 0 1 0 8.6 0a4.3 4.3 0 1 0-8.6 0M745.9 1058.4a4.3 4.3 0 1 0 8.6 0a4.3 4.3 0 1 0-8.6 0M1015.1 1058.4a4.3 4.3 0 1 0 8.6 0a4.3 4.3 0 1 0-8.6 0M659.8 1068.9a4.3 4.3 0 1 0 8.6 0a4.3 4.3 0 1 0-8.6 0M713.6 1068.9a4.3 4.3 0 1 0 8.6 0a4.3 4.3 0 1 0-8.6 0M832.1 1068.9a4.3 4.3 0 1 0 8.6 0a4.3 4.3 0 1 0-8.6 0M885.9 1068.9a4.3 4.3 0 1 0 8.6 0a4.3 4.3 0 1 0-8.6 0M950.5 1068.9a4.3 4.3 0 1 0 8.6 0a4.3 4.3 0 1 0-8.6 0M961.3 1068.9a4.3 4.3 0 1 0 8.6 0a4.3 4.3 0 1 0-8.6 0M1036.6 1068.9a4.3 4.3 0 1 0 8.6 0a4.3 4.3 0 1 0-8.6 0M1068.9 1068.9a4.3 4.3 0 1 0 8.6 0a4.3 4.3 0 1 0-8.6 0M1079.7 1068.9a4.3 4.3 0 1 0 8.6 0a4.3 4.3 0 1 0-8.6 0M681.3 1079.4a4.3 4.3 0 1 0 8.6 0a4.3 4.3 0 1 0-8.6 0M692.1 1079.4a4.3 4.3 0 1 0 8.6 0a4.3 4.3 0 1 0-8.6 0M1058.2 1079.4a4.3 4.3 0 1 0 8.6 0a4.3 4.3 0 1 0-8.6 0M745.9 1089.9a4.3 4.3 0 1 0 8.6 0a4.3 4.3 0 1 0-8.6 0M1047.4 1089.9a4.3 4.3 0 1 0 8.6 0a4.3 4.3 0 1 0-8.6 0M702.9 1100.4a4.3 4.3 0 1 0 8.6 0a4.3 4.3 0 1 0-8.6 0M713.6 1100.4a4.3 4.3 0 1 0 8.6 0a4.3 4.3 0 1 0-8.6 0M767.5 1100.4a4.3 4.3 0 1 0 8.6 0a4.3 4.3 0 1 0-8.6 0M778.2 1100.4a4.3 4.3 0 1 0 8.6 0a4.3 4.3 0 1 0-8.6 0M789.0 1100.4a4.3 4.3 0 1 0 8.6 0a4.3 4.3 0 1 0-8.6 0M842.8 1100.4a4.3 4.3 0 1 0 8.6 0a4.3 4.3 0 1 0-8.6 0M939.7 1100.4a4.3 4.3 0 1 0 8.6 0a4.3 4.3 0 1 0-8.6 0M961.3 1100.4a4.3 4.3 0 1 0 8.6 0a4.3 4.3 0 1 0-8.6 0M1047.4 1100.4a4.3 4.3 0 1 0 8.6 0a4.3 4.3 0 1 0-8.6 0M918.2 1110.9a4.3 4.3 0 1 0 8.6 0a4.3 4.3 0 1 0-8.6 0M929.0 1110.9a4.3 4.3 0 1 0 8.6 0a4.3 4.3 0 1 0-8.6 0M950.5 1110.9a4.3 4.3 0 1 0 8.6 0a4.3 4.3 0 1 0-8.6 0M972.0 1110.9a4.3 4.3 0 1 0 8.6 0a4.3 4.3 0 1 0-8.6 0M1004.3 1110.9a4.3 4.3 0 1 0 8.6 0a4.3 4.3 0 1 0-8.6 0M1036.6 1110.9a4.3 4.3 0 1 0 8.6 0a4.3 4.3 0 1 0-8.6 0M982.8 1121.4a4.3 4.3 0 1 0 8.6 0a4.3 4.3 0 1 0-8.6 0M1036.6 1121.4a4.3 4.3 0 1 0 8.6 0a4.3 4.3 0 1 0-8.6 0" fill="#f1cfbe"/>
<path d="M789.0 722.6a4.3 4.3 0 1 0 8.6 0a4.3 4.3 0 1 0-8.6 0M799.8 722.6a4.3 4.3 0 1 0 8.6 0a4.3 4.3 0 1 0-8.6 0M853.6 722.6a4.3 4.3 0 1 0 8.6 0a4.3 4.3 0 1 0-8.6 0M907.4 722.6a4.3 4.3 0 1 0 8.6 0a4.3 4.3 0 1 0-8.6 0M918.2 722.6a4.3 4.3 0 1 0 8.6 0a4.3 4.3 0 1 0-8.6 0M1004.3 722.6a4.3 4.3 0 1 0 8.6 0a4.3 4.3 0 1 0-8.6 0M832.1 733.1a4.3 4.3 0 1 0 8.6 0a4.3 4.3 0 1 0-8.6 0M1025.9 733.1a4.3 4.3 0 1 0 8.6 0a4.3 4.3 0 1 0-8.6 0M1058.2 733.1a4.3 4.3 0 1 0 8.6 0a4.3 4.3 0 1 0-8.6 0M735.2 743.6a4.3 4.3 0 1 0 8.6 0a4.3 4.3 0 1 0-8.6 0M864.4 743.6a4.3 4.3 0 1 0 8.6 0a4.3 4.3 0 1 0-8.6 0M1004.3 743.6a4.3 4.3 0 1 0 8.6 0a4.3 4.3 0 1 0-8.6 0M896.7 754.1a4.3 4.3 0 1 0 8.6 0a4.3 4.3 0 1 0-8.6 0M745.9 764.6a4.3 4.3 0 1 0 8.6 0a4.3 4.3 0 1 0-8.6 0M853.6 764.6a4.3 4.3 0 1 0 8.6 0a4.3 4.3 0 1 0-8.6 0M681.3 775.1a4.3 4.3 0 1 0 8.6 0a4.3 4.3 0 1 0-8.6 0M735.2 775.1a4.3 4.3 0 1 0 8.6 0a4.3 4.3 0 1 0-8.6 0M745.9 775.1a4.3 4.3 0 1 0 8.6 0a4.3 4.3 0 1 0-8.6 0M789.0 775.1a4.3 4.3 0 1 0 8.6 0a4.3 4.3 0 1 0-8.6 0M853.6 775.1a4.3 4.3 0 1 0 8.6 0a4.3 4.3 0 1 0-8.6 0M864.4 775.1a4.3 4.3 0 1 0 8.6 0a4.3 4.3 0 1 0-8.6 0M896.7 775.1a4.3 4.3 0 1 0 8.6 0a4.3 4.3 0 1 0-8.6 0M1090.5 775.1a4.3 4.3 0 1 0 8.6 0a4.3 4.3 0 1 0-8.6 0M842.8 785.6a4.3 4.3 0 1 0 8.6 0a4.3 4.3 0 1 0-8.6 0M918.2 785.6a4.3 4.3 0 1 0 8.6 0a4.3 4.3 0 1 0-8.6 0M961.3 785.6a4.3 4.3 0 1 0 8.6 0a4.3 4.3 0 1 0-8.6 0M972.0 785.6a4.3 4.3 0 1 0 8.6 0a4.3 4.3 0 1 0-8.6 0M1036.6 785.6a4.3 4.3 0 1 0 8.6 0a4.3 4.3 0 1 0-8.6 0M659.8 796.1a4.3 4.3 0 1 0 8.6 0a4.3 4.3 0 1 0-8.6 0M735.2 796.1a4.3 4.3 0 1 0 8.6 0a4.3 4.3 0 1 0-8.6 0M767.5 796.1a4.3 4.3 0 1 0 8.6 0a4.3 4.3 0 1 0-8.6 0M778.2 796.1a4.3 4.3 0 1 0 8.6 0a4.3 4.3 0 1 0-8.6 0M767.5 806.6a4.3 4.3 0 1 0 8.6 0a4.3 4.3 0 1 0-8.6 0M789.0 806.6a4.3 4.3 0 1 0 8.6 0a4.3 4.3 0 1 0-8.6 0M799.8 806.6a4.3 4.3 0 1 0 8.6 0a4.3 4.3 0 1 0-8.6 0M853.6 806.6a4.3 4.3 0 1 0 8.6 0a4.3 4.3 0 1 0-8.6 0M918.2 806.6a4.3 4.3 0 1 0 8.6 0a4.3 4.3 0 1 0-8.6 0M1015.1 806.6a4.3 4.3 0 1 0 8.6 0a4.3 4.3 0 1 0-8.6 0M1090.5 806.6a4.3 4.3 0 1 0 8.6 0a4.3 4.3 0 1 0-8.6 0M681.3 817.1a4.3 4.3 0 1 0 8.6 0a4.3 4.3 0 1 0-8.6 0M724.4 817.1a4.3 4.3 0 1 0 8.6 0a4.3 4.3 0 1 0-8.6 0M735.2 817.1a4.3 4.3 0 1 0 8.6 0a4.3 4.3 0 1 0-8.6 0M993.6 817.1a4.3 4.3 0 1 0 8.6 0a4.3 4.3 0 1 0-8.6 0M1058.2 817.1a4.3 4.3 0 1 0 8.6 0a4.3 4.3 0 1 0-8.6 0M896.7 827.5a4.3 4.3 0 1 0 8.6 0a4.3 4.3 0 1 0-8.6 0M1025.9 827.5a4.3 4.3 0 1 0 8.6 0a4.3 4.3 0 1 0-8.6 0M659.8 838.0a4.3 4.3 0 1 0 8.6 0a4.3 4.3 0 1 0-8.6 0M789.0 838.0a4.3 4.3 0 1 0 8.6 0a4.3 4.3 0 1 0-8.6 0M875.1 838.0a4.3 4.3 0 1 0 8.6 0a4.3 4.3 0 1 0-8.6 0M1004.3 838.0a4.3 4.3 0 1 0 8.6 0a4.3 4.3 0 1 0-8.6 0M1015.1 838.0a4.3 4.3 0 1 0 8.6 0a4.3 4.3 0 1 0-8.6 0M1068.9 838.0a4.3 4.3 0 1 0 8.6 0a4.3 4.3 0 1 0-8.6 0M681.3 848.5a4.3 4.3 0 1 0 8.6 0a4.3 4.3 0 1 0-8.6 0M810.5 848.5a4.3 4.3 0 1 0 8.6 0a4.3 4.3 0 1 0-8.6 0M875.1 848.5a4.3 4.3 0 1 0 8.6 0a4.3 4.3 0 1 0-8.6 0M972.0 848.5a4.3 4.3 0 1 0 8.6 0a4.3 4.3 0 1 0-8.6 0M681.3 859.0a4.3 4.3 0 1 0 8.6 0a4.3 4.3 0 1 0-8.6 0M692.1 859.0a4.3 4.3 0 1 0 8.6 0a4.3 4.3 0 1 0-8.6 0M767.5 859.0a4.3 4.3 0 1 0 8.6 0a4.3 4.3 0 1 0-8.6 0M885.9 859.0a4.3 4.3 0 1 0 8.6 0a4.3 4.3 0 1 0-8.6 0M939.7 859.0a4.3 4.3 0 1 0 8.6 0a4.3 4.3 0 1 0-8.6 0M1015.1 859.0a4.3 4.3 0 1 0 8.6 0a4.3 4.3 0 1 0-8.6 0M670.6 869.5a4.3 4.3 0 1 0 8.6 0a4.3 4.3 0 1 0-8.6 0M789.0 869.5a4.3 4.3 0 1 0 8.6 0a4.3 4.3 0 1 0-8.6 0M842.8 869.5a4.3 4.3 0 1 0 8.6 0a4.3 4.3 0 1 0-8.6 0M896.7 869.5a4.3 4.3 0 1 0 8.6 0a4.3 4.3 0 1 0-8.6 0M1015.1 869.5a4.3 4.3 0 1 0 8.6 0a4.3 4.3 0 1 0-8.6 0M1058.2 869.5a4.3 4.3 0 1 0 8.6 0a4.3 4.3 0 1 0-8.6 0M767.5 880.0a4.3 4.3 0 1 0 8.6 0a4.3 4.3 0 1 0-8.6 0M885.9 880.0a4.3 4.3 0 1 0 8.6 0a4.3 4.3 0 1 0-8.6 0M918.2 880.0a4.3 4.3 0 1 0 8.6 0a4.3 4.3 0 1 0-8.6 0M939.7 880.0a4.3 4.3 0 1 0 8.6 0a4.3 4.3 0 1 0-8.6 0M961.3 880.0a4.3 4.3 0 1 0 8.6 0a4.3 4.3 0 1 0-8.6 0M702.9 890.5a4.3 4.3 0 1 0 8.6 0a4.3 4.3 0 1 0-8.6 0M756.7 890.5a4.3 4.3 0 1 0 8.6 0a4.3 4.3 0 1 0-8.6 0M993.6 890.5a4.3 4.3 0 1 0 8.6 0a4.3 4.3 0 1 0-8.6 0M1090.5 890.5a4.3 4.3 0 1 0 8.6 0a4.3 4.3 0 1 0-8.6 0M702.9 901.0a4.3 4.3 0 1 0 8.6 0a4.3 4.3 0 1 0-8.6 0M842.8 901.0a4.3 4.3 0 1 0 8.6 0a4.3 4.3 0 1 0-8.6 0M853.6 901.0a4.3 4.3 0 1 0 8.6 0a4.3 4.3 0 1 0-8.6 0M1025.9 901.0a4.3 4.3 0 1 0 8.6 0a4.3 4.3 0 1 0-8.6 0M659.8 911.5a4.3 4.3 0 1 0 8.6 0a4.3 4.3 0 1 0-8.6 0M767.5 922.0a4.3 4.3 0 1 0 8.6 0a4.3 4.3 0 1 0-8.6 0M821.3 922.0a4.3 4.3 0 1 0 8.6 0a4.3 4.3 0 1 0-8.6 0M864.4 922.0a4.3 4.3 0 1 0 8.6 0a4.3 4.3 0 1 0-8.6 0M982.8 922.0a4.3 4.3 0 1 0 8.6 0a4.3 4.3 0 1 0-8.6 0M1058.2 922.0a4.3 4.3 0 1 0 8.6 0a4.3 4.3 0 1 0-8.6 0M659.8 932.5a4.3 4.3 0 1 0 8.6 0a4.3 4.3 0 1 0-8.6 0M778.2 932.5a4.3 4.3 0 1 0 8.6 0a4.3 4.3 0 1 0-8.6 0M832.1 932.5a4.3 4.3 0 1 0 8.6 0a4.3 4.3 0 1 0-8.6 0M896.7 932.5a4.3 4.3 0 1 0 8.6 0a4.3 4.3 0 1 0-8.6 0M1004.3 932.5a4.3 4.3 0 1 0 8.6 0a4.3 4.3 0 1 0-8.6 0M1025.9 932.5a4.3 4.3 0 1 0 8.6 0a4.3 4.3 0 1 0-8.6 0M681.3 943.0a4.3 4.3 0 1 0 8.6 0a4.3 4.3 0 1 0-8.6 0M724.4 943.0a4.3 4.3 0 1 0 8.6 0a4.3 4.3 0 1 0-8.6 0M767.5 943.0a4.3 4.3 0 1 0 8.6 0a4.3 4.3 0 1 0-8.6 0M885.9 943.0a4.3 4.3 0 1 0 8.6 0a4.3 4.3 0 1 0-8.6 0M1004.3 943.0a4.3 4.3 0 1 0 8.6 0a4.3 4.3 0 1 0-8.6 0M659.8 953.5a4.3 4.3 0 1 0 8.6 0a4.3 4.3 0 1 0-8.6 0M724.4 953.5a4.3 4.3 0 1 0 8.6 0a4.3 4.3 0 1 0-8.6 0M810.5 953.5a4.3 4.3 0 1 0 8.6 0a4.3 4.3 0 1 0-8.6 0M939.7 953.5a4.3 4.3 0 1 0 8.6 0a4.3 4.3 0 1 0-8.6 0M1004.3 953.5a4.3 4.3 0 1 0 8.6 0a4.3 4.3 0 1 0-8.6 0M1015.1 953.5a4.3 4.3 0 1 0 8.6 0a4.3 4.3 0 1 0-8.6 0M810.5 964.0a4.3 4.3 0 1 0 8.6 0a4.3 4.3 0 1 0-8.6 0M929.0 964.0a4.3 4.3 0 1 0 8.6 0a4.3 4.3 0 1 0-8.6 0M961.3 964.0a4.3 4.3 0 1 0 8.6 0a4.3 4.3 0 1 0-8.6 0M1025.9 964.0a4.3 4.3 0 1 0 8.6 0a4.3 4.3 0 1 0-8.6 0M1090.5 964.0a4.3 4.3 0 1 0 8.6 0a4.3 4.3 0 1 0-8.6 0M810.5 974.5a4.3 4.3 0 1 0 8.6 0a4.3 4.3 0 1 0-8.6 0M907.4 974.5a4.3 4.3 0 1 0 8.6 0a4.3 4.3 0 1 0-8.6 0M670.6 985.0a4.3 4.3 0 1 0 8.6 0a4.3 4.3 0 1 0-8.6 0M702.9 985.0a4.3 4.3 0 1 0 8.6 0a4.3 4.3 0 1 0-8.6 0M767.5 985.0a4.3 4.3 0 1 0 8.6 0a4.3 4.3 0 1 0-8.6 0M832.1 985.0a4.3 4.3 0 1 0 8.6 0a4.3 4.3 0 1 0-8.6 0M842.8 985.0a4.3 4.3 0 1 0 8.6 0a4.3 4.3 0 1 0-8.6 0M875.1 985.0a4.3 4.3 0 1 0 8.6 0a4.3 4.3 0 1 0-8.6 0M681.3 995.5a4.3 4.3 0 1 0 8.6 0a4.3 4.3 0 1 0-8.6 0M702.9 995.5a4.3 4.3 0 1 0 8.6 0a4.3 4.3 0 1 0-8.6 0M767.5 995.5a4.3 4.3 0 1 0 8.6 0a4.3 4.3 0 1 0-8.6 0M778.2 995.5a4.3 4.3 0 1 0 8.6 0a4.3 4.3 0 1 0-8.6 0M821.3 995.5a4.3 4.3 0 1 0 8.6 0a4.3 4.3 0 1 0-8.6 0M929.0 995.5a4.3 4.3 0 1 0 8.6 0a4.3 4.3 0 1 0-8.6 0M692.1 1006.0a4.3 4.3 0 1 0 8.6 0a4.3 4.3 0 1 0-8.6 0M702.9 1006.0a4.3 4.3 0 1 0 8.6 0a4.3 4.3 0 1 0-8.6 0M767.5 1006.0a4.3 4.3 0 1 0 8.6 0a4.3 4.3 0 1 0-8.6 0M778.2 1006.0a4.3 4.3 0 1 0 8.6 0a4.3 4.3 0 1 0-8.6 0M789.0 1006.0a4.3 4.3 0 1 0 8.6 0a4.3 4.3 0 1 0-8.6 0M799.8 1006.0a4.3 4.3 0 1 0 8.6 0a4.3 4.3 0 1 0-8.6 0M982.8 1006.0a4.3 4.3 0 1 0 8.6 0a4.3 4.3 0 1 0-8.6 0M1079.7 1006.0a4.3 4.3 0 1 0 8.6 0a4.3 4.3 0 1 0-8.6 0M702.9 1016.5a4.3 4.3 0 1 0 8.6 0a4.3 4.3 0 1 0-8.6 0M724.4 1016.5a4.3 4.3 0 1 0 8.6 0a4.3 4.3 0 1 0-8.6 0M799.8 1016.5a4.3 4.3 0 1 0 8.6 0a4.3 4.3 0 1 0-8.6 0M842.8 1016.5a4.3 4.3 0 1 0 8.6 0a4.3 4.3 0 1 0-8.6 0M982.8 1016.5a4.3 4.3 0 1 0 8.6 0a4.3 4.3 0 1 0-8.6 0M1036.6 1016.5a4.3 4.3 0 1 0 8.6 0a4.3 4.3 0 1 0-8.6 0M1090.5 1016.5a4.3 4.3 0 1 0 8.6 0a4.3 4.3 0 1 0-8.6 0M789.0 1027.0a4.3 4.3 0 1 0 8.6 0a4.3 4.3 0 1 0-8.6 0M1025.9 1027.0a4.3 4.3 0 1 0 8.6 0a4.3 4.3 0 1 0-8.6 0M713.6 1037.5a4.3 4.3 0 1 0 8.6 0a4.3 4.3 0 1 0-8.6 0M735.2 1037.5a4.3 4.3 0 1 0 8.6 0a4.3 4.3 0 1 0-8.6 0M950.5 1037.5a4.3 4.3 0 1 0 8.6 0a4.3 4.3 0 1 0-8.6 0M702.9 1047.9a4.3 4.3 0 1 0 8.6 0a4.3 4.3 0 1 0-8.6 0M929.0 1047.9a4.3 4.3 0 1 0 8.6 0a4.3 4.3 0 1 0-8.6 0M1036.6 1047.9a4.3 4.3 0 1 0 8.6 0a4.3 4.3 0 1 0-8.6 0M810.5 1068.9a4.3 4.3 0 1 0 8.6 0a4.3 4.3 0 1 0-8.6 0M993.6 1068.9a4.3 4.3 0 1 0 8.6 0a4.3 4.3 0 1 0-8.6 0M702.9 1079.4a4.3 4.3 0 1 0 8.6 0a4.3 4.3 0 1 0-8.6 0M724.4 1079.4a4.3 4.3 0 1 0 8.6 0a4.3 4.3 0 1 0-8.6 0M939.7 1079.4a4.3 4.3 0 1 0 8.6 0a4.3 4.3 0 1 0-8.6 0M1025.9 1079.4a4.3 4.3 0 1 0 8.6 0a4.3 4.3 0 1 0-8.6 0M767.5 1089.9a4.3 4.3 0 1 0 8.6 0a4.3 4.3 0 1 0-8.6 0M799.8 1089.9a4.3 4.3 0 1 0 8.6 0a4.3 4.3 0 1 0-8.6 0M1025.9 1089.9a4.3 4.3 0 1 0 8.6 0a4.3 4.3 0 1 0-8.6 0M670.6 1100.4a4.3 4.3 0 1 0 8.6 0a4.3 4.3 0 1 0-8.6 0M745.9 1100.4a4.3 4.3 0 1 0 8.6 0a4.3 4.3 0 1 0-8.6 0M993.6 1100.4a4.3 4.3 0 1 0 8.6 0a4.3 4.3 0 1 0-8.6 0M756.7 1110.9a4.3 4.3 0 1 0 8.6 0a4.3 4.3 0 1 0-8.6 0M1047.4 1110.9a4.3 4.3 0 1 0 8.6 0a4.3 4.3 0 1 0-8.6 0M1090.5 1110.9a4.3 4.3 0 1 0 8.6 0a4.3 4.3 0 1 0-8.6 0M972.0 1121.4a4.3 4.3 0 1 0 8.6 0a4.3 4.3 0 1 0-8.6 0" fill="#f3c9b5"/>
<path d="M681.3 722.6a4.3 4.3 0 1 0 8.6 0a4.3 4.3 0 1 0-8.6 0M972.0 722.6a4.3 4.3 0 1 0 8.6 0a4.3 4.3 0 1 0-8.6 0M702.9 733.1a4.3 4.3 0 1 0 8.6 0a4.3 4.3 0 1 0-8.6 0M692.1 743.6a4.3 4.3 0 1 0 8.6 0a4.3 4.3 0 1 0-8.6 0M799.8 743.6a4.3 4.3 0 1 0 8.6 0a4.3 4.3 0 1 0-8.6 0M972.0 743.6a4.3 4.3 0 1 0 8.6 0a4.3 4.3 0 1 0-8.6 0M982.8 743.6a4.3 4.3 0 1 0 8.6 0a4.3 4.3 0 1 0-8.6 0M670.6 754.1a4.3 4.3 0 1 0 8.6 0a4.3 4.3 0 1 0-8.6 0M799.8 754.1a4.3 4.3 0 1 0 8.6 0a4.3 4.3 0 1 0-8.6 0M972.0 754.1a4.3 4.3 0 1 0 8.6 0a4.3 4.3 0 1 0-8.6 0M982.8 754.1a4.3 4.3 0 1 0 8.6 0a4.3 4.3 0 1 0-8.6 0M1079.7 754.1a4.3 4.3 0 1 0 8.6 0a4.3 4.3 0 1 0-8.6 0M875.1 764.6a4.3 4.3 0 1 0 8.6 0a4.3 4.3 0 1 0-8.6 0M993.6 764.6a4.3 4.3 0 1 0 8.6 0a4.3 4.3 0 1 0-8.6 0M713.6 775.1a4.3 4.3 0 1 0 8.6 0a4.3 4.3 0 1 0-8.6 0M821.3 775.1a4.3 4.3 0 1 0 8.6 0a4.3 4.3 0 1 0-8.6 0M842.8 775.1a4.3 4.3 0 1 0 8.6 0a4.3 4.3 0 1 0-8.6 0M907.4 775.1a4.3 4.3 0 1 0 8.6 0a4.3 4.3 0 1 0-8.6 0M799.8 785.6a4.3 4.3 0 1 0 8.6 0a4.3 4.3 0 1 0-8.6 0M832.1 785.6a4.3 4.3 0 1 0 8.6 0a4.3 4.3 0 1 0-8.6 0M853.6 785.6a4.3 4.3 0 1 0 8.6 0a4.3 4.3 0 1 0-8.6 0M982.8 785.6a4.3 4.3 0 1 0 8.6 0a4.3 4.3 0 1 0-8.6 0M1025.9 785.6a4.3 4.3 0 1 0 8.6 0a4.3 4.3 0 1 0-8.6 0M724.4 796.1a4.3 4.3 0 1 0 8.6 0a4.3 4.3 0 1 0-8.6 0M756.7 796.1a4.3 4.3 0 1 0 8.6 0a4.3 4.3 0 1 0-8.6 0M907.4 796.1a4.3 4.3 0 1 0 8.6 0a4.3 4.3 0 1 0-8.6 0M972.0 796.1a4.3 4.3 0 1 0 8.6 0a4.3 4.3 0 1 0-8.6 0M659.8 806.6a4.3 4.3 0 1 0 8.6 0a4.3 4.3 0 1 0-8.6 0M832.1 806.6a4.3 4.3 0 1 0 8.6 0a4.3 4.3 0 1 0-8.6 0M1058.2 806.6a4.3 4.3 0 1 0 8.6 0a4.3 4.3 0 1 0-8.6 0M1068.9 806.6a4.3 4.3 0 1 0 8.6 0a4.3 4.3 0 1 0-8.6 0M982.8 817.1a4.3 4.3 0 1 0 8.6 0a4.3 4.3 0 1 0-8.6 0M1036.6 817.1a4.3 4.3 0 1 0 8.6 0a4.3 4.3 0 1 0-8.6 0M789.0 827.5a4.3 4.3 0 1 0 8.6 0a4.3 4.3 0 1 0-8.6 0M842.8 827.5a4.3 4.3 0 1 0 8.6 0a4.3 4.3 0 1 0-8.6 0M692.1 838.0a4.3 4.3 0 1 0 8.6 0a4.3 4.3 0 1 0-8.6 0M713.6 838.0a4.3 4.3 0 1 0 8.6 0a4.3 4.3 0 1 0-8.6 0M864.4 838.0a4.3 4.3 0 1 0 8.6 0a4.3 4.3 0 1 0-8.6 0M950.5 838.0a4.3 4.3 0 1 0 8.6 0a4.3 4.3 0 1 0-8.6 0M885.9 848.5a4.3 4.3 0 1 0 8.6 0a4.3 4.3 0 1 0-8.6 0M896.7 848.5a4.3 4.3 0 1 0 8.6 0a4.3 4.3 0 1 0-8.6 0M918.2 848.5a4.3 4.3 0 1 0 8.6 0a4.3 4.3 0 1 0-8.6 0M993.6 848.5a4.3 4.3 0 1 0 8.6 0a4.3 4.3 0 1 0-8.6 0M1090.5 848.5a4.3 4.3 0 1 0 8.6 0a4.3 4.3 0 1 0-8.6 0M853.6 859.0a4.3 4.3 0 1 0 8.6 0a4.3 4.3 0 1 0-8.6 0M864.4 859.0a4.3 4.3 0 1 0 8.6 0a4.3 4.3 0 1 0-8.6 0M875.1 859.0a4.3 4.3 0 1 0 8.6 0a4.3 4.3 0 1 0-8.6 0M972.0 859.0a4.3 4.3 0 1 0 8.6 0a4.3 4.3 0 1 0-8.6 0M702.9 869.5a4.3 4.3 0 1 0 8.6 0a4.3 4.3 0 1 0-8.6 0M929.0 869.5a4.3 4.3 0 1 0 8.6 0a4.3 4.3 0 1 0-8.6 0M929.0 880.0a4.3 4.3 0 1 0 8.6 0a4.3 4.3 0 1 0-8.6 0M1004.3 880.0a4.3 4.3 0 1 0 8.6 0a4.3 4.3 0 1 0-8.6 0M1047.4 890.5a4.3 4.3 0 1 0 8.6 0a4.3 4.3 0 1 0-8.6 0M713.6 901.0a4.3 4.3 0 1 0 8.6 0a4.3 4.3 0 1 0-8.6 0M950.5 901.0a4.3 4.3 0 1 0 8.6 0a4.3 4.3 0 1 0-8.6 0M1015.1 901.0a4.3 4.3 0 1 0 8.6 0a4.3 4.3 0 1 0-8.6 0M724.4 911.5a4.3 4.3 0 1 0 8.6 0a4.3 4.3 0 1 0-8.6 0M907.4 911.5a4.3 4.3 0 1 0 8.6 0a4.3 4.3 0 1 0-8.6 0M972.0 911.5a4.3 4.3 0 1 0 8.6 0a4.3 4.3 0 1 0-8.6 0M681.3 922.0a4.3 4.3 0 1 0 8.6 0a4.3 4.3 0 1 0-8.6 0M972.0 922.0a4.3 4.3 0 1 0 8.6 0a4.3 4.3 0 1 0-8.6 0M993.6 922.0a4.3 4.3 0 1 0 8.6 0a4.3 4.3 0 1 0-8.6 0M810.5 932.5a4.3 4.3 0 1 0 8.6 0a4.3 4.3 0 1 0-8.6 0M875.1 943.0a4.3 4.3 0 1 0 8.6 0a4.3 4.3 0 1 0-8.6 0M896.7 943.0a4.3 4.3 0 1 0 8.6 0a4.3 4.3 0 1 0-8.6 0M950.5 943.0a4.3 4.3 0 1 0 8.6 0a4.3 4.3 0 1 0-8.6 0M1090.5 943.0a4.3 4.3 0 1 0 8.6 0a4.3 4.3 0 1 0-8.6 0M756.7 953.5a4.3 4.3 0 1 0 8.6 0a4.3 4.3 0 1 0-8.6 0M929.0 953.5a4.3 4.3 0 1 0 8.6 0a4.3 4.3 0 1 0-8.6 0M950.5 953.5a4.3 4.3 0 1 0 8.6 0a4.3 4.3 0 1 0-8.6 0M670.6 964.0a4.3 4.3 0 1 0 8.6 0a4.3 4.3 0 1 0-8.6 0M681.3 964.0a4.3 4.3 0 1 0 8.6 0a4.3 4.3 0 1 0-8.6 0M735.2 964.0a4.3 4.3 0 1 0 8.6 0a4.3 4.3 0 1 0-8.6 0M745.9 964.0a4.3 4.3 0 1 0 8.6 0a4.3 4.3 0 1 0-8.6 0M939.7 964.0a4.3 4.3 0 1 0 8.6 0a4.3 4.3 0 1 0-8.6 0M1015.1 964.0a4.3 4.3 0 1 0 8.6 0a4.3 4.3 0 1 0-8.6 0M1079.7 964.0a4.3 4.3 0 1 0 8.6 0a4.3 4.3 0 1 0-8.6 0M670.6 974.5a4.3 4.3 0 1 0 8.6 0a4.3 4.3 0 1 0-8.6 0M681.3 974.5a4.3 4.3 0 1 0 8.6 0a4.3 4.3 0 1 0-8.6 0M745.9 974.5a4.3 4.3 0 1 0 8.6 0a4.3 4.3 0 1 0-8.6 0M896.7 974.5a4.3 4.3 0 1 0 8.6 0a4.3 4.3 0 1 0-8.6 0M929.0 974.5a4.3 4.3 0 1 0 8.6 0a4.3 4.3 0 1 0-8.6 0M982.8 974.5a4.3 4.3 0 1 0 8.6 0a4.3 4.3 0 1 0-8.6 0M789.0 985.0a4.3 4.3 0 1 0 8.6 0a4.3 4.3 0 1 0-8.6 0M821.3 985.0a4.3 4.3 0 1 0 8.6 0a4.3 4.3 0 1 0-8.6 0M1079.7 985.0a4.3 4.3 0 1 0 8.6 0a4.3 4.3 0 1 0-8.6 0M756.7 995.5a4.3 4.3 0 1 0 8.6 0a4.3 4.3 0 1 0-8.6 0M842.8 995.5a4.3 4.3 0 1 0 8.6 0a4.3 4.3 0 1 0-8.6 0M896.7 995.5a4.3 4.3 0 1 0 8.6 0a4.3 4.3 0 1 0-8.6 0M907.4 995.5a4.3 4.3 0 1 0 8.6 0a4.3 4.3 0 1 0-8.6 0M918.2 995.5a4.3 4.3 0 1 0 8.6 0a4.3 4.3 0 1 0-8.6 0M1079.7 995.5a4.3 4.3 0 1 0 8.6 0a4.3 4.3 0 1 0-8.6 0M1090.5 995.5a4.3 4.3 0 1 0 8.6 0a4.3 4.3 0 1 0-8.6 0M832.1 1016.5a4.3 4.3 0 1 0 8.6 0a4.3 4.3 0 1 0-8.6 0M864.4 1016.5a4.3 4.3 0 1 0 8.6 0a4.3 4.3 0 1 0-8.6 0M1068.9 1016.5a4.3 4.3 0 1 0 8.6 0a4.3 4.3 0 1 0-8.6 0M735.2 1027.0a4.3 4.3 0 1 0 8.6 0a4.3 4.3 0 1 0-8.6 0M799.8 1027.0a4.3 4.3 0 1 0 8.6 0a4.3 4.3 0 1 0-8.6 0M993.6 1027.0a4.3 4.3 0 1 0 8.6 0a4.3 4.3 0 1 0-8.6 0M1015.1 1027.0a4.3 4.3 0 1 0 8.6 0a4.3 4.3 0 1 0-8.6 0M724.4 1037.5a4.3 4.3 0 1 0 8.6 0a4.3 4.3 0 1 0-8.6 0M745.9 1037.5a4.3 4.3 0 1 0 8.6 0a4.3 4.3 0 1 0-8.6 0M756.7 1037.5a4.3 4.3 0 1 0 8.6 0a4.3 4.3 0 1 0-8.6 0M767.5 1037.5a4.3 4.3 0 1 0 8.6 0a4.3 4.3 0 1 0-8.6 0M799.8 1037.5a4.3 4.3 0 1 0 8.6 0a4.3 4.3 0 1 0-8.6 0M907.4 1037.5a4.3 4.3 0 1 0 8.6 0a4.3 4.3 0 1 0-8.6 0M929.0 1037.5a4.3 4.3 0 1 0 8.6 0a4.3 4.3 0 1 0-8.6 0M939.7 1037.5a4.3 4.3 0 1 0 8.6 0a4.3 4.3 0 1 0-8.6 0M961.3 1037.5a4.3 4.3 0 1 0 8.6 0a4.3 4.3 0 1 0-8.6 0M799.8 1047.9a4.3 4.3 0 1 0 8.6 0a4.3 4.3 0 1 0-8.6 0M918.2 1047.9a4.3 4.3 0 1 0 8.6 0a4.3 4.3 0 1 0-8.6 0M950.5 1047.9a4.3 4.3 0 1 0 8.6 0a4.3 4.3 0 1 0-8.6 0M1015.1 1047.9a4.3 4.3 0 1 0 8.6 0a4.3 4.3 0 1 0-8.6 0M756.7 1058.4a4.3 4.3 0 1 0 8.6 0a4.3 4.3 0 1 0-8.6 0M789.0 1068.9a4.3 4.3 0 1 0 8.6 0a4.3 4.3 0 1 0-8.6 0M972.0 1068.9a4.3 4.3 0 1 0 8.6 0a4.3 4.3 0 1 0-8.6 0M950.5 1079.4a4.3 4.3 0 1 0 8.6 0a4.3 4.3 0 1 0-8.6 0M1004.3 1079.4a4.3 4.3 0 1 0 8.6 0a4.3 4.3 0 1 0-8.6 0M1068.9 1079.4a4.3 4.3 0 1 0 8.6 0a4.3 4.3 0 1 0-8.6 0M789.0 1089.9a4.3 4.3 0 1 0 8.6 0a4.3 4.3 0 1 0-8.6 0M950.5 1089.9a4.3 4.3 0 1 0 8.6 0a4.3 4.3 0 1 0-8.6 0M993.6 1089.9a4.3 4.3 0 1 0 8.6 0a4.3 4.3 0 1 0-8.6 0M929.0 1100.4a4.3 4.3 0 1 0 8.6 0a4.3 4.3 0 1 0-8.6 0M767.5 1110.9a4.3 4.3 0 1 0 8.6 0a4.3 4.3 0 1 0-8.6 0M939.7 1110.9a4.3 4.3 0 1 0 8.6 0a4.3 4.3 0 1 0-8.6 0M961.3 1110.9a4.3 4.3 0 1 0 8.6 0a4.3 4.3 0 1 0-8.6 0M1025.9 1121.4a4.3 4.3 0 1 0 8.6 0a4.3 4.3 0 1 0-8.6 0" fill="#f5c3ad"/>
<path d="M702.9 722.6a4.3 4.3 0 1 0 8.6 0a4.3 4.3 0 1 0-8.6 0M821.3 722.6a4.3 4.3 0 1 0 8.6 0a4.3 4.3 0 1 0-8.6 0M1058.2 722.6a4.3 4.3 0 1 0 8.6 0a4.3 4.3 0 1 0-8.6 0M810.5 733.1a4.3 4.3 0 1 0 8.6 0a4.3 4.3 0 1 0-8.6 0M1004.3 764.6a4.3 4.3 0 1 0 8.6 0a4.3 4.3 0 1 0-8.6 0M885.9 775.1a4.3 4.3 0 1 0 8.6 0a4.3 4.3 0 1 0-8.6 0M1004.3 775.1a4.3 4.3 0 1 0 8.6 0a4.3 4.3 0 1 0-8.6 0M659.8 785.6a4.3 4.3 0 1 0 8.6 0a4.3 4.3 0 1 0-8.6 0M767.5 785.6a4.3 4.3 0 1 0 8.6 0a4.3 4.3 0 1 0-8.6 0M821.3 785.6a4.3 4.3 0 1 0 8.6 0a4.3 4.3 0 1 0-8.6 0M875.1 785.6a4.3 4.3 0 1 0 8.6 0a4.3 4.3 0 1 0-8.6 0M885.9 785.6a4.3 4.3 0 1 0 8.6 0a4.3 4.3 0 1 0-8.6 0M885.9 796.1a4.3 4.3 0 1 0 8.6 0a4.3 4.3 0 1 0-8.6 0M885.9 806.6a4.3 4.3 0 1 0 8.6 0a4.3 4.3 0 1 0-8.6 0M853.6 817.1a4.3 4.3 0 1 0 8.6 0a4.3 4.3 0 1 0-8.6 0M939.7 817.1a4.3 4.3 0 1 0 8.6 0a4.3 4.3 0 1 0-8.6 0M1025.9 817.1a4.3 4.3 0 1 0 8.6 0a4.3 4.3 0 1 0-8.6 0M832.1 827.5a4.3 4.3 0 1 0 8.6 0a4.3 4.3 0 1 0-8.6 0M821.3 838.0a4.3 4.3 0 1 0 8.6 0a4.3 4.3 0 1 0-8.6 0M821.3 848.5a4.3 4.3 0 1 0 8.6 0a4.3 4.3 0 1 0-8.6 0M1068.9 848.5a4.3 4.3 0 1 0 8.6 0a4.3 4.3 0 1 0-8.6 0M789.0 859.0a4.3 4.3 0 1 0 8.6 0a4.3 4.3 0 1 0-8.6 0M735.2 880.0a4.3 4.3 0 1 0 8.6 0a4.3 4.3 0 1 0-8.6 0M1079.7 880.0a4.3 4.3 0 1 0 8.6 0a4.3 4.3 0 1 0-8.6 0M670.6 901.0a4.3 4.3 0 1 0 8.6 0a4.3 4.3 0 1 0-8.6 0M670.6 911.5a4.3 4.3 0 1 0 8.6 0a4.3 4.3 0 1 0-8.6 0M702.9 911.5a4.3 4.3 0 1 0 8.6 0a4.3 4.3 0 1 0-8.6 0M756.7 911.5a4.3 4.3 0 1 0 8.6 0a4.3 4.3 0 1 0-8.6 0M778.2 911.5a4.3 4.3 0 1 0 8.6 0a4.3 4.3 0 1 0-8.6 0M810.5 911.5a4.3 4.3 0 1 0 8.6 0a4.3 4.3 0 1 0-8.6 0M961.3 911.5a4.3 4.3 0 1 0 8.6 0a4.3 4.3 0 1 0-8.6 0M1004.3 911.5a4.3 4.3 0 1 0 8.6 0a4.3 4.3 0 1 0-8.6 0M1015.1 911.5a4.3 4.3 0 1 0 8.6 0a4.3 4.3 0 1 0-8.6 0M1047.4 911.5a4.3 4.3 0 1 0 8.6 0a4.3 4.3 0 1 0-8.6 0M1079.7 911.5a4.3 4.3 0 1 0 8.6 0a4.3 4.3 0 1 0-8.6 0M692.1 932.5a4.3 4.3 0 1 0 8.6 0a4.3 4.3 0 1 0-8.6 0M713.6 932.5a4.3 4.3 0 1 0 8.6 0a4.3 4.3 0 1 0-8.6 0M756.7 932.5a4.3 4.3 0 1 0 8.6 0a4.3 4.3 0 1 0-8.6 0M767.5 932.5a4.3 4.3 0 1 0 8.6 0a4.3 4.3 0 1 0-8.6 0M842.8 932.5a4.3 4.3 0 1 0 8.6 0a4.3 4.3 0 1 0-8.6 0M907.4 932.5a4.3 4.3 0 1 0 8.6 0a4.3 4.3 0 1 0-8.6 0M961.3 932.5a4.3 4.3 0 1 0 8.6 0a4.3 4.3 0 1 0-8.6 0M982.8 932.5a4.3 4.3 0 1 0 8.6 0a4.3 4.3 0 1 0-8.6 0M778.2 943.0a4.3 4.3 0 1 0 8.6 0a4.3 4.3 0 1 0-8.6 0M821.3 943.0a4.3 4.3 0 1 0 8.6 0a4.3 4.3 0 1 0-8.6 0M907.4 943.0a4.3 4.3 0 1 0 8.6 0a4.3 4.3 0 1 0-8.6 0M692.1 953.5a4.3 4.3 0 1 0 8.6 0a4.3 4.3 0 1 0-8.6 0M875.1 953.5a4.3 4.3 0 1 0 8.6 0a4.3 4.3 0 1 0-8.6 0M907.4 953.5a4.3 4.3 0 1 0 8.6 0a4.3 4.3 0 1 0-8.6 0M1068.9 953.5a4.3 4.3 0 1 0 8.6 0a4.3 4.3 0 1 0-8.6 0M724.4 964.0a4.3 4.3 0 1 0 8.6 0a4.3 4.3 0 1 0-8.6 0M864.4 964.0a4.3 4.3 0 1 0 8.6 0a4.3 4.3 0 1 0-8.6 0M972.0 964.0a4.3 4.3 0 1 0 8.6 0a4.3 4.3 0 1 0-8.6 0M1004.3 964.0a4.3 4.3 0 1 0 8.6 0a4.3 4.3 0 1 0-8.6 0M735.2 974.5a4.3 4.3 0 1 0 8.6 0a4.3 4.3 0 1 0-8.6 0M821.3 974.5a4.3 4.3 0 1 0 8.6 0a4.3 4.3 0 1 0-8.6 0M1004.3 974.5a4.3 4.3 0 1 0 8.6 0a4.3 4.3 0 1 0-8.6 0M681.3 985.0a4.3 4.3 0 1 0 8.6 0a4.3 4.3 0 1 0-8.6 0M1036.6 985.0a4.3 4.3 0 1 0 8.6 0a4.3 4.3 0 1 0-8.6 0M1058.2 985.0a4.3 4.3 0 1 0 8.6 0a4.3 4.3 0 1 0-8.6 0M1015.1 995.5a4.3 4.3 0 1 0 8.6 0a4.3 4.3 0 1 0-8.6 0M842.8 1006.0a4.3 4.3 0 1 0 8.6 0a4.3 4.3 0 1 0-8.6 0M853.6 1006.0a4.3 4.3 0 1 0 8.6 0a4.3 4.3 0 1 0-8.6 0M1025.9 1006.0a4.3 4.3 0 1 0 8.6 0a4.3 4.3 0 1 0-8.6 0M681.3 1016.5a4.3 4.3 0 1 0 8.6 0a4.3 4.3 0 1 0-8.6 0M821.3 1027.0a4.3 4.3 0 1 0 8.6 0a4.3 4.3 0 1 0-8.6 0M918.2 1037.5a4.3 4.3 0 1 0 8.6 0a4.3 4.3 0 1 0-8.6 0M1047.4 1037.5a4.3 4.3 0 1 0 8.6 0a4.3 4.3 0 1 0-8.6 0M1068.9 1037.5a4.3 4.3 0 1 0 8.6 0a4.3 4.3 0 1 0-8.6 0M1004.3 1047.9a4.3 4.3 0 1 0 8.6 0a4.3 4.3 0 1 0-8.6 0M1047.4 1047.9a4.3 4.3 0 1 0 8.6 0a4.3 4.3 0 1 0-8.6 0M1058.2 1047.9a4.3 4.3 0 1 0 8.6 0a4.3 4.3 0 1 0-8.6 0M1068.9 1047.9a4.3 4.3 0 1 0 8.6 0a4.3 4.3 0 1 0-8.6 0M1090.5 1047.9a4.3 4.3 0 1 0 8.6 0a4.3 4.3 0 1 0-8.6 0M1090.5 1058.4a4.3 4.3 0 1 0 8.6 0a4.3 4.3 0 1 0-8.6 0M702.9 1068.9a4.3 4.3 0 1 0 8.6 0a4.3 4.3 0 1 0-8.6 0M724.4 1068.9a4.3 4.3 0 1 0 8.6 0a4.3 4.3 0 1 0-8.6 0M756.7 1068.9a4.3 4.3 0 1 0 8.6 0a4.3 4.3 0 1 0-8.6 0M853.6 1068.9a4.3 4.3 0 1 0 8.6 0a4.3 4.3 0 1 0-8.6 0M1090.5 1068.9a4.3 4.3 0 1 0 8.6 0a4.3 4.3 0 1 0-8.6 0M681.3 1089.9a4.3 4.3 0 1 0 8.6 0a4.3 4.3 0 1 0-8.6 0M713.6 1089.9a4.3 4.3 0 1 0 8.6 0a4.3 4.3 0 1 0-8.6 0M810.5 1089.9a4.3 4.3 0 1 0 8.6 0a4.3 4.3 0 1 0-8.6 0M961.3 1089.9a4.3 4.3 0 1 0 8.6 0a4.3 4.3 0 1 0-8.6 0M1015.1 1089.9a4.3 4.3 0 1 0 8.6 0a4.3 4.3 0 1 0-8.6 0M735.2 1100.4a4.3 4.3 0 1 0 8.6 0a4.3 4.3 0 1 0-8.6 0M982.8 1100.4a4.3 4.3 0 1 0 8.6 0a4.3 4.3 0 1 0-8.6 0M1015.1 1110.9a4.3 4.3 0 1 0 8.6 0a4.3 4.3 0 1 0-8.6 0M961.3 1121.4a4.3 4.3 0 1 0 8.6 0a4.3 4.3 0 1 0-8.6 0" fill="#f5b59b"/>
<path d="M713.6 722.6a4.3 4.3 0 1 0 8.6 0a4.3 4.3 0 1 0-8.6 0M745.9 722.6a4.3 4.3 0 1 0 8.6 0a4.3 4.3 0 1 0-8.6 0M810.5 722.6a4.3 4.3 0 1 0 8.6 0a4.3 4.3 0 1 0-8.6 0M1068.9 722.6a4.3 4.3 0 1 0 8.6 0a4.3 4.3 0 1 0-8.6 0M745.9 733.1a4.3 4.3 0 1 0 8.6 0a4.3 4.3 0 1 0-8.6 0M864.4 733.1a4.3 4.3 0 1 0 8.6 0a4.3 4.3 0 1 0-8.6 0M670.6 743.6a4.3 4.3 0 1 0 8.6 0a4.3 4.3 0 1 0-8.6 0M832.1 743.6a4.3 4.3 0 1 0 8.6 0a4.3 4.3 0 1 0-8.6 0M885.9 743.6a4.3 4.3 0 1 0 8.6 0a4.3 4.3 0 1 0-8.6 0M993.6 743.6a4.3 4.3 0 1 0 8.6 0a4.3 4.3 0 1 0-8.6 0M681.3 754.1a4.3 4.3 0 1 0 8.6 0a4.3 4.3 0 1 0-8.6 0M756.7 754.1a4.3 4.3 0 1 0 8.6 0a4.3 4.3 0 1 0-8.6 0M778.2 754.1a4.3 4.3 0 1 0 8.6 0a4.3 4.3 0 1 0-8.6 0M810.5 754.1a4.3 4.3 0 1 0 8.6 0a4.3 4.3 0 1 0-8.6 0M907.4 754.1a4.3 4.3 0 1 0 8.6 0a4.3 4.3 0 1 0-8.6 0M1004.3 754.1a4.3 4.3 0 1 0 8.6 0a4.3 4.3 0 1 0-8.6 0M1090.5 754.1a4.3 4.3 0 1 0 8.6 0a4.3 4.3 0 1 0-8.6 0M702.9 764.6a4.3 4.3 0 1 0 8.6 0a4.3 4.3 0 1 0-8.6 0M832.1 764.6a4.3 4.3 0 1 0 8.6 0a4.3 4.3 0 1 0-8.6 0M939.7 764.6a4.3 4.3 0 1 0 8.6 0a4.3 4.3 0 1 0-8.6 0M767.5 775.1a4.3 4.3 0 1 0 8.6 0a4.3 4.3 0 1 0-8.6 0M875.1 775.1a4.3 4.3 0 1 0 8.6 0a4.3 4.3 0 1 0-8.6 0M745.9 785.6a4.3 4.3 0 1 0 8.6 0a4.3 4.3 0 1 0-8.6 0M756.7 785.6a4.3 4.3 0 1 0 8.6 0a4.3 4.3 0 1 0-8.6 0M1047.4 785.6a4.3 4.3 0 1 0 8.6 0a4.3 4.3 0 1 0-8.6 0M692.1 796.1a4.3 4.3 0 1 0 8.6 0a4.3 4.3 0 1 0-8.6 0M832.1 796.1a4.3 4.3 0 1 0 8.6 0a4.3 4.3 0 1 0-8.6 0M907.4 806.6a4.3 4.3 0 1 0 8.6 0a4.3 4.3 0 1 0-8.6 0M1025.9 806.6a4.3 4.3 0 1 0 8.6 0a4.3 4.3 0 1 0-8.6 0M778.2 817.1a4.3 4.3 0 1 0 8.6 0a4.3 4.3 0 1 0-8.6 0M789.0 817.1a4.3 4.3 0 1 0 8.6 0a4.3 4.3 0 1 0-8.6 0M842.8 817.1a4.3 4.3 0 1 0 8.6 0a4.3 4.3 0 1 0-8.6 0M907.4 817.1a4.3 4.3 0 1 0 8.6 0a4.3 4.3 0 1 0-8.6 0M929.0 817.1a4.3 4.3 0 1 0 8.6 0a4.3 4.3 0 1 0-8.6 0M961.3 817.1a4.3 4.3 0 1 0 8.6 0a4.3 4.3 0 1 0-8.6 0M799.8 827.5a4.3 4.3 0 1 0 8.6 0a4.3 4.3 0 1 0-8.6 0M864.4 827.5a4.3 4.3 0 1 0 8.6 0a4.3 4.3 0 1 0-8.6 0M875.1 827.5a4.3 4.3 0 1 0 8.6 0a4.3 4.3 0 1 0-8.6 0M961.3 827.5a4.3 4.3 0 1 0 8.6 0a4.3 4.3 0 1 0-8.6 0M670.6 838.0a4.3 4.3 0 1 0 8.6 0a4.3 4.3 0 1 0-8.6 0M799.8 838.0a4.3 4.3 0 1 0 8.6 0a4.3 4.3 0 1 0-8.6 0M939.7 838.0a4.3 4.3 0 1 0 8.6 0a4.3 4.3 0 1 0-8.6 0M939.7 848.5a4.3 4.3 0 1 0 8.6 0a4.3 4.3 0 1 0-8.6 0M1047.4 859.0a4.3 4.3 0 1 0 8.6 0a4.3 4.3 0 1 0-8.6 0M1090.5 859.0a4.3 4.3 0 1 0 8.6 0a4.3 4.3 0 1 0-8.6 0M799.8 869.5a4.3 4.3 0 1 0 8.6 0a4.3 4.3 0 1 0-8.6 0M821.3 869.5a4.3 4.3 0 1 0 8.6 0a4.3 4.3 0 1 0-8.6 0M832.1 869.5a4.3 4.3 0 1 0 8.6 0a4.3 4.3 0 1 0-8.6 0M1047.4 869.5a4.3 4.3 0 1 0 8.6 0a4.3 4.3 0 1 0-8.6 0M1079.7 869.5a4.3 4.3 0 1 0 8.6 0a4.3 4.3 0 1 0-8.6 0M692.1 880.0a4.3 4.3 0 1 0 8.6 0a4.3 4.3 0 1 0-8.6 0M950.5 880.0a4.3 4.3 0 1 0 8.6 0a4.3 4.3 0 1 0-8.6 0M972.0 890.5a4.3 4.3 0 1 0 8.6 0a4.3 4.3 0 1 0-8.6 0M692.1 901.0a4.3 4.3 0 1 0 8.6 0a4.3 4.3 0 1 0-8.6 0M778.2 901.0a4.3 4.3 0 1 0 8.6 0a4.3 4.3 0 1 0-8.6 0M972.0 901.0a4.3 4.3 0 1 0 8.6 0a4.3 4.3 0 1 0-8.6 0M982.8 901.0a4.3 4.3 0 1 0 8.6 0a4.3 4.3 0 1 0-8.6 0M993.6 901.0a4.3 4.3 0 1 0 8.6 0a4.3 4.3 0 1 0-8.6 0M1047.4 901.0a4.3 4.3 0 1 0 8.6 0a4.3 4.3 0 1 0-8.6 0M1090.5 901.0a4.3 4.3 0 1 0 8.6 0a4.3 4.3 0 1 0-8.6 0M713.6 911.5a4.3 4.3 0 1 0 8.6 0a4.3 4.3 0 1 0-8.6 0M799.8 911.5a4.3 4.3 0 1 0 8.6 0a4.3 4.3 0 1 0-8.6 0M939.7 911.5a4.3 4.3 0 1 0 8.6 0a4.3 4.3 0 1 0-8.6 0M1025.9 911.5a4.3 4.3 0 1 0 8.6 0a4.3 4.3 0 1 0-8.6 0M692.1 922.0a4.3 4.3 0 1 0 8.6 0a4.3 4.3 0 1 0-8.6 0M745.9 922.0a4.3 4.3 0 1 0 8.6 0a4.3 4.3 0 1 0-8.6 0M1079.7 922.0a4.3 4.3 0 1 0 8.6 0a4.3 4.3 0 1 0-8.6 0M1090.5 922.0a4.3 4.3 0 1 0 8.6 0a4.3 4.3 0 1 0-8.6 0M724.4 932.5a4.3 4.3 0 1 0 8.6 0a4.3 4.3 0 1 0-8.6 0M789.0 932.5a4.3 4.3 0 1 0 8.6 0a4.3 4.3 0 1 0-8.6 0M853.6 932.5a4.3 4.3 0 1 0 8.6 0a4.3 4.3 0 1 0-8.6 0M875.1 932.5a4.3 4.3 0 1 0 8.6 0a4.3 4.3 0 1 0-8.6 0M885.9 932.5a4.3 4.3 0 1 0 8.6 0a4.3 4.3 0 1 0-8.6 0M939.7 932.5a4.3 4.3 0 1 0 8.6 0a4.3 4.3 0 1 0-8.6 0M972.0 932.5a4.3 4.3 0 1 0 8.6 0a4.3 4.3 0 1 0-8.6 0M1015.1 932.5a4.3 4.3 0 1 0 8.6 0a4.3 4.3 0 1 0-8.6 0M1090.5 932.5a4.3 4.3 0 1 0 8.6 0a4.3 4.3 0 1 0-8.6 0M735.2 943.0a4.3 4.3 0 1 0 8.6 0a4.3 4.3 0 1 0-8.6 0M810.5 943.0a4.3 4.3 0 1 0 8.6 0a4.3 4.3 0 1 0-8.6 0M993.6 943.0a4.3 4.3 0 1 0 8.6 0a4.3 4.3 0 1 0-8.6 0M1025.9 943.0a4.3 4.3 0 1 0 8.6 0a4.3 4.3 0 1 0-8.6 0M670.6 953.5a4.3 4.3 0 1 0 8.6 0a4.3 4.3 0 1 0-8.6 0M789.0 953.5a4.3 4.3 0 1 0 8.6 0a4.3 4.3 0 1 0-8.6 0M799.8 953.5a4.3 4.3 0 1 0 8.6 0a4.3 4.3 0 1 0-8.6 0M832.1 953.5a4.3 4.3 0 1 0 8.6 0a4.3 4.3 0 1 0-8.6 0M918.2 953.5a4.3 4.3 0 1 0 8.6 0a4.3 4.3 0 1 0-8.6 0M972.0 953.5a4.3 4.3 0 1 0 8.6 0a4.3 4.3 0 1 0-8.6 0M1058.2 953.5a4.3 4.3 0 1 0 8.6 0a4.3 4.3 0 1 0-8.6 0M1090.5 953.5a4.3 4.3 0 1 0 8.6 0a4.3 4.3 0 1 0-8.6 0M692.1 964.0a4.3 4.3 0 1 0 8.6 0a4.3 4.3 0 1 0-8.6 0M821.3 964.0a4.3 4.3 0 1 0 8.6 0a4.3 4.3 0 1 0-8.6 0M885.9 964.0a4.3 4.3 0 1 0 8.6 0a4.3 4.3 0 1 0-8.6 0M1058.2 964.0a4.3 4.3 0 1 0 8.6 0a4.3 4.3 0 1 0-8.6 0M724.4 974.5a4.3 4.3 0 1 0 8.6 0a4.3 4.3 0 1 0-8.6 0M885.9 974.5a4.3 4.3 0 1 0 8.6 0a4.3 4.3 0 1 0-8.6 0M993.6 974.5a4.3 4.3 0 1 0 8.6 0a4.3 4.3 0 1 0-8.6 0M1015.1 974.5a4.3 4.3 0 1 0 8.6 0a4.3 4.3 0 1 0-8.6 0M1025.9 974.5a4.3 4.3 0 1 0 8.6 0a4.3 4.3 0 1 0-8.6 0M1058.2 974.5a4.3 4.3 0 1 0 8.6 0a4.3 4.3 0 1 0-8.6 0M735.2 985.0a4.3 4.3 0 1 0 8.6 0a4.3 4.3 0 1 0-8.6 0M1025.9 985.0a4.3 4.3 0 1 0 8.6 0a4.3 4.3 0 1 0-8.6 0M724.4 995.5a4.3 4.3 0 1 0 8.6 0a4.3 4.3 0 1 0-8.6 0M735.2 995.5a4.3 4.3 0 1 0 8.6 0a4.3 4.3 0 1 0-8.6 0M789.0 995.5a4.3 4.3 0 1 0 8.6 0a4.3 4.3 0 1 0-8.6 0M939.7 995.5a4.3 4.3 0 1 0 8.6 0a4.3 4.3 0 1 0-8.6 0M961.3 995.5a4.3 4.3 0 1 0 8.6 0a4.3 4.3 0 1 0-8.6 0M864.4 1006.0a4.3 4.3 0 1 0 8.6 0a4.3 4.3 0 1 0-8.6 0M1015.1 1006.0a4.3 4.3 0 1 0 8.6 0a4.3 4.3 0 1 0-8.6 0M1090.5 1006.0a4.3 4.3 0 1 0 8.6 0a4.3 4.3 0 1 0-8.6 0M885.9 1027.0a4.3 4.3 0 1 0 8.6 0a4.3 4.3 0 1 0-8.6 0M1068.9 1027.0a4.3 4.3 0 1 0 8.6 0a4.3 4.3 0 1 0-8.6 0M1079.7 1027.0a4.3 4.3 0 1 0 8.6 0a4.3 4.3 0 1 0-8.6 0M1015.1 1037.5a4.3 4.3 0 1 0 8.6 0a4.3 4.3 0 1 0-8.6 0M1025.9 1037.5a4.3 4.3 0 1 0 8.6 0a4.3 4.3 0 1 0-8.6 0M972.0 1047.9a4.3 4.3 0 1 0 8.6 0a4.3 4.3 0 1 0-8.6 0M692.1 1068.9a4.3 4.3 0 1 0 8.6 0a4.3 4.3 0 1 0-8.6 0M907.4 1068.9a4.3 4.3 0 1 0 8.6 0a4.3 4.3 0 1 0-8.6 0M939.7 1068.9a4.3 4.3 0 1 0 8.6 0a4.3 4.3 0 1 0-8.6 0M1004.3 1068.9a4.3 4.3 0 1 0 8.6 0a4.3 4.3 0 1 0-8.6 0M1015.1 1079.4a4.3 4.3 0 1 0 8.6 0a4.3 4.3 0 1 0-8.6 0M1090.5 1079.4a4.3 4.3 0 1 0 8.6 0a4.3 4.3 0 1 0-8.6 0M702.9 1089.9a4.3 4.3 0 1 0 8.6 0a4.3 4.3 0 1 0-8.6 0M821.3 1089.9a4.3 4.3 0 1 0 8.6 0a4.3 4.3 0 1 0-8.6 0M939.7 1089.9a4.3 4.3 0 1 0 8.6 0a4.3 4.3 0 1 0-8.6 0M982.8 1089.9a4.3 4.3 0 1 0 8.6 0a4.3 4.3 0 1 0-8.6 0M1036.6 1089.9a4.3 4.3 0 1 0 8.6 0a4.3 4.3 0 1 0-8.6 0M1090.5 1089.9a4.3 4.3 0 1 0 8.6 0a4.3 4.3 0 1 0-8.6 0M724.4 1100.4a4.3 4.3 0 1 0 8.6 0a4.3 4.3 0 1 0-8.6 0M1025.9 1110.9a4.3 4.3 0 1 0 8.6 0a4.3 4.3 0 1 0-8.6 0" fill="#f4ad93"/>
<path d="M692.1 722.6a4.3 4.3 0 1 0 8.6 0a4.3 4.3 0 1 0-8.6 0M864.4 722.6a4.3 4.3 0 1 0 8.6 0a4.3 4.3 0 1 0-8.6 0M982.8 722.6a4.3 4.3 0 1 0 8.6 0a4.3 4.3 0 1 0-8.6 0M993.6 722.6a4.3 4.3 0 1 0 8.6 0a4.3 4.3 0 1 0-8.6 0M1036.6 722.6a4.3 4.3 0 1 0 8.6 0a4.3 4.3 0 1 0-8.6 0M670.6 733.1a4.3 4.3 0 1 0 8.6 0a4.3 4.3 0 1 0-8.6 0M896.7 733.1a4.3 4.3 0 1 0 8.6 0a4.3 4.3 0 1 0-8.6 0M918.2 733.1a4.3 4.3 0 1 0 8.6 0a4.3 4.3 0 1 0-8.6 0M1036.6 733.1a4.3 4.3 0 1 0 8.6 0a4.3 4.3 0 1 0-8.6 0M1090.5 733.1a4.3 4.3 0 1 0 8.6 0a4.3 4.3 0 1 0-8.6 0M745.9 743.6a4.3 4.3 0 1 0 8.6 0a4.3 4.3 0 1 0-8.6 0M810.5 743.6a4.3 4.3 0 1 0 8.6 0a4.3 4.3 0 1 0-8.6 0M875.1 743.6a4.3 4.3 0 1 0 8.6 0a4.3 4.3 0 1 0-8.6 0M896.7 743.6a4.3 4.3 0 1 0 8.6 0a4.3 4.3 0 1 0-8.6 0M1090.5 743.6a4.3 4.3 0 1 0 8.6 0a4.3 4.3 0 1 0-8.6 0M789.0 754.1a4.3 4.3 0 1 0 8.6 0a4.3 4.3 0 1 0-8.6 0M832.1 754.1a4.3 4.3 0 1 0 8.6 0a4.3 4.3 0 1 0-8.6 0M993.6 754.1a4.3 4.3 0 1 0 8.6 0a4.3 4.3 0 1 0-8.6 0M756.7 764.6a4.3 4.3 0 1 0 8.6 0a4.3 4.3 0 1 0-8.6 0M778.2 764.6a4.3 4.3 0 1 0 8.6 0a4.3 4.3 0 1 0-8.6 0M789.0 764.6a4.3 4.3 0 1 0 8.6 0a4.3 4.3 0 1 0-8.6 0M810.5 764.6a4.3 4.3 0 1 0 8.6 0a4.3 4.3 0 1 0-8.6 0M821.3 764.6a4.3 4.3 0 1 0 8.6 0a4.3 4.3 0 1 0-8.6 0M950.5 764.6a4.3 4.3 0 1 0 8.6 0a4.3 4.3 0 1 0-8.6 0M756.7 775.1a4.3 4.3 0 1 0 8.6 0a4.3 4.3 0 1 0-8.6 0M778.2 775.1a4.3 4.3 0 1 0 8.6 0a4.3 4.3 0 1 0-8.6 0M918.2 775.1a4.3 4.3 0 1 0 8.6 0a4.3 4.3 0 1 0-8.6 0M929.0 775.1a4.3 4.3 0 1 0 8.6 0a4.3 4.3 0 1 0-8.6 0M735.2 785.6a4.3 4.3 0 1 0 8.6 0a4.3 4.3 0 1 0-8.6 0M810.5 785.6a4.3 4.3 0 1 0 8.6 0a4.3 4.3 0 1 0-8.6 0M864.4 785.6a4.3 4.3 0 1 0 8.6 0a4.3 4.3 0 1 0-8.6 0M907.4 785.6a4.3 4.3 0 1 0 8.6 0a4.3 4.3 0 1 0-8.6 0M1058.2 785.6a4.3 4.3 0 1 0 8.6 0a4.3 4.3 0 1 0-8.6 0M702.9 796.1a4.3 4.3 0 1 0 8.6 0a4.3 4.3 0 1 0-8.6 0M724.4 806.6a4.3 4.3 0 1 0 8.6 0a4.3 4.3 0 1 0-8.6 0M745.9 806.6a4.3 4.3 0 1 0 8.6 0a4.3 4.3 0 1 0-8.6 0M810.5 806.6a4.3 4.3 0 1 0 8.6 0a4.3 4.3 0 1 0-8.6 0M1079.7 806.6a4.3 4.3 0 1 0 8.6 0a4.3 4.3 0 1 0-8.6 0M659.8 817.1a4.3 4.3 0 1 0 8.6 0a4.3 4.3 0 1 0-8.6 0M756.7 817.1a4.3 4.3 0 1 0 8.6 0a4.3 4.3 0 1 0-8.6 0M832.1 817.1a4.3 4.3 0 1 0 8.6 0a4.3 4.3 0 1 0-8.6 0M875.1 817.1a4.3 4.3 0 1 0 8.6 0a4.3 4.3 0 1 0-8.6 0M896.7 817.1a4.3 4.3 0 1 0 8.6 0a4.3 4.3 0 1 0-8.6 0M918.2 817.1a4.3 4.3 0 1 0 8.6 0a4.3 4.3 0 1 0-8.6 0M972.0 817.1a4.3 4.3 0 1 0 8.6 0a4.3 4.3 0 1 0-8.6 0M1004.3 817.1a4.3 4.3 0 1 0 8.6 0a4.3 4.3 0 1 0-8.6 0M1015.1 817.1a4.3 4.3 0 1 0 8.6 0a4.3 4.3 0 1 0-8.6 0M1068.9 817.1a4.3 4.3 0 1 0 8.6 0a4.3 4.3 0 1 0-8.6 0M1079.7 817.1a4.3 4.3 0 1 0 8.6 0a4.3 4.3 0 1 0-8.6 0M1090.5 817.1a4.3 4.3 0 1 0 8.6 0a4.3 4.3 0 1 0-8.6 0M810.5 827.5a4.3 4.3 0 1 0 8.6 0a4.3 4.3 0 1 0-8.6 0M1068.9 827.5a4.3 4.3 0 1 0 8.6 0a4.3 4.3 0 1 0-8.6 0M1079.7 827.5a4.3 4.3 0 1 0 8.6 0a4.3 4.3 0 1 0-8.6 0M810.5 838.0a4.3 4.3 0 1 0 8.6 0a4.3 4.3 0 1 0-8.6 0M832.1 838.0a4.3 4.3 0 1 0 8.6 0a4.3 4.3 0 1 0-8.6 0M961.3 838.0a4.3 4.3 0 1 0 8.6 0a4.3 4.3 0 1 0-8.6 0M1090.5 838.0a4.3 4.3 0 1 0 8.6 0a4.3 4.3 0 1 0-8.6 0M799.8 859.0a4.3 4.3 0 1 0 8.6 0a4.3 4.3 0 1 0-8.6 0M821.3 859.0a4.3 4.3 0 1 0 8.6 0a4.3 4.3 0 1 0-8.6 0M832.1 859.0a4.3 4.3 0 1 0 8.6 0a4.3 4.3 0 1 0-8.6 0M756.7 880.0a4.3 4.3 0 1 0 8.6 0a4.3 4.3 0 1 0-8.6 0M896.7 880.0a4.3 4.3 0 1 0 8.6 0a4.3 4.3 0 1 0-8.6 0M907.4 880.0a4.3 4.3 0 1 0 8.6 0a4.3 4.3 0 1 0-8.6 0M1058.2 880.0a4.3 4.3 0 1 0 8.6 0a4.3 4.3 0 1 0-8.6 0M1068.9 880.0a4.3 4.3 0 1 0 8.6 0a4.3 4.3 0 1 0-8.6 0M961.3 890.5a4.3 4.3 0 1 0 8.6 0a4.3 4.3 0 1 0-8.6 0M681.3 901.0a4.3 4.3 0 1 0 8.6 0a4.3 4.3 0 1 0-8.6 0M789.0 901.0a4.3 4.3 0 1 0 8.6 0a4.3 4.3 0 1 0-8.6 0M1036.6 901.0a4.3 4.3 0 1 0 8.6 0a4.3 4.3 0 1 0-8.6 0M1068.9 901.0a4.3 4.3 0 1 0 8.6 0a4.3 4.3 0 1 0-8.6 0M1079.7 901.0a4.3 4.3 0 1 0 8.6 0a4.3 4.3 0 1 0-8.6 0M681.3 911.5a4.3 4.3 0 1 0 8.6 0a4.3 4.3 0 1 0-8.6 0M692.1 911.5a4.3 4.3 0 1 0 8.6 0a4.3 4.3 0 1 0-8.6 0M745.9 911.5a4.3 4.3 0 1 0 8.6 0a4.3 4.3 0 1 0-8.6 0M832.1 911.5a4.3 4.3 0 1 0 8.6 0a4.3 4.3 0 1 0-8.6 0M1068.9 911.5a4.3 4.3 0 1 0 8.6 0a4.3 4.3 0 1 0-8.6 0M1068.9 922.0a4.3 4.3 0 1 0 8.6 0a4.3 4.3 0 1 0-8.6 0M670.6 932.5a4.3 4.3 0 1 0 8.6 0a4.3 4.3 0 1 0-8.6 0M993.6 932.5a4.3 4.3 0 1 0 8.6 0a4.3 4.3 0 1 0-8.6 0M972.0 943.0a4.3 4.3 0 1 0 8.6 0a4.3 4.3 0 1 0-8.6 0M982.8 943.0a4.3 4.3 0 1 0 8.6 0a4.3 4.3 0 1 0-8.6 0M1036.6 943.0a4.3 4.3 0 1 0 8.6 0a4.3 4.3 0 1 0-8.6 0M735.2 953.5a4.3 4.3 0 1 0 8.6 0a4.3 4.3 0 1 0-8.6 0M821.3 953.5a4.3 4.3 0 1 0 8.6 0a4.3 4.3 0 1 0-8.6 0M885.9 953.5a4.3 4.3 0 1 0 8.6 0a4.3 4.3 0 1 0-8.6 0M896.7 953.5a4.3 4.3 0 1 0 8.6 0a4.3 4.3 0 1 0-8.6 0M1025.9 953.5a4.3 4.3 0 1 0 8.6 0a4.3 4.3 0 1 0-8.6 0M1036.6 953.5a4.3 4.3 0 1 0 8.6 0a4.3 4.3 0 1 0-8.6 0M1047.4 953.5a4.3 4.3 0 1 0 8.6 0a4.3 4.3 0 1 0-8.6 0M713.6 964.0a4.3 4.3 0 1 0 8.6 0a4.3 4.3 0 1 0-8.6 0M756.7 964.0a4.3 4.3 0 1 0 8.6 0a4.3 4.3 0 1 0-8.6 0M853.6 964.0a4.3 4.3 0 1 0 8.6 0a4.3 4.3 0 1 0-8.6 0M1068.9 964.0a4.3 4.3 0 1 0 8.6 0a4.3 4.3 0 1 0-8.6 0M864.4 974.5a4.3 4.3 0 1 0 8.6 0a4.3 4.3 0 1 0-8.6 0M692.1 985.0a4.3 4.3 0 1 0 8.6 0a4.3 4.3 0 1 0-8.6 0M745.9 985.0a4.3 4.3 0 1 0 8.6 0a4.3 4.3 0 1 0-8.6 0M799.8 985.0a4.3 4.3 0 1 0 8.6 0a4.3 4.3 0 1 0-8.6 0M810.5 985.0a4.3 4.3 0 1 0 8.6 0a4.3 4.3 0 1 0-8.6 0M907.4 985.0a4.3 4.3 0 1 0 8.6 0a4.3 4.3 0 1 0-8.6 0M918.2 985.0a4.3 4.3 0 1 0 8.6 0a4.3 4.3 0 1 0-8.6 0M1004.3 985.0a4.3 4.3 0 1 0 8.6 0a4.3 4.3 0 1 0-8.6 0M1015.1 985.0a4.3 4.3 0 1 0 8.6 0a4.3 4.3 0 1 0-8.6 0M1047.4 985.0a4.3 4.3 0 1 0 8.6 0a4.3 4.3 0 1 0-8.6 0M713.6 995.5a4.3 4.3 0 1 0 8.6 0a4.3 4.3 0 1 0-8.6 0M745.9 995.5a4.3 4.3 0 1 0 8.6 0a4.3 4.3 0 1 0-8.6 0M810.5 995.5a4.3 4.3 0 1 0 8.6 0a4.3 4.3 0 1 0-8.6 0M832.1 995.5a4.3 4.3 0 1 0 8.6 0a4.3 4.3 0 1 0-8.6 0M853.6 995.5a4.3 4.3 0 1 0 8.6 0a4.3 4.3 0 1 0-8.6 0M993.6 995.5a4.3 4.3 0 1 0 8.6 0a4.3 4.3 0 1 0-8.6 0M1036.6 995.5a4.3 4.3 0 1 0 8.6 0a4.3 4.3 0 1 0-8.6 0M1047.4 995.5a4.3 4.3 0 1 0 8.6 0a4.3 4.3 0 1 0-8.6 0M1058.2 995.5a4.3 4.3 0 1 0 8.6 0a4.3 4.3 0 1 0-8.6 0M1068.9 995.5a4.3 4.3 0 1 0 8.6 0a4.3 4.3 0 1 0-8.6 0M681.3 1006.0a4.3 4.3 0 1 0 8.6 0a4.3 4.3 0 1 0-8.6 0M745.9 1006.0a4.3 4.3 0 1 0 8.6 0a4.3 4.3 0 1 0-8.6 0M810.5 1006.0a4.3 4.3 0 1 0 8.6 0a4.3 4.3 0 1 0-8.6 0M821.3 1006.0a4.3 4.3 0 1 0 8.6 0a4.3 4.3 0 1 0-8.6 0M875.1 1006.0a4.3 4.3 0 1 0 8.6 0a4.3 4.3 0 1 0-8.6 0M1036.6 1006.0a4.3 4.3 0 1 0 8.6 0a4.3 4.3 0 1 0-8.6 0M1047.4 1006.0a4.3 4.3 0 1 0 8.6 0a4.3 4.3 0 1 0-8.6 0M670.6 1016.5a4.3 4.3 0 1 0 8.6 0a4.3 4.3 0 1 0-8.6 0M853.6 1016.5a4.3 4.3 0 1 0 8.6 0a4.3 4.3 0 1 0-8.6 0M1079.7 1016.5a4.3 4.3 0 1 0 8.6 0a4.3 4.3 0 1 0-8.6 0M692.1 1027.0a4.3 4.3 0 1 0 8.6 0a4.3 4.3 0 1 0-8.6 0M810.5 1027.0a4.3 4.3 0 1 0 8.6 0a4.3 4.3 0 1 0-8.6 0M1004.3 1027.0a4.3 4.3 0 1 0 8.6 0a4.3 4.3 0 1 0-8.6 0M1058.2 1027.0a4.3 4.3 0 1 0 8.6 0a4.3 4.3 0 1 0-8.6 0M972.0 1037.5a4.3 4.3 0 1 0 8.6 0a4.3 4.3 0 1 0-8.6 0M993.6 1037.5a4.3 4.3 0 1 0 8.6 0a4.3 4.3 0 1 0-8.6 0M1036.6 1037.5a4.3 4.3 0 1 0 8.6 0a4.3 4.3 0 1 0-8.6 0M982.8 1047.9a4.3 4.3 0 1 0 8.6 0a4.3 4.3 0 1 0-8.6 0M1025.9 1047.9a4.3 4.3 0 1 0 8.6 0a4.3 4.3 0 1 0-8.6 0M670.6 1068.9a4.3 4.3 0 1 0 8.6 0a4.3 4.3 0 1 0-8.6 0M681.3 1068.9a4.3 4.3 0 1 0 8.6 0a4.3 4.3 0 1 0-8.6 0M842.8 1068.9a4.3 4.3 0 1 0 8.6 0a4.3 4.3 0 1 0-8.6 0M659.8 1079.4a4.3 4.3 0 1 0 8.6 0a4.3 4.3 0 1 0-8.6 0M692.1 1089.9a4.3 4.3 0 1 0 8.6 0a4.3 4.3 0 1 0-8.6 0M724.4 1089.9a4.3 4.3 0 1 0 8.6 0a4.3 4.3 0 1 0-8.6 0M735.2 1089.9a4.3 4.3 0 1 0 8.6 0a4.3 4.3 0 1 0-8.6 0M778.2 1089.9a4.3 4.3 0 1 0 8.6 0a4.3 4.3 0 1 0-8.6 0M972.0 1089.9a4.3 4.3 0 1 0 8.6 0a4.3 4.3 0 1 0-8.6 0M1004.3 1089.9a4.3 4.3 0 1 0 8.6 0a4.3 4.3 0 1 0-8.6 0M950.5 1100.4a4.3 4.3 0 1 0 8.6 0a4.3 4.3 0 1 0-8.6 0M972.0 1100.4a4.3 4.3 0 1 0 8.6 0a4.3 4.3 0 1 0-8.6 0M1004.3 1100.4a4.3 4.3 0 1 0 8.6 0a4.3 4.3 0 1 0-8.6 0M735.2 1110.9a4.3 4.3 0 1 0 8.6 0a4.3 4.3 0 1 0-8.6 0" fill="#f3a48a"/>
<path d="M939.7 743.6a4.3 4.3 0 1 0 8.6 0a4.3 4.3 0 1 0-8.6 0M1047.4 743.6a4.3 4.3 0 1 0 8.6 0a4.3 4.3 0 1 0-8.6 0M670.6 817.1a4.3 4.3 0 1 0 8.6 0a4.3 4.3 0 1 0-8.6 0M821.3 911.5a4.3 4.3 0 1 0 8.6 0a4.3 4.3 0 1 0-8.6 0M853.6 911.5a4.3 4.3 0 1 0 8.6 0a4.3 4.3 0 1 0-8.6 0M982.8 911.5a4.3 4.3 0 1 0 8.6 0a4.3 4.3 0 1 0-8.6 0M735.2 922.0a4.3 4.3 0 1 0 8.6 0a4.3 4.3 0 1 0-8.6 0M702.9 964.0a4.3 4.3 0 1 0 8.6 0a4.3 4.3 0 1 0-8.6 0M993.6 964.0a4.3 4.3 0 1 0 8.6 0a4.3 4.3 0 1 0-8.6 0M950.5 985.0a4.3 4.3 0 1 0 8.6 0a4.3 4.3 0 1 0-8.6 0M950.5 995.5a4.3 4.3 0 1 0 8.6 0a4.3 4.3 0 1 0-8.6 0M1004.3 995.5a4.3 4.3 0 1 0 8.6 0a4.3 4.3 0 1 0-8.6 0M832.1 1006.0a4.3 4.3 0 1 0 8.6 0a4.3 4.3 0 1 0-8.6 0M692.1 1016.5a4.3 4.3 0 1 0 8.6 0a4.3 4.3 0 1 0-8.6 0M821.3 1037.5a4.3 4.3 0 1 0 8.6 0a4.3 4.3 0 1 0-8.6 0M1079.7 1037.5a4.3 4.3 0 1 0 8.6 0a4.3 4.3 0 1 0-8.6 0M993.6 1047.9a4.3 4.3 0 1 0 8.6 0a4.3 4.3 0 1 0-8.6 0M993.6 1110.9a4.3 4.3 0 1 0 8.6 0a4.3 4.3 0 1 0-8.6 0" fill="#f09c82"/>
<path d="M692.1 869.5a4.3 4.3 0 1 0 8.6 0a4.3 4.3 0 1 0-8.6 0M875.1 974.5a4.3 4.3 0 1 0 8.6 0a4.3 4.3 0 1 0-8.6 0M1058.2 1037.5a4.3 4.3 0 1 0 8.6 0a4.3 4.3 0 1 0-8.6 0" fill="#e98871"/>
<path d="M1047.4 722.6a4.3 4.3 0 1 0 8.6 0a4.3 4.3 0 1 0-8.6 0M1090.5 722.6a4.3 4.3 0 1 0 8.6 0a4.3 4.3 0 1 0-8.6 0M821.3 733.1a4.3 4.3 0 1 0 8.6 0a4.3 4.3 0 1 0-8.6 0M821.3 743.6a4.3 4.3 0 1 0 8.6 0a4.3 4.3 0 1 0-8.6 0M692.1 754.1a4.3 4.3 0 1 0 8.6 0a4.3 4.3 0 1 0-8.6 0M821.3 754.1a4.3 4.3 0 1 0 8.6 0a4.3 4.3 0 1 0-8.6 0M681.3 764.6a4.3 4.3 0 1 0 8.6 0a4.3 4.3 0 1 0-8.6 0M692.1 775.1a4.3 4.3 0 1 0 8.6 0a4.3 4.3 0 1 0-8.6 0M702.9 775.1a4.3 4.3 0 1 0 8.6 0a4.3 4.3 0 1 0-8.6 0M692.1 785.6a4.3 4.3 0 1 0 8.6 0a4.3 4.3 0 1 0-8.6 0M745.9 817.1a4.3 4.3 0 1 0 8.6 0a4.3 4.3 0 1 0-8.6 0M767.5 817.1a4.3 4.3 0 1 0 8.6 0a4.3 4.3 0 1 0-8.6 0M799.8 817.1a4.3 4.3 0 1 0 8.6 0a4.3 4.3 0 1 0-8.6 0M821.3 817.1a4.3 4.3 0 1 0 8.6 0a4.3 4.3 0 1 0-8.6 0M864.4 817.1a4.3 4.3 0 1 0 8.6 0a4.3 4.3 0 1 0-8.6 0M885.9 817.1a4.3 4.3 0 1 0 8.6 0a4.3 4.3 0 1 0-8.6 0M972.0 827.5a4.3 4.3 0 1 0 8.6 0a4.3 4.3 0 1 0-8.6 0M929.0 848.5a4.3 4.3 0 1 0 8.6 0a4.3 4.3 0 1 0-8.6 0M713.6 880.0a4.3 4.3 0 1 0 8.6 0a4.3 4.3 0 1 0-8.6 0M832.1 880.0a4.3 4.3 0 1 0 8.6 0a4.3 4.3 0 1 0-8.6 0M735.2 911.5a4.3 4.3 0 1 0 8.6 0a4.3 4.3 0 1 0-8.6 0M842.8 911.5a4.3 4.3 0 1 0 8.6 0a4.3 4.3 0 1 0-8.6 0M1090.5 911.5a4.3 4.3 0 1 0 8.6 0a4.3 4.3 0 1 0-8.6 0M950.5 932.5a4.3 4.3 0 1 0 8.6 0a4.3 4.3 0 1 0-8.6 0M875.1 964.0a4.3 4.3 0 1 0 8.6 0a4.3 4.3 0 1 0-8.6 0M702.9 974.5a4.3 4.3 0 1 0 8.6 0a4.3 4.3 0 1 0-8.6 0M713.6 974.5a4.3 4.3 0 1 0 8.6 0a4.3 4.3 0 1 0-8.6 0M724.4 985.0a4.3 4.3 0 1 0 8.6 0a4.3 4.3 0 1 0-8.6 0M670.6 1006.0a4.3 4.3 0 1 0 8.6 0a4.3 4.3 0 1 0-8.6 0M767.5 1027.0a4.3 4.3 0 1 0 8.6 0a4.3 4.3 0 1 0-8.6 0M1090.5 1027.0a4.3 4.3 0 1 0 8.6 0a4.3 4.3 0 1 0-8.6 0M692.1 1037.5a4.3 4.3 0 1 0 8.6 0a4.3 4.3 0 1 0-8.6 0M670.6 1079.4a4.3 4.3 0 1 0 8.6 0a4.3 4.3 0 1 0-8.6 0M659.8 1089.9a4.3 4.3 0 1 0 8.6 0a4.3 4.3 0 1 0-8.6 0" fill="#e47e6a"/>
<path d="M896.7 722.6a4.3 4.3 0 1 0 8.6 0a4.3 4.3 0 1 0-8.6 0M875.1 733.1a4.3 4.3 0 1 0 8.6 0a4.3 4.3 0 1 0-8.6 0M939.7 754.1a4.3 4.3 0 1 0 8.6 0a4.3 4.3 0 1 0-8.6 0M702.9 785.6a4.3 4.3 0 1 0 8.6 0a4.3 4.3 0 1 0-8.6 0M896.7 806.6a4.3 4.3 0 1 0 8.6 0a4.3 4.3 0 1 0-8.6 0M821.3 827.5a4.3 4.3 0 1 0 8.6 0a4.3 4.3 0 1 0-8.6 0M1090.5 869.5a4.3 4.3 0 1 0 8.6 0a4.3 4.3 0 1 0-8.6 0M1090.5 880.0a4.3 4.3 0 1 0 8.6 0a4.3 4.3 0 1 0-8.6 0M961.3 901.0a4.3 4.3 0 1 0 8.6 0a4.3 4.3 0 1 0-8.6 0M1058.2 901.0a4.3 4.3 0 1 0 8.6 0a4.3 4.3 0 1 0-8.6 0M950.5 911.5a4.3 4.3 0 1 0 8.6 0a4.3 4.3 0 1 0-8.6 0M993.6 911.5a4.3 4.3 0 1 0 8.6 0a4.3 4.3 0 1 0-8.6 0M1036.6 911.5a4.3 4.3 0 1 0 8.6 0a4.3 4.3 0 1 0-8.6 0M745.9 932.5a4.3 4.3 0 1 0 8.6 0a4.3 4.3 0 1 0-8.6 0M982.8 953.5a4.3 4.3 0 1 0 8.6 0a4.3 4.3 0 1 0-8.6 0M799.8 964.0a4.3 4.3 0 1 0 8.6 0a4.3 4.3 0 1 0-8.6 0M982.8 964.0a4.3 4.3 0 1 0 8.6 0a4.3 4.3 0 1 0-8.6 0M1047.4 964.0a4.3 4.3 0 1 0 8.6 0a4.3 4.3 0 1 0-8.6 0M1036.6 974.5a4.3 4.3 0 1 0 8.6 0a4.3 4.3 0 1 0-8.6 0M713.6 985.0a4.3 4.3 0 1 0 8.6 0a4.3 4.3 0 1 0-8.6 0M1025.9 995.5a4.3 4.3 0 1 0 8.6 0a4.3 4.3 0 1 0-8.6 0M756.7 1027.0a4.3 4.3 0 1 0 8.6 0a4.3 4.3 0 1 0-8.6 0M982.8 1037.5a4.3 4.3 0 1 0 8.6 0a4.3 4.3 0 1 0-8.6 0M1090.5 1037.5a4.3 4.3 0 1 0 8.6 0a4.3 4.3 0 1 0-8.6 0M767.5 1068.9a4.3 4.3 0 1 0 8.6 0a4.3 4.3 0 1 0-8.6 0M778.2 1068.9a4.3 4.3 0 1 0 8.6 0a4.3 4.3 0 1 0-8.6 0M1025.9 1068.9a4.3 4.3 0 1 0 8.6 0a4.3 4.3 0 1 0-8.6 0M670.6 1089.9a4.3 4.3 0 1 0 8.6 0a4.3 4.3 0 1 0-8.6 0M982.8 1110.9a4.3 4.3 0 1 0 8.6 0a4.3 4.3 0 1 0-8.6 0" fill="#df7262"/>
<path d="M875.1 722.6a4.3 4.3 0 1 0 8.6 0a4.3 4.3 0 1 0-8.6 0M885.9 722.6a4.3 4.3 0 1 0 8.6 0a4.3 4.3 0 1 0-8.6 0M885.9 733.1a4.3 4.3 0 1 0 8.6 0a4.3 4.3 0 1 0-8.6 0M1047.4 733.1a4.3 4.3 0 1 0 8.6 0a4.3 4.3 0 1 0-8.6 0M692.1 764.6a4.3 4.3 0 1 0 8.6 0a4.3 4.3 0 1 0-8.6 0M810.5 817.1a4.3 4.3 0 1 0 8.6 0a4.3 4.3 0 1 0-8.6 0M972.0 838.0a4.3 4.3 0 1 0 8.6 0a4.3 4.3 0 1 0-8.6 0M982.8 838.0a4.3 4.3 0 1 0 8.6 0a4.3 4.3 0 1 0-8.6 0M702.9 880.0a4.3 4.3 0 1 0 8.6 0a4.3 4.3 0 1 0-8.6 0M745.9 880.0a4.3 4.3 0 1 0 8.6 0a4.3 4.3 0 1 0-8.6 0M1058.2 911.5a4.3 4.3 0 1 0 8.6 0a4.3 4.3 0 1 0-8.6 0M681.3 932.5a4.3 4.3 0 1 0 8.6 0a4.3 4.3 0 1 0-8.6 0M735.2 932.5a4.3 4.3 0 1 0 8.6 0a4.3 4.3 0 1 0-8.6 0M993.6 953.5a4.3 4.3 0 1 0 8.6 0a4.3 4.3 0 1 0-8.6 0M832.1 964.0a4.3 4.3 0 1 0 8.6 0a4.3 4.3 0 1 0-8.6 0M1036.6 964.0a4.3 4.3 0 1 0 8.6 0a4.3 4.3 0 1 0-8.6 0M1047.4 974.5a4.3 4.3 0 1 0 8.6 0a4.3 4.3 0 1 0-8.6 0M1015.1 1068.9a4.3 4.3 0 1 0 8.6 0a4.3 4.3 0 1 0-8.6 0" fill="#d9675b"/>
</g>
<defs><radialGradient id="ghd2"><stop offset="0" stop-color="#fff" stop-opacity="0.3"/><stop offset="1" stop-color="#fff" stop-opacity="0"/></radialGradient><pattern id="phd2" x="658.72" y="717.35" width="10.767" height="10.495" patternUnits="userSpaceOnUse"><circle cx="5.38" cy="5.25" r="2.6" fill="url(#ghd2)"/></pattern></defs>
<rect x="658.7" y="717.4" width="441.4" height="409.3" fill="url(#phd2)"/>
<rect x="794" y="1133.8" width="323.5" height="39.6" fill="#e2e2e2" fill-opacity="0.87"/>
<rect x="650.5" y="1140.9" width="132.2" height="27.1" fill="#fff"/>
<text x="715.7" y="1160.3" font-size="25.6" text-anchor="middle">5nm</text>
<text x="955.6" y="1160.3" font-size="25.6" text-anchor="middle">x=0.36: [001] zone axis</text>
<rect x="644.8000000000001" y="704.4" width="473.2" height="469.4" fill="none" stroke="#000" stroke-width="2"/>
<ellipse cx="708.7" cy="778.5" rx="47.6" ry="47.2" fill="none" stroke="#ffff00" stroke-width="4"/>
<ellipse cx="823.9" cy="746.8" rx="18.3" ry="29.6" fill="none" stroke="#ffff00" stroke-width="4"/>
<ellipse cx="886" cy="732.7" rx="24" ry="23.8" fill="none" stroke="#ffff00" stroke-width="4"/>
<ellipse cx="1069.3" cy="749.3" rx="43.5" ry="43.2" fill="none" stroke="#ffff00" stroke-width="4"/>
<ellipse cx="866.2" cy="822.6" rx="76" ry="34.9" fill="none" stroke="#ffff00" stroke-width="4"/>
<ellipse cx="1091.1" cy="868.4" rx="15.9" ry="15.9" fill="none" stroke="#ffff00" stroke-width="4"/>
<ellipse cx="749.2" cy="974.9" rx="66.3" ry="66.1" fill="none" stroke="#ffff00" stroke-width="4"/>
<ellipse cx="883.1" cy="961.8" rx="59.9" ry="35.2" fill="none" stroke="#ffff00" stroke-width="4"/>
<ellipse cx="1030.1" cy="963.6" rx="52" ry="52" fill="none" stroke="#ffff00" stroke-width="4"/>
<ellipse cx="735.1" cy="1084.1" rx="76.3" ry="34.9" fill="none" stroke="#ffff00" stroke-width="4"/>
<ellipse cx="1001.2" cy="1073.6" rx="52" ry="52" fill="none" stroke="#ffff00" stroke-width="4"/>
<defs><linearGradient id="cbcoolwarm" x1="0" y1="0" x2="0" y2="1"><stop offset="0.0000" stop-color="#6270cd"/><stop offset="0.0625" stop-color="#7186df"/><stop offset="0.1250" stop-color="#819bee"/><stop offset="0.1875" stop-color="#92aff9"/><stop offset="0.2500" stop-color="#a4c0fe"/><stop offset="0.3125" stop-color="#b6ceff"/><stop offset="0.3750" stop-color="#c7d9fa"/><stop offset="0.4375" stop-color="#d6e0f1"/><stop offset="0.5000" stop-color="#e4e3e3"/><stop offset="0.5625" stop-color="#f0dbd0"/><stop offset="0.6250" stop-color="#f7cfbd"/><stop offset="0.6875" stop-color="#f9c0a8"/><stop offset="0.7500" stop-color="#f6ad94"/><stop offset="0.8125" stop-color="#ef9781"/><stop offset="0.8750" stop-color="#e47f6f"/><stop offset="0.9375" stop-color="#d4625f"/><stop offset="1.0000" stop-color="#c33652"/></linearGradient></defs>
<rect x="1154.55" y="704.45" width="23.40" height="469.50" fill="url(#cbcoolwarm)" stroke="#000" stroke-width="1.3"/>
<text x="1194.6" y="711.4" font-size="19.5" style="font-family:'DejaVu Sans',sans-serif">0.5</text>
<text x="1194.6" y="805.3" font-size="19.5" style="font-family:'DejaVu Sans',sans-serif">0.4</text>
<text x="1194.6" y="899.2" font-size="19.5" style="font-family:'DejaVu Sans',sans-serif">0.3</text>
<text x="1194.6" y="993.1" font-size="19.5" style="font-family:'DejaVu Sans',sans-serif">0.2</text>
<text x="1194.6" y="1087.0" font-size="19.5" style="font-family:'DejaVu Sans',sans-serif">0.1</text>
<text x="1194.6" y="1180.9" font-size="19.5" style="font-family:'DejaVu Sans',sans-serif">0.0</text>
<path d="M1177.95 704.4h8.1M1177.95 798.3h8.1M1177.95 892.2h8.1M1177.95 986.1h8.1M1177.95 1080.0h8.1M1177.95 1173.9h8.1" stroke="#000" stroke-width="1.3"/>
<text x="1232.5" y="942.4" font-size="25.6" text-anchor="middle" transform="rotate(90 1232.5 942.4)">Normalized polar length</text>
<defs><radialGradient id="ea"><stop offset="0" stop-color="#fff" stop-opacity=".92"/><stop offset="0.38" stop-color="#ddd" stop-opacity=".66"/><stop offset="0.7" stop-color="#999" stop-opacity=".28"/><stop offset="1" stop-color="#888" stop-opacity="0"/></radialGradient><radialGradient id="eb"><stop offset="0" stop-color="#fff" stop-opacity=".2"/><stop offset="1" stop-color="#fff" stop-opacity="0"/></radialGradient><pattern id="pte" x="1289.72" y="659.28" width="12.552" height="17.85" patternUnits="userSpaceOnUse"><rect width="12.552" height="17.85" fill="#101010"/><ellipse cx="6.28" cy="8.93" rx="7" ry="5.5" fill="url(#eb)"/><circle cx="6.28" cy="8.93" r="4.2" fill="url(#ea)"/><circle cx="6.28" cy="0" r="3" fill="url(#eb)"/><circle cx="6.28" cy="17.85" r="3" fill="url(#eb)"/><circle cx="0" cy="8.93" r="3" fill="url(#eb)"/><circle cx="12.552" cy="8.93" r="3" fill="url(#eb)"/></pattern><clipPath id="cle"><rect x="1283.0" y="661.4" width="547.0" height="542.1"/></clipPath><filter id="nz" x="0" y="0" width="100%" height="100%" color-interpolation-filters="sRGB"><feTurbulence type="fractalNoise" baseFrequency="0.55" numOctaves="2" seed="5" result="t"/><feColorMatrix in="t" type="matrix" values="0 0 0 0 1  0 0 0 0 1  0 0 0 0 1  1.1 0 0 0 -0.42"/></filter></defs>
<rect x="1283.0" y="661.4" width="547.0" height="542.1" fill="url(#pte)"/>
<rect x="1283.0" y="661.4" width="547.0" height="542.1" filter="url(#nz)" opacity="0.4"/>
<g clip-path="url(#cle)">
<path d="M1370.9 685.2L1374.9 683.5L1373.1 682.3L1380.2 682.1L1375.3 687.2L1375.6 685.1L1371.7 686.9zM1370.8 721.0L1374.1 718.4L1372.1 717.6L1378.9 715.7L1375.5 721.9L1375.2 719.8L1371.9 722.5zM1409.0 792.3L1414.3 792.4L1413.3 790.6L1419.7 793.5L1413.1 796.0L1414.2 794.2L1408.9 794.0zM1585.5 899.8L1588.0 904.5L1589.0 902.7L1589.7 909.7L1584.3 905.2L1586.4 905.4L1583.9 900.7zM1559.3 917.3L1563.4 915.7L1561.7 914.4L1568.8 914.5L1563.7 919.4L1564.0 917.3L1559.9 918.9zM1508.5 1114.7L1507.3 1109.7L1505.8 1111.2L1506.8 1104.3L1511.0 1109.9L1509.0 1109.3L1510.3 1114.2z" fill="#7019ff"/>
<path d="M1358.2 685.3L1362.5 682.3L1360.6 681.5L1367.5 679.9L1363.7 685.9L1363.6 683.8L1359.3 686.8zM1359.5 704.4L1356.8 708.2L1358.9 708.4L1352.9 712.1L1354.5 705.3L1355.3 707.2L1358.0 703.4zM1384.6 703.4L1387.3 708.0L1388.3 706.2L1389.3 713.1L1383.7 708.9L1385.8 708.9L1383.1 704.4zM1309.4 721.5L1311.0 726.8L1312.4 725.2L1311.7 732.2L1307.2 726.7L1309.3 727.3L1307.7 722.0zM1345.4 722.1L1343.7 718.0L1342.4 719.7L1342.4 712.7L1347.4 717.6L1345.3 717.3L1347.0 721.4zM1358.7 720.9L1363.2 720.7L1362.0 718.9L1368.6 721.4L1362.2 724.3L1363.3 722.5L1358.8 722.6zM1320.2 739.4L1321.2 735.2L1319.2 735.9L1323.2 730.1L1324.5 737.0L1322.9 735.6L1322.0 739.8zM1420.9 810.4L1425.0 806.3L1422.9 805.8L1429.4 803.2L1426.7 809.7L1426.2 807.6L1422.2 811.6zM1571.5 899.7L1574.5 896.3L1572.4 895.9L1578.7 892.8L1576.4 899.5L1575.8 897.5L1572.8 900.8zM1572.6 917.3L1576.4 919.5L1576.3 917.4L1580.5 923.1L1573.6 922.1L1575.4 921.1L1571.7 918.9zM1584.4 935.1L1589.4 933.2L1587.7 931.9L1594.8 932.1L1589.6 937.0L1590.0 934.9L1585.0 936.8zM1747.1 1060.5L1749.8 1055.3L1747.7 1055.4L1753.1 1050.9L1752.5 1057.9L1751.4 1056.1L1748.7 1061.3zM1772.1 1060.8L1772.9 1055.6L1771.0 1056.4L1774.7 1050.5L1776.3 1057.3L1774.7 1055.9L1773.9 1061.0zM1772.1 1078.4L1774.3 1072.9L1772.3 1073.3L1777.2 1068.2L1777.3 1075.3L1776.0 1073.6L1773.8 1079.1zM1772.1 1097.0L1769.9 1091.7L1768.7 1093.4L1768.6 1086.4L1773.7 1091.3L1771.6 1091.0L1773.8 1096.2zM1496.6 1113.6L1502.0 1111.9L1500.5 1110.5L1507.5 1111.2L1502.0 1115.7L1502.6 1113.7L1497.1 1115.3zM1408.5 1131.5L1413.3 1129.0L1411.5 1127.9L1418.5 1127.3L1414.0 1132.7L1414.2 1130.6L1409.4 1133.1zM1421.0 1131.6L1424.6 1128.9L1422.7 1128.1L1429.5 1126.5L1425.8 1132.5L1425.7 1130.4L1422.0 1133.0zM1634.3 1133.0L1630.8 1129.7L1630.4 1131.8L1627.5 1125.4L1634.1 1127.8L1632.1 1128.4L1635.5 1131.6z" fill="#6032fe"/>
<path d="M1345.3 686.1L1344.9 679.4L1343.2 680.6L1345.4 673.9L1348.5 680.2L1346.7 679.2L1347.1 686.0zM1322.0 721.9L1321.1 727.1L1323.1 726.4L1319.3 732.3L1317.7 725.5L1319.3 726.9L1320.2 721.6zM1420.8 774.7L1424.4 770.5L1422.3 770.2L1428.6 767.0L1426.4 773.7L1425.8 771.7L1422.2 775.9zM1434.9 792.7L1437.0 796.5L1438.0 794.7L1438.9 801.6L1433.3 797.3L1435.4 797.4L1433.3 793.6zM1445.8 792.8L1447.7 787.7L1445.6 788.1L1450.4 782.9L1450.7 789.9L1449.4 788.3L1447.5 793.5zM1597.5 935.1L1604.0 936.6L1603.3 934.6L1609.0 938.7L1602.1 939.9L1603.6 938.4L1597.0 936.8zM1759.7 1042.5L1763.5 1037.2L1761.4 1037.0L1767.4 1033.3L1765.8 1040.1L1765.0 1038.2L1761.2 1043.6zM1772.2 1042.7L1774.3 1038.2L1772.2 1038.4L1777.5 1033.7L1777.1 1040.8L1775.9 1039.0L1773.8 1043.4zM1784.6 1060.8L1785.4 1055.4L1783.5 1056.2L1787.1 1050.2L1788.8 1057.0L1787.2 1055.7L1786.4 1061.0zM1797.4 1078.2L1802.2 1072.5L1800.1 1072.2L1806.3 1069.0L1804.2 1075.7L1803.5 1073.7L1798.8 1079.3zM1496.8 1095.7L1502.1 1095.2L1500.9 1093.5L1507.6 1095.7L1501.3 1098.9L1502.3 1097.0L1496.9 1097.5zM1621.5 1132.0L1623.2 1126.5L1621.2 1127.0L1625.7 1121.6L1626.3 1128.7L1625.0 1127.1L1623.2 1132.6z" fill="#504afc"/>
<path d="M1383.3 685.3L1389.3 680.7L1387.3 680.0L1394.1 678.1L1390.6 684.2L1390.4 682.1L1384.4 686.8zM1320.7 703.1L1327.9 699.8L1326.2 698.6L1333.2 698.4L1328.4 703.5L1328.7 701.4L1321.5 704.7zM1396.0 722.6L1389.7 719.3L1389.8 721.4L1385.3 716.1L1392.3 716.6L1390.5 717.7L1396.8 720.9zM1383.5 738.8L1390.1 735.7L1388.4 734.5L1395.4 734.2L1390.7 739.4L1390.9 737.3L1384.2 740.4zM1346.6 756.6L1353.3 759.9L1353.1 757.8L1357.7 763.1L1350.7 762.7L1352.5 761.5L1345.8 758.3zM1546.5 899.5L1552.8 894.7L1550.8 893.9L1557.6 892.1L1554.1 898.2L1553.9 896.1L1547.6 901.0zM1584.5 917.2L1592.0 915.6L1590.6 914.1L1597.5 915.4L1591.7 919.4L1592.4 917.4L1584.9 919.0zM1609.1 917.5L1614.2 911.9L1612.2 911.5L1618.5 908.5L1616.1 915.2L1615.6 913.1L1610.5 918.7zM1571.3 936.3L1568.4 929.2L1567.1 930.9L1567.1 923.9L1572.1 928.8L1570.0 928.5L1573.0 935.6zM1610.5 935.4L1615.0 941.4L1615.7 939.4L1617.4 946.3L1611.4 942.7L1613.5 942.5L1609.1 936.5zM1572.2 952.9L1580.2 953.7L1579.3 951.8L1585.5 955.2L1578.8 957.2L1580.0 955.5L1572.1 954.7zM1598.0 953.3L1601.9 959.2L1602.8 957.3L1604.1 964.2L1598.2 960.3L1600.3 960.2L1596.5 954.3zM1734.5 1060.6L1736.7 1054.1L1734.7 1054.5L1739.4 1049.3L1739.8 1056.3L1738.4 1054.7L1736.2 1061.2zM1497.2 1077.9L1503.3 1080.9L1503.1 1078.8L1507.7 1084.1L1500.7 1083.7L1502.5 1082.5L1496.4 1079.6zM1734.4 1078.7L1734.9 1070.5L1733.1 1071.5L1736.2 1065.1L1738.5 1071.8L1736.7 1070.6L1736.2 1078.8zM1759.6 1078.3L1763.0 1071.9L1760.9 1072.0L1766.2 1067.5L1765.7 1074.5L1764.6 1072.7L1761.2 1079.2zM1521.8 1095.7L1529.8 1094.9L1528.5 1093.2L1535.3 1095.2L1529.1 1098.5L1530.0 1096.6L1522.0 1097.5zM1785.0 1095.9L1790.4 1091.6L1788.5 1090.9L1795.2 1089.0L1791.8 1095.1L1791.5 1093.0L1786.1 1097.3zM1483.9 1113.7L1490.1 1110.3L1488.3 1109.2L1495.3 1108.6L1490.8 1114.0L1491.0 1111.9L1484.7 1115.2zM1609.8 1149.3L1616.5 1149.0L1615.3 1147.3L1621.9 1149.8L1615.5 1152.7L1616.5 1150.8L1609.8 1151.0z" fill="#4062fa"/>
<path d="M1345.7 703.2L1351.1 698.9L1349.1 698.2L1355.9 696.3L1352.4 702.5L1352.2 700.4L1346.8 704.6zM1395.7 703.4L1400.3 696.9L1398.2 696.8L1404.2 693.1L1402.6 699.9L1401.8 698.0L1397.1 704.4zM1383.5 722.6L1376.2 719.5L1376.5 721.6L1371.5 716.7L1378.6 716.6L1376.9 717.9L1384.2 720.9zM1307.7 739.9L1305.6 732.8L1304.2 734.3L1304.9 727.3L1309.4 732.8L1307.3 732.2L1309.4 739.3zM1359.5 739.0L1363.8 744.6L1364.6 742.6L1366.5 749.4L1360.3 745.9L1362.4 745.7L1358.1 740.2zM1371.9 739.0L1377.4 744.4L1377.9 742.4L1380.6 748.9L1374.1 746.2L1376.2 745.7L1370.7 740.2zM1370.5 757.0L1374.8 750.0L1372.6 750.0L1378.3 745.8L1377.3 752.8L1376.3 750.9L1372.1 757.9zM1408.5 774.5L1414.4 771.2L1412.5 770.2L1419.5 769.4L1415.2 774.9L1415.3 772.8L1409.4 776.1zM1421.1 792.4L1427.4 788.7L1425.5 787.7L1432.5 786.8L1428.3 792.4L1428.3 790.3L1422.0 793.9zM1409.4 810.2L1415.2 813.4L1415.1 811.3L1419.5 816.8L1412.5 816.0L1414.3 815.0L1408.5 811.8zM1433.5 810.3L1439.1 806.2L1437.1 805.4L1444.0 803.7L1440.3 809.7L1440.2 807.6L1434.6 811.7zM1558.9 900.8L1554.5 895.7L1553.8 897.7L1551.6 891.0L1557.9 894.1L1555.8 894.5L1560.3 899.7zM1596.5 917.6L1600.3 911.4L1598.2 911.4L1603.9 907.2L1602.8 914.2L1601.8 912.3L1598.0 918.6zM1785.0 1042.3L1791.7 1037.6L1789.7 1036.8L1796.6 1035.2L1792.9 1041.2L1792.7 1039.1L1786.0 1043.8zM1484.4 1095.7L1491.0 1096.5L1490.1 1094.5L1496.2 1098.0L1489.5 1099.9L1490.8 1098.3L1484.2 1097.5zM1509.3 1095.7L1517.3 1094.6L1516.0 1093.0L1522.8 1094.8L1516.7 1098.3L1517.6 1096.4L1509.5 1097.5zM1747.0 1096.9L1744.4 1089.9L1743.1 1091.5L1743.3 1084.5L1748.2 1089.7L1746.1 1089.3L1748.7 1096.3zM1408.8 1113.6L1416.1 1111.8L1414.6 1110.3L1421.6 1111.4L1415.9 1115.5L1416.6 1113.5L1409.2 1115.3zM1610.1 1113.6L1617.4 1116.2L1617.0 1114.2L1622.2 1118.9L1615.2 1119.2L1616.8 1117.9L1609.5 1115.3zM1646.7 1114.0L1650.5 1107.4L1648.4 1107.4L1653.9 1103.1L1653.1 1110.1L1652.0 1108.3L1648.2 1114.9zM1408.1 1150.5L1404.9 1143.2L1403.7 1145.0L1403.5 1137.9L1408.6 1142.8L1406.5 1142.5L1409.8 1149.8zM1634.0 1150.0L1635.6 1142.1L1633.7 1142.8L1637.6 1137.0L1638.9 1143.9L1637.4 1142.4L1635.8 1150.3z" fill="#3079f7"/>
<path d="M1321.2 685.2L1329.1 686.1L1328.3 684.2L1334.4 687.6L1327.6 689.5L1328.9 687.9L1321.0 686.9zM1334.5 703.5L1338.2 710.9L1339.3 709.1L1339.8 716.1L1334.5 711.5L1336.6 711.7L1332.9 704.3zM1333.3 720.9L1341.0 717.9L1339.4 716.7L1346.4 716.8L1341.3 721.7L1341.7 719.6L1334.0 722.6zM1409.6 721.1L1414.3 726.2L1414.9 724.2L1417.3 730.8L1410.9 727.9L1413.0 727.5L1408.3 722.4zM1295.4 738.9L1301.0 733.7L1298.9 733.2L1305.5 730.7L1302.6 737.1L1302.2 735.0L1296.6 740.3zM1346.0 738.7L1353.4 737.1L1352.0 735.6L1358.9 736.8L1353.1 740.8L1353.8 738.8L1346.4 740.5zM1358.7 756.6L1366.5 755.6L1365.2 754.0L1371.9 755.9L1365.8 759.3L1366.7 757.4L1358.9 758.3zM1421.0 756.7L1426.7 752.7L1424.8 751.9L1431.7 750.4L1427.9 756.3L1427.7 754.2L1422.0 758.2zM1396.0 774.5L1402.9 771.3L1401.2 770.1L1408.2 769.8L1403.5 775.0L1403.7 772.9L1396.8 776.1zM1445.9 774.7L1450.4 769.4L1448.3 769.1L1454.5 765.8L1452.4 772.6L1451.7 770.6L1447.3 775.9zM1396.3 792.3L1403.8 791.5L1402.5 789.8L1409.3 791.8L1403.1 795.2L1404.0 793.2L1396.5 794.0zM1596.4 900.2L1597.0 892.2L1595.1 893.2L1598.3 886.9L1600.5 893.6L1598.8 892.4L1598.1 900.3zM1609.0 900.6L1605.9 893.5L1604.6 895.2L1604.5 888.2L1609.6 893.0L1607.5 892.7L1610.6 899.9zM1546.9 935.1L1553.9 933.9L1552.6 932.3L1559.4 934.0L1553.4 937.7L1554.2 935.7L1547.2 936.8zM1559.6 935.1L1566.7 935.2L1565.6 933.4L1572.0 936.3L1565.5 938.8L1566.6 937.0L1559.6 936.8zM1621.7 935.3L1626.1 930.5L1624.0 930.1L1630.4 927.1L1628.0 933.8L1627.4 931.7L1623.0 936.6zM1759.5 1025.0L1761.2 1017.9L1759.2 1018.6L1763.3 1012.9L1764.4 1019.8L1762.9 1018.3L1761.3 1025.4zM1734.4 1043.2L1733.5 1036.1L1731.9 1037.4L1733.8 1030.7L1737.3 1036.8L1735.3 1035.9L1736.2 1042.9zM1484.3 1077.9L1491.7 1077.7L1490.6 1075.9L1497.1 1078.4L1490.7 1081.3L1491.8 1079.5L1484.3 1079.6zM1785.3 1079.6L1778.6 1078.0L1779.2 1080.0L1773.5 1075.9L1780.5 1074.8L1779.0 1076.2L1785.7 1077.9zM1396.0 1113.7L1402.7 1110.0L1400.9 1109.0L1407.9 1108.3L1403.5 1113.7L1403.6 1111.6L1396.8 1115.2zM1421.4 1113.6L1428.3 1112.4L1426.9 1110.8L1433.7 1112.4L1427.8 1116.1L1428.6 1114.2L1421.7 1115.3zM1396.0 1131.5L1402.0 1128.8L1400.3 1127.6L1407.3 1127.4L1402.5 1132.5L1402.8 1130.4L1396.8 1133.1zM1596.7 1131.6L1603.4 1126.9L1601.5 1126.0L1608.3 1124.5L1604.6 1130.5L1604.4 1128.3L1597.8 1133.0zM1609.1 1131.7L1614.4 1125.9L1612.3 1125.5L1618.7 1122.5L1616.3 1129.2L1615.7 1127.1L1610.5 1132.9zM1647.3 1151.0L1640.5 1150.2L1641.3 1152.1L1635.2 1148.6L1642.0 1146.7L1640.7 1148.4L1647.6 1149.3zM1634.1 1167.6L1637.4 1160.6L1635.3 1160.8L1640.5 1156.1L1640.2 1163.1L1639.0 1161.4L1635.7 1168.4zM1370.6 1185.3L1374.4 1180.0L1372.3 1179.9L1378.4 1176.2L1376.7 1183.1L1375.9 1181.1L1372.0 1186.4zM1659.1 1185.8L1659.1 1178.1L1657.3 1179.1L1660.1 1172.7L1662.7 1179.2L1660.9 1178.1L1660.9 1185.9z" fill="#208ef4"/>
<path d="M1308.0 685.4L1313.6 680.5L1311.6 679.9L1318.2 677.7L1315.1 684.0L1314.7 681.9L1309.1 686.7zM1333.2 685.3L1339.5 681.2L1337.5 680.3L1344.5 678.9L1340.5 684.8L1340.4 682.7L1334.2 686.8zM1396.0 685.2L1402.3 682.2L1400.5 681.1L1407.5 680.7L1402.8 685.9L1403.1 683.8L1396.8 686.9zM1370.9 704.7L1363.7 700.6L1363.8 702.7L1359.5 697.1L1366.5 698.0L1364.6 699.0L1371.8 703.1zM1295.7 720.9L1302.2 718.8L1300.6 717.5L1307.6 718.1L1302.2 722.6L1302.7 720.6L1296.3 722.6zM1321.1 756.6L1329.2 756.3L1328.0 754.5L1334.6 757.0L1328.2 759.9L1329.2 758.1L1321.1 758.3zM1384.2 756.6L1391.4 759.5L1391.0 757.4L1396.1 762.3L1389.1 762.4L1390.7 761.1L1383.5 758.3zM1433.2 757.1L1435.7 750.2L1433.7 750.6L1438.4 745.4L1438.8 752.4L1437.4 750.8L1434.9 757.8zM1434.7 774.6L1440.2 779.8L1440.6 777.7L1443.5 784.1L1436.9 781.7L1439.0 781.1L1433.5 776.0zM1558.7 882.2L1560.8 874.9L1558.8 875.4L1563.2 869.9L1564.0 876.9L1562.6 875.4L1560.5 882.6zM1571.3 882.6L1569.3 875.4L1567.9 876.9L1568.8 869.9L1573.1 875.5L1571.0 874.9L1573.0 882.2zM1621.5 917.7L1624.6 910.9L1622.5 911.2L1627.6 906.3L1627.4 913.4L1626.2 911.6L1623.2 918.5zM1559.5 952.9L1566.6 952.4L1565.4 950.7L1572.1 952.9L1565.8 956.1L1566.8 954.2L1559.7 954.7zM1747.0 1043.3L1745.5 1036.6L1743.9 1038.0L1745.1 1031.1L1749.2 1036.8L1747.2 1036.2L1748.7 1042.8zM1797.2 1043.1L1797.1 1035.4L1795.3 1036.5L1797.9 1030.0L1800.7 1036.4L1798.9 1035.3L1799.0 1043.0zM1760.0 1061.7L1753.7 1058.1L1753.8 1060.2L1749.5 1054.6L1756.5 1055.5L1754.6 1056.5L1760.9 1060.1zM1747.4 1079.5L1740.5 1075.2L1740.5 1077.3L1736.4 1071.6L1743.3 1072.7L1741.5 1073.7L1748.3 1078.0zM1809.8 1078.4L1812.4 1071.0L1810.4 1071.4L1815.1 1066.2L1815.5 1073.2L1814.1 1071.6L1811.5 1079.1zM1760.2 1095.7L1767.4 1093.9L1765.9 1092.4L1772.9 1093.4L1767.2 1097.6L1767.9 1095.6L1760.6 1097.5zM1471.6 1113.6L1479.6 1112.7L1478.3 1111.0L1485.0 1113.0L1478.9 1116.4L1479.8 1114.5L1471.8 1115.3zM1596.4 1114.1L1599.7 1107.5L1597.6 1107.7L1602.9 1103.1L1602.4 1110.1L1601.3 1108.3L1598.1 1114.8zM1621.6 1114.0L1625.4 1107.2L1623.3 1107.3L1628.8 1103.0L1628.0 1109.9L1627.0 1108.1L1623.1 1114.9zM1635.8 1114.2L1638.0 1121.6L1639.4 1120.1L1638.7 1127.1L1634.3 1121.6L1636.3 1122.2L1634.0 1114.7zM1747.2 1113.9L1752.0 1107.7L1749.9 1107.5L1756.0 1104.0L1754.1 1110.8L1753.4 1108.8L1748.6 1115.0zM1496.3 1131.6L1502.8 1126.9L1500.9 1126.1L1507.7 1124.5L1504.0 1130.5L1503.8 1128.4L1497.4 1133.0zM1709.3 1132.2L1710.1 1124.3L1708.2 1125.2L1711.5 1119.0L1713.5 1125.8L1711.8 1124.5L1711.1 1132.4zM1395.9 1149.4L1401.9 1144.6L1399.9 1143.9L1406.6 1141.9L1403.3 1148.1L1403.0 1146.0L1397.0 1150.9zM1596.4 1149.8L1599.2 1143.7L1597.1 1144.0L1602.3 1139.2L1602.0 1146.2L1600.9 1144.5L1598.1 1150.5zM1621.5 1149.9L1623.4 1142.7L1621.4 1143.3L1625.6 1137.7L1626.6 1144.6L1625.1 1143.1L1623.2 1150.4zM1558.7 1167.8L1560.7 1160.6L1558.7 1161.2L1563.0 1155.6L1563.9 1162.6L1562.4 1161.1L1560.5 1168.2zM1584.0 1167.5L1588.7 1160.9L1586.6 1160.7L1592.6 1157.0L1591.0 1163.9L1590.2 1161.9L1585.4 1168.5zM1608.9 1167.8L1610.5 1160.8L1608.5 1161.5L1612.5 1155.7L1613.8 1162.7L1612.2 1161.2L1610.7 1168.2zM1621.5 1167.9L1622.6 1160.6L1620.7 1161.4L1624.4 1155.4L1626.0 1162.3L1624.4 1160.9L1623.2 1168.1zM1646.6 1167.8L1648.2 1161.1L1646.2 1161.7L1650.3 1156.0L1651.4 1163.0L1649.9 1161.5L1648.3 1168.2zM1307.7 1185.5L1310.3 1178.4L1308.3 1178.9L1313.1 1173.7L1313.3 1180.7L1312.0 1179.1L1309.4 1186.2zM1508.5 1185.6L1510.2 1179.2L1508.2 1179.8L1512.4 1174.2L1513.4 1181.1L1511.9 1179.6L1510.3 1186.1zM1533.6 1185.7L1534.9 1178.9L1532.9 1179.6L1536.8 1173.7L1538.2 1180.6L1536.7 1179.2L1535.4 1186.0zM1621.5 1185.6L1624.1 1177.9L1622.0 1178.3L1626.6 1173.0L1627.1 1180.0L1625.8 1178.4L1623.2 1186.1z" fill="#10a2f0"/>
<path d="M1295.6 685.2L1302.5 681.9L1300.7 680.7L1307.7 680.3L1303.1 685.6L1303.3 683.5L1296.4 686.9zM1295.6 703.1L1301.4 699.8L1299.6 698.7L1306.6 697.9L1302.3 703.4L1302.3 701.3L1296.4 704.7zM1308.2 703.1L1315.4 699.6L1313.7 698.5L1320.7 698.1L1316.0 703.3L1316.2 701.2L1308.9 704.7zM1408.2 703.4L1412.9 697.1L1410.8 696.9L1416.9 693.3L1415.2 700.1L1414.4 698.1L1409.7 704.4zM1470.9 703.6L1473.9 696.5L1471.8 696.8L1476.8 691.8L1476.8 698.9L1475.5 697.2L1472.6 704.2zM1332.8 739.3L1335.0 732.3L1332.9 732.8L1337.4 727.4L1338.1 734.4L1336.7 732.8L1334.5 739.9zM1396.1 740.4L1390.0 738.1L1390.4 740.1L1385.3 735.3L1392.3 735.1L1390.7 736.4L1396.7 738.8zM1408.6 738.8L1414.9 735.8L1413.1 734.6L1420.1 734.3L1415.4 739.5L1415.7 737.4L1409.4 740.4zM1308.2 756.6L1315.8 753.5L1314.1 752.2L1321.1 752.2L1316.2 757.2L1316.5 755.1L1308.9 758.3zM1333.7 756.6L1341.7 757.3L1340.8 755.4L1347.0 758.7L1340.3 760.8L1341.5 759.1L1333.6 758.3zM1395.9 756.7L1401.6 752.3L1399.6 751.6L1406.4 749.7L1402.9 755.8L1402.7 753.8L1397.0 758.2zM1346.1 774.4L1353.9 773.3L1352.6 771.6L1359.4 773.4L1353.3 777.0L1354.2 775.0L1346.3 776.2zM1458.4 774.9L1461.3 768.2L1459.2 768.5L1464.3 763.6L1464.2 770.7L1463.0 768.9L1460.0 775.7zM1308.5 792.3L1315.3 791.9L1314.1 790.1L1320.7 792.4L1314.4 795.5L1315.4 793.6L1308.6 794.0zM1333.3 792.3L1339.4 789.3L1337.6 788.2L1344.6 787.7L1340.0 793.0L1340.2 790.9L1334.1 794.0zM1371.2 792.3L1377.7 791.3L1376.3 789.7L1383.2 791.4L1377.1 795.0L1377.9 793.1L1371.4 794.0zM1458.4 792.7L1462.8 785.7L1460.7 785.7L1466.5 781.7L1465.3 788.6L1464.3 786.7L1459.9 793.6zM1308.5 810.1L1316.5 810.0L1315.3 808.2L1321.9 810.9L1315.4 813.6L1316.5 811.8L1308.6 811.9zM1333.5 828.0L1339.8 826.6L1338.4 825.1L1345.3 826.4L1339.5 830.4L1340.2 828.4L1333.8 829.7zM1308.3 845.8L1315.5 844.0L1314.0 842.5L1321.0 843.5L1315.4 847.7L1316.0 845.7L1308.8 847.6zM1596.3 882.3L1596.8 874.8L1594.9 875.8L1598.0 869.4L1600.3 876.1L1598.6 874.9L1598.1 882.5zM1546.5 917.4L1552.3 912.8L1550.3 912.1L1557.1 910.2L1553.7 916.3L1553.4 914.2L1547.6 918.8zM1534.7 935.1L1541.8 937.2L1541.3 935.2L1546.8 939.6L1539.8 940.3L1541.3 938.9L1534.2 936.8zM1585.6 953.8L1585.2 961.7L1587.0 960.7L1584.0 967.0L1581.6 960.4L1583.4 961.6L1583.8 953.8zM1722.0 1042.6L1725.2 1036.6L1723.1 1036.7L1728.5 1032.2L1727.9 1039.2L1726.8 1037.4L1723.6 1043.5zM1721.9 1060.6L1724.0 1054.4L1721.9 1054.8L1726.6 1049.5L1727.1 1056.5L1725.7 1054.9L1723.6 1061.2zM1798.4 1061.8L1790.6 1064.4L1792.2 1065.7L1785.2 1065.3L1790.5 1060.6L1790.0 1062.7L1797.8 1060.0zM1721.9 1078.4L1724.7 1071.0L1722.6 1071.4L1727.4 1066.2L1727.7 1073.3L1726.3 1071.6L1723.6 1079.1zM1797.3 1096.1L1801.1 1090.0L1799.0 1090.0L1804.7 1085.8L1803.6 1092.8L1802.6 1090.9L1798.8 1097.1zM1709.3 1114.3L1710.4 1106.4L1708.5 1107.3L1712.0 1101.2L1713.8 1108.0L1712.2 1106.7L1711.1 1114.6zM1772.3 1113.9L1777.2 1107.6L1775.1 1107.4L1781.2 1103.9L1779.3 1110.7L1778.6 1108.7L1773.7 1115.0zM1784.7 1114.2L1786.5 1107.8L1784.5 1108.4L1788.9 1102.9L1789.7 1109.9L1788.2 1108.3L1786.4 1114.7zM1383.8 1131.4L1391.6 1130.8L1390.4 1129.1L1397.1 1131.3L1390.8 1134.5L1391.7 1132.6L1383.9 1133.2zM1433.5 1133.0L1428.5 1128.3L1428.0 1130.4L1425.1 1123.9L1431.7 1126.4L1429.7 1127.0L1434.7 1131.6zM1508.7 1131.8L1512.9 1125.9L1510.8 1125.7L1516.8 1122.0L1515.2 1128.9L1514.4 1126.9L1510.1 1132.8zM1646.7 1131.8L1651.1 1125.5L1649.0 1125.4L1655.0 1121.6L1653.5 1128.5L1652.6 1126.5L1648.2 1132.8zM1659.1 1132.4L1658.1 1124.6L1656.4 1126.0L1658.2 1119.2L1661.8 1125.2L1659.9 1124.4L1660.9 1132.2zM1785.0 1131.6L1790.2 1127.5L1788.3 1126.8L1795.1 1124.9L1791.6 1131.0L1791.3 1128.9L1786.1 1133.0zM1420.8 1150.6L1416.5 1144.2L1415.6 1146.1L1414.3 1139.2L1420.1 1143.1L1418.0 1143.2L1422.3 1149.7zM1671.7 1150.3L1670.6 1142.5L1668.9 1143.9L1670.7 1137.1L1674.3 1143.1L1672.4 1142.3L1673.5 1150.0zM1784.8 1149.6L1789.3 1144.0L1787.2 1143.7L1793.4 1140.3L1791.4 1147.1L1790.7 1145.1L1786.2 1150.7zM1596.4 1167.8L1598.0 1160.5L1596.0 1161.1L1600.1 1155.4L1601.3 1162.3L1599.8 1160.8L1598.1 1168.2zM1696.8 1167.8L1698.0 1161.2L1696.0 1162.0L1699.9 1156.1L1701.4 1163.0L1699.8 1161.6L1698.5 1168.2zM1797.3 1167.5L1801.3 1161.0L1799.2 1161.0L1804.9 1156.9L1803.8 1163.8L1802.8 1161.9L1798.8 1168.5zM1332.9 1185.4L1336.1 1179.6L1334.0 1179.7L1339.6 1175.4L1338.7 1182.4L1337.7 1180.5L1334.4 1186.3zM1345.4 1185.5L1348.2 1178.3L1346.1 1178.7L1351.0 1173.6L1351.1 1180.6L1349.8 1178.9L1347.0 1186.2zM1357.9 1185.5L1360.3 1179.0L1358.3 1179.4L1363.1 1174.2L1363.3 1181.3L1362.0 1179.6L1359.6 1186.2zM1445.8 1185.4L1449.5 1178.4L1447.4 1178.5L1452.8 1174.0L1452.2 1181.0L1451.1 1179.2L1447.4 1186.3zM1458.4 1185.4L1461.7 1178.9L1459.6 1179.0L1465.0 1174.4L1464.4 1181.5L1463.3 1179.7L1460.0 1186.3zM1521.1 1185.5L1524.4 1178.4L1522.3 1178.7L1527.6 1173.9L1527.2 1181.0L1526.1 1179.2L1522.7 1186.2zM1558.7 1185.7L1559.6 1178.2L1557.7 1179.1L1561.1 1173.0L1563.0 1179.8L1561.4 1178.5L1560.5 1186.0zM1571.2 1185.9L1571.0 1178.9L1569.3 1180.1L1571.8 1173.5L1574.7 1179.9L1572.8 1178.9L1573.0 1185.8zM1596.4 1185.6L1598.2 1178.1L1596.2 1178.7L1600.3 1173.0L1601.4 1180.0L1599.9 1178.5L1598.1 1186.1zM1608.9 1185.7L1610.5 1178.2L1608.5 1178.9L1612.6 1173.1L1613.8 1180.0L1612.3 1178.6L1610.7 1186.0zM1634.0 1185.7L1635.0 1178.1L1633.1 1179.0L1636.6 1172.9L1638.4 1179.7L1636.8 1178.3L1635.8 1186.0zM1646.6 1185.7L1647.4 1178.9L1645.5 1179.8L1649.0 1173.6L1650.8 1180.4L1649.2 1179.1L1648.3 1186.0zM1671.7 1186.1L1669.5 1179.4L1668.1 1181.1L1668.6 1174.0L1673.2 1179.3L1671.2 1178.9L1673.4 1185.6zM1696.8 1185.8L1697.1 1179.2L1695.3 1180.2L1698.3 1173.9L1700.7 1180.5L1698.9 1179.3L1698.6 1185.9zM1721.9 1185.9L1721.5 1179.1L1719.7 1180.3L1722.1 1173.6L1725.1 1180.0L1723.3 1179.0L1723.7 1185.8z" fill="#00b5eb"/>
<path d="M1408.6 685.2L1415.0 682.4L1413.3 681.2L1420.3 681.0L1415.5 686.1L1415.7 684.0L1409.3 686.9zM1421.0 703.2L1427.5 698.7L1425.6 697.8L1432.5 696.3L1428.7 702.2L1428.6 700.1L1422.0 704.6zM1421.1 721.0L1427.3 717.6L1425.5 716.6L1432.5 715.8L1428.0 721.3L1428.2 719.2L1421.9 722.5zM1508.6 721.3L1512.5 715.3L1510.4 715.2L1516.1 711.2L1514.9 718.1L1514.0 716.2L1510.1 722.2zM1295.5 756.7L1301.2 752.8L1299.3 752.0L1306.2 750.5L1302.3 756.4L1302.2 754.3L1296.5 758.2zM1408.5 756.7L1415.6 752.5L1413.7 751.5L1420.7 750.5L1416.5 756.1L1416.5 754.0L1409.4 758.2zM1445.9 756.9L1450.9 750.4L1448.8 750.2L1454.9 746.7L1453.1 753.5L1452.3 751.5L1447.3 758.0zM1483.4 757.2L1485.4 750.1L1483.3 750.7L1487.7 745.1L1488.5 752.1L1487.1 750.5L1485.1 757.7zM1308.1 774.5L1314.0 770.9L1312.1 769.9L1319.1 768.8L1314.9 774.5L1314.9 772.4L1309.0 776.1zM1321.0 774.4L1329.1 773.3L1327.7 771.7L1334.5 773.4L1328.5 777.0L1329.3 775.1L1321.2 776.2zM1358.4 774.5L1364.6 772.1L1362.9 770.8L1370.0 771.0L1364.9 775.8L1365.3 773.8L1359.1 776.1zM1383.4 774.5L1390.0 771.1L1388.2 770.0L1395.2 769.4L1390.7 774.8L1390.8 772.7L1384.3 776.1zM1470.9 775.1L1473.1 767.2L1471.1 767.8L1475.4 762.3L1476.3 769.3L1474.8 767.7L1472.6 775.5zM1295.6 792.4L1302.6 788.3L1300.7 787.3L1307.7 786.4L1303.4 792.0L1303.5 789.9L1296.4 793.9zM1320.8 792.3L1327.7 790.0L1326.1 788.7L1333.1 789.2L1327.8 793.8L1328.3 791.7L1321.4 794.0zM1383.8 792.3L1391.3 791.3L1390.0 789.7L1396.7 791.6L1390.6 795.0L1391.5 793.1L1384.0 794.0zM1483.5 792.7L1486.6 786.6L1484.5 786.8L1489.9 782.2L1489.3 789.3L1488.2 787.5L1485.1 793.6zM1333.6 810.1L1340.7 809.7L1339.5 808.0L1346.2 810.3L1339.8 813.4L1340.8 811.5L1333.7 811.9zM1346.2 810.1L1354.3 809.6L1353.1 807.9L1359.8 810.2L1353.4 813.3L1354.4 811.4L1346.3 811.9zM1396.1 810.2L1403.0 807.6L1401.4 806.3L1408.4 806.5L1403.3 811.3L1403.7 809.2L1396.7 811.8zM1446.2 810.2L1453.1 806.7L1451.3 805.6L1458.3 805.0L1453.8 810.4L1453.9 808.3L1447.0 811.8zM1458.4 810.5L1462.4 804.4L1460.3 804.3L1466.1 800.4L1464.8 807.3L1463.9 805.4L1459.9 811.5zM1483.7 810.3L1489.1 806.0L1487.1 805.3L1493.9 803.3L1490.5 809.5L1490.2 807.4L1484.8 811.7zM1295.9 828.0L1302.7 826.9L1301.3 825.3L1308.1 826.9L1302.1 830.6L1302.9 828.6L1296.1 829.7zM1433.8 845.8L1440.8 843.5L1439.2 842.1L1446.2 842.6L1441.0 847.2L1441.4 845.2L1434.4 847.6zM1546.8 952.9L1553.1 950.8L1551.5 949.4L1558.5 949.9L1553.2 954.5L1553.7 952.5L1547.3 954.7zM1609.4 953.0L1615.7 950.2L1613.9 949.0L1621.0 948.8L1616.1 953.9L1616.4 951.8L1610.2 954.6zM1621.8 953.1L1627.2 948.3L1625.2 947.7L1631.9 945.4L1628.8 951.7L1628.4 949.7L1622.9 954.5zM1584.7 970.8L1591.2 970.6L1590.1 968.8L1596.7 971.4L1590.2 974.2L1591.3 972.4L1584.7 972.5zM1684.6 1006.6L1690.2 1002.6L1688.2 1001.8L1695.1 1000.2L1691.4 1006.2L1691.2 1004.1L1685.6 1008.1zM1659.2 1024.8L1662.1 1018.4L1660.0 1018.7L1665.1 1013.9L1664.9 1020.9L1663.7 1019.2L1660.8 1025.6zM1696.9 1024.7L1700.4 1018.9L1698.3 1018.9L1703.9 1014.7L1702.9 1021.7L1701.9 1019.8L1698.4 1025.7zM1709.4 1024.8L1712.8 1018.5L1710.7 1018.6L1716.2 1014.2L1715.5 1021.2L1714.4 1019.4L1711.0 1025.6zM1721.9 1025.1L1722.9 1018.6L1720.9 1019.4L1724.6 1013.4L1726.3 1020.2L1724.6 1018.8L1723.7 1025.3zM1772.2 1025.6L1768.9 1019.8L1767.9 1021.6L1767.1 1014.6L1772.6 1019.0L1770.5 1018.9L1773.8 1024.8zM1696.8 1042.7L1700.1 1035.7L1698.0 1035.9L1703.2 1031.1L1702.9 1038.2L1701.7 1036.4L1698.5 1043.4zM1671.8 1060.4L1675.9 1054.7L1673.8 1054.5L1679.8 1050.8L1678.2 1057.7L1677.4 1055.7L1673.3 1061.4zM1696.8 1060.7L1698.2 1054.2L1696.2 1054.9L1700.2 1049.1L1701.5 1056.0L1700.0 1054.6L1698.5 1061.1zM1809.8 1060.6L1812.6 1053.7L1810.5 1054.1L1815.5 1049.1L1815.5 1056.1L1814.3 1054.4L1811.5 1061.2zM1696.8 1079.1L1693.6 1071.9L1692.4 1073.6L1692.3 1066.6L1697.4 1071.4L1695.3 1071.1L1698.5 1078.4zM1709.4 1078.3L1712.9 1071.3L1710.8 1071.5L1716.1 1066.9L1715.6 1073.9L1714.5 1072.1L1711.0 1079.2zM1396.3 1095.7L1404.2 1094.7L1402.9 1093.0L1409.7 1094.8L1403.6 1098.4L1404.4 1096.4L1396.5 1097.5zM1408.8 1095.7L1415.6 1094.6L1414.3 1093.0L1421.1 1094.6L1415.1 1098.3L1415.9 1096.4L1409.1 1097.5zM1471.6 1095.7L1479.0 1094.8L1477.7 1093.2L1484.5 1095.1L1478.3 1098.5L1479.2 1096.6L1471.8 1097.5zM1622.0 1095.8L1629.0 1092.5L1627.2 1091.3L1634.2 1091.0L1629.5 1096.2L1629.7 1094.1L1622.7 1097.4zM1684.2 1096.9L1682.3 1090.3L1680.9 1091.9L1681.6 1084.9L1686.1 1090.3L1684.0 1089.8L1686.0 1096.3zM1810.0 1096.0L1815.6 1089.9L1813.5 1089.5L1819.9 1086.6L1817.5 1093.2L1816.9 1091.2L1811.3 1097.2zM1383.2 1113.8L1388.3 1108.5L1386.3 1108.0L1392.7 1105.2L1390.2 1111.8L1389.6 1109.7L1384.5 1115.1zM1521.6 1113.6L1528.6 1110.8L1526.9 1109.5L1534.0 1109.6L1528.9 1114.6L1529.3 1112.5L1522.3 1115.3zM1584.3 1113.6L1590.7 1111.0L1588.9 1109.7L1596.0 1109.7L1591.0 1114.7L1591.4 1112.6L1585.0 1115.3zM1659.2 1114.2L1661.7 1106.5L1659.7 1106.9L1664.3 1101.6L1664.8 1108.7L1663.4 1107.0L1660.9 1114.7zM1671.7 1114.4L1672.3 1107.7L1670.4 1108.7L1673.6 1102.4L1675.7 1109.1L1674.0 1107.9L1673.5 1114.5zM1734.6 1114.0L1738.8 1107.0L1736.7 1107.0L1742.4 1102.9L1741.3 1109.9L1740.3 1108.0L1736.1 1114.9zM1759.9 1113.7L1765.0 1109.7L1763.1 1109.0L1769.9 1107.2L1766.4 1113.3L1766.1 1111.2L1761.0 1115.2zM1484.6 1131.4L1491.2 1133.7L1490.8 1131.7L1496.0 1136.3L1489.0 1136.8L1490.6 1135.4L1484.0 1133.2zM1534.0 1131.6L1540.7 1127.1L1538.8 1126.2L1545.7 1124.9L1541.7 1130.7L1541.7 1128.6L1535.0 1133.0zM1584.0 1131.7L1589.0 1126.2L1586.9 1125.8L1593.3 1122.7L1590.9 1129.4L1590.3 1127.4L1585.4 1132.9zM1684.2 1132.4L1683.7 1124.3L1681.9 1125.5L1684.2 1118.8L1687.3 1125.1L1685.5 1124.2L1686.0 1132.2zM1696.8 1132.4L1696.3 1124.5L1694.6 1125.7L1696.9 1119.0L1700.0 1125.4L1698.1 1124.4L1698.6 1132.2zM1721.9 1132.0L1724.7 1124.5L1722.6 1124.9L1727.4 1119.7L1727.7 1126.8L1726.4 1125.1L1723.6 1132.6zM1747.4 1131.5L1753.1 1127.9L1751.2 1127.0L1758.2 1125.8L1754.1 1131.5L1754.1 1129.4L1748.4 1133.1zM1584.1 1149.5L1589.0 1144.7L1587.0 1144.2L1593.5 1141.6L1590.8 1148.0L1590.3 1146.0L1585.3 1150.8zM1659.1 1150.2L1658.6 1143.3L1656.9 1144.5L1659.1 1137.8L1662.3 1144.1L1660.4 1143.1L1660.9 1150.1zM1684.2 1150.3L1683.1 1143.3L1681.5 1144.7L1683.1 1137.8L1686.8 1143.8L1684.9 1143.0L1686.0 1150.0zM1721.9 1150.0L1723.4 1142.4L1721.4 1143.2L1725.3 1137.3L1726.7 1144.2L1725.2 1142.8L1723.7 1150.3zM1747.1 1149.7L1750.2 1143.6L1748.1 1143.7L1753.4 1139.1L1752.9 1146.1L1751.8 1144.4L1748.7 1150.6zM1810.2 1149.4L1816.0 1146.1L1814.1 1145.1L1821.1 1144.2L1816.8 1149.8L1816.9 1147.7L1811.1 1150.9zM1308.3 1167.1L1315.2 1165.0L1313.6 1163.6L1320.6 1164.2L1315.2 1168.7L1315.7 1166.7L1308.8 1168.9zM1358.1 1167.4L1363.9 1161.8L1361.9 1161.3L1368.4 1158.7L1365.6 1165.2L1365.1 1163.1L1359.4 1168.6zM1420.9 1167.3L1425.9 1162.8L1423.9 1162.2L1430.5 1159.9L1427.5 1166.3L1427.1 1164.2L1422.1 1168.7zM1471.1 1167.4L1476.0 1162.1L1474.0 1161.7L1480.4 1158.8L1477.9 1165.4L1477.3 1163.3L1472.4 1168.6zM1483.4 1167.7L1486.1 1160.1L1484.0 1160.6L1488.7 1155.3L1489.1 1162.3L1487.8 1160.7L1485.1 1168.3zM1496.0 1167.7L1499.1 1160.1L1497.0 1160.4L1501.9 1155.4L1502.0 1162.4L1500.7 1160.7L1497.7 1168.3zM1508.6 1167.5L1513.1 1160.7L1511.0 1160.6L1516.8 1156.7L1515.5 1163.6L1514.6 1161.7L1510.1 1168.5zM1521.1 1167.6L1524.5 1161.4L1522.4 1161.5L1527.8 1157.1L1527.1 1164.1L1526.0 1162.2L1522.7 1168.4zM1546.3 1167.5L1551.1 1161.0L1549.0 1160.8L1555.0 1157.2L1553.3 1164.0L1552.5 1162.1L1547.8 1168.5zM1571.3 1167.8L1573.0 1160.3L1571.0 1161.0L1575.0 1155.2L1576.2 1162.2L1574.7 1160.7L1573.0 1168.2zM1659.2 1167.6L1662.6 1161.6L1660.5 1161.6L1666.1 1157.3L1665.2 1164.3L1664.2 1162.5L1660.8 1168.4zM1671.7 1167.6L1675.2 1160.3L1673.1 1160.5L1678.3 1155.7L1678.0 1162.8L1676.8 1161.0L1673.4 1168.4zM1721.9 1168.0L1722.2 1160.7L1720.4 1161.7L1723.4 1155.4L1725.8 1162.0L1724.0 1160.8L1723.7 1168.0zM1747.0 1167.9L1747.8 1160.8L1745.8 1161.7L1749.2 1155.5L1751.2 1162.3L1749.5 1161.0L1748.8 1168.1zM1759.6 1167.6L1762.8 1161.5L1760.7 1161.7L1766.0 1157.2L1765.4 1164.2L1764.4 1162.4L1761.2 1168.4zM1810.0 1167.3L1816.1 1161.8L1814.1 1161.2L1820.7 1158.8L1817.7 1165.2L1817.3 1163.1L1811.2 1168.7zM1320.3 1185.4L1324.0 1178.9L1321.9 1179.0L1327.4 1174.6L1326.6 1181.6L1325.6 1179.8L1321.9 1186.3zM1395.6 1185.6L1397.9 1178.5L1395.9 1179.0L1400.5 1173.7L1401.0 1180.7L1399.6 1179.1L1397.3 1186.1zM1408.2 1185.4L1411.5 1178.9L1409.4 1179.0L1414.7 1174.5L1414.2 1181.5L1413.1 1179.7L1409.8 1186.3zM1420.7 1185.5L1423.1 1179.3L1421.0 1179.7L1425.9 1174.6L1426.1 1181.7L1424.8 1180.0L1422.4 1186.2zM1433.2 1185.5L1435.9 1178.4L1433.8 1178.8L1438.6 1173.6L1438.9 1180.7L1437.5 1179.0L1434.9 1186.2zM1483.4 1185.6L1485.7 1178.2L1483.6 1178.7L1488.1 1173.3L1488.8 1180.3L1487.4 1178.7L1485.1 1186.1zM1496.1 1185.3L1500.0 1179.6L1497.9 1179.5L1503.8 1175.7L1502.3 1182.6L1501.5 1180.7L1497.6 1186.4zM1546.1 1185.8L1546.2 1178.3L1544.4 1179.4L1547.2 1172.9L1549.8 1179.5L1548.0 1178.3L1547.9 1185.9zM1583.8 1185.7L1585.4 1178.4L1583.4 1179.1L1587.3 1173.3L1588.6 1180.2L1587.1 1178.7L1585.6 1186.0zM1684.2 1185.8L1684.9 1179.2L1683.0 1180.1L1686.4 1173.9L1688.4 1180.7L1686.7 1179.4L1686.0 1185.9zM1709.3 1185.7L1710.5 1177.6L1708.5 1178.5L1712.1 1172.4L1713.9 1179.2L1712.3 1177.9L1711.1 1186.0zM1759.6 1185.6L1761.3 1179.2L1759.3 1179.8L1763.6 1174.3L1764.5 1181.2L1763.1 1179.7L1761.3 1186.1zM1784.7 1185.5L1787.8 1179.1L1785.7 1179.3L1791.0 1174.6L1790.6 1181.7L1789.4 1179.9L1786.3 1186.2z" fill="#10c6e6"/>
<path d="M1420.9 685.4L1425.9 680.8L1423.8 680.2L1430.4 677.7L1427.5 684.2L1427.1 682.1L1422.1 686.7zM1446.0 685.4L1451.9 679.8L1449.8 679.3L1456.4 676.8L1453.5 683.2L1453.1 681.1L1447.2 686.7zM1458.4 703.5L1461.1 697.3L1459.0 697.6L1464.1 692.8L1463.9 699.8L1462.7 698.1L1460.0 704.3zM1433.4 721.2L1438.0 715.7L1435.9 715.4L1442.2 712.2L1440.0 718.9L1439.4 716.9L1434.8 722.3zM1458.5 721.2L1462.5 715.7L1460.4 715.5L1466.4 711.9L1464.8 718.7L1464.0 716.8L1459.9 722.3zM1483.5 721.4L1486.4 714.6L1484.4 714.9L1489.5 710.1L1489.3 717.1L1488.1 715.4L1485.1 722.1zM1433.7 738.8L1440.3 735.5L1438.5 734.4L1445.6 733.9L1440.9 739.2L1441.1 737.1L1434.5 740.4zM1445.8 739.3L1448.2 732.8L1446.1 733.2L1450.9 728.0L1451.2 735.1L1449.9 733.4L1447.5 739.9zM1458.3 739.3L1460.5 733.1L1458.5 733.6L1463.2 728.4L1463.6 735.4L1462.2 733.7L1460.0 739.9zM1508.5 739.3L1510.5 732.9L1508.5 733.4L1513.0 728.0L1513.6 735.0L1512.2 733.5L1510.2 739.9zM1295.6 774.5L1303.1 771.1L1301.4 769.9L1308.4 769.7L1303.6 774.8L1303.9 772.8L1296.4 776.1zM1333.3 774.5L1340.4 771.1L1338.6 769.9L1345.6 769.5L1340.9 774.8L1341.2 772.7L1334.0 776.1zM1370.9 774.5L1378.0 770.6L1376.2 769.6L1383.2 768.8L1378.7 774.3L1378.8 772.2L1371.7 776.1zM1358.6 792.3L1365.5 791.3L1364.2 789.7L1371.0 791.5L1364.9 795.0L1365.8 793.1L1358.9 794.0zM1295.7 810.1L1302.1 808.2L1300.5 806.8L1307.5 807.5L1302.1 812.0L1302.6 809.9L1296.3 811.9zM1321.0 810.1L1327.5 809.4L1326.2 807.7L1333.0 809.7L1326.8 813.1L1327.7 811.2L1321.2 811.9zM1358.6 810.1L1366.6 808.8L1365.3 807.2L1372.1 808.9L1366.1 812.6L1366.9 810.6L1358.9 811.9zM1471.0 810.5L1475.0 804.8L1472.9 804.6L1478.8 800.9L1477.3 807.7L1476.5 805.8L1472.5 811.5zM1308.3 828.0L1316.0 825.9L1314.5 824.5L1321.5 825.4L1315.9 829.7L1316.5 827.7L1308.8 829.7zM1320.9 828.0L1327.7 826.7L1326.3 825.1L1333.1 826.5L1327.3 830.4L1328.0 828.4L1321.3 829.7zM1371.1 828.0L1379.1 826.2L1377.7 824.7L1384.6 825.9L1378.8 830.0L1379.5 828.0L1371.5 829.7zM1433.6 828.1L1440.7 824.0L1438.8 823.0L1445.8 822.1L1441.5 827.7L1441.6 825.6L1434.5 829.6zM1333.6 845.8L1341.2 845.0L1339.9 843.4L1346.6 845.4L1340.4 848.7L1341.4 846.8L1333.7 847.6zM1346.0 845.8L1353.0 844.0L1351.5 842.6L1358.4 843.5L1352.8 847.8L1353.4 845.8L1346.4 847.6zM1471.2 846.0L1476.9 841.5L1475.0 840.7L1481.7 838.8L1478.3 845.0L1478.1 842.9L1472.3 847.4zM1358.7 863.7L1365.8 863.1L1364.5 861.4L1371.2 863.6L1365.0 866.8L1365.9 864.9L1358.8 865.4zM1521.2 864.0L1526.0 858.1L1523.9 857.8L1530.1 854.4L1528.1 861.2L1527.4 859.2L1522.6 865.1zM1333.4 881.5L1341.1 879.6L1339.6 878.1L1346.5 879.1L1340.9 883.3L1341.5 881.3L1333.9 883.3zM1546.2 882.1L1549.1 875.1L1547.1 875.4L1552.1 870.5L1552.0 877.5L1550.8 875.8L1547.9 882.7zM1585.2 881.7L1591.1 885.8L1591.2 883.7L1595.0 889.6L1588.1 888.1L1590.1 887.2L1584.2 883.1zM1533.9 899.5L1539.1 895.4L1537.1 894.7L1543.9 892.8L1540.5 899.0L1540.2 896.9L1535.0 901.0zM1534.2 917.2L1540.9 915.2L1539.4 913.8L1546.4 914.5L1540.9 919.0L1541.5 916.9L1534.7 919.0zM1572.1 970.8L1579.2 970.2L1578.0 968.5L1584.7 970.7L1578.4 973.9L1579.4 972.0L1572.2 972.5zM1597.2 970.8L1605.3 970.4L1604.1 968.6L1610.8 971.0L1604.4 974.0L1605.4 972.2L1597.3 972.5zM1709.3 971.5L1710.4 964.8L1708.5 965.6L1712.2 959.6L1713.8 966.5L1712.2 965.1L1711.1 971.8zM1721.9 989.3L1723.6 982.3L1721.6 982.9L1725.8 977.3L1726.8 984.2L1725.3 982.7L1723.6 989.7zM1734.5 1006.9L1737.9 1000.4L1735.8 1000.5L1741.2 996.0L1740.6 1003.0L1739.5 1001.2L1736.1 1007.8zM1646.9 1024.5L1652.1 1020.1L1650.1 1019.5L1656.8 1017.3L1653.6 1023.6L1653.3 1021.5L1648.0 1025.9zM1734.5 1024.9L1737.0 1017.9L1734.9 1018.4L1739.6 1013.1L1740.0 1020.2L1738.7 1018.5L1736.2 1025.5zM1747.5 1024.4L1753.8 1021.3L1752.0 1020.1L1759.1 1019.7L1754.4 1025.0L1754.6 1022.9L1748.3 1026.0zM1784.7 1024.9L1786.9 1018.4L1784.9 1018.8L1789.5 1013.6L1790.0 1020.6L1788.6 1019.0L1786.4 1025.5zM1684.4 1042.5L1689.7 1036.5L1687.6 1036.1L1693.9 1033.0L1691.7 1039.7L1691.0 1037.7L1685.8 1043.6zM1709.4 1042.6L1713.1 1036.7L1710.9 1036.7L1716.6 1032.5L1715.6 1039.5L1714.6 1037.6L1711.0 1043.5zM1659.5 1060.1L1665.7 1056.1L1663.8 1055.2L1670.7 1053.9L1666.8 1059.7L1666.7 1057.6L1660.5 1061.7zM1709.3 1060.9L1709.5 1053.2L1707.7 1054.2L1710.5 1047.8L1713.1 1054.4L1711.3 1053.2L1711.1 1060.9zM1509.2 1077.9L1515.6 1076.6L1514.2 1075.0L1521.1 1076.4L1515.2 1080.3L1516.0 1078.4L1509.6 1079.6zM1521.6 1077.9L1528.7 1074.8L1527.0 1073.6L1534.0 1073.5L1529.1 1078.6L1529.4 1076.5L1522.3 1079.6zM1597.4 1077.9L1603.9 1078.8L1603.1 1076.9L1609.1 1080.5L1602.3 1082.2L1603.6 1080.6L1597.1 1079.6zM1684.2 1078.5L1685.8 1071.6L1683.8 1072.3L1687.9 1066.6L1689.1 1073.5L1687.6 1072.0L1686.0 1079.0zM1822.4 1078.3L1825.7 1071.9L1823.6 1072.1L1829.0 1067.6L1828.4 1074.6L1827.3 1072.8L1824.0 1079.2zM1421.2 1095.7L1428.3 1093.5L1426.7 1092.1L1433.7 1092.7L1428.3 1097.3L1428.8 1095.2L1421.8 1097.5zM1534.3 1095.7L1542.2 1094.0L1540.8 1092.5L1547.7 1093.8L1541.9 1097.8L1542.6 1095.8L1534.7 1097.5zM1546.8 1095.7L1553.1 1093.9L1551.5 1092.5L1558.5 1093.2L1553.0 1097.6L1553.6 1095.6L1547.3 1097.5zM1596.9 1095.8L1603.4 1093.1L1601.7 1091.9L1608.8 1091.9L1603.8 1096.9L1604.1 1094.8L1597.6 1097.4zM1609.6 1095.7L1617.3 1093.9L1615.8 1092.4L1622.8 1093.5L1617.1 1097.6L1617.7 1095.6L1610.0 1097.5zM1634.3 1095.9L1640.4 1090.8L1638.4 1090.2L1645.1 1088.1L1641.9 1094.3L1641.6 1092.2L1635.5 1097.3zM1659.2 1096.3L1661.9 1089.7L1659.8 1090.1L1664.8 1085.1L1664.8 1092.1L1663.5 1090.4L1660.8 1096.9zM1671.7 1096.5L1672.4 1089.4L1670.5 1090.3L1673.8 1084.1L1675.8 1090.8L1674.2 1089.5L1673.5 1096.7zM1709.4 1096.3L1711.4 1089.9L1709.3 1090.5L1713.8 1085.1L1714.5 1092.1L1713.1 1090.5L1711.1 1096.9zM1721.9 1096.3L1723.9 1089.7L1721.9 1090.2L1726.4 1084.8L1727.1 1091.8L1725.7 1090.2L1723.6 1096.9zM1734.5 1096.4L1736.4 1089.0L1734.4 1089.6L1738.7 1084.0L1739.6 1091.0L1738.2 1089.4L1736.2 1096.8zM1822.7 1095.9L1829.5 1091.3L1827.5 1090.4L1834.4 1089.0L1830.6 1094.8L1830.5 1092.7L1823.7 1097.3zM1684.2 1114.4L1684.5 1106.5L1682.7 1107.6L1685.6 1101.2L1688.1 1107.8L1686.3 1106.6L1686.0 1114.5zM1697.0 1113.9L1702.3 1107.7L1700.2 1107.4L1706.5 1104.2L1704.3 1110.9L1703.7 1108.9L1698.3 1115.0zM1721.9 1114.2L1723.6 1106.9L1721.6 1107.6L1725.7 1101.9L1726.8 1108.8L1725.3 1107.3L1723.6 1114.7zM1471.1 1131.6L1476.7 1126.5L1474.7 1125.9L1481.3 1123.5L1478.4 1129.9L1478.0 1127.8L1472.3 1133.0zM1559.0 1131.6L1564.9 1126.8L1562.9 1126.1L1569.6 1124.0L1566.3 1130.2L1566.0 1128.1L1560.2 1133.0zM1571.4 1131.8L1574.6 1126.2L1572.5 1126.3L1578.1 1122.0L1577.2 1129.0L1576.2 1127.1L1572.9 1132.8zM1671.7 1132.2L1672.5 1125.0L1670.6 1125.9L1674.0 1119.7L1675.9 1126.5L1674.3 1125.2L1673.5 1132.4zM1759.9 1131.6L1765.7 1126.9L1763.7 1126.2L1770.4 1124.2L1767.1 1130.4L1766.8 1128.3L1761.0 1133.0zM1772.2 1131.9L1776.1 1124.7L1774.0 1124.8L1779.5 1120.4L1778.7 1127.4L1777.7 1125.6L1773.8 1132.7zM1383.8 1149.3L1391.6 1148.4L1390.3 1146.7L1397.1 1148.7L1390.9 1152.1L1391.8 1150.2L1384.0 1151.0zM1433.5 1149.5L1438.5 1144.9L1436.5 1144.3L1443.1 1141.9L1440.1 1148.3L1439.7 1146.2L1434.7 1150.8zM1446.1 1149.4L1451.6 1145.4L1449.6 1144.6L1456.5 1143.0L1452.8 1149.0L1452.6 1146.9L1447.2 1150.9zM1471.2 1149.4L1476.5 1145.1L1474.6 1144.4L1481.3 1142.4L1477.9 1148.6L1477.7 1146.5L1472.3 1150.9zM1508.7 1149.5L1514.1 1143.7L1512.0 1143.3L1518.4 1140.4L1516.0 1147.0L1515.4 1145.0L1510.0 1150.8zM1558.8 1149.6L1562.7 1143.9L1560.6 1143.8L1566.5 1140.0L1565.1 1146.9L1564.2 1145.0L1560.3 1150.7zM1571.5 1149.6L1576.4 1143.7L1574.3 1143.4L1580.6 1140.2L1578.4 1146.9L1577.8 1144.9L1572.8 1150.7zM1696.8 1150.2L1696.6 1143.0L1694.8 1144.2L1697.3 1137.6L1700.2 1144.0L1698.4 1143.0L1698.6 1150.1zM1734.5 1149.8L1737.2 1143.0L1735.1 1143.3L1740.0 1138.3L1740.1 1145.3L1738.8 1143.6L1736.2 1150.5zM1759.8 1149.5L1765.3 1144.2L1763.3 1143.6L1769.8 1141.1L1767.0 1147.5L1766.6 1145.5L1761.1 1150.8zM1797.3 1149.7L1801.2 1143.9L1799.1 1143.8L1804.9 1139.9L1803.6 1146.8L1802.7 1144.9L1798.8 1150.6zM1320.5 1167.3L1326.4 1161.7L1324.4 1161.1L1331.0 1158.6L1328.1 1165.1L1327.7 1163.0L1321.7 1168.7zM1345.4 1167.6L1349.4 1160.3L1347.3 1160.4L1352.8 1156.0L1352.0 1163.0L1351.0 1161.2L1347.0 1168.4zM1395.8 1167.4L1400.8 1162.3L1398.8 1161.8L1405.3 1159.1L1402.6 1165.6L1402.1 1163.5L1397.1 1168.6zM1433.3 1167.6L1436.3 1161.6L1434.2 1161.7L1439.5 1157.1L1439.0 1164.1L1437.9 1162.4L1434.9 1168.4zM1446.0 1167.3L1452.0 1161.9L1450.0 1161.3L1456.6 1158.9L1453.6 1165.3L1453.2 1163.2L1447.2 1168.7zM1458.4 1167.6L1461.4 1161.5L1459.3 1161.7L1464.6 1157.1L1464.1 1164.1L1463.0 1162.3L1460.0 1168.4zM1684.2 1168.0L1684.0 1160.9L1682.2 1162.0L1684.7 1155.5L1687.6 1161.9L1685.8 1160.8L1686.0 1168.0zM1709.3 1168.0L1709.6 1161.0L1707.8 1162.0L1710.8 1155.6L1713.2 1162.2L1711.4 1161.1L1711.1 1168.0zM1734.5 1167.7L1736.8 1160.6L1734.8 1161.0L1739.4 1155.7L1739.9 1162.7L1738.5 1161.1L1736.2 1168.3zM1772.2 1167.6L1776.0 1160.8L1773.9 1160.9L1779.4 1156.6L1778.6 1163.6L1777.6 1161.7L1773.8 1168.4zM1383.0 1185.7L1384.1 1177.6L1382.1 1178.4L1385.7 1172.3L1387.5 1179.1L1385.8 1177.8L1384.8 1186.0zM1734.4 1185.8L1734.4 1178.4L1732.6 1179.5L1735.3 1173.0L1738.0 1179.5L1736.2 1178.4L1736.2 1185.9zM1772.2 1185.4L1775.5 1179.3L1773.4 1179.4L1778.9 1175.0L1778.2 1182.0L1777.1 1180.2L1773.8 1186.3zM1797.4 1185.2L1802.8 1179.5L1800.7 1179.0L1807.1 1176.1L1804.7 1182.7L1804.1 1180.7L1798.7 1186.5zM1822.3 1185.6L1824.5 1179.2L1822.5 1179.7L1827.1 1174.4L1827.6 1181.4L1826.2 1179.8L1824.0 1186.1z" fill="#20d5e1"/>
<path d="M1433.5 685.3L1439.7 680.7L1437.8 680.0L1444.6 678.3L1441.0 684.3L1440.8 682.2L1434.6 686.8zM1471.2 685.3L1477.4 680.3L1475.4 679.6L1482.2 677.6L1478.8 683.8L1478.5 681.7L1472.3 686.8zM1483.5 685.7L1486.6 678.7L1484.6 678.9L1489.7 674.1L1489.5 681.2L1488.3 679.4L1485.1 686.4zM1433.3 703.4L1437.8 697.0L1435.7 696.9L1441.7 693.1L1440.2 700.0L1439.3 698.1L1434.8 704.4zM1508.8 703.2L1514.3 698.4L1512.3 697.8L1518.9 695.5L1515.8 701.9L1515.5 699.8L1510.0 704.6zM1521.0 703.8L1521.4 697.0L1519.6 698.0L1522.6 691.6L1525.0 698.3L1523.2 697.1L1522.8 704.0zM1445.8 721.3L1449.1 715.6L1447.0 715.7L1452.5 711.4L1451.7 718.4L1450.6 716.5L1447.4 722.2zM1496.0 721.4L1498.5 714.5L1496.4 714.9L1501.1 709.7L1501.5 716.7L1500.2 715.1L1497.7 722.1zM1521.0 721.6L1521.9 714.1L1520.0 714.9L1523.5 708.8L1525.4 715.6L1523.7 714.3L1522.8 721.9zM1470.9 739.4L1472.6 732.3L1470.6 732.9L1474.8 727.3L1475.9 734.2L1474.4 732.7L1472.6 739.8zM1521.0 739.6L1520.6 731.5L1518.9 732.7L1521.3 726.1L1524.3 732.5L1522.4 731.4L1522.8 739.6zM1458.4 757.0L1461.6 750.7L1459.5 750.9L1464.9 746.3L1464.3 753.4L1463.2 751.6L1460.0 757.9zM1508.5 757.3L1509.8 750.5L1507.8 751.2L1511.7 745.4L1513.1 752.3L1511.6 750.8L1510.3 757.6zM1521.0 757.3L1522.5 749.2L1520.5 750.0L1524.3 744.0L1525.8 750.9L1524.2 749.5L1522.8 757.6zM1483.4 775.1L1484.7 768.5L1482.8 769.3L1486.7 763.4L1488.0 770.3L1486.5 768.9L1485.2 775.5zM1508.5 775.2L1509.0 767.2L1507.1 768.2L1510.2 761.9L1512.5 768.5L1510.8 767.3L1510.3 775.4zM1346.0 792.3L1353.1 790.3L1351.6 788.9L1358.6 789.8L1353.0 794.1L1353.6 792.1L1346.4 794.0zM1495.9 793.0L1497.0 784.9L1495.1 785.7L1498.6 779.6L1500.4 786.4L1498.8 785.1L1497.7 793.3zM1508.5 793.0L1509.9 785.2L1508.0 786.0L1511.8 780.1L1513.3 786.9L1511.7 785.5L1510.3 793.3zM1371.0 810.2L1377.6 807.4L1375.9 806.1L1383.0 806.1L1378.0 811.1L1378.3 809.0L1371.7 811.8zM1383.7 810.1L1391.0 808.7L1389.6 807.1L1396.5 808.5L1390.7 812.4L1391.4 810.4L1384.0 811.9zM1496.0 810.6L1499.2 804.4L1497.1 804.5L1502.5 800.0L1501.9 807.0L1500.8 805.2L1497.6 811.4zM1521.1 810.7L1523.9 803.1L1521.8 803.5L1526.6 798.3L1526.9 805.4L1525.6 803.7L1522.8 811.3zM1346.3 828.0L1354.2 828.5L1353.2 826.6L1359.5 829.7L1352.8 832.0L1354.1 830.3L1346.1 829.7zM1396.3 828.0L1403.9 827.2L1402.7 825.5L1409.4 827.5L1403.2 830.9L1404.1 829.0L1396.5 829.7zM1446.3 828.0L1453.0 825.2L1451.3 824.0L1458.4 824.0L1453.4 829.0L1453.7 826.9L1447.0 829.7zM1458.9 828.0L1466.3 825.4L1464.6 824.0L1471.7 824.4L1466.4 829.1L1466.9 827.1L1459.5 829.7zM1471.2 828.1L1477.0 824.0L1475.0 823.2L1481.9 821.6L1478.2 827.5L1478.0 825.4L1472.3 829.6zM1496.1 828.3L1500.8 822.7L1498.7 822.4L1504.9 819.1L1502.9 825.8L1502.2 823.8L1497.5 829.4zM1508.6 828.4L1512.2 822.7L1510.1 822.7L1515.9 818.6L1514.7 825.6L1513.8 823.7L1510.1 829.3zM1295.6 845.9L1301.9 843.2L1300.1 842.0L1307.2 841.9L1302.3 846.9L1302.6 844.8L1296.4 847.5zM1358.5 845.8L1366.0 843.8L1364.5 842.4L1371.5 843.3L1365.9 847.6L1366.5 845.6L1359.0 847.6zM1383.6 845.8L1389.9 843.8L1388.3 842.4L1395.3 843.0L1389.9 847.6L1390.4 845.5L1384.1 847.6zM1508.7 846.1L1513.1 840.7L1511.0 840.4L1517.2 837.0L1515.2 843.8L1514.5 841.8L1510.1 847.3zM1308.6 863.7L1315.1 863.8L1314.1 862.0L1320.5 864.8L1313.9 867.4L1315.1 865.6L1308.5 865.4zM1321.2 863.7L1329.3 864.3L1328.4 862.4L1334.6 865.6L1328.0 867.8L1329.2 866.1L1321.0 865.4zM1371.1 863.7L1378.2 861.9L1376.7 860.4L1383.7 861.5L1378.0 865.7L1378.7 863.6L1371.5 865.4zM1446.3 881.6L1452.4 879.1L1450.7 877.9L1457.8 878.0L1452.7 882.9L1453.1 880.8L1447.0 883.2zM1521.8 917.2L1529.2 915.8L1527.8 914.2L1534.7 915.6L1528.8 919.5L1529.6 917.5L1522.1 919.0zM1634.2 935.4L1638.6 930.2L1636.5 929.8L1642.8 926.6L1640.6 933.3L1640.0 931.3L1635.6 936.5zM1534.4 952.9L1541.7 952.6L1540.5 950.8L1547.1 953.2L1540.7 956.2L1541.7 954.4L1534.5 954.7zM1634.3 953.1L1639.5 948.4L1637.5 947.8L1644.1 945.4L1641.1 951.8L1640.7 949.7L1635.5 954.5zM1522.2 970.8L1529.6 972.9L1529.0 970.9L1534.5 975.3L1527.5 976.1L1529.1 974.6L1521.7 972.5zM1546.9 970.8L1554.9 969.6L1553.5 968.0L1560.3 969.8L1554.3 973.4L1555.1 971.4L1547.2 972.5zM1559.4 970.8L1567.1 969.3L1565.7 967.7L1572.6 969.2L1566.7 973.0L1567.5 971.1L1559.8 972.5zM1609.3 970.9L1615.0 966.9L1613.1 966.0L1620.0 964.5L1616.2 970.4L1616.1 968.3L1610.3 972.4zM1671.8 971.1L1676.1 965.5L1674.0 965.3L1680.1 961.8L1678.3 968.6L1677.5 966.6L1673.3 972.2zM1684.4 971.1L1689.2 965.6L1687.1 965.2L1693.4 962.1L1691.2 968.8L1690.5 966.8L1685.8 972.2zM1672.1 988.7L1679.0 984.7L1677.1 983.7L1684.1 982.8L1679.8 988.4L1679.9 986.3L1673.0 990.3zM1709.4 989.1L1712.2 982.9L1710.2 983.2L1715.3 978.4L1715.1 985.4L1713.9 983.7L1711.0 989.9zM1622.2 1006.5L1629.8 1005.4L1628.5 1003.8L1635.3 1005.6L1629.2 1009.1L1630.1 1007.2L1622.5 1008.2zM1659.3 1006.7L1663.8 1001.7L1661.8 1001.3L1668.1 998.3L1665.8 1005.0L1665.2 1002.9L1660.7 1008.0zM1709.5 1006.8L1714.3 1001.4L1712.2 1001.1L1718.5 998.0L1716.2 1004.7L1715.6 1002.6L1710.9 1007.9zM1721.9 1007.1L1723.4 1000.7L1721.4 1001.4L1725.5 995.7L1726.7 1002.6L1725.2 1001.1L1723.6 1007.6zM1747.1 1007.0L1750.5 999.6L1748.4 999.8L1753.5 995.0L1753.3 1002.0L1752.1 1000.3L1748.7 1007.7zM1759.8 1006.7L1765.3 1001.2L1763.2 1000.7L1769.7 998.0L1767.1 1004.5L1766.6 1002.5L1761.1 1008.0zM1571.8 1024.4L1578.1 1021.5L1576.4 1020.3L1583.4 1020.1L1578.6 1025.2L1578.9 1023.1L1572.5 1026.0zM1584.5 1024.3L1591.4 1022.9L1589.9 1021.4L1596.9 1022.7L1591.0 1026.7L1591.7 1024.7L1584.9 1026.1zM1671.8 1024.7L1676.7 1018.0L1674.6 1017.8L1680.6 1014.2L1679.0 1021.0L1678.2 1019.1L1673.3 1025.7zM1684.2 1025.0L1685.6 1018.4L1683.6 1019.1L1687.5 1013.3L1688.9 1020.2L1687.3 1018.7L1686.0 1025.4zM1797.2 1025.4L1795.5 1018.8L1794.1 1020.3L1795.1 1013.3L1799.3 1019.0L1797.3 1018.4L1799.0 1025.0zM1609.3 1042.3L1614.7 1038.6L1612.8 1037.7L1619.7 1036.3L1615.8 1042.2L1615.7 1040.1L1610.3 1043.8zM1659.5 1042.3L1665.0 1038.6L1663.1 1037.7L1670.0 1036.4L1666.1 1042.2L1666.0 1040.1L1660.5 1043.8zM1809.7 1042.9L1810.9 1035.6L1809.0 1036.4L1812.6 1030.4L1814.3 1037.2L1812.7 1035.8L1811.5 1043.2zM1597.0 1060.0L1603.9 1057.7L1602.2 1056.3L1609.3 1056.7L1604.0 1061.4L1604.5 1059.4L1597.5 1061.8zM1647.0 1060.1L1653.8 1055.7L1651.9 1054.8L1658.8 1053.4L1654.8 1059.3L1654.8 1057.2L1648.0 1061.7zM1471.2 1078.1L1476.8 1073.3L1474.8 1072.7L1481.6 1070.6L1478.3 1076.8L1478.0 1074.7L1472.3 1079.4zM1609.7 1077.9L1617.6 1077.0L1616.3 1075.3L1623.1 1077.3L1616.9 1080.7L1617.8 1078.8L1609.9 1079.6zM1671.7 1078.5L1673.4 1072.0L1671.4 1072.6L1675.7 1067.0L1676.6 1074.0L1675.1 1072.4L1673.4 1079.0zM1646.7 1096.0L1650.9 1090.7L1648.8 1090.5L1655.0 1087.0L1653.1 1093.8L1652.3 1091.8L1648.2 1097.2zM1433.4 1113.8L1439.0 1108.1L1436.9 1107.7L1443.4 1104.9L1440.8 1111.4L1440.3 1109.4L1434.7 1115.1zM1797.5 1113.7L1803.5 1109.0L1801.5 1108.3L1808.3 1106.4L1804.9 1112.5L1804.6 1110.4L1798.6 1115.2zM1822.6 1113.8L1827.9 1109.4L1825.9 1108.7L1832.7 1106.7L1829.3 1112.9L1829.1 1110.8L1823.8 1115.1zM1446.2 1131.5L1453.0 1127.6L1451.2 1126.6L1458.2 1125.7L1453.9 1131.3L1453.9 1129.1L1447.1 1133.1zM1458.5 1131.7L1462.7 1126.8L1460.6 1126.4L1466.9 1123.2L1464.7 1129.9L1464.1 1127.9L1459.9 1132.9zM1546.4 1131.7L1551.3 1126.6L1549.2 1126.2L1555.7 1123.4L1553.1 1129.9L1552.6 1127.9L1547.7 1132.9zM1734.5 1131.9L1738.0 1125.6L1735.8 1125.7L1741.3 1121.3L1740.6 1128.3L1739.5 1126.4L1736.1 1132.7zM1809.9 1131.8L1814.4 1125.4L1812.3 1125.3L1818.3 1121.6L1816.7 1128.4L1815.9 1126.5L1811.4 1132.8zM1822.5 1131.7L1826.9 1126.0L1824.8 1125.8L1831.0 1122.3L1829.1 1129.1L1828.4 1127.1L1823.9 1132.9zM1295.7 1149.3L1303.3 1147.1L1301.7 1145.7L1308.7 1146.4L1303.2 1150.8L1303.8 1148.8L1296.3 1151.0zM1345.9 1149.3L1353.0 1146.7L1351.4 1145.4L1358.4 1145.7L1353.2 1150.5L1353.6 1148.4L1346.5 1151.0zM1358.3 1149.4L1364.0 1146.0L1362.1 1145.0L1369.0 1143.9L1364.9 1149.6L1364.9 1147.5L1359.2 1150.9zM1483.6 1149.6L1488.7 1143.4L1486.7 1143.1L1492.9 1139.8L1490.8 1146.6L1490.1 1144.6L1485.0 1150.7zM1521.3 1149.5L1526.3 1144.0L1524.2 1143.6L1530.6 1140.6L1528.2 1147.3L1527.6 1145.2L1522.6 1150.8zM1533.8 1149.6L1538.3 1143.1L1536.2 1143.0L1542.1 1139.2L1540.6 1146.1L1539.8 1144.2L1535.2 1150.7zM1546.4 1149.6L1551.5 1143.6L1549.5 1143.3L1555.8 1140.2L1553.5 1146.8L1552.9 1144.8L1547.7 1150.7zM1709.4 1150.4L1707.2 1143.4L1705.8 1144.9L1706.5 1137.9L1711.0 1143.4L1708.9 1142.8L1711.1 1149.9zM1822.5 1149.5L1827.4 1144.1L1825.3 1143.7L1831.6 1140.7L1829.3 1147.3L1828.7 1145.3L1823.9 1150.8zM1333.0 1167.4L1337.9 1161.8L1335.8 1161.5L1342.1 1158.4L1339.9 1165.0L1339.2 1163.0L1334.3 1168.6zM1408.1 1167.7L1410.7 1160.8L1408.7 1161.2L1413.5 1156.1L1413.7 1163.2L1412.4 1161.5L1409.8 1168.3zM1533.8 1167.5L1538.4 1160.9L1536.3 1160.7L1542.2 1157.0L1540.7 1163.9L1539.9 1161.9L1535.2 1168.5zM1784.7 1167.6L1788.2 1160.2L1786.1 1160.4L1791.3 1155.6L1791.0 1162.7L1789.8 1160.9L1786.3 1168.4zM1295.3 1185.3L1300.1 1179.4L1298.0 1179.1L1304.2 1175.8L1302.2 1182.5L1301.5 1180.5L1296.7 1186.4zM1470.9 1185.6L1472.8 1178.4L1470.8 1179.0L1475.1 1173.4L1476.0 1180.4L1474.6 1178.8L1472.6 1186.1zM1747.1 1185.5L1750.2 1178.7L1748.1 1179.0L1753.2 1174.2L1753.0 1181.2L1751.8 1179.5L1748.7 1186.2zM1809.9 1185.3L1814.9 1178.8L1812.8 1178.6L1818.9 1175.1L1817.1 1181.9L1816.3 1179.9L1811.3 1186.4z" fill="#30e1da"/>
<path d="M1496.0 685.8L1498.0 678.4L1496.0 679.0L1500.3 673.5L1501.2 680.4L1499.7 678.9L1497.7 686.3zM1508.5 686.0L1509.1 679.0L1507.2 679.9L1510.5 673.7L1512.6 680.4L1510.9 679.2L1510.3 686.1zM1445.9 703.3L1450.4 698.2L1448.3 697.8L1454.6 694.7L1452.4 701.4L1451.7 699.3L1447.3 704.5zM1495.9 703.9L1495.9 696.2L1494.1 697.3L1496.7 690.8L1499.5 697.3L1497.7 696.2L1497.7 703.9zM1471.2 721.0L1476.9 717.4L1475.0 716.5L1481.9 715.2L1477.9 721.0L1477.8 718.9L1472.2 722.5zM1571.3 722.0L1569.4 714.5L1567.9 716.0L1568.9 709.0L1573.2 714.7L1571.1 714.1L1573.0 721.5zM1420.8 739.1L1424.5 733.5L1422.4 733.4L1428.3 729.5L1426.9 736.4L1426.0 734.5L1422.3 740.1zM1483.5 739.2L1486.6 732.8L1484.5 733.0L1489.8 728.3L1489.3 735.4L1488.2 733.6L1485.1 740.0zM1471.0 756.9L1475.3 751.5L1473.2 751.3L1479.4 747.9L1477.4 754.6L1476.7 752.7L1472.4 758.0zM1470.9 792.9L1473.1 784.9L1471.1 785.5L1475.4 780.0L1476.3 786.9L1474.8 785.4L1472.6 793.4zM1521.0 793.0L1522.2 786.0L1520.2 786.8L1523.9 780.8L1525.5 787.6L1523.9 786.2L1522.8 793.3zM1533.6 793.0L1534.9 785.0L1533.0 785.8L1536.7 779.8L1538.3 786.7L1536.7 785.3L1535.4 793.3zM1546.2 810.6L1549.4 803.6L1547.3 803.9L1552.4 799.1L1552.2 806.1L1551.0 804.4L1547.9 811.4zM1571.3 810.8L1573.0 803.7L1571.0 804.3L1575.2 798.7L1576.2 805.6L1574.8 804.1L1573.0 811.2zM1358.5 828.0L1365.5 826.3L1364.0 824.8L1370.9 825.9L1365.3 830.1L1365.9 828.1L1359.0 829.7zM1383.7 828.0L1391.4 827.0L1390.1 825.3L1396.9 827.2L1390.8 830.7L1391.7 828.8L1384.0 829.7zM1408.5 828.1L1414.9 824.0L1413.0 823.1L1420.0 821.9L1415.9 827.6L1415.9 825.5L1409.5 829.6zM1421.3 828.0L1427.7 826.3L1426.2 824.8L1433.2 825.8L1427.6 830.0L1428.2 828.0L1421.7 829.7zM1320.8 845.9L1327.8 843.2L1326.1 841.9L1333.2 842.2L1328.0 847.0L1328.4 844.9L1321.4 847.5zM1483.8 845.9L1491.0 841.9L1489.2 840.9L1496.2 840.0L1491.8 845.6L1491.9 843.5L1484.7 847.5zM1346.4 863.7L1352.8 865.4L1352.2 863.4L1357.7 867.8L1350.7 868.6L1352.3 867.2L1346.0 865.4zM1384.0 863.7L1390.8 865.0L1390.1 863.0L1395.9 867.0L1389.0 868.3L1390.4 866.8L1383.7 865.4zM1408.8 863.7L1416.5 861.8L1415.0 860.3L1422.0 861.4L1416.3 865.6L1416.9 863.6L1409.2 865.4zM1446.3 863.7L1453.0 861.3L1451.3 860.0L1458.3 860.3L1453.2 865.0L1453.6 863.0L1446.9 865.4zM1483.7 863.9L1488.8 859.7L1486.8 859.0L1493.5 856.9L1490.2 863.2L1489.9 861.1L1484.9 865.2zM1508.7 864.0L1513.3 857.9L1511.2 857.7L1517.3 854.1L1515.5 860.9L1514.7 859.0L1510.1 865.1zM1533.9 863.9L1539.9 858.9L1537.9 858.3L1544.7 856.2L1541.3 862.4L1541.1 860.3L1535.1 865.2zM1546.4 863.9L1551.9 859.0L1549.8 858.4L1556.5 856.0L1553.5 862.4L1553.1 860.3L1547.6 865.2zM1558.8 864.1L1562.5 857.2L1560.4 857.3L1565.9 852.8L1565.2 859.8L1564.1 858.0L1560.4 865.0zM1571.3 864.4L1572.5 856.6L1570.6 857.4L1574.3 851.4L1575.9 858.2L1574.3 856.9L1573.0 864.7zM1583.9 864.2L1586.8 857.8L1584.8 858.0L1589.9 853.2L1589.7 860.3L1588.5 858.5L1585.5 864.9zM1383.6 881.5L1390.5 879.8L1389.0 878.3L1395.9 879.4L1390.3 883.6L1390.9 881.6L1384.1 883.3zM1408.9 881.5L1417.0 881.3L1415.9 879.5L1422.5 882.0L1416.1 884.9L1417.1 883.1L1409.0 883.3zM1458.8 881.6L1466.1 878.2L1464.4 877.0L1471.4 876.8L1466.6 881.9L1466.9 879.8L1459.6 883.2zM1483.9 881.6L1491.0 877.8L1489.2 876.7L1496.2 876.0L1491.8 881.5L1491.9 879.4L1484.7 883.2zM1621.5 900.3L1621.0 892.3L1619.3 893.4L1621.7 886.8L1624.7 893.2L1622.8 892.2L1623.3 900.2zM1508.9 917.3L1515.0 913.9L1513.1 912.8L1520.1 912.0L1515.8 917.5L1515.9 915.4L1509.8 918.9zM1634.2 917.6L1638.8 911.2L1636.7 911.0L1642.7 907.4L1641.1 914.2L1640.3 912.3L1635.6 918.6zM1671.8 953.3L1675.9 946.3L1673.8 946.4L1679.5 942.2L1678.5 949.1L1677.5 947.3L1673.3 954.3zM1734.4 953.7L1735.7 946.1L1733.7 946.9L1737.5 941.0L1739.1 947.8L1737.5 946.4L1736.2 953.9zM1622.0 970.8L1628.5 967.7L1626.8 966.5L1633.8 966.1L1629.1 971.4L1629.3 969.3L1622.7 972.5zM1534.2 988.6L1542.0 986.4L1540.5 985.0L1547.4 985.8L1541.9 990.2L1542.5 988.2L1534.7 990.4zM1547.3 988.6L1555.0 991.1L1554.5 989.1L1559.9 993.6L1552.8 994.2L1554.4 992.8L1546.8 990.4zM1572.0 988.6L1580.1 987.1L1578.6 985.6L1585.5 987.0L1579.6 990.9L1580.4 988.9L1572.3 990.4zM1584.5 988.6L1591.9 987.3L1590.5 985.7L1597.4 987.2L1591.5 991.0L1592.2 989.0L1584.9 990.4zM1597.0 988.6L1603.6 986.6L1602.0 985.2L1609.0 985.8L1603.6 990.3L1604.2 988.3L1597.5 990.4zM1622.0 988.7L1628.0 986.2L1626.3 984.9L1633.4 984.9L1628.4 989.9L1628.7 987.8L1622.7 990.3zM1647.0 988.7L1653.8 985.0L1652.0 983.9L1659.0 983.2L1654.6 988.7L1654.7 986.6L1647.9 990.3zM1684.4 989.0L1688.6 983.2L1686.5 983.1L1692.5 979.4L1690.9 986.3L1690.1 984.3L1685.8 990.0zM1696.8 989.1L1700.2 981.8L1698.1 982.0L1703.2 977.2L1703.0 984.3L1701.8 982.5L1698.5 989.9zM1734.5 989.1L1737.7 981.8L1735.6 982.1L1740.6 977.2L1740.5 984.2L1739.3 982.5L1736.1 989.9zM1547.4 1006.5L1554.0 1009.1L1553.7 1007.0L1558.7 1011.9L1551.7 1012.1L1553.4 1010.8L1546.7 1008.2zM1559.4 1006.5L1567.4 1005.1L1566.0 1003.6L1572.9 1005.2L1566.9 1008.9L1567.7 1006.9L1559.7 1008.2zM1647.0 1006.6L1653.7 1002.3L1651.8 1001.4L1658.7 1000.2L1654.7 1005.9L1654.7 1003.8L1647.9 1008.1zM1697.0 1006.8L1702.1 1001.0L1700.0 1000.6L1706.3 997.6L1704.0 1004.2L1703.4 1002.2L1698.3 1007.9zM1646.8 1042.4L1652.5 1036.8L1650.4 1036.3L1656.9 1033.7L1654.2 1040.1L1653.7 1038.1L1648.1 1043.7zM1584.5 1060.0L1591.9 1057.9L1590.4 1056.5L1597.4 1057.3L1591.9 1061.7L1592.4 1059.6L1584.9 1061.8zM1609.4 1060.1L1616.6 1056.4L1614.8 1055.3L1621.8 1054.7L1617.2 1060.1L1617.4 1058.0L1610.2 1061.7zM1684.3 1060.6L1686.2 1054.2L1684.2 1054.7L1688.6 1049.3L1689.3 1056.3L1687.9 1054.7L1686.0 1061.2zM1559.3 1077.9L1566.5 1075.5L1564.8 1074.1L1571.9 1074.6L1566.6 1079.3L1567.0 1077.2L1559.9 1079.6zM1584.5 1077.9L1591.2 1076.0L1589.6 1074.6L1596.6 1075.5L1591.0 1079.8L1591.6 1077.8L1584.9 1079.6zM1634.4 1078.0L1641.3 1073.5L1639.4 1072.6L1646.3 1071.3L1642.3 1077.1L1642.3 1075.0L1635.4 1079.5zM1646.9 1078.0L1652.3 1074.1L1650.4 1073.3L1657.2 1071.7L1653.5 1077.7L1653.4 1075.6L1648.0 1079.5zM1659.2 1078.3L1663.1 1071.6L1661.0 1071.7L1666.5 1067.4L1665.6 1074.3L1664.6 1072.5L1660.8 1079.2zM1571.8 1095.8L1578.6 1092.5L1576.8 1091.4L1583.8 1091.0L1579.1 1096.2L1579.3 1094.1L1572.5 1097.4zM1584.4 1095.7L1591.2 1093.5L1589.6 1092.1L1596.7 1092.6L1591.3 1097.2L1591.8 1095.2L1585.0 1097.5zM1696.8 1096.3L1699.2 1089.9L1697.1 1090.3L1701.9 1085.1L1702.2 1092.1L1700.9 1090.5L1698.5 1096.9zM1534.3 1113.6L1542.0 1111.5L1540.5 1110.0L1547.5 1110.9L1541.9 1115.2L1542.5 1113.2L1534.7 1115.3zM1546.4 1113.8L1552.0 1107.9L1550.0 1107.4L1556.4 1104.6L1553.9 1111.1L1553.4 1109.1L1547.7 1115.1zM1571.8 1113.6L1578.5 1110.8L1576.8 1109.5L1583.9 1109.5L1578.9 1114.5L1579.2 1112.4L1572.5 1115.3zM1810.0 1113.8L1814.6 1109.0L1812.5 1108.5L1818.9 1105.6L1816.4 1112.2L1815.9 1110.2L1811.3 1115.1zM1521.2 1131.8L1524.6 1126.1L1522.5 1126.1L1528.1 1121.9L1527.1 1128.9L1526.1 1127.0L1522.7 1132.8zM1797.4 1131.7L1802.7 1125.6L1800.6 1125.2L1806.9 1122.1L1804.7 1128.8L1804.1 1126.7L1798.8 1132.9zM1308.2 1149.3L1314.4 1146.3L1312.7 1145.2L1319.7 1144.8L1315.0 1150.0L1315.2 1147.9L1308.9 1151.0zM1370.8 1149.4L1376.2 1145.4L1374.2 1144.6L1381.0 1142.9L1377.4 1149.0L1377.2 1146.9L1371.8 1150.9zM1496.0 1149.8L1498.7 1143.2L1496.6 1143.5L1501.5 1138.5L1501.6 1145.5L1500.3 1143.8L1497.7 1150.5zM1772.1 1149.8L1775.3 1142.2L1773.2 1142.6L1778.2 1137.6L1778.2 1144.6L1776.9 1142.9L1773.8 1150.5zM1295.4 1167.3L1301.5 1162.3L1299.5 1161.6L1306.2 1159.6L1302.9 1165.8L1302.6 1163.7L1296.6 1168.7zM1383.1 1167.5L1387.1 1161.7L1385.0 1161.5L1391.0 1157.7L1389.5 1164.6L1388.6 1162.7L1384.6 1168.5z" fill="#40ecd4"/>
<path d="M1458.6 685.4L1464.5 680.6L1462.5 679.9L1469.3 677.9L1465.9 684.1L1465.6 682.0L1459.7 686.7zM1521.2 685.6L1524.6 680.0L1522.5 680.0L1528.2 675.9L1527.1 682.9L1526.2 681.0L1522.7 686.5zM1533.6 685.7L1535.9 679.4L1533.8 679.9L1538.5 674.6L1538.9 681.7L1537.6 680.0L1535.3 686.4zM1483.6 703.3L1488.0 698.2L1486.0 697.9L1492.3 694.8L1490.0 701.4L1489.4 699.4L1485.0 704.5zM1546.2 703.7L1547.8 696.6L1545.8 697.3L1549.8 691.6L1551.0 698.5L1549.5 697.0L1547.9 704.1zM1496.0 739.2L1499.3 733.5L1497.1 733.6L1502.7 729.2L1501.8 736.2L1500.8 734.4L1497.6 740.0zM1546.2 739.8L1544.7 732.8L1543.2 734.2L1544.5 727.3L1548.5 733.1L1546.5 732.4L1547.9 739.4zM1533.6 757.2L1535.2 750.5L1533.2 751.2L1537.3 745.5L1538.5 752.4L1537.0 750.9L1535.4 757.7zM1521.1 775.0L1523.5 767.5L1521.5 768.0L1526.0 762.6L1526.6 769.7L1525.2 768.1L1522.8 775.6zM1533.6 775.3L1533.8 767.7L1532.0 768.8L1534.8 762.3L1537.4 768.9L1535.6 767.8L1535.4 775.3zM1546.2 775.2L1547.3 768.1L1545.3 768.9L1549.0 762.9L1550.7 769.7L1549.1 768.4L1547.9 775.4zM1583.8 810.9L1584.6 803.9L1582.7 804.8L1586.1 798.6L1588.1 805.4L1586.4 804.1L1585.6 811.1zM1483.5 828.4L1487.6 821.9L1485.5 821.8L1491.2 817.8L1490.1 824.7L1489.1 822.8L1485.0 829.3zM1521.4 828.1L1526.8 823.9L1524.9 823.1L1531.6 821.2L1528.2 827.4L1527.9 825.3L1522.5 829.6zM1546.2 828.6L1548.2 822.1L1546.1 822.6L1550.6 817.2L1551.3 824.2L1549.9 822.6L1547.9 829.1zM1371.4 845.8L1378.1 846.6L1377.2 844.7L1383.3 848.2L1376.6 850.1L1377.9 848.4L1371.2 847.6zM1396.3 845.8L1402.8 845.0L1401.5 843.3L1408.2 845.2L1402.1 848.7L1403.0 846.8L1396.5 847.6zM1408.9 845.8L1416.7 845.6L1415.5 843.8L1422.1 846.3L1415.7 849.2L1416.7 847.4L1409.0 847.6zM1421.4 845.8L1428.1 844.6L1426.7 843.0L1433.6 844.5L1427.7 848.3L1428.5 846.3L1421.7 847.6zM1458.7 845.9L1465.6 842.0L1463.7 841.0L1470.7 840.1L1466.4 845.7L1466.5 843.5L1459.6 847.5zM1521.3 846.1L1526.8 840.3L1524.8 839.9L1531.2 837.1L1528.7 843.6L1528.1 841.6L1522.6 847.3zM1396.5 863.7L1403.9 864.0L1402.9 862.2L1409.3 865.2L1402.7 867.6L1403.9 865.8L1396.4 865.4zM1434.3 863.7L1441.7 865.7L1441.1 863.7L1446.7 868.0L1439.7 868.9L1441.2 867.5L1433.8 865.4zM1471.3 863.7L1478.4 860.4L1476.6 859.3L1483.7 858.9L1478.9 864.1L1479.2 862.0L1472.1 865.4zM1496.3 863.8L1502.0 860.0L1500.1 859.1L1507.0 857.8L1503.1 863.6L1503.0 861.5L1497.3 865.3zM1308.4 881.5L1315.8 879.8L1314.4 878.3L1321.3 879.5L1315.5 883.6L1316.2 881.6L1308.7 883.3zM1321.1 881.5L1328.3 881.4L1327.1 879.6L1333.7 882.1L1327.3 885.0L1328.3 883.2L1321.1 883.3zM1346.2 881.5L1352.8 881.5L1351.7 879.7L1358.2 882.5L1351.7 885.1L1352.8 883.3L1346.2 883.3zM1358.4 881.6L1365.7 878.3L1363.9 877.1L1371.0 876.9L1366.1 882.0L1366.4 879.9L1359.1 883.2zM1421.3 881.5L1427.7 880.2L1426.2 878.6L1433.2 879.9L1427.4 883.9L1428.1 881.9L1421.7 883.3zM1471.6 881.5L1479.5 880.1L1478.1 878.5L1485.0 880.1L1479.0 883.9L1479.8 881.9L1471.9 883.3zM1508.9 881.7L1515.2 877.1L1513.3 876.3L1520.2 874.7L1516.4 880.7L1516.3 878.6L1509.9 883.1zM1521.3 881.8L1526.3 876.5L1524.3 876.0L1530.7 873.2L1528.2 879.7L1527.6 877.7L1522.6 883.0zM1533.8 881.8L1538.8 876.4L1536.8 876.0L1543.2 873.1L1540.7 879.7L1540.1 877.6L1535.1 883.0zM1609.5 881.6L1617.0 878.7L1615.4 877.4L1622.4 877.7L1617.3 882.5L1617.7 880.4L1610.1 883.2zM1471.3 935.1L1478.0 932.0L1476.3 930.8L1483.3 930.5L1478.6 935.7L1478.8 933.6L1472.1 936.8zM1671.7 935.8L1673.2 927.7L1671.2 928.5L1675.0 922.5L1676.5 929.4L1674.9 928.0L1673.4 936.1zM1509.4 952.9L1516.9 953.0L1515.8 951.2L1522.3 954.0L1515.7 956.6L1516.9 954.8L1509.4 954.7zM1659.2 953.3L1662.6 947.6L1660.5 947.6L1666.2 943.4L1665.2 950.4L1664.2 948.5L1660.8 954.3zM1684.3 953.4L1687.7 946.4L1685.6 946.6L1690.9 942.0L1690.5 949.0L1689.3 947.2L1685.9 954.2zM1634.3 971.0L1639.3 966.7L1637.3 966.1L1644.0 963.9L1640.8 970.2L1640.5 968.1L1635.5 972.3zM1647.0 970.9L1653.4 966.6L1651.5 965.7L1658.4 964.3L1654.5 970.2L1654.4 968.1L1648.0 972.4zM1659.2 971.3L1662.4 963.9L1660.4 964.2L1665.5 959.4L1665.3 966.4L1664.1 964.7L1660.8 972.0zM1759.5 971.8L1758.1 963.7L1756.5 965.1L1758.0 958.2L1761.8 964.1L1759.9 963.4L1761.3 971.5zM1659.5 988.8L1665.9 983.9L1663.9 983.1L1670.7 981.3L1667.2 987.4L1667.0 985.3L1660.6 990.2zM1772.1 989.5L1771.9 983.0L1770.1 984.1L1772.6 977.5L1775.5 983.9L1773.7 982.9L1773.9 989.5zM1671.9 1006.8L1676.9 1000.5L1674.8 1000.2L1681.0 996.9L1679.0 1003.6L1678.3 1001.6L1673.3 1007.9zM1772.1 1007.1L1774.1 999.5L1772.1 1000.1L1776.3 994.5L1777.3 1001.5L1775.8 999.9L1773.8 1007.6zM1822.3 1007.2L1823.4 999.4L1821.5 1000.2L1825.0 994.2L1826.8 1001.0L1825.2 999.7L1824.1 1007.5zM1547.0 1024.3L1555.3 1023.8L1554.1 1022.1L1560.7 1024.4L1554.4 1027.5L1555.4 1025.6L1547.1 1026.1zM1622.2 1024.3L1630.2 1022.9L1628.8 1021.3L1635.6 1022.9L1629.7 1026.7L1630.5 1024.7L1622.5 1026.1zM1534.2 1042.2L1541.5 1039.5L1539.8 1038.2L1546.9 1038.5L1541.7 1043.2L1542.1 1041.2L1534.8 1043.9zM1572.2 1042.2L1580.1 1042.5L1579.1 1040.6L1585.5 1043.6L1578.9 1046.0L1580.1 1044.3L1572.1 1043.9zM1634.4 1042.3L1640.3 1038.5L1638.4 1037.6L1645.3 1036.4L1641.3 1042.2L1641.2 1040.1L1635.4 1043.8zM1672.2 1042.2L1679.2 1039.0L1677.5 1037.8L1684.5 1037.6L1679.7 1042.8L1680.0 1040.7L1672.9 1043.9zM1546.7 1060.1L1552.7 1057.4L1551.0 1056.2L1558.0 1056.1L1553.2 1061.2L1553.4 1059.1L1547.4 1061.7zM1572.1 1060.0L1579.1 1059.6L1577.9 1057.8L1584.5 1060.1L1578.2 1063.2L1579.2 1061.4L1572.2 1061.8zM1621.9 1060.1L1628.4 1056.1L1626.5 1055.2L1633.5 1054.1L1629.3 1059.8L1629.3 1057.7L1622.8 1061.7zM1634.2 1060.3L1638.6 1055.3L1636.5 1055.0L1642.8 1051.9L1640.6 1058.5L1639.9 1056.5L1635.6 1061.5zM1822.3 1060.8L1823.1 1053.3L1821.2 1054.2L1824.6 1048.0L1826.6 1054.8L1824.9 1053.5L1824.1 1061.0zM1433.8 1095.7L1441.3 1093.1L1439.7 1091.8L1446.7 1092.2L1441.5 1096.9L1441.9 1094.8L1434.4 1097.5zM1559.3 1095.7L1567.2 1093.3L1565.6 1091.9L1572.6 1092.6L1567.2 1097.1L1567.7 1095.0L1559.9 1097.5zM1308.3 1131.4L1314.8 1129.9L1313.3 1128.4L1320.3 1129.5L1314.5 1133.7L1315.2 1131.7L1308.8 1133.2zM1371.1 1131.4L1377.7 1129.5L1376.1 1128.1L1383.1 1128.8L1377.7 1133.2L1378.2 1131.2L1371.6 1133.2zM1320.5 1149.5L1325.3 1144.6L1323.2 1144.1L1329.7 1141.4L1327.1 1147.9L1326.6 1145.9L1321.7 1150.8zM1458.3 1149.9L1460.6 1143.1L1458.6 1143.5L1463.2 1138.2L1463.7 1145.3L1462.4 1143.6L1460.0 1150.4zM1822.4 1167.5L1826.2 1161.6L1824.1 1161.5L1829.9 1157.5L1828.7 1164.4L1827.7 1162.5L1823.9 1168.5z" fill="#50f4cc"/>
<path d="M1546.2 686.2L1544.9 679.6L1543.3 681.0L1544.8 674.1L1548.7 680.0L1546.7 679.3L1547.9 685.9zM1583.8 686.3L1581.4 678.6L1580.0 680.2L1580.6 673.2L1585.2 678.6L1583.1 678.1L1585.6 685.8zM1608.9 686.3L1606.9 679.9L1605.5 681.5L1606.1 674.5L1610.6 679.8L1608.6 679.3L1610.7 685.8zM1533.6 703.7L1535.0 696.9L1533.0 697.7L1536.9 691.8L1538.3 698.7L1536.7 697.3L1535.4 704.1zM1533.6 721.5L1535.6 715.2L1533.6 715.7L1538.1 710.3L1538.7 717.3L1537.4 715.7L1535.3 722.0zM1546.1 721.7L1546.3 713.9L1544.5 715.0L1547.3 708.5L1549.9 715.1L1548.1 713.9L1547.9 721.8zM1533.6 739.4L1534.9 732.3L1532.9 733.1L1536.7 727.2L1538.2 734.1L1536.7 732.7L1535.4 739.8zM1495.9 757.3L1497.1 750.3L1495.1 751.1L1498.9 745.2L1500.5 752.0L1498.9 750.6L1497.7 757.6zM1596.4 757.7L1594.0 749.8L1592.6 751.3L1593.3 744.3L1597.8 749.8L1595.7 749.2L1598.1 757.2zM1495.9 775.2L1496.7 767.7L1494.8 768.6L1498.1 762.4L1500.1 769.1L1498.5 767.9L1497.7 775.4zM1571.3 775.1L1572.7 768.4L1570.7 769.1L1574.7 763.3L1576.0 770.2L1574.5 768.8L1573.0 775.5zM1558.8 792.7L1562.1 786.7L1560.0 786.8L1565.5 782.4L1564.8 789.4L1563.7 787.6L1560.4 793.6zM1508.6 810.7L1511.7 803.1L1509.6 803.4L1514.6 798.4L1514.6 805.5L1513.3 803.8L1510.2 811.3zM1533.6 810.7L1536.4 803.0L1534.3 803.5L1539.1 798.3L1539.4 805.3L1538.1 803.7L1535.3 811.3zM1558.7 811.0L1558.3 803.0L1556.6 804.2L1559.0 797.6L1562.0 804.0L1560.1 803.0L1560.5 811.0zM1533.7 828.5L1536.5 821.3L1534.4 821.7L1539.3 816.6L1539.5 823.6L1538.2 822.0L1535.3 829.2zM1446.2 845.9L1452.5 842.5L1450.7 841.4L1457.7 840.7L1453.3 846.2L1453.4 844.1L1447.1 847.5zM1496.4 845.9L1503.1 841.7L1501.3 840.8L1508.2 839.7L1504.1 845.4L1504.1 843.3L1497.3 847.5zM1546.3 846.2L1550.4 840.2L1548.3 840.1L1554.2 836.2L1552.7 843.1L1551.9 841.2L1547.8 847.2zM1558.8 846.4L1561.8 839.2L1559.7 839.5L1564.7 834.5L1564.7 841.6L1563.5 839.9L1560.4 847.0zM1596.4 846.5L1598.4 838.6L1596.4 839.2L1600.7 833.6L1601.6 840.5L1600.2 839.0L1598.1 846.9zM1621.5 846.9L1620.1 840.3L1618.5 841.7L1619.8 834.8L1623.8 840.6L1621.8 839.9L1623.2 846.5zM1634.0 846.8L1633.4 840.3L1631.7 841.5L1633.8 834.8L1637.1 841.0L1635.2 840.1L1635.8 846.6zM1296.2 863.7L1302.6 865.4L1302.0 863.4L1307.6 867.7L1300.6 868.6L1302.2 867.2L1295.8 865.4zM1421.5 863.7L1428.5 863.5L1427.4 861.8L1433.9 864.4L1427.4 867.2L1428.5 865.3L1421.5 865.4zM1596.4 864.2L1599.7 857.4L1597.6 857.6L1602.9 852.9L1602.5 860.0L1601.4 858.2L1598.1 864.9zM1634.1 864.2L1637.6 856.7L1635.5 856.9L1640.7 852.2L1640.4 859.2L1639.2 857.4L1635.7 864.9zM1496.5 881.6L1503.3 878.4L1501.5 877.3L1508.5 877.0L1503.8 882.2L1504.0 880.1L1497.2 883.2zM1621.5 882.1L1624.2 875.3L1622.1 875.7L1627.0 870.6L1627.1 877.7L1625.9 876.0L1623.2 882.7zM1358.3 899.5L1365.5 895.7L1363.7 894.6L1370.7 893.9L1366.2 899.4L1366.3 897.3L1359.2 901.0zM1383.5 899.4L1390.4 896.2L1388.6 895.0L1395.6 894.7L1390.9 899.9L1391.1 897.8L1384.3 901.1zM1484.0 899.4L1491.7 896.6L1490.1 895.3L1497.1 895.6L1491.9 900.4L1492.4 898.3L1484.6 901.1zM1521.5 899.5L1528.8 895.5L1526.9 894.4L1533.9 893.7L1529.5 899.2L1529.6 897.0L1522.4 901.0zM1634.0 900.0L1636.0 892.2L1634.0 892.8L1638.2 887.2L1639.2 894.2L1637.8 892.6L1635.8 900.5zM1696.8 900.2L1697.7 892.1L1695.7 893.0L1699.2 886.9L1701.1 893.6L1699.4 892.3L1698.6 900.3zM1421.3 917.2L1427.7 915.6L1426.2 914.2L1433.2 915.2L1427.5 919.4L1428.1 917.4L1421.7 919.0zM1496.5 917.3L1503.7 913.9L1501.9 912.8L1508.9 912.4L1504.2 917.6L1504.4 915.5L1497.2 918.9zM1646.6 917.8L1648.7 911.5L1646.6 912.0L1651.3 906.7L1651.8 913.7L1650.4 912.1L1648.3 918.4zM1684.2 918.0L1685.3 910.9L1683.3 911.8L1686.9 905.7L1688.7 912.5L1687.0 911.2L1686.0 918.2zM1709.3 918.2L1708.2 910.9L1706.6 912.2L1708.3 905.4L1711.9 911.4L1710.0 910.6L1711.1 918.0zM1721.9 918.1L1722.3 910.2L1720.4 911.2L1723.4 904.8L1725.8 911.5L1724.1 910.3L1723.7 918.1zM1521.6 935.1L1529.2 931.9L1527.5 930.7L1534.5 930.6L1529.6 935.6L1529.9 933.6L1522.3 936.8zM1646.7 935.4L1650.8 929.6L1648.7 929.5L1654.6 925.7L1653.1 932.5L1652.3 930.6L1648.2 936.5zM1659.3 935.4L1663.4 930.2L1661.3 930.0L1667.4 926.5L1665.5 933.3L1664.8 931.3L1660.7 936.5zM1522.0 952.9L1529.1 953.7L1528.2 951.8L1534.3 955.3L1527.5 957.2L1528.8 955.5L1521.8 954.7zM1646.6 953.4L1649.6 946.5L1647.5 946.8L1652.6 941.9L1652.5 948.9L1651.3 947.2L1648.3 954.2zM1784.6 953.7L1785.6 946.8L1783.6 947.6L1787.2 941.5L1789.0 948.3L1787.4 947.0L1786.4 953.9zM1509.0 970.8L1515.8 967.4L1514.1 966.3L1521.1 965.9L1516.5 971.2L1516.6 969.1L1509.8 972.5zM1534.5 970.8L1542.3 970.5L1541.2 968.7L1547.8 971.2L1541.4 974.1L1542.4 972.3L1534.5 972.5zM1696.9 971.2L1701.1 964.7L1699.0 964.6L1704.8 960.7L1703.5 967.6L1702.6 965.7L1698.4 972.1zM1721.9 971.4L1724.3 964.2L1722.3 964.7L1726.9 959.4L1727.4 966.4L1726.0 964.8L1723.6 971.9zM1734.5 971.4L1736.4 965.0L1734.3 965.6L1738.8 960.1L1739.5 967.1L1738.1 965.5L1736.2 971.9zM1609.4 988.7L1616.7 985.3L1614.9 984.1L1621.9 983.8L1617.2 989.0L1617.4 986.9L1610.2 990.3zM1634.2 988.9L1638.8 983.8L1636.7 983.4L1643.1 980.4L1640.8 987.1L1640.2 985.0L1635.6 990.1zM1747.1 989.0L1751.1 982.6L1749.0 982.6L1754.7 978.4L1753.6 985.4L1752.6 983.5L1748.6 990.0zM1759.5 989.5L1759.9 982.6L1758.0 983.6L1761.1 977.2L1763.4 983.9L1761.7 982.7L1761.3 989.5zM1797.2 989.3L1799.1 982.4L1797.1 983.0L1801.5 977.4L1802.3 984.4L1800.9 982.9L1798.9 989.7zM1521.7 1006.5L1529.6 1004.3L1528.0 1002.9L1535.0 1003.7L1529.5 1008.1L1530.0 1006.0L1522.2 1008.2zM1534.4 1006.5L1541.3 1006.1L1540.1 1004.4L1546.7 1006.7L1540.3 1009.8L1541.3 1007.9L1534.5 1008.2zM1571.8 1006.5L1579.4 1003.7L1577.8 1002.4L1584.8 1002.7L1579.7 1007.4L1580.1 1005.4L1572.5 1008.2zM1584.5 1006.5L1591.0 1005.4L1589.6 1003.8L1596.5 1005.3L1590.5 1009.1L1591.3 1007.1L1584.8 1008.2zM1597.0 1006.5L1604.3 1003.9L1602.7 1002.6L1609.7 1003.0L1604.4 1007.7L1604.9 1005.6L1597.5 1008.2zM1609.5 1006.5L1615.8 1003.9L1614.1 1002.7L1621.2 1002.8L1616.2 1007.7L1616.5 1005.6L1610.1 1008.2zM1634.4 1006.6L1641.0 1001.7L1639.0 1000.9L1645.8 999.2L1642.2 1005.2L1642.0 1003.1L1635.4 1008.1zM1797.2 1007.0L1800.1 1000.0L1798.1 1000.3L1803.0 995.3L1803.0 1002.4L1801.8 1000.7L1798.9 1007.7zM1408.9 1024.3L1415.7 1023.8L1414.5 1022.1L1421.1 1024.4L1414.8 1027.5L1415.8 1025.6L1409.0 1026.1zM1809.7 1025.1L1810.5 1017.9L1808.6 1018.8L1812.0 1012.6L1814.0 1019.4L1812.3 1018.1L1811.5 1025.3zM1408.8 1042.2L1415.3 1041.1L1414.0 1039.5L1420.8 1041.2L1414.8 1044.9L1415.6 1042.9L1409.1 1043.9zM1547.1 1042.2L1554.0 1042.4L1552.9 1040.6L1559.3 1043.5L1552.7 1046.0L1553.9 1044.2L1547.0 1043.9zM1584.5 1042.2L1592.3 1040.5L1590.8 1038.9L1597.8 1040.2L1592.0 1044.2L1592.7 1042.2L1584.9 1043.9zM1597.3 1042.2L1605.3 1042.4L1604.2 1040.5L1610.6 1043.4L1604.1 1045.9L1605.2 1044.2L1597.2 1043.9zM1622.3 1042.2L1630.2 1041.3L1628.9 1039.6L1635.6 1041.6L1629.5 1045.0L1630.4 1043.1L1622.5 1043.9zM1822.4 1042.6L1826.0 1036.0L1823.9 1036.1L1829.4 1031.6L1828.6 1038.6L1827.6 1036.8L1824.0 1043.5zM1434.5 1060.1L1441.5 1064.0L1441.4 1061.9L1445.7 1067.5L1438.7 1066.6L1440.6 1065.6L1433.6 1061.7zM1547.0 1077.9L1554.0 1077.4L1552.8 1075.7L1559.4 1078.0L1553.1 1081.1L1554.1 1079.2L1547.1 1079.6zM1571.9 1077.9L1579.4 1075.5L1577.8 1074.2L1584.9 1074.8L1579.4 1079.3L1580.0 1077.3L1572.4 1079.6zM1622.2 1077.9L1629.3 1076.3L1627.9 1074.8L1634.8 1076.1L1629.0 1080.1L1629.7 1078.1L1622.5 1079.6zM1333.6 1113.6L1340.3 1113.2L1339.2 1111.5L1345.8 1113.9L1339.4 1116.9L1340.4 1115.0L1333.7 1115.3zM1458.7 1113.7L1464.3 1110.2L1462.4 1109.2L1469.3 1108.1L1465.3 1113.8L1465.3 1111.7L1459.7 1115.2zM1320.8 1131.4L1327.9 1129.3L1326.3 1127.9L1333.3 1128.6L1327.9 1133.1L1328.4 1131.0L1321.4 1133.2zM1370.5 1167.6L1373.9 1161.1L1371.8 1161.2L1377.1 1156.7L1376.6 1163.7L1375.5 1161.9L1372.1 1168.4z" fill="#60fac5"/>
<path d="M1558.7 686.0L1559.0 678.0L1557.1 679.0L1560.0 672.6L1562.5 679.2L1560.8 678.0L1560.5 686.1zM1571.3 703.7L1573.0 695.8L1571.0 696.5L1575.1 690.7L1576.3 697.6L1574.8 696.2L1573.0 704.1zM1558.7 721.7L1558.8 715.1L1556.9 716.2L1559.7 709.7L1562.3 716.2L1560.6 715.1L1560.5 721.8zM1558.7 739.5L1559.6 733.0L1557.6 733.8L1561.2 727.7L1563.0 734.5L1561.4 733.2L1560.5 739.7zM1583.8 739.8L1582.5 732.9L1580.9 734.3L1582.3 727.4L1586.2 733.3L1584.3 732.6L1585.6 739.4zM1621.5 739.5L1622.8 731.4L1620.9 732.2L1624.6 726.2L1626.2 733.1L1624.6 731.7L1623.2 739.7zM1546.2 757.2L1548.5 749.3L1546.5 749.9L1550.9 744.4L1551.7 751.4L1550.2 749.8L1547.9 757.7zM1558.7 757.6L1557.9 750.7L1556.2 752.0L1558.1 745.3L1561.6 751.4L1559.6 750.5L1560.5 757.3zM1571.3 757.6L1570.3 751.1L1568.7 752.4L1570.4 745.6L1574.0 751.6L1572.1 750.8L1573.0 757.3zM1558.7 775.4L1558.2 768.4L1556.5 769.6L1558.8 763.0L1561.9 769.3L1560.0 768.3L1560.5 775.2zM1583.8 775.5L1582.3 767.9L1580.7 769.4L1582.1 762.4L1586.0 768.3L1584.0 767.6L1585.6 775.1zM1608.9 775.4L1608.2 768.8L1606.5 770.1L1608.5 763.4L1611.9 769.5L1610.0 768.6L1610.7 775.2zM1596.4 793.4L1594.2 785.6L1592.7 787.1L1593.6 780.1L1597.9 785.7L1595.9 785.1L1598.1 792.9zM1646.6 810.9L1647.0 803.2L1645.2 804.2L1648.2 797.9L1650.5 804.5L1648.8 803.3L1648.4 811.1zM1558.7 828.6L1560.8 821.5L1558.8 822.0L1563.2 816.5L1564.0 823.5L1562.5 822.0L1560.5 829.1zM1583.8 829.0L1582.8 822.4L1581.2 823.7L1582.9 816.9L1586.5 822.9L1584.6 822.1L1585.6 828.7zM1596.3 828.8L1596.5 821.6L1594.6 822.7L1597.4 816.3L1600.0 822.8L1598.3 821.7L1598.1 828.9zM1533.9 846.0L1538.9 841.2L1536.9 840.7L1543.4 838.2L1540.6 844.6L1540.2 842.5L1535.1 847.4zM1583.9 846.3L1587.1 839.4L1585.0 839.6L1590.1 834.8L1589.9 841.9L1588.7 840.1L1585.5 847.1zM1608.9 846.6L1609.4 838.7L1607.5 839.7L1610.7 833.3L1612.9 840.0L1611.2 838.8L1610.7 846.8zM1333.8 863.7L1341.1 864.6L1340.3 862.6L1346.4 866.1L1339.6 868.0L1340.9 866.3L1333.5 865.4zM1458.9 863.7L1466.3 861.5L1464.7 860.1L1471.7 860.9L1466.2 865.3L1466.8 863.3L1459.4 865.4zM1608.9 864.5L1609.3 856.4L1607.4 857.4L1610.4 851.0L1612.8 857.6L1611.1 856.4L1610.7 864.6zM1371.3 881.5L1379.6 881.6L1378.5 879.7L1385.0 882.5L1378.5 885.1L1379.6 883.4L1371.3 883.3zM1396.6 881.5L1403.6 883.2L1403.0 881.2L1408.6 885.4L1401.7 886.5L1403.2 885.0L1396.2 883.3zM1634.0 882.6L1632.5 875.8L1631.0 877.3L1632.2 870.3L1636.3 876.1L1634.3 875.4L1635.8 882.2zM1671.7 882.5L1670.7 874.4L1669.0 875.7L1670.9 868.9L1674.4 875.0L1672.5 874.1L1673.5 882.3zM1434.0 899.4L1442.1 899.1L1441.0 897.3L1447.5 899.8L1441.1 902.7L1442.2 900.9L1434.1 901.1zM1496.2 899.6L1502.0 894.5L1500.0 893.9L1506.7 891.6L1503.6 897.9L1503.2 895.8L1497.4 900.9zM1509.0 899.5L1515.2 896.2L1513.4 895.1L1520.4 894.6L1515.9 899.9L1516.0 897.8L1509.8 901.0zM1371.1 917.2L1378.1 915.5L1376.6 914.0L1383.5 915.0L1377.9 919.2L1378.5 917.2L1371.5 919.0zM1396.3 935.1L1404.5 934.1L1403.2 932.4L1410.0 934.3L1403.9 937.8L1404.8 935.9L1396.5 936.8zM1509.2 935.1L1516.6 933.9L1515.2 932.3L1522.0 933.9L1516.1 937.6L1516.9 935.6L1509.5 936.8zM1684.3 935.5L1687.8 929.5L1685.7 929.5L1691.3 925.3L1690.4 932.3L1689.4 930.4L1685.9 936.4zM1696.9 953.3L1701.3 946.6L1699.2 946.6L1705.1 942.7L1703.7 949.6L1702.8 947.6L1698.4 954.3zM1709.3 953.6L1711.4 945.6L1709.4 946.2L1713.7 940.7L1714.6 947.6L1713.2 946.1L1711.1 954.0zM1747.0 953.6L1748.3 946.0L1746.4 946.8L1750.1 940.8L1751.7 947.7L1750.1 946.3L1748.8 954.0zM1747.0 971.4L1749.2 963.5L1747.2 964.0L1751.6 958.5L1752.4 965.5L1751.0 964.0L1748.7 971.9zM1772.1 971.8L1771.0 963.9L1769.3 965.2L1771.1 958.4L1774.7 964.5L1772.8 963.6L1773.9 971.5zM1509.1 988.6L1515.7 986.5L1514.1 985.1L1521.1 985.7L1515.7 990.3L1516.2 988.2L1509.7 990.4zM1559.4 988.6L1566.8 986.6L1565.3 985.2L1572.3 986.1L1566.7 990.4L1567.3 988.4L1559.8 990.4zM1784.6 1007.5L1783.7 1000.0L1782.0 1001.3L1783.9 994.5L1787.4 1000.6L1785.4 999.7L1786.4 1007.2zM1509.1 1024.4L1515.5 1021.8L1513.8 1020.6L1520.8 1020.7L1515.8 1025.6L1516.1 1023.5L1509.7 1026.0zM1534.3 1024.3L1542.1 1023.0L1540.7 1021.4L1547.6 1023.0L1541.6 1026.7L1542.4 1024.8L1534.6 1026.1zM1559.4 1024.3L1566.0 1022.9L1564.6 1021.4L1571.5 1022.6L1565.7 1026.6L1566.4 1024.6L1559.8 1026.1zM1597.1 1024.3L1605.2 1023.2L1603.8 1021.6L1610.6 1023.4L1604.6 1026.9L1605.4 1025.0L1597.4 1026.1zM1609.4 1024.4L1616.1 1020.9L1614.3 1019.8L1621.4 1019.3L1616.8 1024.7L1617.0 1022.5L1610.2 1026.0zM1634.4 1024.5L1640.2 1020.3L1638.3 1019.5L1645.1 1017.9L1641.4 1023.9L1641.3 1021.8L1635.4 1025.9zM1822.3 1025.0L1823.9 1018.7L1821.8 1019.3L1826.0 1013.6L1827.1 1020.6L1825.6 1019.1L1824.1 1025.4zM1409.0 1060.0L1416.3 1060.1L1415.3 1058.3L1421.7 1061.0L1415.2 1063.7L1416.3 1061.9L1409.0 1061.8zM1522.0 1060.0L1529.5 1060.4L1528.5 1058.5L1534.9 1061.5L1528.2 1063.9L1529.4 1062.2L1521.9 1061.8zM1559.5 1060.0L1566.7 1059.2L1565.4 1057.5L1572.1 1059.4L1566.0 1062.9L1566.9 1060.9L1559.7 1061.8zM1534.3 1077.9L1540.6 1076.2L1539.0 1074.7L1546.0 1075.6L1540.5 1079.9L1541.0 1077.9L1534.7 1079.6zM1295.8 1113.6L1302.9 1112.2L1301.5 1110.6L1308.4 1112.0L1302.5 1115.9L1303.2 1113.9L1296.2 1115.3zM1308.3 1113.6L1314.9 1111.8L1313.4 1110.4L1320.4 1111.3L1314.8 1115.6L1315.4 1113.6L1308.8 1115.3zM1320.8 1113.6L1327.8 1111.0L1326.1 1109.7L1333.1 1109.9L1328.0 1114.8L1328.4 1112.7L1321.4 1115.3zM1371.3 1113.6L1379.3 1113.5L1378.2 1111.7L1384.7 1114.4L1378.2 1117.1L1379.3 1115.3L1371.3 1115.3zM1446.6 1113.6L1453.7 1113.2L1452.5 1111.4L1459.1 1113.8L1452.7 1116.8L1453.7 1115.0L1446.7 1115.3zM1559.4 1113.6L1565.9 1112.2L1564.4 1110.6L1571.3 1111.9L1565.6 1115.9L1566.3 1113.9L1559.8 1115.3zM1296.0 1131.4L1303.6 1131.2L1302.5 1129.4L1309.0 1131.9L1302.6 1134.8L1303.7 1133.0L1296.0 1133.2zM1358.5 1131.4L1366.4 1129.5L1364.9 1128.0L1371.9 1129.1L1366.2 1133.2L1366.9 1131.2L1359.0 1133.2zM1333.2 1149.4L1339.9 1145.6L1338.0 1144.6L1345.0 1143.7L1340.7 1149.2L1340.8 1147.1L1334.1 1150.9z" fill="#70febc"/>
<path d="M1571.3 686.2L1569.8 678.9L1568.2 680.3L1569.6 673.4L1573.5 679.3L1571.5 678.5L1573.0 685.9zM1558.7 704.1L1556.8 697.3L1555.4 698.8L1556.3 691.8L1560.6 697.4L1558.6 696.8L1560.5 703.7zM1596.4 703.7L1597.5 697.3L1595.5 698.1L1599.3 692.1L1600.8 699.0L1599.3 697.6L1598.1 704.1zM1583.8 721.8L1583.6 714.7L1581.8 715.9L1584.4 709.3L1587.2 715.8L1585.4 714.7L1585.6 721.7zM1596.3 721.7L1596.7 714.4L1594.9 715.4L1597.9 709.1L1600.3 715.7L1598.5 714.5L1598.1 721.8zM1571.3 739.9L1569.0 733.3L1567.7 734.9L1568.1 727.9L1572.8 733.1L1570.7 732.7L1573.0 739.3zM1596.3 739.5L1596.8 732.4L1594.9 733.4L1598.0 727.1L1600.3 733.7L1598.6 732.5L1598.1 739.7zM1609.0 740.0L1605.6 732.8L1604.4 734.5L1604.1 727.5L1609.3 732.2L1607.2 732.0L1610.6 739.2zM1583.8 757.7L1582.0 749.8L1580.5 751.2L1581.6 744.3L1585.7 750.0L1583.7 749.3L1585.6 757.2zM1608.9 757.6L1607.5 751.0L1606.0 752.4L1607.3 745.5L1611.3 751.3L1609.3 750.6L1610.7 757.3zM1621.5 757.7L1619.8 751.3L1618.4 752.9L1619.3 745.9L1623.6 751.5L1621.6 750.9L1623.2 757.2zM1684.3 775.6L1682.0 768.8L1680.7 770.4L1681.2 763.4L1685.8 768.7L1683.7 768.2L1686.0 775.0zM1546.2 793.0L1547.3 786.3L1545.4 787.1L1549.1 781.2L1550.7 788.0L1549.1 786.6L1547.9 793.3zM1583.8 793.2L1583.1 786.5L1581.4 787.8L1583.4 781.0L1586.8 787.2L1584.9 786.3L1585.6 793.1zM1634.0 793.3L1632.9 785.8L1631.3 787.2L1633.0 780.3L1636.6 786.4L1634.7 785.6L1635.8 793.0zM1608.9 811.1L1608.4 804.5L1606.7 805.8L1608.9 799.1L1612.1 805.4L1610.2 804.4L1610.7 810.9zM1571.3 828.7L1572.1 822.0L1570.2 822.8L1573.7 816.7L1575.5 823.5L1573.9 822.2L1573.0 829.0zM1608.9 829.1L1606.8 821.6L1605.4 823.1L1606.2 816.1L1610.6 821.6L1608.5 821.1L1610.7 828.6zM1659.1 828.8L1659.5 821.2L1657.6 822.2L1660.6 815.8L1663.0 822.5L1661.3 821.3L1660.9 828.9zM1571.3 846.4L1573.7 839.8L1571.6 840.2L1576.3 835.0L1576.7 842.0L1575.4 840.4L1573.0 847.0zM1709.3 846.8L1708.8 838.7L1707.1 839.9L1709.4 833.2L1712.5 839.5L1710.6 838.6L1711.1 846.6zM1721.9 846.8L1721.3 839.9L1719.6 841.2L1721.7 834.5L1725.0 840.7L1723.1 839.8L1723.7 846.6zM1621.5 864.4L1622.3 857.3L1620.4 858.2L1623.9 852.0L1625.8 858.8L1624.1 857.5L1623.2 864.7zM1659.1 864.5L1659.8 857.7L1657.9 858.6L1661.2 852.4L1663.2 859.2L1661.5 857.9L1660.9 864.6zM1734.4 864.5L1734.6 856.7L1732.7 857.8L1735.5 851.3L1738.1 857.9L1736.4 856.8L1736.2 864.6zM1296.1 881.5L1302.8 882.1L1301.9 880.2L1308.1 883.4L1301.4 885.6L1302.7 883.9L1295.9 883.3zM1433.9 881.5L1441.4 880.3L1440.0 878.7L1446.9 880.3L1440.9 884.0L1441.7 882.0L1434.2 883.3zM1646.6 882.5L1646.1 875.6L1644.4 876.9L1646.7 870.2L1649.8 876.5L1647.9 875.5L1648.4 882.3zM1659.1 882.4L1659.0 874.9L1657.2 876.0L1659.9 869.5L1662.6 876.0L1660.8 874.9L1660.9 882.4zM1684.2 882.4L1683.9 874.9L1682.1 876.1L1684.5 869.4L1687.5 875.8L1685.7 874.8L1686.0 882.4zM1333.2 899.4L1339.4 896.4L1337.6 895.2L1344.6 894.7L1340.0 900.1L1340.2 898.0L1334.1 901.1zM1345.7 899.5L1351.5 895.7L1349.6 894.8L1356.5 893.5L1352.5 899.3L1352.5 897.2L1346.7 901.0zM1371.1 899.4L1377.5 897.7L1376.0 896.2L1383.0 897.2L1377.4 901.5L1378.0 899.4L1371.5 901.1zM1396.5 899.4L1404.4 899.8L1403.4 898.0L1409.8 901.0L1403.1 903.4L1404.3 901.6L1396.4 901.1zM1409.1 899.4L1415.8 900.4L1415.0 898.5L1421.0 902.1L1414.1 903.8L1415.5 902.2L1408.8 901.1zM1421.4 899.4L1429.1 898.3L1427.8 896.7L1434.6 898.5L1428.5 902.0L1429.4 900.1L1421.6 901.1zM1471.4 899.4L1478.1 897.1L1476.5 895.8L1483.6 896.3L1478.2 900.9L1478.7 898.9L1472.0 901.1zM1646.6 900.1L1647.9 892.2L1646.0 893.0L1649.7 887.0L1651.3 893.9L1649.7 892.5L1648.3 900.4zM1659.1 900.1L1660.5 893.0L1658.5 893.8L1662.4 887.9L1663.8 894.8L1662.3 893.4L1660.9 900.4zM1671.7 900.2L1672.4 892.8L1670.5 893.7L1673.8 887.5L1675.9 894.2L1674.2 892.9L1673.5 900.3zM1346.1 917.2L1353.9 915.9L1352.6 914.3L1359.4 915.9L1353.4 919.6L1354.2 917.7L1346.4 919.0zM1358.5 917.2L1365.4 915.0L1363.8 913.6L1370.8 914.1L1365.5 918.7L1365.9 916.7L1359.0 919.0zM1383.5 917.3L1390.0 914.4L1388.3 913.2L1395.3 913.0L1390.5 918.1L1390.7 916.0L1384.2 918.9zM1408.6 917.3L1416.0 913.8L1414.2 912.7L1421.2 912.3L1416.5 917.6L1416.7 915.5L1409.4 918.9zM1434.4 917.3L1442.0 920.3L1441.6 918.2L1446.7 923.2L1439.6 923.2L1441.3 922.0L1433.7 918.9zM1471.8 917.2L1478.3 917.7L1477.4 915.8L1483.6 919.0L1476.9 921.2L1478.2 919.5L1471.7 919.0zM1659.2 917.7L1662.4 910.6L1660.3 910.9L1665.5 906.1L1665.2 913.1L1664.1 911.3L1660.8 918.5zM1671.7 918.0L1672.4 909.8L1670.5 910.8L1673.8 904.5L1675.9 911.2L1674.2 910.0L1673.5 918.2zM1484.4 935.1L1492.6 936.5L1491.8 934.5L1497.8 938.3L1490.9 939.8L1492.3 938.3L1484.1 936.8zM1496.9 935.1L1504.8 935.5L1503.8 933.6L1510.2 936.6L1503.6 939.0L1504.7 937.3L1496.8 936.8zM1696.8 936.2L1695.0 928.3L1693.5 929.8L1694.7 922.9L1698.7 928.6L1696.7 927.9L1698.5 935.7zM1734.5 935.5L1738.1 929.5L1736.0 929.6L1741.6 925.4L1740.6 932.3L1739.6 930.5L1736.1 936.4zM1421.3 952.9L1428.3 951.3L1426.8 949.8L1433.8 951.0L1428.0 955.1L1428.7 953.1L1421.7 954.7zM1459.3 952.9L1467.1 953.6L1466.2 951.7L1472.4 955.0L1465.7 957.1L1467.0 955.4L1459.1 954.7zM1722.0 953.3L1726.2 946.8L1724.1 946.8L1729.9 942.8L1728.6 949.7L1727.7 947.8L1723.5 954.3zM1797.2 953.5L1799.9 946.3L1797.9 946.7L1802.7 941.6L1802.9 948.6L1801.6 947.0L1798.9 954.1zM1484.3 970.8L1491.7 971.1L1490.7 969.2L1497.0 972.2L1490.4 974.6L1491.6 972.9L1484.2 972.5zM1496.9 970.8L1504.4 971.4L1503.4 969.5L1509.7 972.7L1503.0 974.9L1504.2 973.1L1496.8 972.5zM1484.2 988.6L1492.1 988.1L1490.9 986.4L1497.6 988.7L1491.2 991.8L1492.2 989.9L1484.3 990.4zM1496.7 988.6L1503.7 987.3L1502.3 985.8L1509.2 987.2L1503.3 991.1L1504.0 989.1L1497.0 990.4zM1522.0 988.6L1529.2 988.8L1528.2 987.0L1534.6 989.9L1528.0 992.4L1529.2 990.6L1521.9 990.4zM1784.6 989.5L1785.0 982.1L1783.1 983.1L1786.1 976.8L1788.5 983.4L1786.8 982.2L1786.4 989.5zM1809.7 989.7L1808.5 982.7L1806.9 984.1L1808.4 977.2L1812.2 983.1L1810.3 982.4L1811.5 989.3zM1822.3 989.6L1821.0 981.5L1819.4 982.8L1821.0 976.0L1824.7 982.0L1822.8 981.2L1824.1 989.4zM1383.5 1006.5L1390.8 1003.8L1389.1 1002.5L1396.2 1002.8L1391.0 1007.6L1391.4 1005.5L1384.2 1008.2zM1496.9 1024.3L1505.0 1025.1L1504.1 1023.2L1510.3 1026.5L1503.6 1028.5L1504.9 1026.8L1496.7 1026.1zM1521.8 1024.3L1529.0 1023.3L1527.7 1021.7L1534.5 1023.4L1528.4 1027.0L1529.3 1025.1L1522.1 1026.1zM1421.5 1042.2L1429.1 1041.9L1428.0 1040.1L1434.6 1042.6L1428.2 1045.5L1429.2 1043.7L1421.6 1043.9zM1497.0 1042.2L1504.6 1043.4L1503.8 1041.4L1509.8 1045.1L1502.9 1046.8L1504.3 1045.2L1496.7 1043.9zM1559.2 1042.2L1565.9 1038.9L1564.1 1037.8L1571.1 1037.4L1566.5 1042.7L1566.7 1040.6L1560.0 1043.9zM1396.3 1060.0L1402.9 1059.4L1401.6 1057.7L1408.4 1059.8L1402.1 1063.1L1403.1 1061.2L1396.5 1061.8zM1496.6 1060.0L1504.3 1057.9L1502.8 1056.5L1509.8 1057.3L1504.2 1061.7L1504.8 1059.6L1497.1 1061.8zM1509.3 1060.0L1516.4 1059.0L1515.0 1057.4L1521.8 1059.2L1515.8 1062.8L1516.6 1060.8L1509.5 1061.8zM1534.5 1060.0L1541.4 1060.3L1540.4 1058.4L1546.7 1061.4L1540.1 1063.8L1541.3 1062.1L1534.5 1061.8zM1409.1 1077.9L1415.6 1078.5L1414.7 1076.6L1420.9 1079.9L1414.2 1081.9L1415.4 1080.3L1408.9 1079.6zM1371.1 1095.7L1378.0 1094.2L1376.5 1092.7L1383.4 1093.9L1377.7 1098.0L1378.4 1096.0L1371.5 1097.5zM1383.7 1095.7L1391.2 1094.2L1389.8 1092.7L1396.7 1094.0L1390.9 1098.0L1391.6 1096.0L1384.0 1097.5zM1333.6 1131.4L1341.3 1130.7L1340.1 1129.0L1346.8 1131.1L1340.6 1134.4L1341.5 1132.5L1333.7 1133.2z" fill="#80ffb4"/>
<path d="M1797.2 686.2L1795.6 679.1L1794.1 680.5L1795.4 673.6L1799.4 679.4L1797.4 678.7L1799.0 685.9zM1583.8 703.6L1586.2 696.6L1584.2 697.1L1588.8 691.8L1589.3 698.8L1587.9 697.2L1585.5 704.2zM1621.5 704.0L1621.0 696.6L1619.2 697.8L1621.5 691.2L1624.6 697.5L1622.8 696.5L1623.3 703.8zM1634.0 703.9L1634.0 696.8L1632.2 697.9L1634.9 691.4L1637.6 697.9L1635.8 696.8L1635.8 703.9zM1634.0 757.4L1634.3 750.2L1632.4 751.3L1635.4 744.9L1637.8 751.5L1636.1 750.3L1635.8 757.5zM1596.4 775.4L1595.6 768.6L1594.0 769.9L1595.9 763.1L1599.3 769.3L1597.4 768.4L1598.1 775.2zM1646.6 775.3L1646.7 768.3L1644.9 769.3L1647.8 762.9L1650.3 769.5L1648.5 768.3L1648.4 775.3zM1571.2 793.1L1571.6 786.0L1569.8 787.0L1572.9 780.7L1575.2 787.3L1573.4 786.1L1573.0 793.2zM1621.5 792.9L1623.2 786.0L1621.2 786.6L1625.4 781.0L1626.4 787.9L1625.0 786.4L1623.2 793.4zM1634.0 811.0L1633.8 804.5L1632.0 805.6L1634.5 799.0L1637.4 805.4L1635.6 804.4L1635.8 811.0zM1621.5 828.7L1622.6 821.2L1620.7 822.0L1624.4 816.0L1626.0 822.8L1624.4 821.4L1623.2 829.0zM1634.0 828.9L1633.4 821.7L1631.7 823.0L1633.9 816.3L1637.1 822.5L1635.2 821.6L1635.8 828.8zM1646.6 829.0L1645.1 821.2L1643.5 822.6L1645.0 815.8L1648.9 821.6L1646.9 820.9L1648.3 828.7zM1646.6 847.1L1643.3 840.2L1642.1 842.0L1641.7 834.9L1647.0 839.6L1644.9 839.4L1648.3 846.3zM1646.6 864.3L1648.1 857.8L1646.1 858.5L1650.2 852.8L1651.3 859.7L1649.8 858.2L1648.3 864.8zM1671.7 864.6L1671.5 856.8L1669.7 858.0L1672.3 851.4L1675.1 857.9L1673.3 856.8L1673.5 864.5zM1696.8 864.6L1696.4 858.1L1694.6 859.3L1696.9 852.6L1700.0 859.0L1698.1 858.0L1698.6 864.5zM1709.3 864.6L1709.3 856.7L1707.5 857.8L1710.2 851.3L1712.9 857.8L1711.1 856.7L1711.1 864.5zM1320.9 899.4L1328.5 897.9L1327.1 896.4L1334.0 897.8L1328.1 901.7L1328.9 899.7L1321.3 901.1zM1446.5 899.4L1453.2 898.5L1451.9 896.8L1458.7 898.7L1452.6 902.2L1453.5 900.3L1446.7 901.1zM1684.2 900.0L1686.1 893.5L1684.0 894.1L1688.4 888.6L1689.2 895.6L1687.8 894.0L1686.0 900.5zM1333.4 917.2L1340.8 915.4L1339.3 913.9L1346.2 915.0L1340.5 919.2L1341.2 917.2L1333.9 919.0zM1459.2 917.2L1465.8 917.5L1464.8 915.6L1471.2 918.6L1464.6 921.0L1465.8 919.3L1459.1 919.0zM1383.9 935.1L1392.1 935.4L1391.0 933.6L1397.4 936.5L1390.8 939.0L1392.0 937.2L1383.8 936.8zM1409.0 935.1L1416.7 935.7L1415.8 933.8L1422.1 937.0L1415.4 939.2L1416.6 937.5L1408.9 936.8zM1446.6 935.1L1453.8 935.1L1452.7 933.3L1459.2 936.1L1452.7 938.7L1453.8 936.9L1446.6 936.8zM1772.1 936.0L1771.7 929.2L1770.0 930.4L1772.4 923.8L1775.4 930.1L1773.5 929.1L1773.9 935.9zM1358.5 952.9L1365.0 951.0L1363.4 949.6L1370.4 950.2L1365.0 954.7L1365.5 952.7L1359.0 954.7zM1446.5 952.9L1453.9 951.9L1452.5 950.3L1459.3 952.1L1453.2 955.7L1454.1 953.7L1446.7 954.7zM1484.3 952.9L1491.0 953.1L1489.9 951.2L1496.3 954.1L1489.8 956.6L1490.9 954.9L1484.3 954.7zM1496.7 952.9L1503.6 951.5L1502.1 950.0L1509.1 951.3L1503.2 955.2L1503.9 953.3L1497.0 954.7zM1759.6 953.5L1761.9 945.7L1759.9 946.3L1764.3 940.8L1765.0 947.8L1763.6 946.2L1761.3 954.1zM1458.6 970.9L1464.9 966.2L1462.9 965.4L1469.7 963.6L1466.2 969.7L1466.0 967.6L1459.7 972.4zM1784.6 971.8L1783.3 964.3L1781.7 965.7L1783.3 958.9L1787.1 964.8L1785.1 964.0L1786.4 971.5zM1809.8 971.4L1812.0 964.7L1809.9 965.2L1814.6 959.9L1815.1 966.9L1813.7 965.3L1811.5 971.9zM1434.2 988.6L1442.0 989.7L1441.2 987.8L1447.2 991.4L1440.4 993.1L1441.7 991.5L1433.9 990.4zM1421.6 1006.5L1428.2 1006.8L1427.2 1005.0L1433.5 1008.0L1426.9 1010.4L1428.1 1008.6L1421.5 1008.2zM1496.7 1006.5L1503.7 1005.7L1502.5 1004.0L1509.2 1006.0L1503.0 1009.4L1503.9 1007.5L1496.9 1008.2zM1809.8 1007.1L1811.4 1000.4L1809.4 1001.0L1813.6 995.4L1814.7 1002.3L1813.2 1000.8L1811.5 1007.6zM1471.7 1024.3L1479.3 1023.9L1478.2 1022.2L1484.8 1024.6L1478.4 1027.6L1479.4 1025.7L1471.8 1026.1zM1434.1 1042.2L1442.4 1042.5L1441.3 1040.7L1447.7 1043.7L1441.1 1046.1L1442.3 1044.3L1434.0 1043.9zM1521.8 1042.2L1528.6 1040.8L1527.2 1039.2L1534.1 1040.6L1528.2 1044.5L1529.0 1042.5L1522.1 1043.9zM1446.5 1060.0L1453.6 1059.1L1452.2 1057.5L1459.0 1059.3L1452.9 1062.8L1453.8 1060.9L1446.7 1061.8zM1459.1 1060.0L1467.4 1059.5L1466.2 1057.8L1472.8 1060.1L1466.5 1063.2L1467.5 1061.3L1459.2 1061.8zM1421.5 1077.9L1429.2 1077.9L1428.1 1076.1L1434.6 1078.8L1428.1 1081.5L1429.2 1079.7L1421.5 1079.6zM1458.9 1095.8L1465.4 1093.3L1463.7 1092.0L1470.8 1092.3L1465.6 1097.1L1466.0 1095.0L1459.5 1097.4zM1358.8 1113.6L1366.5 1114.2L1365.6 1112.4L1371.8 1115.6L1365.1 1117.7L1366.3 1116.0L1358.7 1115.3zM1345.9 1131.5L1353.2 1128.8L1351.5 1127.5L1358.5 1127.7L1353.4 1132.5L1353.8 1130.4L1346.5 1133.1z" fill="#90feab"/>
<path d="M1596.3 686.1L1596.2 678.9L1594.5 680.0L1597.0 673.5L1599.8 680.0L1598.0 678.9L1598.1 686.0zM1608.9 703.8L1609.3 697.3L1607.4 698.3L1610.6 692.0L1612.8 698.7L1611.1 697.5L1610.7 704.0zM1621.5 721.7L1621.9 713.5L1620.1 714.5L1623.1 708.1L1625.5 714.8L1623.7 713.6L1623.3 721.8zM1634.0 739.4L1635.2 733.0L1633.2 733.7L1637.1 727.8L1638.5 734.7L1637.0 733.3L1635.8 739.8zM1646.6 739.6L1646.5 731.7L1644.7 732.9L1647.4 726.3L1650.1 732.8L1648.3 731.7L1648.4 739.6zM1822.3 757.2L1824.3 750.9L1822.2 751.5L1826.7 746.0L1827.4 753.0L1826.0 751.5L1824.0 757.7zM1621.5 775.4L1620.3 768.0L1618.7 769.4L1620.4 762.6L1624.1 768.6L1622.1 767.8L1623.2 775.2zM1634.0 775.3L1634.1 768.5L1632.3 769.6L1635.0 763.1L1637.7 769.6L1635.9 768.5L1635.8 775.3zM1646.6 793.2L1646.0 784.9L1644.3 786.2L1646.5 779.5L1649.7 785.8L1647.8 784.8L1648.4 793.1zM1659.1 793.1L1659.7 785.2L1657.8 786.1L1661.0 779.9L1663.2 786.5L1661.5 785.3L1660.9 793.2zM1596.3 811.0L1596.2 804.4L1594.4 805.5L1597.0 799.0L1599.8 805.4L1598.0 804.3L1598.1 811.0zM1659.1 811.0L1659.0 803.4L1657.2 804.6L1659.9 798.0L1662.6 804.5L1660.8 803.4L1660.9 811.0zM1696.8 811.3L1694.8 804.9L1693.4 806.5L1694.1 799.5L1698.6 804.9L1696.5 804.3L1698.5 810.7zM1671.7 828.8L1672.1 821.2L1670.2 822.2L1673.3 815.9L1675.6 822.5L1673.9 821.3L1673.5 828.9zM1721.9 829.0L1720.4 821.4L1718.9 822.8L1720.3 815.9L1724.2 821.8L1722.2 821.1L1723.7 828.7zM1659.1 846.7L1659.1 839.9L1657.3 841.0L1660.0 834.5L1662.7 841.0L1660.9 839.9L1660.9 846.7zM1734.4 846.7L1734.7 838.8L1732.8 839.9L1735.8 833.5L1738.2 840.1L1736.5 838.9L1736.2 846.7zM1696.8 882.3L1697.4 874.1L1695.5 875.1L1698.7 868.8L1700.9 875.5L1699.2 874.3L1698.6 882.5zM1721.9 882.6L1720.2 875.6L1718.7 877.1L1719.8 870.1L1724.0 875.8L1722.0 875.2L1723.6 882.2zM1809.7 882.6L1808.3 875.0L1806.7 876.4L1808.2 869.5L1812.0 875.4L1810.1 874.6L1811.5 882.2zM1295.7 899.4L1302.2 897.0L1300.6 895.7L1307.6 896.0L1302.4 900.8L1302.8 898.7L1296.3 901.1zM1308.2 899.4L1314.6 897.0L1313.0 895.7L1320.0 896.0L1314.8 900.8L1315.2 898.7L1308.9 901.1zM1459.1 899.4L1466.1 898.5L1464.8 896.8L1471.6 898.7L1465.5 902.2L1466.3 900.2L1459.3 901.1zM1721.9 900.3L1721.7 892.2L1719.9 893.3L1722.5 886.8L1725.3 893.2L1723.5 892.2L1723.7 900.2zM1396.3 917.2L1403.6 916.4L1402.3 914.7L1409.0 916.7L1402.9 920.1L1403.8 918.2L1396.5 919.0zM1446.5 917.2L1454.1 916.4L1452.8 914.7L1459.6 916.7L1453.4 920.1L1454.3 918.2L1446.7 919.0zM1483.9 917.3L1490.9 913.7L1489.1 912.6L1496.1 912.0L1491.6 917.4L1491.7 915.2L1484.7 918.9zM1696.8 917.9L1698.8 910.5L1696.8 911.1L1701.1 905.6L1702.0 912.5L1700.5 911.0L1698.5 918.3zM1734.4 917.9L1736.3 910.3L1734.3 911.0L1738.4 905.3L1739.5 912.2L1738.0 910.8L1736.2 918.3zM1747.0 918.2L1746.2 910.2L1744.5 911.4L1746.6 904.7L1749.9 910.9L1748.0 910.0L1748.8 918.0zM1358.5 935.1L1365.6 933.3L1364.1 931.8L1371.1 932.9L1365.4 937.1L1366.0 935.1L1359.0 936.8zM1371.2 935.1L1377.7 934.1L1376.4 932.5L1383.2 934.2L1377.1 937.8L1378.0 935.9L1371.4 936.8zM1421.6 935.1L1429.1 935.5L1428.1 933.6L1434.5 936.7L1427.8 939.0L1429.0 937.3L1421.5 936.8zM1459.3 935.1L1466.8 936.0L1465.9 934.1L1472.0 937.6L1465.2 939.4L1466.5 937.8L1459.1 936.8zM1709.4 935.7L1711.7 928.1L1709.7 928.6L1714.2 923.2L1714.8 930.2L1713.5 928.6L1711.1 936.2zM1721.9 935.8L1723.4 927.7L1721.4 928.4L1725.3 922.6L1726.7 929.4L1725.2 928.0L1723.7 936.1zM1383.7 952.9L1391.7 951.3L1390.3 949.7L1397.2 951.1L1391.4 955.0L1392.1 953.0L1384.0 954.7zM1396.4 952.9L1403.7 952.9L1402.6 951.1L1409.1 953.9L1402.6 956.5L1403.7 954.7L1396.4 954.7zM1471.9 952.9L1479.3 954.1L1478.5 952.1L1484.5 955.8L1477.6 957.5L1479.0 955.9L1471.6 954.7zM1809.7 953.7L1810.3 947.1L1808.4 948.1L1811.7 941.8L1813.8 948.5L1812.1 947.3L1811.5 953.9zM1446.6 970.8L1453.2 970.7L1452.1 968.9L1458.7 971.6L1452.2 974.3L1453.3 972.5L1446.6 972.5zM1471.5 970.8L1479.3 968.3L1477.7 966.9L1484.7 967.5L1479.4 972.0L1479.9 970.0L1472.0 972.5zM1797.2 971.5L1798.3 963.4L1796.4 964.2L1800.0 958.2L1801.8 965.0L1800.1 963.6L1799.0 971.8zM1396.4 988.6L1403.8 988.3L1402.6 986.5L1409.2 989.0L1402.8 991.9L1403.9 990.1L1396.5 990.4zM1408.9 988.6L1416.2 988.3L1415.0 986.6L1421.6 989.0L1415.2 992.0L1416.2 990.1L1409.0 990.4zM1409.1 1006.5L1416.2 1007.2L1415.3 1005.3L1421.4 1008.7L1414.7 1010.7L1416.0 1009.0L1408.9 1008.2zM1446.7 1006.5L1453.6 1007.0L1452.6 1005.1L1458.9 1008.3L1452.2 1010.5L1453.5 1008.8L1446.6 1008.2zM1471.4 1006.5L1478.4 1004.1L1476.7 1002.8L1483.8 1003.2L1478.5 1007.9L1478.9 1005.8L1472.0 1008.2zM1484.4 1006.5L1491.4 1007.3L1490.5 1005.4L1496.6 1008.8L1489.9 1010.7L1491.2 1009.1L1484.2 1008.2zM1509.4 1006.5L1516.9 1006.6L1515.8 1004.8L1522.3 1007.6L1515.7 1010.2L1516.9 1008.4L1509.4 1008.2zM1421.2 1024.3L1427.8 1022.2L1426.2 1020.8L1433.2 1021.3L1427.9 1025.9L1428.4 1023.9L1421.8 1026.1zM1433.9 1024.3L1441.3 1022.6L1439.8 1021.1L1446.8 1022.2L1441.1 1026.3L1441.7 1024.3L1434.3 1026.1zM1371.4 1042.2L1378.3 1043.0L1377.4 1041.0L1383.6 1044.5L1376.8 1046.4L1378.1 1044.8L1371.2 1043.9zM1383.9 1042.2L1390.8 1042.1L1389.7 1040.3L1396.2 1042.9L1389.7 1045.7L1390.8 1043.9L1383.9 1043.9zM1446.4 1042.2L1454.1 1039.9L1452.5 1038.5L1459.5 1039.2L1454.0 1043.6L1454.6 1041.6L1446.9 1043.9zM1459.3 1042.2L1467.5 1043.2L1466.7 1041.3L1472.8 1044.8L1466.0 1046.7L1467.3 1045.0L1459.1 1043.9zM1509.4 1042.2L1516.8 1042.0L1515.7 1040.3L1522.3 1042.9L1515.8 1045.7L1516.9 1043.8L1509.4 1043.9zM1383.8 1060.0L1390.4 1059.2L1389.0 1057.5L1395.8 1059.4L1389.7 1062.9L1390.6 1061.0L1384.0 1061.8zM1421.2 1060.1L1428.0 1057.5L1426.3 1056.2L1433.4 1056.5L1428.2 1061.3L1428.6 1059.2L1421.8 1061.7zM1333.8 1077.9L1340.8 1079.0L1340.0 1077.1L1346.0 1080.8L1339.2 1082.4L1340.5 1080.8L1333.5 1079.6zM1371.2 1077.9L1379.1 1077.1L1377.8 1075.4L1384.6 1077.5L1378.4 1080.8L1379.3 1078.9L1371.4 1079.6zM1433.8 1077.9L1440.8 1076.1L1439.2 1074.6L1446.2 1075.6L1440.6 1079.8L1441.2 1077.8L1434.3 1079.6zM1446.4 1095.7L1452.7 1094.1L1451.2 1092.6L1458.2 1093.7L1452.5 1097.9L1453.1 1095.9L1446.8 1097.5zM1346.1 1113.6L1353.2 1112.4L1351.8 1110.8L1358.7 1112.4L1352.7 1116.1L1353.5 1114.2L1346.4 1115.3z" fill="#a0faa1"/>
<path d="M1659.1 685.8L1661.5 678.4L1659.4 678.9L1663.9 673.5L1664.6 680.5L1663.2 678.9L1660.9 686.3zM1809.7 721.6L1810.7 714.8L1808.8 715.6L1812.4 709.6L1814.1 716.4L1812.5 715.0L1811.5 721.9zM1747.0 739.9L1744.4 733.1L1743.1 734.8L1743.2 727.8L1748.1 732.8L1746.0 732.5L1748.7 739.3zM1608.9 793.3L1607.7 786.7L1606.1 788.1L1607.6 781.2L1611.4 787.1L1609.5 786.4L1610.7 793.0zM1621.5 811.3L1619.1 804.6L1617.8 806.2L1618.2 799.2L1622.9 804.4L1620.8 804.0L1623.2 810.7zM1684.2 811.1L1683.8 803.0L1682.0 804.2L1684.4 797.6L1687.4 803.9L1685.6 802.9L1686.0 810.9zM1721.9 811.1L1720.7 803.6L1719.1 804.9L1720.8 798.1L1724.5 804.1L1722.5 803.3L1723.7 810.9zM1734.4 811.1L1733.8 804.1L1732.1 805.3L1734.2 798.6L1737.5 804.9L1735.6 803.9L1736.2 810.9zM1734.4 829.0L1733.4 821.4L1731.7 822.7L1733.5 815.9L1737.1 822.0L1735.2 821.1L1736.2 828.7zM1772.1 828.8L1772.4 821.9L1770.5 822.9L1773.5 816.5L1775.9 823.1L1774.2 821.9L1773.9 828.9zM1822.3 846.6L1822.9 839.5L1821.0 840.4L1824.3 834.2L1826.4 840.9L1824.7 839.6L1824.1 846.8zM1772.1 882.7L1769.9 876.5L1768.6 878.1L1769.0 871.1L1773.7 876.3L1771.6 875.9L1773.8 882.1zM1784.6 882.6L1783.2 875.0L1781.6 876.5L1783.1 869.6L1786.9 875.4L1785.0 874.7L1786.4 882.2zM1734.4 900.4L1732.9 893.2L1731.4 894.6L1732.7 887.7L1736.7 893.5L1734.7 892.8L1736.2 900.1zM1308.4 917.2L1315.1 916.4L1313.8 914.7L1320.6 916.6L1314.5 920.1L1315.3 918.2L1308.7 919.0zM1321.0 917.2L1328.4 916.1L1327.1 914.5L1333.9 916.1L1327.9 919.8L1328.7 917.8L1321.2 919.0zM1333.5 935.1L1341.6 933.7L1340.2 932.1L1347.0 933.7L1341.1 937.5L1341.8 935.5L1333.8 936.8zM1747.0 935.7L1748.9 929.1L1746.8 929.6L1751.2 924.1L1752.0 931.1L1750.6 929.6L1748.7 936.2zM1772.1 953.9L1771.0 947.5L1769.4 948.8L1771.0 942.0L1774.7 947.9L1772.8 947.2L1773.9 953.7zM1358.5 970.8L1366.2 968.9L1364.7 967.4L1371.6 968.4L1366.0 972.6L1366.6 970.6L1359.0 972.5zM1396.3 970.8L1403.3 969.5L1401.9 967.9L1408.8 969.3L1402.9 973.2L1403.6 971.2L1396.6 972.5zM1408.9 970.8L1415.9 970.1L1414.6 968.4L1421.3 970.4L1415.1 973.8L1416.0 971.9L1409.1 972.5zM1433.9 970.8L1441.2 969.6L1439.8 968.0L1446.7 969.6L1440.7 973.3L1441.5 971.4L1434.2 972.5zM1822.3 971.4L1823.9 965.1L1821.9 965.7L1826.1 960.1L1827.1 967.0L1825.7 965.5L1824.1 971.9zM1421.3 988.6L1429.2 986.9L1427.8 985.4L1434.7 986.7L1428.9 990.7L1429.6 988.7L1421.7 990.4zM1458.9 988.6L1465.9 986.8L1464.4 985.3L1471.4 986.2L1465.8 990.5L1466.4 988.5L1459.4 990.4zM1358.6 1006.5L1366.0 1004.9L1364.6 1003.3L1371.5 1004.6L1365.7 1008.6L1366.4 1006.6L1358.9 1008.2zM1434.1 1006.5L1442.3 1006.4L1441.2 1004.6L1447.8 1007.3L1441.3 1010.0L1442.4 1008.2L1434.1 1008.2zM1459.1 1006.5L1465.9 1006.0L1464.6 1004.3L1471.3 1006.6L1465.0 1009.7L1466.0 1007.8L1459.2 1008.2zM1383.8 1024.3L1392.0 1024.0L1390.8 1022.2L1397.4 1024.6L1391.1 1027.6L1392.1 1025.8L1383.9 1026.1zM1396.3 1042.2L1404.3 1041.2L1403.0 1039.5L1409.7 1041.4L1403.6 1044.9L1404.5 1043.0L1396.5 1043.9zM1484.4 1042.2L1491.5 1042.8L1490.6 1040.9L1496.8 1044.1L1490.1 1046.3L1491.4 1044.6L1484.2 1043.9zM1333.4 1060.0L1341.0 1058.1L1339.5 1056.6L1346.5 1057.6L1340.8 1061.9L1341.5 1059.8L1333.9 1061.8zM1471.7 1060.0L1478.7 1059.6L1477.5 1057.9L1484.2 1060.2L1477.8 1063.2L1478.8 1061.4L1471.8 1061.8zM1484.2 1060.0L1491.4 1059.4L1490.2 1057.7L1496.9 1059.9L1490.6 1063.1L1491.6 1061.2L1484.3 1061.8zM1345.9 1077.9L1352.2 1075.9L1350.6 1074.5L1357.6 1075.0L1352.3 1079.6L1352.8 1077.6L1346.5 1079.6zM1383.8 1077.9L1391.3 1077.3L1390.1 1075.6L1396.7 1077.8L1390.5 1081.0L1391.4 1079.1L1383.9 1079.6zM1396.2 1077.9L1403.9 1076.1L1402.4 1074.6L1409.4 1075.7L1403.7 1079.8L1404.3 1077.8L1396.6 1079.6zM1446.7 1077.9L1453.5 1078.6L1452.6 1076.7L1458.7 1080.1L1452.0 1082.1L1453.3 1080.4L1446.5 1079.6zM1321.0 1095.7L1328.3 1094.6L1326.9 1093.0L1333.7 1094.7L1327.7 1098.3L1328.5 1096.4L1321.2 1097.5zM1333.5 1095.7L1341.3 1094.1L1339.8 1092.6L1346.7 1093.9L1340.9 1097.8L1341.6 1095.9L1333.8 1097.5z" fill="#b0f397"/>
<path d="M1621.5 686.1L1620.9 679.2L1619.2 680.5L1621.3 673.8L1624.6 680.0L1622.7 679.1L1623.2 686.0zM1634.0 685.9L1635.1 679.0L1633.2 679.8L1636.8 673.8L1638.5 680.7L1636.9 679.3L1635.8 686.2zM1646.6 703.8L1647.8 695.9L1645.9 696.7L1649.5 690.8L1651.2 697.6L1649.6 696.2L1648.3 704.0zM1734.4 703.8L1735.2 695.7L1733.3 696.6L1736.6 690.4L1738.7 697.1L1737.0 695.8L1736.2 704.0zM1709.3 721.8L1709.3 714.0L1707.5 715.1L1710.2 708.6L1712.9 715.1L1711.1 714.0L1711.1 721.7zM1797.2 721.8L1796.9 713.7L1795.1 714.8L1797.6 708.3L1800.5 714.6L1798.7 713.6L1799.0 721.7zM1659.1 739.5L1659.5 733.0L1657.6 734.0L1660.7 727.6L1663.0 734.3L1661.3 733.1L1660.9 739.7zM1797.2 739.6L1797.6 732.3L1795.7 733.3L1798.7 727.0L1801.1 733.6L1799.3 732.4L1799.0 739.6zM1671.7 775.2L1672.4 768.0L1670.5 768.9L1673.9 762.7L1675.9 769.5L1674.2 768.2L1673.5 775.4zM1784.6 810.9L1785.2 803.9L1783.3 804.8L1786.4 798.6L1788.7 805.2L1786.9 804.0L1786.4 811.1zM1684.2 828.7L1685.6 820.7L1683.6 821.5L1687.4 815.5L1689.0 822.4L1687.4 821.0L1686.0 829.0zM1696.8 828.7L1697.9 821.0L1696.0 821.8L1699.6 815.7L1701.3 822.6L1699.7 821.2L1698.6 829.0zM1809.7 846.8L1808.7 839.4L1807.1 840.7L1808.9 833.9L1812.4 840.0L1810.5 839.1L1811.5 846.6zM1684.2 864.8L1682.5 858.4L1681.0 859.9L1681.9 852.9L1686.2 858.5L1684.2 857.9L1686.0 864.3zM1721.9 864.6L1721.5 856.7L1719.7 857.9L1722.1 851.3L1725.1 857.6L1723.3 856.6L1723.7 864.5zM1709.3 882.4L1709.3 874.8L1707.5 875.9L1710.1 869.3L1712.9 875.8L1711.1 874.7L1711.1 882.4zM1734.4 882.4L1734.6 874.1L1732.8 875.2L1735.6 868.8L1738.2 875.3L1736.4 874.2L1736.2 882.4zM1709.3 900.1L1710.3 893.0L1708.4 893.8L1712.0 887.8L1713.7 894.6L1712.1 893.3L1711.1 900.4zM1747.0 900.2L1747.6 893.7L1745.7 894.6L1749.0 888.4L1751.1 895.1L1749.4 893.8L1748.8 900.3zM1759.5 900.4L1758.2 893.7L1756.6 895.2L1758.0 888.3L1761.9 894.1L1759.9 893.4L1761.3 900.1zM1295.7 917.2L1302.7 914.9L1301.1 913.5L1308.1 914.0L1302.8 918.6L1303.3 916.6L1296.3 919.0zM1759.6 918.4L1757.3 911.2L1755.9 912.8L1756.5 905.7L1761.1 911.1L1759.0 910.6L1761.3 917.8zM1772.1 917.9L1774.0 910.6L1772.0 911.2L1776.3 905.6L1777.2 912.6L1775.8 911.1L1773.8 918.3zM1797.2 918.1L1796.8 910.8L1795.1 912.0L1797.4 905.4L1800.4 911.8L1798.6 910.7L1799.0 918.1zM1434.3 935.1L1441.8 936.6L1441.1 934.6L1446.9 938.6L1440.0 939.9L1441.5 938.4L1433.9 936.8zM1784.6 935.9L1784.7 927.7L1782.9 928.8L1785.6 922.3L1788.3 928.8L1786.5 927.7L1786.4 936.0zM1809.7 935.9L1809.9 928.7L1808.1 929.8L1810.9 923.3L1813.5 929.9L1811.7 928.7L1811.5 936.0zM1346.0 952.9L1353.1 951.2L1351.6 949.7L1358.5 950.8L1352.9 955.0L1353.5 952.9L1346.4 954.7zM1408.8 952.9L1415.5 951.3L1414.1 949.8L1421.0 951.0L1415.3 955.1L1416.0 953.1L1409.2 954.7zM1434.0 952.9L1440.9 952.4L1439.6 950.7L1446.3 952.9L1440.0 956.1L1441.0 954.2L1434.1 954.7zM1822.3 953.8L1822.6 946.9L1820.8 947.9L1823.8 941.6L1826.2 948.2L1824.4 947.0L1824.1 953.8zM1384.0 970.8L1391.9 971.7L1391.0 969.7L1397.2 973.2L1390.4 975.1L1391.7 973.5L1383.8 972.5zM1421.4 970.8L1428.6 969.7L1427.3 968.1L1434.1 969.8L1428.1 973.4L1428.9 971.5L1421.7 972.5zM1383.9 988.6L1390.8 989.0L1389.8 987.1L1396.2 990.2L1389.5 992.5L1390.7 990.8L1383.8 990.4zM1396.4 1024.3L1403.2 1023.9L1402.0 1022.2L1408.6 1024.5L1402.3 1027.6L1403.3 1025.7L1396.5 1026.1zM1446.7 1024.3L1454.0 1024.9L1453.1 1023.0L1459.3 1026.2L1452.6 1028.4L1453.9 1026.7L1446.6 1026.1zM1484.4 1024.3L1490.9 1025.4L1490.2 1023.4L1496.1 1027.2L1489.3 1028.8L1490.7 1027.2L1484.1 1026.1zM1471.7 1042.2L1479.5 1041.5L1478.2 1039.8L1484.9 1042.0L1478.7 1045.2L1479.6 1043.3L1471.8 1043.9zM1358.8 1060.0L1366.7 1060.8L1365.8 1058.9L1372.0 1062.2L1365.2 1064.3L1366.5 1062.6L1358.7 1061.8zM1295.9 1077.9L1302.6 1077.2L1301.3 1075.5L1308.1 1077.5L1301.9 1080.8L1302.8 1078.9L1296.1 1079.6zM1458.9 1077.9L1466.6 1075.4L1465.0 1074.0L1472.0 1074.6L1466.6 1079.2L1467.1 1077.1L1459.5 1079.6zM1295.7 1095.8L1303.2 1093.1L1301.6 1091.8L1308.6 1092.1L1303.4 1096.8L1303.8 1094.8L1296.3 1097.4zM1346.2 1095.7L1353.6 1096.0L1352.5 1094.1L1358.9 1097.1L1352.3 1099.5L1353.5 1097.8L1346.2 1097.5zM1358.7 1095.7L1365.8 1095.2L1364.6 1093.5L1371.3 1095.7L1365.0 1098.9L1365.9 1097.0L1358.8 1097.5z" fill="#c0eb8d"/>
<path d="M1646.6 686.2L1645.4 679.1L1643.8 680.5L1645.4 673.7L1649.1 679.6L1647.2 678.8L1648.3 685.9zM1696.8 686.2L1695.5 679.1L1693.9 680.5L1695.4 673.6L1699.2 679.6L1697.3 678.8L1698.5 685.9zM1684.2 703.7L1686.0 695.8L1684.0 696.4L1688.0 690.7L1689.3 697.6L1687.7 696.1L1686.0 704.1zM1809.7 703.8L1810.5 695.8L1808.6 696.7L1811.9 690.5L1814.0 697.2L1812.3 695.9L1811.5 704.0zM1822.3 703.9L1822.0 695.7L1820.3 696.9L1822.7 690.3L1825.7 696.7L1823.8 695.7L1824.1 703.9zM1608.9 721.8L1608.8 713.5L1607.0 714.6L1609.6 708.1L1612.4 714.6L1610.6 713.5L1610.7 721.7zM1634.0 721.7L1634.1 715.2L1632.3 716.3L1635.1 709.9L1637.7 716.4L1635.9 715.3L1635.8 721.8zM1671.7 739.7L1671.1 732.3L1669.4 733.6L1671.6 726.9L1674.8 733.2L1672.9 732.2L1673.5 739.5zM1646.6 757.4L1646.7 750.9L1644.9 752.0L1647.7 745.5L1650.3 752.1L1648.5 751.0L1648.4 757.5zM1797.2 757.4L1797.8 750.4L1795.9 751.4L1799.1 745.1L1801.3 751.8L1799.5 750.6L1799.0 757.5zM1721.9 775.3L1721.4 767.3L1719.7 768.5L1722.0 761.8L1725.1 768.2L1723.2 767.2L1723.7 775.3zM1822.3 775.4L1821.8 768.8L1820.1 770.0L1822.4 763.3L1825.5 769.6L1823.6 768.7L1824.1 775.2zM1709.3 793.2L1709.0 785.6L1707.2 786.7L1709.6 780.1L1712.6 786.5L1710.8 785.5L1711.1 793.1zM1809.7 793.0L1811.0 785.5L1809.0 786.3L1812.8 780.3L1814.4 787.2L1812.8 785.8L1811.5 793.3zM1671.7 810.9L1672.9 803.0L1670.9 803.8L1674.6 797.8L1676.3 804.6L1674.7 803.3L1673.4 811.1zM1797.2 811.1L1796.4 803.1L1794.7 804.4L1796.7 797.6L1800.1 803.8L1798.2 802.9L1799.0 810.9zM1809.7 810.9L1810.4 803.7L1808.5 804.6L1811.8 798.4L1813.9 805.1L1812.2 803.9L1811.5 811.1zM1709.3 828.8L1709.9 821.0L1708.0 822.0L1711.2 815.7L1713.4 822.4L1711.7 821.1L1711.1 828.9zM1671.7 846.7L1671.4 839.6L1669.6 840.8L1672.1 834.2L1675.0 840.6L1673.2 839.5L1673.5 846.7zM1684.2 846.9L1682.7 839.1L1681.2 840.5L1682.6 833.6L1686.5 839.5L1684.5 838.7L1686.0 846.5zM1797.2 846.5L1798.6 840.1L1796.6 840.8L1800.7 835.1L1801.9 842.0L1800.4 840.5L1799.0 846.9zM1772.1 864.8L1770.2 858.6L1768.8 860.2L1769.4 853.2L1773.9 858.6L1771.9 858.1L1773.8 864.3zM1747.0 882.6L1745.8 876.1L1744.3 877.5L1745.8 870.6L1749.6 876.5L1747.6 875.8L1748.8 882.2zM1809.7 900.3L1809.3 892.5L1807.6 893.7L1809.9 887.1L1813.0 893.4L1811.1 892.4L1811.5 900.2zM1308.4 935.1L1315.2 934.3L1313.9 932.6L1320.7 934.5L1314.6 938.0L1315.4 936.0L1308.7 936.8zM1320.9 935.1L1328.3 933.4L1326.8 931.9L1333.7 933.1L1328.0 937.2L1328.7 935.2L1321.3 936.8zM1759.5 935.8L1760.4 928.5L1758.4 929.4L1761.9 923.3L1763.8 930.0L1762.2 928.7L1761.3 936.1zM1822.3 936.1L1820.7 928.3L1819.1 929.8L1820.4 922.9L1824.4 928.7L1822.4 927.9L1824.1 935.8zM1320.9 952.9L1327.6 951.6L1326.1 950.0L1333.0 951.4L1327.2 955.3L1327.9 953.3L1321.3 954.7zM1333.5 952.9L1340.3 951.4L1338.8 949.9L1345.7 951.1L1340.0 955.1L1340.7 953.1L1333.9 954.7zM1371.3 952.9L1378.5 952.9L1377.4 951.1L1383.9 953.8L1377.4 956.5L1378.5 954.7L1371.3 954.7zM1446.3 988.7L1453.5 985.8L1451.8 984.5L1458.9 984.6L1453.8 989.5L1454.2 987.4L1447.0 990.3zM1471.5 988.6L1478.7 986.6L1477.2 985.1L1484.1 986.0L1478.6 990.3L1479.2 988.3L1472.0 990.4zM1358.6 1024.3L1365.1 1023.2L1363.7 1021.6L1370.5 1023.1L1364.6 1026.9L1365.4 1025.0L1358.9 1026.1zM1371.2 1024.3L1378.4 1023.0L1377.0 1021.4L1383.9 1022.9L1378.0 1026.7L1378.8 1024.8L1371.5 1026.1zM1459.3 1024.3L1465.9 1024.9L1465.0 1023.0L1471.2 1026.2L1464.5 1028.4L1465.8 1026.7L1459.1 1026.1zM1295.9 1042.2L1303.3 1041.1L1302.0 1039.5L1308.8 1041.3L1302.7 1044.9L1303.5 1042.9L1296.1 1043.9zM1320.8 1042.2L1327.6 1039.7L1325.9 1038.4L1332.9 1038.7L1327.8 1043.5L1328.2 1041.4L1321.4 1043.9zM1371.1 1060.0L1377.7 1058.8L1376.3 1057.2L1383.1 1058.7L1377.3 1062.5L1378.0 1060.6L1371.5 1061.8zM1308.5 1095.7L1316.5 1095.2L1315.3 1093.5L1321.9 1095.8L1315.6 1098.9L1316.6 1097.0L1308.6 1097.5z" fill="#d0e082"/>
<path d="M1671.7 685.9L1673.1 678.3L1671.1 679.0L1675.0 673.2L1676.4 680.0L1674.9 678.6L1673.4 686.2zM1809.7 685.9L1810.5 679.3L1808.6 680.2L1812.0 674.0L1813.9 680.8L1812.3 679.5L1811.5 686.2zM1797.2 703.9L1797.0 696.1L1795.3 697.3L1797.8 690.7L1800.7 697.2L1798.8 696.1L1799.0 703.9zM1646.6 721.7L1647.3 714.3L1645.4 715.2L1648.7 709.0L1650.8 715.7L1649.1 714.5L1648.4 721.8zM1721.9 721.8L1721.2 714.8L1719.5 716.1L1721.5 709.3L1724.9 715.5L1723.0 714.6L1723.7 721.7zM1759.5 721.9L1758.5 714.1L1756.8 715.5L1758.7 708.6L1762.2 714.7L1760.3 713.9L1761.3 721.6zM1772.1 721.8L1772.1 714.3L1770.3 715.4L1773.0 708.9L1775.7 715.4L1773.9 714.3L1773.9 721.7zM1822.3 721.8L1822.2 714.6L1820.4 715.7L1823.1 709.2L1825.8 715.7L1824.0 714.6L1824.1 721.7zM1734.4 739.7L1733.6 732.9L1731.9 734.2L1733.8 727.4L1737.3 733.5L1735.3 732.6L1736.2 739.5zM1809.7 739.4L1811.1 732.5L1809.1 733.2L1813.1 727.3L1814.4 734.2L1812.9 732.8L1811.5 739.8zM1822.3 739.6L1822.0 731.4L1820.2 732.6L1822.7 726.0L1825.6 732.4L1823.8 731.3L1824.1 739.6zM1659.1 757.4L1659.2 749.2L1657.4 750.3L1660.2 743.8L1662.8 750.4L1661.0 749.2L1660.9 757.5zM1759.5 757.5L1759.0 749.7L1757.3 750.9L1759.5 744.2L1762.7 750.5L1760.8 749.6L1761.3 757.4zM1772.1 757.5L1771.6 750.5L1769.9 751.8L1772.1 745.1L1775.3 751.4L1773.4 750.4L1773.9 757.4zM1784.6 757.6L1783.7 750.7L1782.0 752.0L1783.8 745.2L1787.4 751.3L1785.4 750.4L1786.4 757.3zM1809.7 757.6L1808.4 749.6L1806.8 750.9L1808.4 744.1L1812.1 750.0L1810.2 749.3L1811.5 757.3zM1747.0 775.1L1748.7 767.2L1746.7 767.9L1750.7 762.1L1752.0 769.0L1750.4 767.5L1748.8 775.5zM1784.7 775.0L1787.1 768.7L1785.0 769.1L1789.9 764.0L1790.1 771.0L1788.8 769.4L1786.4 775.6zM1797.2 775.0L1799.8 767.2L1797.7 767.7L1802.3 762.3L1802.9 769.4L1801.5 767.8L1798.9 775.6zM1721.9 793.3L1720.5 785.7L1718.9 787.2L1720.4 780.3L1724.2 786.2L1722.3 785.4L1723.7 793.0zM1759.6 792.9L1761.7 786.5L1759.7 786.9L1764.3 781.6L1764.8 788.7L1763.4 787.1L1761.3 793.4zM1784.6 793.2L1784.1 786.5L1782.4 787.8L1784.6 781.1L1787.8 787.4L1785.9 786.4L1786.4 793.1zM1822.3 793.0L1823.7 784.9L1821.7 785.7L1825.5 779.8L1827.0 786.6L1825.5 785.2L1824.1 793.3zM1709.3 811.0L1709.1 804.5L1707.4 805.6L1709.9 799.0L1712.8 805.5L1710.9 804.4L1711.1 811.0zM1772.1 811.1L1771.6 804.1L1769.8 805.3L1772.0 798.6L1775.2 804.9L1773.3 803.9L1773.9 810.9zM1747.0 828.8L1747.8 821.2L1745.9 822.1L1749.3 815.9L1751.3 822.6L1749.6 821.4L1748.8 828.9zM1696.8 846.8L1695.5 839.4L1693.9 840.7L1695.5 833.9L1699.3 839.9L1697.3 839.1L1698.6 846.6zM1747.0 846.5L1748.7 839.2L1746.7 839.8L1750.9 834.2L1752.0 841.1L1750.5 839.6L1748.7 846.9zM1772.1 846.7L1772.1 839.4L1770.3 840.4L1773.0 834.0L1775.7 840.5L1773.9 839.4L1773.9 846.7zM1747.0 864.8L1745.2 857.2L1743.7 858.7L1744.9 851.7L1749.0 857.4L1747.0 856.8L1748.7 864.3zM1759.6 864.3L1761.2 857.6L1759.2 858.2L1763.4 852.6L1764.4 859.5L1763.0 858.0L1761.3 864.8zM1784.7 864.8L1782.3 857.2L1780.9 858.8L1781.5 851.8L1786.1 857.2L1784.0 856.7L1786.4 864.3zM1797.2 882.6L1795.8 876.0L1794.3 877.4L1795.6 870.5L1799.6 876.3L1797.6 875.6L1799.0 882.2zM1772.1 900.4L1770.4 892.7L1768.9 894.1L1770.1 887.2L1774.2 893.0L1772.2 892.3L1773.9 900.1zM1784.6 900.4L1783.0 892.9L1781.4 894.3L1782.7 887.4L1786.7 893.2L1784.7 892.5L1786.4 900.1zM1784.6 918.0L1785.3 910.0L1783.4 910.9L1786.6 904.7L1788.8 911.4L1787.1 910.1L1786.4 918.2zM1346.1 935.1L1354.1 934.5L1352.9 932.8L1359.6 935.1L1353.3 938.2L1354.3 936.3L1346.3 936.8zM1797.2 936.0L1796.9 929.3L1795.2 930.5L1797.6 923.9L1800.6 930.2L1798.7 929.2L1799.0 935.9zM1371.1 970.8L1378.4 968.9L1376.9 967.5L1383.9 968.5L1378.3 972.7L1378.9 970.7L1371.5 972.5zM1371.1 988.6L1377.7 986.6L1376.1 985.2L1383.1 985.9L1377.7 990.4L1378.2 988.4L1371.6 990.4zM1333.1 1006.6L1338.3 1002.7L1336.4 1001.9L1343.2 1000.1L1339.6 1006.2L1339.4 1004.1L1334.2 1008.1zM1346.2 1006.5L1354.3 1006.6L1353.2 1004.8L1359.7 1007.6L1353.1 1010.2L1354.3 1008.4L1346.2 1008.2zM1371.2 1006.5L1379.1 1005.8L1377.9 1004.1L1384.6 1006.3L1378.3 1009.5L1379.3 1007.6L1371.4 1008.2zM1396.4 1006.5L1404.2 1006.2L1403.1 1004.5L1409.6 1007.0L1403.2 1009.9L1404.3 1008.0L1396.4 1008.2zM1346.1 1060.0L1353.8 1059.2L1352.5 1057.5L1359.3 1059.5L1353.1 1062.9L1354.0 1061.0L1346.3 1061.8zM1358.7 1077.9L1365.7 1077.6L1364.5 1075.9L1371.1 1078.3L1364.7 1081.3L1365.7 1079.4L1358.8 1079.6z" fill="#e0d377"/>
<path d="M1772.1 686.0L1772.6 679.0L1770.8 680.0L1774.0 673.7L1776.1 680.4L1774.4 679.2L1773.9 686.1zM1822.3 685.9L1823.3 678.0L1821.3 678.9L1824.8 672.8L1826.7 679.5L1825.0 678.2L1824.1 686.2zM1659.1 704.0L1658.1 697.2L1656.5 698.5L1658.1 691.7L1661.8 697.7L1659.8 696.9L1660.9 703.8zM1759.5 703.9L1759.4 697.2L1757.6 698.4L1760.1 691.8L1763.0 698.2L1761.2 697.2L1761.3 703.9zM1659.1 721.8L1658.7 715.3L1657.0 716.5L1659.3 709.9L1662.4 716.2L1660.5 715.2L1660.9 721.7zM1671.7 721.8L1671.7 714.5L1669.9 715.6L1672.5 709.1L1675.3 715.6L1673.5 714.5L1673.5 721.7zM1684.2 721.8L1684.0 714.7L1682.2 715.9L1684.7 709.3L1687.6 715.7L1685.8 714.7L1686.0 721.7zM1747.0 721.7L1747.3 713.7L1745.4 714.8L1748.4 708.4L1750.8 715.0L1749.1 713.8L1748.8 721.8zM1784.7 721.5L1787.0 713.9L1785.0 714.4L1789.5 709.0L1790.1 716.0L1788.8 714.4L1786.4 722.0zM1696.8 739.7L1695.9 732.1L1694.3 733.3L1696.3 726.6L1699.6 732.8L1697.7 731.9L1698.6 739.5zM1696.8 757.4L1697.1 750.1L1695.2 751.1L1698.2 744.7L1700.6 751.3L1698.9 750.1L1698.6 757.5zM1747.0 757.5L1746.9 750.9L1745.1 752.0L1747.7 745.4L1750.5 751.9L1748.6 750.8L1748.8 757.4zM1709.4 775.6L1707.2 768.6L1705.8 770.2L1706.5 763.2L1711.0 768.6L1708.9 768.1L1711.1 775.0zM1734.4 775.2L1735.0 768.7L1733.1 769.6L1736.4 763.4L1738.5 770.1L1736.8 768.9L1736.2 775.4zM1772.1 775.2L1772.9 768.2L1771.0 769.1L1774.4 763.0L1776.4 769.7L1774.7 768.4L1773.9 775.4zM1809.7 775.3L1810.2 767.1L1808.3 768.1L1811.4 761.7L1813.7 768.4L1812.0 767.2L1811.5 775.3zM1684.2 793.0L1685.2 785.8L1683.3 786.6L1686.9 780.6L1688.7 787.4L1687.0 786.1L1686.0 793.3zM1734.4 793.1L1734.5 786.6L1732.7 787.7L1735.5 781.2L1738.1 787.7L1736.3 786.6L1736.2 793.2zM1797.2 793.0L1798.2 785.5L1796.3 786.4L1799.8 780.3L1801.6 787.1L1800.0 785.8L1799.0 793.3zM1747.0 811.0L1746.6 803.2L1744.9 804.4L1747.3 797.7L1750.3 804.1L1748.4 803.1L1748.8 811.0zM1822.3 810.7L1824.4 803.9L1822.4 804.4L1826.9 799.0L1827.6 806.1L1826.2 804.5L1824.0 811.3zM1759.5 829.0L1758.6 821.1L1756.9 822.4L1758.8 815.6L1762.3 821.8L1760.3 820.9L1761.3 828.7zM1784.6 828.7L1785.7 821.2L1783.8 822.0L1787.4 816.0L1789.1 822.8L1787.5 821.4L1786.4 829.0zM1797.2 828.7L1798.8 820.7L1796.8 821.4L1800.7 815.5L1802.1 822.4L1800.5 821.0L1799.0 829.0zM1822.3 828.7L1823.6 820.6L1821.6 821.4L1825.3 815.4L1827.0 822.2L1825.4 820.8L1824.1 829.0zM1759.5 846.7L1759.3 840.0L1757.6 841.1L1760.1 834.6L1763.0 841.0L1761.1 839.9L1761.3 846.7zM1797.2 864.7L1795.5 857.1L1794.0 858.6L1795.2 851.7L1799.3 857.4L1797.3 856.7L1799.0 864.4zM1822.3 864.8L1820.4 857.5L1818.9 859.0L1819.9 852.0L1824.2 857.6L1822.1 857.0L1824.1 864.3zM1759.5 882.5L1758.8 874.4L1757.1 875.7L1759.2 868.9L1762.5 875.2L1760.6 874.2L1761.3 882.3zM1797.2 900.4L1795.8 893.0L1794.2 894.4L1795.6 887.5L1799.5 893.4L1797.5 892.6L1799.0 900.1zM1809.7 918.1L1809.9 911.1L1808.1 912.1L1811.0 905.7L1813.5 912.2L1811.7 911.1L1811.5 918.1zM1308.3 970.8L1315.1 969.1L1313.6 967.6L1320.5 968.7L1314.9 972.9L1315.5 970.8L1308.8 972.5zM1321.0 970.8L1329.1 969.8L1327.8 968.1L1334.6 970.0L1328.5 973.5L1329.3 971.5L1321.2 972.5zM1333.6 988.6L1340.2 987.8L1338.9 986.2L1345.7 988.1L1339.5 991.6L1340.4 989.6L1333.8 990.4zM1308.6 1042.2L1316.8 1042.1L1315.7 1040.3L1322.2 1043.0L1315.7 1045.7L1316.8 1043.9L1308.6 1043.9zM1296.0 1060.0L1304.0 1059.8L1302.8 1058.0L1309.4 1060.5L1303.0 1063.4L1304.0 1061.6L1296.0 1061.8zM1321.1 1060.0L1328.5 1059.9L1327.4 1058.1L1333.9 1060.7L1327.5 1063.5L1328.5 1061.7L1321.1 1061.8z" fill="#f0c46c"/>
<path d="M1684.2 686.3L1682.0 678.7L1680.6 680.3L1681.4 673.3L1685.8 678.8L1683.8 678.2L1686.0 685.8zM1747.0 686.1L1746.5 679.5L1744.8 680.7L1747.0 674.0L1750.2 680.3L1748.3 679.3L1748.8 686.0zM1759.5 686.0L1759.8 678.0L1758.0 679.0L1760.9 672.6L1763.4 679.2L1761.6 678.0L1761.3 686.1zM1696.8 703.7L1698.1 696.4L1696.1 697.2L1699.9 691.3L1701.4 698.2L1699.9 696.8L1698.5 704.1zM1709.3 703.7L1710.9 696.6L1708.9 697.3L1712.9 691.5L1714.2 698.4L1712.6 696.9L1711.1 704.1zM1721.9 703.8L1723.2 695.7L1721.2 696.5L1724.9 690.5L1726.5 697.3L1724.9 695.9L1723.7 704.0zM1772.1 703.8L1772.6 696.9L1770.7 697.9L1773.9 691.6L1776.1 698.3L1774.4 697.1L1773.9 704.0zM1784.6 704.0L1783.4 696.2L1781.8 697.6L1783.5 690.7L1787.2 696.8L1785.2 695.9L1786.4 703.8zM1734.4 721.8L1733.9 714.0L1732.1 715.3L1734.4 708.6L1737.5 714.9L1735.6 713.9L1736.2 721.7zM1684.2 739.5L1684.7 731.7L1682.8 732.7L1685.9 726.4L1688.2 733.0L1686.5 731.8L1686.0 739.7zM1759.5 739.6L1759.3 733.0L1757.5 734.1L1760.0 727.5L1762.9 733.9L1761.1 732.9L1761.3 739.6zM1772.1 739.5L1772.5 732.6L1770.7 733.6L1773.8 727.3L1776.0 734.0L1774.3 732.7L1773.9 739.7zM1659.1 775.2L1659.9 768.2L1658.0 769.1L1661.3 762.9L1663.3 769.7L1661.6 768.4L1660.9 775.4zM1759.5 775.4L1758.6 768.3L1756.9 769.7L1758.7 762.8L1762.3 768.9L1760.3 768.1L1761.3 775.2zM1696.8 793.2L1696.0 786.7L1694.4 788.0L1696.4 781.2L1699.7 787.4L1697.8 786.5L1698.6 793.1zM1759.5 811.0L1759.4 803.8L1757.6 804.9L1760.2 798.3L1763.0 804.8L1761.2 803.7L1761.3 811.0zM1809.7 828.9L1809.3 821.0L1807.5 822.2L1809.8 815.6L1812.9 821.9L1811.1 820.9L1811.5 828.8zM1784.6 846.8L1783.5 839.5L1781.9 840.9L1783.6 834.0L1787.3 840.1L1785.3 839.3L1786.4 846.6zM1822.3 918.2L1821.7 911.0L1820.0 912.2L1822.2 905.5L1825.4 911.8L1823.5 910.9L1824.1 918.0zM1295.8 935.1L1303.7 933.6L1302.3 932.0L1309.2 933.5L1303.3 937.4L1304.1 935.4L1296.2 936.8zM1295.8 952.9L1302.4 951.3L1300.9 949.8L1307.9 950.9L1302.2 955.0L1302.9 953.0L1296.2 954.7zM1308.3 952.9L1314.6 951.2L1313.1 949.8L1320.1 950.6L1314.5 955.0L1315.1 952.9L1308.8 954.7zM1333.5 970.8L1341.5 969.4L1340.1 967.8L1346.9 969.3L1341.0 973.1L1341.8 971.1L1333.8 972.5zM1345.9 970.8L1352.7 968.5L1351.0 967.2L1358.1 967.7L1352.8 972.3L1353.2 970.2L1346.5 972.5zM1321.0 988.6L1328.4 987.6L1327.0 985.9L1333.8 987.7L1327.8 991.3L1328.6 989.4L1321.2 990.4zM1358.4 988.7L1364.8 986.0L1363.1 984.8L1370.2 984.8L1365.2 989.8L1365.5 987.7L1359.1 990.3zM1320.8 1024.3L1327.1 1022.4L1325.5 1021.0L1332.5 1021.7L1327.1 1026.2L1327.6 1024.2L1321.4 1026.1zM1346.2 1042.2L1353.4 1041.7L1352.2 1040.0L1358.8 1042.2L1352.5 1045.3L1353.5 1043.5L1346.3 1043.9zM1308.5 1060.0L1316.6 1059.7L1315.4 1057.9L1322.0 1060.4L1315.7 1063.3L1316.7 1061.5L1308.6 1061.8zM1308.4 1077.9L1316.4 1076.9L1315.1 1075.3L1321.9 1077.2L1315.7 1080.6L1316.6 1078.7L1308.7 1079.6z" fill="#ffb360"/>
<path d="M1709.3 686.0L1709.7 678.4L1707.9 679.4L1710.9 673.0L1713.3 679.7L1711.5 678.5L1711.1 686.1zM1721.9 686.1L1721.5 679.2L1719.8 680.4L1722.2 673.8L1725.2 680.2L1723.3 679.1L1723.7 686.0zM1784.6 686.0L1785.4 679.3L1783.4 680.2L1786.8 674.0L1788.8 680.8L1787.1 679.5L1786.4 686.1zM1721.9 739.6L1721.6 732.8L1719.9 733.9L1722.3 727.3L1725.3 733.7L1723.4 732.7L1723.7 739.6zM1784.6 739.6L1785.0 731.5L1783.2 732.5L1786.2 726.1L1788.6 732.7L1786.8 731.6L1786.4 739.6zM1671.7 757.7L1669.9 751.1L1668.4 752.6L1669.3 745.6L1673.7 751.2L1671.6 750.6L1673.4 757.2zM1684.2 757.3L1685.5 749.4L1683.5 750.2L1687.2 744.2L1688.9 751.1L1687.2 749.7L1686.0 757.6zM1696.8 775.4L1696.2 768.5L1694.5 769.8L1696.7 763.1L1699.9 769.3L1698.0 768.4L1698.6 775.2zM1671.7 793.1L1671.8 785.6L1670.0 786.6L1672.9 780.2L1675.4 786.8L1673.6 785.6L1673.5 793.2zM1747.0 793.2L1746.3 786.0L1744.6 787.3L1746.7 780.5L1750.0 786.7L1748.1 785.8L1748.8 793.1zM1772.1 793.1L1772.2 786.6L1770.3 787.7L1773.1 781.2L1775.7 787.7L1774.0 786.6L1773.9 793.2zM1822.4 900.6L1819.0 893.6L1817.8 895.4L1817.4 888.4L1822.7 893.1L1820.6 892.8L1824.0 899.9zM1295.8 970.8L1303.2 968.6L1301.7 967.2L1308.7 968.0L1303.2 972.4L1303.7 970.4L1296.2 972.5zM1333.6 1024.3L1341.5 1024.2L1340.4 1022.4L1346.9 1025.1L1340.5 1027.8L1341.6 1026.0L1333.7 1026.1zM1333.5 1042.2L1341.7 1041.1L1340.4 1039.5L1347.2 1041.4L1341.1 1044.9L1342.0 1042.9L1333.8 1043.9zM1320.9 1077.9L1327.4 1076.6L1326.0 1075.1L1332.8 1076.5L1327.0 1080.4L1327.7 1078.4L1321.3 1079.6z" fill="#ffa055"/>
<path d="M1734.4 686.1L1734.0 679.5L1732.3 680.7L1734.6 674.1L1737.7 680.4L1735.8 679.4L1736.2 686.0zM1671.7 703.9L1671.9 696.5L1670.1 697.5L1673.0 691.1L1675.5 697.7L1673.7 696.5L1673.5 703.9zM1696.8 721.8L1696.6 714.3L1694.8 715.5L1697.4 708.9L1700.2 715.3L1698.4 714.3L1698.6 721.7zM1709.3 739.5L1709.7 732.4L1707.9 733.3L1710.9 727.0L1713.3 733.7L1711.5 732.5L1711.1 739.7zM1709.3 757.3L1710.8 750.6L1708.8 751.3L1712.9 745.5L1714.1 752.4L1712.6 751.0L1711.1 757.6zM1734.4 757.2L1736.2 749.6L1734.2 750.2L1738.3 744.5L1739.5 751.5L1738.0 750.0L1736.2 757.7zM1809.8 864.8L1807.8 857.7L1806.4 859.2L1807.3 852.2L1811.6 857.8L1809.6 857.2L1811.5 864.3zM1822.3 882.5L1821.2 874.7L1819.6 876.1L1821.4 869.3L1824.9 875.3L1823.0 874.5L1824.1 882.3zM1295.7 1006.5L1302.9 1003.8L1301.3 1002.5L1308.3 1002.8L1303.1 1007.6L1303.5 1005.5L1296.3 1008.2zM1308.4 1024.3L1315.8 1023.3L1314.5 1021.7L1321.3 1023.5L1315.2 1027.1L1316.0 1025.1L1308.7 1026.1z" fill="#ff8c49"/>
<path d="M1747.0 703.9L1747.1 695.7L1745.3 696.8L1748.1 690.3L1750.7 696.9L1748.9 695.7L1748.8 703.9zM1721.9 757.3L1723.2 750.8L1721.2 751.6L1725.2 745.7L1726.5 752.6L1725.0 751.2L1723.6 757.6zM1308.2 988.7L1314.6 985.5L1312.8 984.4L1319.8 983.9L1315.2 989.2L1315.4 987.1L1309.0 990.3zM1345.9 988.7L1353.0 986.2L1351.3 984.8L1358.4 985.2L1353.1 989.9L1353.6 987.9L1346.5 990.3zM1358.4 1042.2L1364.2 1039.3L1362.4 1038.2L1369.4 1037.7L1364.8 1043.1L1365.0 1041.0L1359.2 1043.9z" fill="#ff763d"/>
<path d="M1308.3 1006.5L1315.5 1004.7L1314.0 1003.2L1321.0 1004.2L1315.3 1008.4L1315.9 1006.4L1308.8 1008.2zM1320.9 1006.5L1328.1 1004.7L1326.6 1003.2L1333.6 1004.3L1327.9 1008.5L1328.6 1006.5L1321.3 1008.2zM1346.3 1024.3L1353.2 1024.9L1352.2 1023.0L1358.5 1026.2L1351.8 1028.4L1353.0 1026.7L1346.1 1026.1z" fill="#ff5f30"/>
<path d="M1295.7 988.7L1302.5 986.0L1300.8 984.7L1307.8 984.8L1302.8 989.7L1303.1 987.6L1296.3 990.3zM1295.9 1024.3L1304.0 1023.0L1302.6 1021.4L1309.5 1023.0L1303.5 1026.7L1304.3 1024.8L1296.1 1026.1z" fill="#ff4724"/>
</g>
<rect x="1284.2" y="662.6" width="544.6" height="539.7" fill="none" stroke="#000" stroke-width="2.6"/>
<text x="1346.4" y="725.6" font-size="24.6" fill="#ffff00">RLFD</text>
<text x="1388.7" y="794.3" font-size="24.6" fill="#ffff00">RLFD</text>
<text x="1554.7" y="926.1" font-size="24.6" fill="#ffff00">RLFD</text>
<text x="1732.5" y="1080.5" font-size="24.6" fill="#ffff00">RLFD</text>
<text x="1466.7" y="1104.7" font-size="24.6" fill="#ffff00">RLFD</text>
<text x="1378.3" y="1128.6" font-size="24.6" fill="#ffff00">RLFD</text>
<text x="1588.5" y="1137.4" font-size="24.6" fill="#ffff00">RLFD</text>
<text x="1518.2" y="770.5" font-size="24.6" fill="#fff">T</text>
<text x="1727.9" y="789.7" font-size="24.6" fill="#fff">T</text>
<text x="1475.1" y="845.4" font-size="24.6" fill="#fff">R</text>
<text x="1336.8" y="880.8" font-size="24.6" fill="#fff">O</text>
<text x="1680.7" y="912.6" font-size="24.6" fill="#fff">T</text>
<text x="1784.4" y="967.2" font-size="24.6" fill="#fff">T</text>
<text x="1450.2" y="977.2" font-size="24.6" fill="#fff">O</text>
<text x="1334.1" y="1019.4" font-size="24.6" fill="#fff">R</text>
<text x="1674.1" y="1024.8" font-size="24.6" fill="#fff">R</text>
<text x="1537.4" y="1041.3" font-size="24.6" fill="#fff">R</text>
<text x="1611.5" y="1084.4" font-size="24.6" fill="#fff">O</text>
<text x="1674.1" y="1112.4" font-size="24.6" fill="#fff">T</text>
<text x="1311.1" y="1142.4" font-size="24.6" fill="#fff">O</text>
<text x="1785.2" y="1145.8" font-size="24.6" fill="#fff">R</text>
<text x="1452.1" y="1168.9" font-size="24.6" fill="#fff">R</text>
<rect x="1740.7" y="1174.9" width="83.8" height="26.9" fill="#fff" stroke="#000" stroke-width="3.2"/>
<text x="1782.8" y="1196.1" font-size="25.6" text-anchor="middle">2nm</text>
<defs><linearGradient id="cbrainbow" x1="0" y1="0" x2="0" y2="1"><stop offset="0.0000" stop-color="#ff0000"/><stop offset="0.0625" stop-color="#ff2f18"/><stop offset="0.1250" stop-color="#ff5f30"/><stop offset="0.1875" stop-color="#ff8c49"/><stop offset="0.2500" stop-color="#ffb360"/><stop offset="0.3125" stop-color="#e0d377"/><stop offset="0.3750" stop-color="#c0eb8d"/><stop offset="0.4375" stop-color="#a0faa1"/><stop offset="0.5000" stop-color="#80ffb4"/><stop offset="0.5625" stop-color="#60fac5"/><stop offset="0.6250" stop-color="#40ecd4"/><stop offset="0.6875" stop-color="#20d5e1"/><stop offset="0.7500" stop-color="#00b5eb"/><stop offset="0.8125" stop-color="#208ef4"/><stop offset="0.8750" stop-color="#4062fa"/><stop offset="0.9375" stop-color="#6032fe"/><stop offset="1.0000" stop-color="#8000ff"/></linearGradient></defs>
<rect x="1870.70" y="661.90" width="26.20" height="540.20" fill="url(#cbrainbow)" stroke="#000" stroke-width="1.8"/>
<text x="1914.3" y="670.6" font-size="23" style="font-family:'DejaVu Sans',sans-serif">0.5</text>
<text x="1914.3" y="778.6" font-size="23" style="font-family:'DejaVu Sans',sans-serif">0.4</text>
<text x="1914.3" y="886.7" font-size="23" style="font-family:'DejaVu Sans',sans-serif">0.3</text>
<text x="1914.3" y="994.7" font-size="23" style="font-family:'DejaVu Sans',sans-serif">0.2</text>
<text x="1914.3" y="1102.8" font-size="23" style="font-family:'DejaVu Sans',sans-serif">0.1</text>
<text x="1914.3" y="1210.8" font-size="23" style="font-family:'DejaVu Sans',sans-serif">0.0</text>
<path d="M1896.90 661.9h8.6M1896.90 769.9h8.6M1896.90 878.0h8.6M1896.90 986.0h8.6M1896.90 1094.1h8.6M1896.90 1202.1h8.6" stroke="#000" stroke-width="1.8"/>
<text x="1966.5" y="940.5" font-size="25.6" text-anchor="middle" transform="rotate(90 1966.5 940.5)">Normalized polar length</text>
</svg></body></html>
